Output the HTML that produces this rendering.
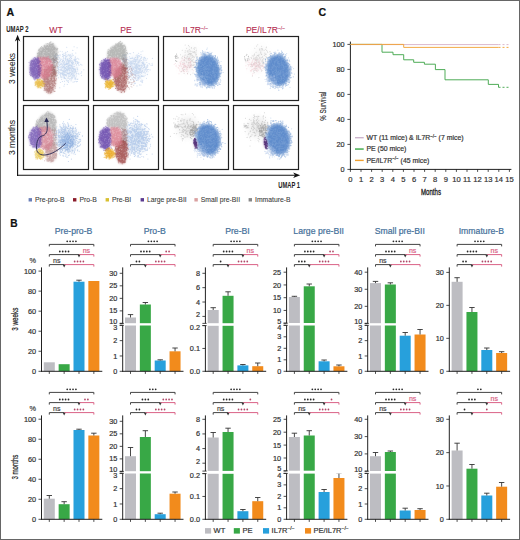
<!DOCTYPE html><html><head><meta charset="utf-8"><style>
html,body{margin:0;padding:0;background:#fff;width:520px;height:540px;overflow:hidden}
svg{display:block}
text{font-family:"Liberation Sans", sans-serif}
</style></head><body>
<svg width="520" height="540" viewBox="0 0 520 540">
<defs>
<filter id="b05" x="-10%" y="-10%" width="120%" height="120%"><feGaussianBlur stdDeviation="0.7"/></filter>
<filter id="b1" x="-50%" y="-50%" width="200%" height="200%"><feGaussianBlur stdDeviation="1.2"/></filter>
<filter id="b2" x="-50%" y="-50%" width="200%" height="200%"><feGaussianBlur stdDeviation="2"/></filter>
<filter id="b3" x="-50%" y="-50%" width="200%" height="200%"><feGaussianBlur stdDeviation="3"/></filter>
</defs>
<rect x="0" y="0" width="520" height="540" fill="#fff"/>

<text x="6.40" y="15.70" font-size="10.6" fill="#111" text-anchor="start" font-weight="bold" stroke="#111" stroke-width="0.2" >A</text>
<text x="10.30" y="227.10" font-size="10.2" fill="#111" text-anchor="start" font-weight="bold" stroke="#111" stroke-width="0.2" >B</text>
<text x="318.60" y="15.90" font-size="10.6" fill="#111" text-anchor="start" font-weight="bold" stroke="#111" stroke-width="0.2" >C</text>
<text x="56.00" y="33.00" font-size="8.6" fill="#b42a4e" text-anchor="middle" font-weight="normal" stroke="#b42a4e" stroke-width="0.08" >WT</text>
<text x="126.00" y="33.00" font-size="8.6" fill="#b42a4e" text-anchor="middle" font-weight="normal" stroke="#b42a4e" stroke-width="0.08" >PE</text>
<text x="195.50" y="33.00" font-size="8.6" fill="#b42a4e" text-anchor="middle" font-weight="normal" stroke="#b42a4e" stroke-width="0.08" >IL7R<tspan font-size="5" dy="-3.2">−/−</tspan></text>
<text x="265.50" y="33.00" font-size="8.6" fill="#b42a4e" text-anchor="middle" font-weight="normal" stroke="#b42a4e" stroke-width="0.08" >PE/IL7R<tspan font-size="5" dy="-3.2">−/−</tspan></text>
<clipPath id="cp00"><rect x="23.5" y="36.5" width="65" height="64"/></clipPath>
<g clip-path="url(#cp00)"><g>
<ellipse cx="68.00" cy="67.50" rx="9.78" ry="12.32" transform="rotate(0 68.00 67.50)" fill="#eef3fa" opacity="0.9" filter="url(#b3)"/>
<path d="M77.1 79.5h0M58.7 67.6h0M57.0 57.2h0M77.4 69.6h0M75.0 79.3h0M72.1 65.0h0M81.6 75.6h0M73.6 75.0h0M77.5 63.5h0M61.2 59.3h0M60.9 77.2h0M60.9 66.9h0M60.2 51.3h0M67.3 73.0h0M69.2 69.2h0M70.4 54.9h0M63.5 57.1h0M55.6 66.3h0M70.7 59.8h0M55.1 62.3h0M74.3 66.5h0M71.1 80.8h0M61.2 64.5h0M63.1 68.1h0M66.2 70.5h0M64.7 64.8h0M68.6 76.1h0M69.8 60.9h0M71.5 62.6h0M69.2 69.1h0M52.5 71.6h0M67.2 73.7h0M71.0 69.7h0M73.4 62.3h0M59.7 72.4h0M76.5 81.8h0M62.6 54.4h0M69.5 73.6h0M73.1 62.9h0M69.9 78.7h0M74.7 69.3h0M70.2 76.1h0M61.6 79.3h0M59.2 69.7h0M72.8 63.5h0M65.8 59.3h0M64.7 74.1h0M69.4 67.7h0M68.4 68.4h0M71.0 67.4h0M56.5 71.3h0M65.7 60.1h0M80.9 73.3h0M75.7 69.6h0M71.9 60.4h0M63.1 63.7h0M65.7 74.9h0M65.4 74.7h0M76.2 74.0h0M71.9 76.8h0M70.0 67.9h0M70.8 61.8h0M65.5 68.2h0M73.1 74.1h0M67.6 59.4h0M69.3 72.3h0M74.0 70.6h0M60.2 60.5h0M75.1 60.7h0M73.0 68.6h0M72.9 50.5h0M71.7 79.2h0M72.7 71.4h0M74.0 68.4h0M65.6 78.6h0M66.7 56.2h0M62.6 67.8h0M69.8 64.5h0M69.9 79.2h0M64.2 78.5h0M67.3 84.5h0M81.9 65.1h0M77.7 62.8h0M60.4 82.5h0M63.2 70.1h0M65.3 75.4h0M67.9 59.0h0M81.6 71.9h0M72.6 70.1h0M60.4 74.1h0M68.4 82.5h0M75.8 53.0h0M67.4 51.6h0M54.2 62.3h0M66.3 64.0h0M66.3 62.0h0M69.9 55.2h0M77.6 61.5h0M75.9 81.2h0M62.8 60.9h0M69.8 70.4h0M58.0 72.2h0M69.7 58.4h0M75.3 60.3h0M68.3 61.3h0M73.8 69.2h0M63.1 75.1h0M70.3 72.2h0M69.6 67.5h0M74.9 78.6h0M68.4 80.9h0M64.9 72.4h0M75.5 71.3h0M75.3 57.7h0M62.9 60.0h0M71.4 74.2h0M65.4 67.5h0M76.4 73.2h0M63.0 62.3h0M68.6 74.0h0M73.6 69.3h0M71.8 71.8h0M60.6 64.1h0M60.0 55.8h0M62.4 81.5h0M60.0 54.8h0M66.0 70.9h0M68.6 68.3h0M64.6 77.5h0M62.8 72.5h0M72.5 64.0h0M74.7 75.1h0M69.7 68.8h0M67.1 67.0h0M72.2 66.2h0M75.7 61.1h0M64.9 55.3h0M78.1 73.2h0M74.1 46.8h0M63.8 55.6h0M73.9 76.9h0M61.2 69.4h0M75.5 70.5h0M69.2 63.0h0M67.3 63.4h0M71.2 56.2h0M68.4 60.2h0M66.9 80.5h0M68.8 63.3h0M68.0 67.5h0M77.4 81.5h0M60.6 75.2h0M64.9 67.6h0M67.4 71.0h0M64.9 64.4h0M60.4 60.3h0M68.1 69.5h0M65.0 63.8h0M62.0 77.0h0M67.1 55.8h0M64.6 84.2h0M69.1 63.0h0M63.2 71.1h0M64.7 66.1h0M66.5 63.9h0M63.0 66.8h0M67.8 73.2h0M73.1 66.7h0M73.9 72.6h0M65.0 75.0h0M62.3 65.2h0M77.7 69.7h0M71.9 74.7h0M69.6 61.3h0M69.1 61.2h0M66.0 64.5h0M72.2 63.7h0M68.3 54.9h0M64.5 81.2h0M64.3 61.5h0M67.3 68.8h0M68.0 63.5h0M62.3 73.9h0M72.1 74.9h0M74.7 59.2h0M66.9 63.8h0M67.8 58.9h0M58.8 62.9h0M69.9 56.1h0M61.8 70.2h0M56.8 61.3h0M71.4 69.3h0M66.3 66.7h0M71.9 56.0h0M65.8 57.9h0M72.8 50.2h0M57.2 67.8h0M74.3 60.2h0M76.3 76.0h0M74.8 59.0h0M65.5 70.8h0M71.5 70.3h0M60.8 59.0h0M64.5 68.8h0M64.3 69.7h0M68.8 66.2h0M75.7 78.9h0M59.5 57.9h0M57.5 75.5h0M59.6 65.6h0M59.9 67.5h0M74.0 76.0h0M61.8 66.9h0M75.3 56.7h0M72.3 77.5h0M77.3 68.3h0M73.8 70.8h0M54.6 71.9h0M71.2 66.9h0M74.4 69.8h0M72.6 67.2h0M58.4 64.7h0M77.8 79.1h0M60.3 73.0h0M69.9 76.3h0M66.0 56.8h0M59.8 64.7h0M66.4 76.0h0M67.9 70.4h0M72.1 61.8h0M69.0 54.9h0M58.3 72.7h0M62.9 71.8h0M66.7 47.2h0M80.8 64.5h0M74.0 71.7h0M70.7 72.7h0M63.7 73.9h0M62.2 67.1h0M78.9 74.1h0M73.9 70.1h0M69.8 79.0h0M58.6 77.8h0M67.6 60.2h0M62.2 61.4h0M73.7 68.8h0M70.9 68.6h0M65.4 68.5h0M71.5 63.0h0M75.5 61.9h0M63.2 74.3h0M76.1 58.8h0M71.9 65.2h0M60.8 73.5h0M67.9 64.8h0M63.5 73.9h0M71.3 73.5h0M61.4 63.3h0M71.5 70.2h0M62.7 56.4h0M72.2 53.9h0M76.5 61.2h0M58.7 71.5h0M71.7 71.7h0M75.6 60.7h0M74.0 59.5h0M80.7 64.2h0M58.7 59.6h0M67.7 66.9h0M63.1 73.8h0M70.7 75.0h0M64.0 86.1h0M65.8 52.4h0M59.8 87.7h0M65.2 58.4h0M57.3 67.3h0M54.8 73.0h0M71.3 66.6h0M74.5 81.7h0M58.1 68.5h0M70.4 72.3h0M75.7 63.5h0M64.4 67.8h0M64.0 76.4h0M72.6 77.9h0M66.5 66.2h0M62.6 72.5h0M74.1 75.5h0M73.9 69.0h0M65.2 70.3h0M59.8 61.6h0M63.7 66.9h0M70.8 65.0h0M78.8 59.1h0M77.2 62.6h0M70.6 57.5h0M61.3 68.7h0M55.2 65.1h0M64.2 71.1h0M63.9 71.2h0M70.1 68.2h0M68.6 65.0h0M68.1 73.8h0M72.2 68.5h0M58.5 70.1h0M65.9 54.3h0M62.8 70.3h0M61.3 77.2h0M66.3 64.2h0M69.6 70.7h0M71.0 67.8h0M63.3 63.6h0M63.6 66.4h0M69.5 65.4h0M63.2 71.1h0M69.4 60.1h0M83.8 69.8h0M75.0 69.0h0M58.8 59.3h0M69.0 76.1h0M75.1 71.6h0M75.8 77.7h0M64.6 71.8h0M64.4 74.9h0M62.9 64.8h0M69.6 65.8h0M66.4 69.8h0M73.1 82.1h0M59.5 61.8h0M77.0 67.7h0M66.3 69.4h0M64.4 77.5h0M63.8 72.0h0M77.0 71.3h0M64.3 65.8h0M58.5 55.6h0M68.0 61.2h0M78.5 63.9h0M65.3 72.0h0M63.4 58.8h0M62.4 70.2h0M69.2 74.1h0M74.5 60.7h0M67.9 60.3h0M78.8 62.4h0M71.5 58.4h0M70.3 65.8h0M72.6 73.5h0M73.2 68.2h0M68.4 69.2h0M61.2 72.8h0M64.1 55.5h0M65.9 68.6h0M61.8 66.8h0M68.1 65.2h0M75.9 72.2h0M66.4 63.4h0M74.0 69.9h0M68.1 78.4h0M66.9 60.0h0M66.9 64.5h0M60.0 74.3h0M66.3 74.9h0M73.1 55.4h0M67.2 73.6h0M73.3 68.8h0M68.1 77.7h0M72.3 68.2h0M70.2 60.7h0M72.2 72.6h0M79.0 65.2h0M70.1 78.6h0M67.3 69.8h0M64.4 64.8h0M64.6 78.5h0M60.7 76.3h0M73.9 73.2h0M62.2 73.6h0M75.3 69.0h0M68.7 73.2h0M75.5 61.4h0M67.5 70.7h0M66.7 80.1h0M63.2 54.7h0M72.0 62.9h0M66.8 72.4h0M62.7 74.0h0M65.6 53.8h0M69.0 62.6h0M59.2 57.8h0M71.8 77.5h0M71.7 77.4h0M68.2 62.1h0M66.7 61.7h0M77.7 58.2h0M68.3 65.7h0M58.7 73.8h0M74.8 77.0h0M75.8 59.4h0M64.0 53.2h0M59.9 62.2h0M62.3 51.7h0M66.6 69.0h0M63.9 75.2h0M63.1 64.3h0M58.3 68.8h0M65.6 56.0h0M73.9 64.3h0M68.3 67.0h0M62.7 73.2h0M62.4 74.8h0M71.4 65.4h0M61.7 73.7h0M70.7 57.2h0M74.4 72.8h0M60.9 70.3h0M61.8 66.7h0M70.1 60.8h0M72.6 61.8h0M72.7 75.9h0M64.8 63.8h0M64.2 62.4h0M71.5 73.8h0M77.1 47.8h0M58.2 63.2h0M76.5 64.9h0M71.7 78.6h0M52.6 64.4h0M65.0 75.1h0M63.5 60.5h0M65.4 64.8h0M58.6 66.6h0M63.9 77.6h0M53.0 67.0h0M65.4 70.9h0M76.2 59.0h0M60.3 69.9h0M58.7 69.3h0M67.4 81.1h0M68.0 69.8h0" stroke="#a0bce4" stroke-opacity="0.5" stroke-width="1.1" stroke-linecap="round" fill="none"/>
<path d="M56.7 61.6h0M54.7 57.7h0M53.4 59.4h0M55.9 58.8h0M56.9 58.0h0M57.1 57.0h0M54.9 61.0h0M56.4 53.7h0M53.8 59.2h0M54.2 55.6h0M54.2 56.2h0M54.8 55.5h0M53.0 60.0h0M55.8 60.7h0M55.3 57.0h0M52.9 60.2h0M52.7 60.2h0M55.1 54.6h0M54.6 56.8h0M56.1 58.3h0M54.6 59.2h0M54.3 56.9h0M55.4 58.9h0M56.2 60.6h0M54.9 62.5h0M54.8 60.6h0M52.7 60.1h0M55.2 61.0h0M55.8 57.8h0M53.2 60.3h0M53.6 61.0h0M56.9 55.8h0M55.3 56.4h0M55.3 54.2h0M57.7 55.3h0M55.0 58.1h0M54.7 59.9h0M56.8 57.6h0M56.8 59.1h0M56.1 56.8h0M54.0 59.6h0M54.1 61.5h0M53.0 59.1h0M53.2 61.1h0M55.3 57.9h0M55.5 56.0h0M55.0 57.0h0M55.2 62.3h0M53.2 60.0h0M55.6 59.2h0" stroke="#8db0dc" stroke-opacity="0.5" stroke-width="1.1" stroke-linecap="round" fill="none"/>
<polygon points="52.2,42.5 57.3,48.5 57.1,60.5 51.5,61.0 43.5,58.5 37.0,58.5 37.3,53.5 39.5,49.0 45.5,45.0" fill="#adadad" opacity="0.61" filter="url(#b1)"/>
<path d="M49.5 54.8h0M52.3 45.0h0M49.6 42.7h0M48.7 49.6h0M49.7 54.5h0M39.3 48.9h0M46.1 55.3h0M43.3 51.2h0M51.8 46.8h0M47.2 52.4h0M52.1 52.5h0M51.6 44.9h0M55.5 53.9h0M53.8 45.0h0M50.5 52.8h0M44.2 45.3h0M46.2 46.7h0M54.9 48.0h0M52.9 53.0h0M39.0 54.1h0M40.8 55.8h0M51.1 50.6h0M55.9 53.7h0M38.0 53.4h0M52.1 46.8h0M50.6 49.7h0M53.2 54.3h0M47.2 53.9h0M44.8 46.2h0M44.9 54.1h0M37.6 57.4h0M53.2 57.1h0M45.9 54.9h0M45.9 47.9h0M54.2 52.9h0M54.3 59.6h0M49.9 48.6h0M52.9 54.4h0M50.2 47.3h0M47.1 52.3h0M49.3 46.5h0M41.2 56.7h0M51.5 51.5h0M41.5 46.6h0M45.6 54.3h0M48.2 56.9h0M49.1 49.3h0M49.5 59.0h0M51.7 59.3h0M49.9 57.7h0M49.6 45.4h0M49.7 57.1h0M56.5 54.1h0M43.6 58.3h0M46.3 49.0h0M54.6 52.1h0M50.1 45.2h0M44.3 49.5h0M47.1 57.0h0M40.2 51.0h0M55.9 48.0h0M50.7 51.5h0M48.3 50.4h0M48.2 54.8h0M49.4 55.3h0M50.0 56.9h0M45.6 51.7h0M39.1 56.0h0M47.8 56.4h0M50.2 56.5h0M41.2 49.0h0M53.2 43.6h0M39.4 55.1h0M40.3 53.4h0M53.6 54.7h0M44.9 45.2h0M53.7 51.9h0M51.6 53.5h0M40.9 48.1h0M54.8 59.6h0M43.4 48.4h0M45.5 51.0h0M39.3 53.1h0M55.8 55.4h0M48.6 54.6h0M49.5 46.6h0M50.8 55.0h0M54.4 60.2h0M45.3 57.5h0M45.8 52.5h0M53.6 46.9h0M37.5 56.1h0M45.5 47.0h0M44.6 53.9h0M47.3 57.3h0M49.2 46.6h0M40.6 47.6h0M54.5 47.6h0M43.3 55.9h0M50.2 53.5h0M40.1 53.8h0M55.9 54.0h0M41.5 52.3h0M38.4 50.5h0M43.6 56.9h0M57.7 48.3h0M49.3 55.5h0M44.9 45.7h0M46.2 58.7h0M46.1 48.1h0M46.6 52.1h0M57.1 55.2h0M45.3 48.8h0M51.2 54.1h0M50.7 46.3h0M41.0 55.6h0M47.3 46.6h0M39.3 51.2h0M55.6 56.3h0M58.1 56.9h0M51.4 59.9h0M45.9 48.5h0M51.2 50.6h0M44.8 53.8h0M52.4 55.3h0M52.1 52.6h0M50.3 44.3h0M55.2 48.7h0M50.1 51.7h0M53.6 46.0h0M51.9 58.7h0M46.5 49.5h0M46.9 46.2h0M53.0 54.5h0M51.0 49.8h0M38.8 52.2h0M54.2 57.2h0M41.5 52.9h0M40.0 51.2h0M42.7 50.1h0M42.2 50.4h0M38.2 55.9h0M52.1 46.9h0M43.8 49.5h0M44.4 51.8h0M42.9 50.1h0M50.7 52.0h0M48.2 53.9h0M43.1 55.5h0M48.6 48.7h0M46.7 46.6h0M37.2 56.7h0M46.8 45.0h0M53.6 46.1h0M53.7 54.5h0M47.3 56.3h0M49.4 45.6h0M52.9 47.7h0M57.3 50.0h0M44.2 46.8h0M52.7 55.0h0M41.9 53.8h0M38.7 49.9h0M54.9 56.0h0M54.7 51.7h0M40.6 57.0h0M50.3 42.4h0M58.0 52.1h0M52.6 46.2h0M46.1 43.7h0M55.6 54.3h0M48.6 49.7h0M52.0 48.7h0M52.3 55.6h0M53.8 58.7h0M54.8 51.9h0M49.1 44.3h0M53.7 55.9h0M45.4 57.4h0M40.0 53.9h0M41.0 56.9h0M53.0 54.4h0M37.4 53.3h0M55.5 58.0h0M52.3 45.0h0M41.5 48.0h0M48.2 49.7h0M55.4 58.3h0M40.1 57.7h0M45.8 59.9h0M50.3 48.8h0M56.6 49.7h0M56.1 59.0h0M55.2 49.0h0M50.7 59.6h0M46.5 52.0h0M44.4 49.7h0M38.0 56.4h0M44.7 49.2h0M47.9 48.2h0M47.6 45.2h0M54.9 49.9h0M46.8 58.3h0M51.8 54.1h0M44.9 47.3h0M47.8 51.1h0M48.8 50.2h0M53.0 55.2h0M46.8 48.6h0M48.5 48.4h0M53.8 49.5h0M50.9 41.8h0M49.8 57.8h0M50.5 50.2h0M45.3 50.7h0M53.7 54.4h0M53.5 57.7h0M49.7 55.6h0M47.1 48.3h0M43.3 48.3h0M41.7 51.5h0M43.2 57.3h0M42.7 52.7h0M46.5 58.5h0M45.7 53.0h0M38.7 49.7h0M48.2 50.9h0M45.1 51.5h0M55.3 55.0h0M49.9 43.4h0M56.6 57.8h0M54.7 52.8h0M46.1 47.3h0M40.5 48.5h0M40.0 56.6h0M51.7 47.3h0M40.3 54.1h0M50.5 46.7h0M42.7 47.7h0M46.9 49.6h0M52.4 44.5h0M43.0 56.3h0M41.5 51.3h0M43.1 49.0h0M56.7 53.0h0M47.6 45.4h0M43.7 50.9h0M40.4 53.0h0M39.5 53.2h0M44.6 49.7h0M49.1 55.4h0M46.3 58.3h0M53.8 59.9h0M56.2 53.2h0M54.0 55.1h0M52.4 54.6h0M53.7 52.1h0M53.6 55.8h0M52.7 49.5h0M54.0 48.1h0M39.4 51.0h0M47.9 55.3h0M48.7 47.3h0M52.8 50.3h0M46.0 53.7h0M42.0 56.3h0M51.6 60.2h0M38.4 53.1h0M45.3 47.2h0M52.6 53.6h0M45.2 56.1h0M48.2 43.8h0M49.5 56.1h0M50.4 58.0h0M57.2 54.9h0M48.7 54.9h0M41.0 57.9h0M42.1 51.3h0M41.2 55.1h0M40.1 54.5h0M49.4 55.3h0M53.9 57.4h0M49.6 51.2h0M54.7 48.8h0M48.2 46.5h0M53.5 50.0h0M44.5 58.2h0M53.7 53.2h0M49.8 50.1h0M56.3 58.0h0M42.8 50.3h0M43.2 53.3h0M52.3 46.9h0M54.1 56.9h0M57.7 54.0h0M52.8 56.0h0M42.7 50.3h0M57.2 48.5h0M39.3 52.5h0M45.7 49.0h0M57.4 49.5h0M41.4 54.0h0M47.0 45.5h0M52.7 45.0h0M51.9 56.9h0M50.6 56.1h0M52.8 50.1h0M45.3 48.1h0M48.6 51.6h0M47.3 49.7h0M39.3 49.7h0M47.6 59.2h0M51.5 48.2h0M53.8 45.1h0M54.0 53.6h0M47.6 59.3h0M54.5 47.1h0M47.2 52.1h0M50.8 48.8h0M47.8 49.1h0M43.4 58.3h0M49.8 55.4h0M37.6 54.0h0M51.9 59.9h0M40.4 51.6h0M56.6 55.1h0M51.2 44.6h0M39.6 54.7h0M46.4 56.3h0M53.0 61.3h0M46.8 53.7h0M53.1 51.7h0M41.0 56.6h0M52.8 51.1h0M44.6 53.3h0M39.8 51.2h0M56.2 51.0h0M51.5 44.4h0M47.4 53.7h0M57.0 54.3h0M49.1 58.8h0M57.2 59.1h0M46.8 54.8h0M53.5 51.6h0M45.8 50.2h0M48.9 59.6h0M48.3 53.2h0M54.1 49.3h0M49.9 58.2h0M56.7 49.2h0M40.4 57.8h0M50.2 57.0h0M49.7 48.6h0M42.7 58.3h0M50.1 61.1h0M56.5 49.4h0M55.1 55.5h0M49.1 53.6h0M53.3 48.8h0M49.6 54.0h0M54.5 51.9h0M50.1 52.3h0M49.1 54.4h0M56.4 57.2h0M48.9 58.9h0M43.0 57.9h0M46.2 57.9h0M48.6 49.2h0M52.6 54.5h0M50.7 46.8h0M40.5 58.8h0M49.2 57.3h0M53.8 57.2h0M52.3 43.8h0M55.8 55.5h0M42.5 51.8h0M39.7 54.9h0M48.4 47.1h0M38.6 56.7h0M53.7 57.3h0M41.4 58.4h0M40.0 49.9h0M51.7 54.2h0M37.7 55.2h0M46.1 57.5h0M41.3 51.7h0M52.8 53.6h0M38.6 54.9h0M42.2 54.5h0M51.4 56.3h0M47.0 46.8h0M44.8 57.0h0M51.8 47.5h0M46.3 54.5h0M52.8 53.2h0M48.0 58.7h0M48.1 54.0h0M53.2 57.9h0M50.0 50.9h0M48.9 51.1h0M51.2 56.8h0M49.8 58.7h0M53.3 43.7h0M47.5 43.5h0M50.5 47.0h0M51.6 59.6h0M44.3 58.4h0M44.0 54.7h0M52.6 50.4h0M51.6 49.6h0M55.0 56.8h0M41.7 52.1h0M49.4 56.0h0M50.0 54.3h0M54.6 52.5h0M49.2 59.4h0M49.4 58.8h0M55.9 57.5h0M42.4 47.9h0M52.0 58.7h0" stroke="#959595" stroke-opacity="0.45" stroke-width="1.1" stroke-linecap="round" fill="none"/>
<polygon points="51.5,58.5 57.1,58.5 56.5,76.5 52.5,76.5" fill="#b0a0a0" opacity="0.50" filter="url(#b1)"/>
<path d="M54.6 69.7h0M55.2 60.7h0M52.2 66.5h0M53.8 67.5h0M52.9 58.7h0M54.1 65.6h0M53.7 67.1h0M54.0 76.4h0M52.9 67.6h0M55.2 67.8h0M54.4 60.2h0M52.2 58.6h0M57.5 66.2h0M53.9 70.0h0M53.8 61.8h0M54.7 60.4h0M54.0 64.4h0M54.8 67.7h0M53.8 63.1h0M54.3 65.8h0M51.4 70.2h0M50.7 62.3h0M56.2 75.9h0M54.6 73.4h0M52.3 64.5h0M55.8 70.6h0M55.8 60.0h0M54.8 70.6h0M54.3 63.0h0M57.1 65.3h0M53.8 69.1h0M54.6 71.6h0M54.9 74.0h0M55.8 66.0h0M56.0 58.8h0M53.4 60.9h0M52.8 68.4h0M55.1 69.7h0M53.6 74.1h0M53.1 68.4h0M53.1 69.5h0M56.2 75.5h0M53.9 73.6h0M53.9 64.9h0M55.5 76.0h0M54.0 72.5h0M56.7 63.4h0M57.8 62.4h0M54.4 66.0h0M53.8 67.6h0M55.2 66.7h0M52.7 69.8h0M55.4 67.1h0M54.2 65.4h0M54.4 70.1h0M54.7 62.5h0M52.5 68.2h0M55.9 71.2h0M57.2 59.0h0M55.3 71.8h0M52.5 70.0h0M54.2 62.6h0M56.2 60.5h0M54.6 73.5h0M53.1 63.8h0M54.3 71.1h0M55.8 72.8h0M55.2 73.7h0M52.1 63.7h0M55.6 72.2h0M53.6 62.4h0M53.8 70.2h0M53.4 58.0h0M53.1 59.9h0M54.4 69.8h0M51.8 59.7h0M53.2 68.3h0M52.8 76.1h0M52.7 62.5h0M53.1 66.3h0M55.9 66.3h0M53.0 71.1h0M54.9 62.2h0M55.0 69.3h0M57.0 61.6h0M53.9 61.2h0M54.7 72.5h0M54.8 74.3h0M52.8 66.4h0M53.5 59.1h0M51.9 75.9h0M57.9 62.1h0M53.0 73.6h0M57.1 62.7h0M51.3 67.4h0M57.3 63.1h0M57.2 70.5h0M54.7 60.3h0M54.4 59.3h0M55.9 66.2h0M54.6 73.9h0M53.8 67.1h0M57.2 62.3h0M54.4 59.1h0M57.0 64.2h0M52.4 69.9h0M52.0 62.4h0M53.7 71.5h0M56.3 65.0h0M55.7 72.6h0" stroke="#857070" stroke-opacity="0.45" stroke-width="1.1" stroke-linecap="round" fill="none"/>
<polygon points="44.5,68.5 52.5,64.5 56.0,72.5 55.5,84.5 53.5,91.5 49.5,94.0 44.5,90.5 42.5,81.5" fill="#b47e7c" opacity="0.58" filter="url(#b1)"/>
<path d="M46.9 81.6h0M54.0 71.0h0M47.0 76.6h0M49.6 67.9h0M53.4 89.9h0M52.4 85.3h0M49.4 87.4h0M54.4 67.1h0M54.4 83.1h0M53.9 69.7h0M53.0 82.0h0M54.7 69.9h0M49.5 67.7h0M47.1 79.7h0M47.9 68.7h0M44.5 76.8h0M46.3 77.8h0M52.0 88.0h0M52.2 80.8h0M49.4 85.6h0M48.5 75.1h0M54.4 73.0h0M55.8 83.2h0M47.8 67.8h0M48.3 92.9h0M44.5 74.0h0M47.4 90.0h0M49.1 89.6h0M45.1 78.3h0M47.6 75.7h0M47.5 78.5h0M51.0 74.1h0M49.8 81.2h0M49.8 66.6h0M50.9 65.3h0M46.1 74.7h0M47.3 77.6h0M51.4 69.2h0M53.6 73.2h0M53.1 87.8h0M49.4 71.4h0M46.6 78.4h0M47.8 77.1h0M48.5 88.2h0M52.7 75.6h0M54.4 72.2h0M48.8 88.0h0M43.4 83.2h0M46.1 70.0h0M55.4 71.7h0M45.6 89.8h0M50.4 87.9h0M47.2 82.1h0M53.2 86.7h0M50.5 86.5h0M51.8 76.7h0M51.5 72.6h0M49.0 76.6h0M47.9 79.6h0M47.4 73.7h0M46.5 72.3h0M47.4 82.4h0M50.0 86.5h0M44.7 85.7h0M52.0 90.6h0M46.7 92.1h0M48.3 90.6h0M46.4 76.5h0M53.8 74.3h0M49.1 91.8h0M50.5 84.2h0M54.5 81.1h0M50.1 66.2h0M56.0 80.7h0M48.8 89.2h0M54.5 82.1h0M50.0 74.8h0M48.3 70.2h0M43.9 83.6h0M47.2 74.3h0M46.1 81.8h0M43.7 81.1h0M47.0 77.8h0M50.9 68.8h0M48.6 83.5h0M52.2 89.0h0M55.0 80.6h0M51.9 87.9h0M50.6 66.1h0M49.0 71.3h0M51.1 72.9h0M51.4 78.1h0M46.6 78.1h0M48.7 88.1h0M52.9 84.8h0M45.1 83.9h0M53.0 69.5h0M45.2 86.6h0M48.1 86.5h0M46.2 85.5h0M56.5 78.9h0M44.1 78.4h0M53.6 67.3h0M49.9 89.9h0M51.9 78.0h0M48.4 72.6h0M48.1 77.6h0M46.3 74.5h0M50.0 83.0h0M51.6 75.3h0M44.7 73.7h0M53.7 74.8h0M52.9 85.2h0M45.7 84.0h0M50.0 71.0h0M44.7 84.6h0M51.7 92.1h0M53.3 77.7h0M50.2 88.9h0M46.5 84.9h0M51.5 79.9h0M48.9 84.2h0M48.3 66.4h0M45.0 81.7h0M54.1 85.3h0M55.4 83.9h0M50.8 69.6h0M47.7 81.3h0M54.1 91.4h0M51.7 83.2h0M52.5 73.3h0M48.4 83.1h0M45.0 82.8h0M49.5 68.0h0M46.7 83.7h0M53.1 72.7h0M54.8 81.0h0M53.8 84.9h0M51.6 65.9h0M46.4 90.1h0M50.2 81.1h0M46.1 82.1h0M55.6 73.9h0M46.6 85.5h0M49.9 91.0h0M44.8 80.5h0M46.6 81.3h0M51.4 92.3h0M49.3 90.5h0M52.2 81.1h0M47.7 78.9h0M52.3 75.5h0M54.6 78.9h0M50.3 66.2h0M48.1 79.0h0M43.5 82.0h0M49.4 88.3h0M54.8 67.2h0M46.1 71.0h0M51.7 78.5h0M51.0 86.9h0M47.0 79.1h0M51.0 91.0h0M45.1 81.5h0M47.2 91.0h0M52.6 75.9h0M42.7 81.9h0M42.9 83.8h0M49.1 71.5h0M55.9 72.9h0M53.5 71.9h0M48.0 81.7h0M51.5 68.0h0M42.8 81.4h0M48.6 79.2h0M42.8 78.2h0M49.2 87.4h0M51.4 75.6h0M46.5 74.2h0M47.1 82.9h0M51.3 82.7h0M49.3 85.1h0M49.1 67.8h0M48.8 82.0h0M47.8 78.3h0M51.5 79.3h0M53.7 65.8h0M46.3 69.3h0M47.9 83.6h0M52.2 89.4h0M52.9 81.1h0M54.2 79.9h0M47.3 90.3h0M46.5 79.1h0M43.8 69.8h0M51.0 76.4h0M54.4 77.1h0M54.3 81.6h0M45.5 84.2h0M43.1 75.1h0M52.0 66.7h0M47.7 89.0h0M52.0 69.2h0M52.8 67.6h0M44.9 85.6h0M47.6 69.6h0M47.8 82.1h0M51.7 83.5h0M55.4 74.4h0M53.4 80.9h0M51.6 76.7h0M50.9 87.6h0M52.1 70.5h0M46.5 70.2h0M53.1 75.7h0M46.2 89.3h0M50.6 92.9h0M44.1 71.2h0M52.6 70.6h0M54.4 73.9h0M44.2 81.5h0M51.5 88.6h0M51.1 79.2h0M46.9 84.5h0M54.7 82.5h0M52.8 75.7h0M45.3 79.7h0M52.6 72.6h0M49.2 72.5h0M45.0 81.1h0M45.3 75.0h0M46.2 74.9h0M53.1 68.9h0M44.2 90.5h0M50.7 80.5h0M55.2 88.1h0M49.8 82.0h0M52.4 65.4h0M48.4 69.6h0M55.3 75.3h0M49.9 69.2h0M46.1 74.0h0M47.6 84.6h0M47.3 87.2h0M45.3 71.5h0M54.9 74.9h0M54.7 85.5h0M48.0 72.3h0M54.5 78.3h0M46.1 76.6h0M50.2 83.0h0M48.8 75.0h0M49.6 75.8h0M44.8 88.0h0M49.9 69.4h0M49.6 69.9h0M51.5 72.8h0M52.1 84.0h0M48.9 80.4h0M47.1 81.2h0M44.6 86.6h0M47.3 86.3h0M50.2 70.7h0M51.5 74.1h0M54.4 70.8h0M55.1 86.5h0M55.6 73.9h0M44.5 89.1h0M47.0 82.1h0M54.4 71.5h0M49.5 71.6h0M49.8 84.2h0M46.0 89.1h0M48.2 76.0h0M49.8 80.8h0M46.4 76.7h0M43.6 76.8h0M52.3 83.3h0M49.4 67.2h0M44.2 81.7h0M44.6 88.6h0M46.5 88.7h0M48.3 68.3h0M45.1 83.9h0M48.9 84.8h0M53.0 74.5h0M50.2 86.4h0M48.3 82.6h0M50.8 92.4h0M56.4 73.0h0M44.3 79.6h0M47.1 80.7h0M50.5 73.8h0M47.9 88.5h0M53.9 70.2h0M51.0 79.9h0M45.6 84.5h0M50.0 89.3h0M47.3 72.9h0M46.3 86.1h0M47.7 90.9h0M44.5 72.1h0M43.6 79.1h0M47.5 77.8h0M50.1 93.0h0M49.1 88.7h0M46.5 70.0h0M48.4 91.1h0M48.1 76.0h0M45.2 78.9h0M50.2 66.4h0M47.2 78.0h0M51.7 78.6h0M47.6 89.6h0M53.8 78.3h0M49.4 85.7h0M52.0 69.7h0M47.2 82.4h0M43.0 76.2h0M47.4 72.6h0M45.7 76.9h0M47.8 74.3h0M44.3 77.9h0M48.2 81.2h0M55.3 80.1h0M50.4 81.0h0M48.2 91.4h0M55.0 91.3h0M52.9 75.5h0M48.1 86.3h0M44.6 69.4h0M53.5 69.3h0M44.4 84.1h0M47.1 75.3h0M47.9 79.5h0M44.9 71.4h0M50.7 66.1h0M50.4 70.8h0M49.4 83.9h0M52.1 66.3h0M49.4 68.3h0M43.5 75.1h0M43.5 75.5h0M54.1 80.8h0M53.2 86.7h0M44.7 83.6h0M46.6 74.3h0M54.2 83.4h0M50.4 78.2h0M51.9 72.3h0M49.2 80.7h0M45.0 84.8h0M54.6 79.7h0M51.2 70.8h0M51.8 64.7h0M52.4 87.9h0M53.3 68.2h0M45.4 77.0h0M48.0 68.7h0M44.6 74.4h0M47.9 74.0h0M48.3 89.0h0M54.8 68.0h0M47.9 82.0h0M46.5 69.2h0M51.1 67.3h0M51.0 74.2h0M51.9 81.4h0M54.3 69.5h0M51.4 78.1h0M46.4 71.8h0M49.9 82.1h0M51.4 70.6h0M54.1 72.7h0M46.1 70.4h0M48.0 82.3h0M53.7 73.0h0M45.6 90.3h0M52.3 87.2h0M48.0 92.8h0" stroke="#9a5555" stroke-opacity="0.50" stroke-width="1.1" stroke-linecap="round" fill="none"/>
<polygon points="38.0,57.5 47.5,57.0 51.5,60.5 52.0,68.5 49.5,77.5 42.5,79.0 38.5,75.5" fill="#d98294" opacity="0.65" filter="url(#b1)"/>
<path d="M48.5 73.5h0M46.0 63.8h0M38.5 65.9h0M39.7 73.2h0M45.2 64.3h0M42.8 58.1h0M46.0 76.2h0M47.4 58.5h0M46.3 63.1h0M39.2 75.2h0M41.5 73.4h0M49.5 59.3h0M49.3 70.8h0M39.7 75.3h0M47.2 78.9h0M50.7 69.8h0M44.6 64.8h0M44.1 57.4h0M39.8 60.5h0M42.6 62.3h0M40.6 58.1h0M46.0 77.7h0M40.0 69.2h0M37.6 67.4h0M50.3 64.9h0M46.1 69.5h0M46.5 60.5h0M46.5 74.4h0M39.0 65.1h0M38.4 74.6h0M42.0 59.0h0M44.9 63.9h0M44.4 75.1h0M48.2 73.7h0M46.0 70.7h0M45.2 69.0h0M46.7 70.2h0M39.2 64.4h0M44.6 60.1h0M43.2 65.6h0M43.9 77.5h0M40.8 60.8h0M48.3 76.1h0M41.4 73.9h0M39.4 61.5h0M48.3 58.1h0M50.8 68.9h0M40.4 62.0h0M44.9 68.8h0M52.3 64.8h0M40.8 68.2h0M42.4 71.7h0M51.2 72.5h0M47.9 61.0h0M46.8 62.8h0M48.3 61.1h0M38.8 70.4h0M43.9 77.2h0M40.6 67.3h0M46.9 57.6h0M46.2 66.3h0M45.6 63.9h0M48.3 65.9h0M45.5 79.1h0M40.9 73.3h0M40.1 59.2h0M43.0 70.1h0M50.5 70.3h0M42.0 66.0h0M46.2 66.3h0M41.7 75.1h0M41.5 59.8h0M45.0 77.4h0M51.5 65.6h0M41.5 72.3h0M43.9 61.9h0M38.8 69.4h0M42.1 68.5h0M40.3 61.0h0M45.3 65.0h0M51.4 68.6h0M47.5 61.2h0M47.2 62.5h0M43.9 65.8h0M49.9 59.8h0M47.4 63.6h0M52.3 65.9h0M39.4 61.6h0M42.9 61.6h0M45.8 67.7h0M41.8 72.3h0M43.9 59.1h0M43.0 62.5h0M50.0 63.2h0M41.6 69.9h0M49.2 59.5h0M40.7 61.4h0M46.4 76.3h0M46.2 69.5h0M41.1 69.8h0M46.5 60.0h0M45.7 59.4h0M47.4 58.5h0M41.6 65.1h0M41.2 63.2h0M41.7 77.6h0M38.7 58.8h0M46.8 58.2h0M38.9 67.1h0M43.5 66.0h0M52.3 64.3h0M45.4 79.0h0M44.7 73.7h0M42.7 61.2h0M45.3 58.6h0M49.0 75.6h0M38.6 74.0h0M44.5 58.2h0M40.2 75.6h0M39.8 68.4h0M43.1 73.3h0M41.2 73.6h0M40.9 64.1h0M44.3 75.8h0M45.3 58.6h0M41.2 71.1h0M46.8 67.0h0M42.3 72.6h0M38.6 72.0h0M47.0 64.4h0M42.7 59.8h0M47.6 62.2h0M49.0 66.7h0M44.7 71.0h0M52.7 64.6h0M39.7 71.6h0M40.2 63.6h0M47.3 58.6h0M40.5 73.7h0M46.4 61.3h0M48.5 74.8h0M46.1 61.2h0M43.2 75.9h0M49.9 60.5h0M48.2 67.9h0M47.5 71.8h0M41.1 61.8h0M41.8 62.1h0M47.3 61.4h0M47.5 58.4h0M41.1 78.0h0M45.7 61.4h0M42.0 69.9h0M50.0 61.0h0M46.0 63.3h0M42.7 76.9h0M50.0 62.0h0M43.6 59.2h0M48.2 75.2h0M41.9 67.8h0M44.5 66.7h0M44.2 77.0h0M41.1 64.7h0M46.3 73.9h0M46.9 66.7h0M46.1 66.8h0M44.5 72.2h0M48.1 66.6h0M40.1 57.3h0M37.9 62.7h0M40.1 76.3h0M47.2 63.6h0M46.2 70.3h0M41.8 70.4h0M47.3 74.7h0M43.6 65.3h0M41.7 72.0h0M48.3 65.9h0M42.6 74.9h0M46.7 57.7h0M39.9 65.1h0M40.8 72.0h0M40.7 62.3h0M47.7 67.5h0M48.8 74.3h0M44.7 72.4h0M43.9 64.5h0M42.3 75.7h0M42.9 74.7h0M50.0 74.5h0M43.8 62.2h0M41.8 66.7h0M41.0 70.5h0M50.7 61.6h0M44.1 67.0h0M48.7 65.0h0M45.8 70.1h0M47.4 63.0h0M45.9 77.5h0M45.9 67.0h0M51.8 69.1h0M45.3 58.2h0M45.6 62.5h0M49.0 61.4h0M45.1 66.7h0M42.9 58.8h0M46.7 63.7h0M44.6 75.8h0M39.5 68.4h0M45.3 77.0h0M43.4 64.9h0M44.4 70.4h0M49.9 74.6h0M52.2 64.7h0M38.4 66.3h0M50.3 68.7h0M51.7 64.7h0M44.5 73.1h0M43.4 62.0h0M44.8 58.0h0M39.8 59.3h0M47.2 60.4h0M42.1 68.5h0M38.8 74.9h0M44.5 66.4h0M50.6 60.1h0M38.3 58.0h0M44.9 74.4h0M50.4 64.9h0M40.3 71.5h0M41.3 74.5h0M49.2 75.6h0M38.5 57.6h0M45.2 71.8h0M48.5 68.8h0M47.2 65.4h0M49.6 60.2h0M46.6 60.5h0M38.3 73.6h0M41.6 62.9h0M51.2 70.4h0M40.3 68.8h0M43.2 73.1h0M42.3 72.1h0M48.7 66.1h0M49.0 67.8h0M39.8 61.8h0M38.2 73.5h0M44.7 69.8h0M40.1 70.2h0M43.4 73.6h0M48.3 72.1h0M45.0 67.1h0M43.2 75.3h0M43.1 74.0h0M49.0 59.0h0M39.9 75.2h0M45.1 69.1h0M48.2 68.7h0M41.8 77.1h0M48.9 73.9h0M48.0 58.4h0M39.4 75.9h0M38.0 60.1h0M38.3 68.7h0M46.0 62.0h0M38.7 72.0h0M49.3 63.9h0M46.1 58.8h0M42.3 74.2h0M45.3 62.0h0M43.3 57.8h0M45.7 59.1h0M50.1 67.4h0M46.2 74.8h0M37.5 62.6h0M49.8 64.3h0M43.2 62.6h0M41.9 73.0h0M48.9 61.1h0M41.9 61.2h0M41.8 72.2h0M47.6 69.9h0M46.5 60.1h0M40.3 75.3h0M40.4 75.9h0M42.5 63.3h0M40.4 63.7h0M41.9 62.3h0M42.9 69.4h0M42.2 66.8h0M47.7 63.0h0M39.5 63.4h0M41.6 67.7h0M42.9 64.9h0M38.5 58.9h0M51.2 72.3h0M44.5 76.5h0M50.5 70.3h0M41.0 69.8h0M45.0 72.6h0M46.7 65.6h0M41.7 74.6h0M46.9 59.2h0M47.0 69.5h0M49.2 59.9h0M42.3 57.7h0M44.6 66.0h0M45.3 75.2h0M45.3 64.5h0M45.1 61.7h0M46.0 72.7h0M38.3 73.1h0M41.1 62.4h0M42.3 59.9h0M50.8 66.8h0M51.4 61.6h0M48.4 56.5h0M49.1 69.1h0M46.9 61.8h0" stroke="#d47488" stroke-opacity="0.54" stroke-width="1.1" stroke-linecap="round" fill="none"/>
<polygon points="38.5,57.5 40.0,62.5 40.5,72.5 39.5,78.5 35.5,79.0 31.0,75.5 29.5,68.5 30.5,61.5 34.0,58.0" fill="#7656b6" opacity="0.65" filter="url(#b1)"/>
<path d="M31.2 61.2h0M36.0 71.5h0M37.6 76.8h0M34.3 61.6h0M33.4 61.4h0M41.7 65.6h0M30.0 72.1h0M39.8 69.5h0M33.0 74.3h0M37.6 73.1h0M37.2 63.0h0M38.5 65.3h0M32.6 65.1h0M38.4 61.6h0M30.8 68.6h0M37.4 70.5h0M37.6 74.5h0M34.4 69.0h0M32.6 60.3h0M37.6 73.4h0M34.7 67.2h0M39.6 65.8h0M30.4 67.9h0M38.5 60.7h0M35.5 75.7h0M38.4 60.4h0M31.4 71.3h0M32.9 64.2h0M37.8 67.1h0M35.4 72.7h0M37.4 73.2h0M38.6 61.2h0M30.0 71.6h0M31.3 70.6h0M39.7 69.0h0M35.4 64.2h0M37.7 73.3h0M30.2 69.3h0M34.4 72.5h0M40.3 61.4h0M36.6 65.8h0M36.9 73.3h0M30.0 69.8h0M30.3 64.5h0M38.1 67.7h0M37.6 76.7h0M32.4 71.7h0M37.6 70.8h0M38.2 66.9h0M35.6 62.7h0M39.1 70.1h0M33.2 70.1h0M37.6 79.0h0M39.0 71.4h0M37.9 69.9h0M34.3 65.1h0M32.2 64.9h0M34.1 67.1h0M32.9 60.7h0M37.8 61.7h0M34.1 67.5h0M32.8 74.3h0M34.6 57.8h0M33.5 69.4h0M33.7 75.2h0M36.8 59.9h0M32.4 74.7h0M35.4 64.2h0M39.7 73.7h0M30.4 67.0h0M36.5 70.6h0M36.7 69.1h0M36.5 59.4h0M37.4 66.2h0M36.5 63.3h0M30.0 67.8h0M33.4 70.4h0M35.1 73.3h0M35.5 62.2h0M34.8 74.9h0M35.7 78.9h0M35.8 61.0h0M31.4 75.3h0M37.0 61.8h0M30.2 68.1h0M35.9 78.4h0M34.6 76.0h0M34.3 65.7h0M32.0 60.6h0M39.1 66.6h0M35.2 73.9h0M32.5 69.2h0M34.1 59.8h0M31.0 71.7h0M34.5 70.1h0M34.8 73.9h0M30.7 63.0h0M35.3 67.9h0M34.3 57.7h0M34.4 70.8h0M36.3 66.3h0M33.5 60.8h0M33.2 64.7h0M35.0 77.3h0M37.6 61.6h0M40.8 68.9h0M33.7 62.3h0M38.6 78.0h0M34.5 60.7h0M37.9 57.9h0M34.4 60.2h0M35.8 78.4h0M36.5 64.7h0M39.5 75.4h0M32.6 60.4h0M35.6 76.1h0M31.0 67.4h0M34.4 60.5h0M38.7 74.7h0M31.4 73.9h0M37.0 72.3h0M38.5 63.6h0M36.3 76.9h0M35.8 58.4h0M39.6 72.6h0M30.9 70.3h0M32.9 68.7h0M39.7 71.5h0M34.8 70.5h0M35.0 78.7h0M31.2 74.0h0M31.6 69.2h0M38.2 77.8h0M30.2 63.2h0M37.4 71.9h0M38.5 71.3h0M40.1 65.3h0M32.1 73.6h0M35.9 74.5h0M30.0 72.9h0M37.6 59.3h0M38.6 67.2h0M39.8 72.1h0M40.3 73.4h0M33.2 76.8h0M36.9 75.8h0M33.1 66.9h0M31.5 60.9h0M35.1 57.9h0M32.9 71.4h0M39.7 61.3h0M36.0 66.7h0M35.3 66.5h0M31.4 64.7h0M35.7 67.9h0M35.3 69.1h0M33.6 73.3h0M32.8 76.4h0M35.1 67.7h0M33.8 78.0h0M34.5 63.2h0M40.4 68.4h0M34.7 63.1h0M32.4 61.3h0M33.3 58.9h0M39.7 61.6h0M35.8 61.7h0M32.4 61.5h0M36.6 68.2h0M35.1 62.8h0M31.6 73.4h0M31.2 74.0h0M34.8 79.9h0M37.5 75.2h0M38.5 74.8h0M31.6 62.8h0M32.5 76.6h0M33.2 63.5h0M38.3 72.8h0M36.5 69.6h0M38.7 75.1h0M31.2 60.2h0M35.6 77.7h0M33.4 70.4h0M38.2 59.8h0M30.6 68.0h0M36.7 78.3h0M35.1 59.7h0M37.5 58.5h0M36.4 59.0h0M31.9 75.2h0M34.4 63.1h0M37.6 65.8h0M33.6 67.9h0M31.8 68.1h0M35.4 72.0h0M30.9 64.1h0M37.3 75.6h0M32.1 70.1h0M34.5 71.3h0M32.5 66.8h0M33.6 70.8h0M39.6 75.5h0M32.3 66.7h0M35.1 66.2h0M31.3 62.6h0M38.9 62.6h0M30.4 65.0h0M39.3 60.8h0M32.8 63.6h0M31.8 71.3h0M33.0 71.8h0M33.9 65.1h0M30.4 70.6h0M31.8 62.9h0M33.0 66.8h0M38.7 65.6h0M34.0 72.1h0M31.7 61.9h0M36.8 77.3h0M38.4 72.4h0M36.7 60.7h0M29.6 72.6h0M32.3 65.3h0M29.9 74.3h0M39.3 74.5h0M37.6 60.3h0M36.4 63.0h0M31.0 62.2h0M34.7 70.8h0M39.5 74.4h0M35.7 70.7h0M34.3 61.5h0M32.1 72.7h0M35.4 59.3h0M37.8 62.8h0M39.4 67.8h0M37.7 58.5h0M38.3 62.8h0M39.7 72.8h0M31.1 74.7h0M34.2 60.1h0M33.2 69.7h0M30.5 64.4h0M36.4 66.1h0M32.5 60.3h0M34.3 74.3h0M35.9 64.4h0M37.8 60.8h0M32.3 76.2h0M39.1 60.5h0M30.9 62.5h0M38.9 69.5h0M32.3 72.2h0M39.5 67.9h0M35.0 72.9h0M38.9 76.8h0M38.0 67.8h0M33.4 73.3h0M33.5 61.1h0M34.9 68.6h0M35.7 63.9h0M31.4 63.3h0M36.4 75.7h0M38.6 74.7h0M31.6 73.0h0M31.2 65.6h0M35.7 65.6h0M34.9 64.7h0M36.5 75.7h0M39.2 67.0h0M30.3 68.6h0M33.9 71.0h0M34.6 61.1h0M34.7 66.8h0M36.6 73.7h0M29.1 62.3h0M36.8 63.9h0M32.3 76.4h0M31.6 62.7h0M39.2 67.7h0M38.2 71.6h0M32.9 64.4h0M32.7 76.0h0M34.6 74.3h0M34.5 67.9h0M31.1 73.0h0M35.3 70.8h0M30.1 65.4h0M39.4 62.4h0M38.6 77.5h0M35.6 58.6h0M30.7 65.7h0M36.4 69.2h0M35.0 78.3h0M34.0 72.2h0M37.0 60.1h0M32.6 69.9h0M36.9 75.3h0M39.3 72.4h0M32.4 70.3h0M36.3 66.6h0M30.5 75.6h0M32.9 69.2h0M34.8 63.1h0M31.5 61.8h0M34.0 60.2h0M38.8 61.8h0M33.6 76.8h0M39.0 60.7h0M37.2 78.2h0M31.2 62.9h0M33.6 62.9h0M40.4 64.2h0M33.1 66.6h0M36.4 73.5h0M33.3 75.9h0M38.6 72.1h0M37.1 77.4h0M36.1 71.5h0M31.3 67.0h0M35.7 74.4h0M41.0 70.5h0M33.9 79.0h0M30.9 69.6h0M38.3 74.2h0M38.1 68.9h0M32.0 68.5h0M34.8 65.8h0M34.2 64.0h0M39.2 70.7h0M31.2 73.0h0M38.1 72.4h0M33.9 77.6h0M31.7 60.2h0M33.3 72.3h0M37.8 63.5h0M36.8 72.5h0M37.1 76.9h0M32.6 69.1h0M32.6 72.0h0M33.2 74.5h0M38.9 58.8h0M32.7 68.1h0M32.0 61.7h0M37.0 59.5h0M30.8 63.0h0M30.6 61.3h0M36.6 76.7h0M31.2 68.0h0M36.0 76.3h0M37.0 75.5h0M33.6 75.0h0M36.4 76.7h0M36.7 77.6h0M37.6 60.5h0M30.8 73.8h0M39.0 74.4h0M33.3 71.5h0M36.3 71.3h0M38.4 71.6h0M32.4 75.9h0M33.8 63.7h0M37.7 65.4h0M34.3 60.0h0M34.6 57.8h0M35.4 63.5h0M34.3 68.9h0M33.7 77.5h0M30.2 71.0h0M38.2 74.9h0M39.6 72.8h0M40.9 67.4h0M36.6 60.2h0M36.8 66.4h0M40.5 71.1h0M31.3 69.4h0M36.0 59.5h0M39.5 76.0h0M34.5 66.1h0" stroke="#5a38a0" stroke-opacity="0.45" stroke-width="1.1" stroke-linecap="round" fill="none"/>
<ellipse cx="39.50" cy="83.50" rx="4.00" ry="3.65" transform="rotate(0 39.50 83.50)" fill="#e8bc48" opacity="0.7" filter="url(#b1)"/>
<path d="M38.2 82.7h0M38.8 86.2h0M43.8 83.9h0M40.7 83.2h0M42.2 83.1h0M39.6 84.1h0M36.9 81.8h0M40.3 85.2h0M37.2 84.4h0M37.9 83.6h0M36.2 82.6h0M38.3 85.7h0M43.0 86.0h0M41.4 80.5h0M43.1 82.8h0M37.8 79.6h0M39.0 83.5h0M39.6 84.7h0M39.6 82.2h0M35.1 83.0h0M36.8 81.4h0M41.3 84.5h0M36.0 83.9h0M38.8 81.3h0M39.0 81.8h0M42.1 86.1h0M40.2 87.6h0M36.9 83.1h0M39.1 80.1h0M36.3 81.7h0M44.8 83.3h0M37.0 83.2h0M43.1 83.2h0M39.8 85.1h0M38.0 79.5h0M40.7 85.5h0M41.0 87.9h0M42.6 82.0h0M41.3 81.8h0M43.2 84.7h0M40.7 87.7h0M40.5 85.5h0M41.4 84.6h0M39.5 83.5h0M39.3 83.3h0M38.0 86.5h0M37.0 81.8h0M41.9 83.1h0M39.6 81.6h0M40.2 79.4h0M41.8 84.2h0M37.0 80.9h0M37.8 85.2h0M42.0 85.4h0M38.8 80.0h0M38.9 87.7h0M39.0 85.4h0M38.0 84.5h0M41.8 85.8h0M42.6 82.2h0M41.2 83.8h0M38.1 79.5h0M39.2 82.7h0M38.9 82.1h0M37.6 80.4h0M38.6 83.5h0M38.3 85.4h0M41.5 81.8h0M37.0 83.3h0M40.3 87.5h0M35.4 84.4h0M36.0 84.3h0M40.9 84.7h0M36.7 81.6h0M41.0 82.9h0M39.0 81.6h0M38.9 82.4h0M43.2 86.5h0M39.0 80.4h0M40.9 81.8h0M37.5 80.8h0M39.4 83.5h0M37.1 79.5h0M39.9 85.4h0M41.4 85.5h0M41.4 84.9h0M43.0 85.1h0M42.0 80.5h0M41.6 81.3h0M37.9 84.1h0M37.4 86.3h0M39.0 84.7h0M40.2 84.9h0M37.3 80.9h0M37.1 86.2h0M44.2 85.6h0M37.7 87.7h0M39.2 79.6h0M38.9 86.7h0M39.9 78.7h0M38.5 87.5h0M36.2 82.8h0M36.0 83.9h0M38.1 86.0h0M40.8 82.1h0M41.9 81.4h0M35.7 81.9h0M42.3 86.4h0M35.2 85.4h0M44.1 83.7h0M37.7 83.0h0M37.8 85.7h0M41.0 82.8h0M38.6 85.0h0M41.3 83.8h0M40.4 79.3h0M42.8 81.4h0M35.9 83.1h0M38.6 81.4h0M40.6 83.0h0M38.5 82.8h0M39.7 85.9h0M38.3 82.5h0M40.5 82.6h0M41.3 84.3h0M35.2 82.1h0M39.2 82.6h0M40.7 84.1h0M37.2 82.4h0M41.8 85.4h0" stroke="#e6b430" stroke-opacity="0.6" stroke-width="1.1" stroke-linecap="round" fill="none"/>
</g></g>
<rect x="23.5" y="36.5" width="65" height="64" fill="none" stroke="#222" stroke-width="1.2"/>
<clipPath id="cp01"><rect x="93.5" y="36.5" width="65" height="64"/></clipPath>
<g clip-path="url(#cp01)"><g>
<ellipse cx="136.50" cy="67.50" rx="9.78" ry="11.47" transform="rotate(0 136.50 67.50)" fill="#eef3fa" opacity="0.9" filter="url(#b3)"/>
<path d="M147.4 58.7h0M135.8 78.2h0M138.0 80.2h0M124.7 80.3h0M133.8 59.7h0M142.4 81.6h0M135.2 57.4h0M129.3 67.0h0M125.6 65.4h0M136.6 66.0h0M134.7 82.7h0M136.8 59.9h0M141.6 71.7h0M140.1 65.6h0M145.2 58.4h0M138.2 62.7h0M135.3 83.4h0M127.1 65.5h0M145.1 64.2h0M133.2 60.7h0M152.3 64.9h0M141.2 72.5h0M140.7 72.4h0M146.1 68.6h0M134.0 64.5h0M137.1 66.2h0M136.5 70.7h0M139.1 62.1h0M135.1 68.5h0M134.0 66.5h0M140.7 81.2h0M140.1 68.2h0M129.8 65.8h0M133.5 76.7h0M141.0 67.1h0M138.3 61.8h0M147.7 65.9h0M136.6 73.8h0M138.0 57.7h0M151.0 65.2h0M137.1 70.3h0M136.4 67.6h0M129.2 61.0h0M141.5 56.7h0M140.3 69.0h0M133.4 69.5h0M138.6 71.9h0M131.8 70.8h0M143.7 72.5h0M139.0 65.6h0M138.9 75.6h0M139.4 66.7h0M136.5 64.1h0M149.0 63.5h0M138.1 73.9h0M137.0 71.4h0M127.8 68.0h0M136.4 80.4h0M135.4 62.3h0M142.6 70.5h0M142.6 76.4h0M152.4 58.4h0M136.8 80.4h0M144.7 57.4h0M136.8 66.7h0M136.9 61.3h0M137.8 66.9h0M130.4 64.7h0M148.7 69.5h0M135.7 70.2h0M135.8 68.2h0M135.5 71.2h0M133.3 67.7h0M141.5 60.5h0M135.6 67.6h0M138.3 65.8h0M137.5 67.7h0M141.0 68.3h0M125.6 71.6h0M130.9 66.9h0M137.4 79.1h0M134.2 73.7h0M142.4 63.3h0M142.7 62.2h0M139.5 72.5h0M142.3 65.9h0M132.2 65.0h0M130.7 64.4h0M140.0 70.1h0M140.6 71.7h0M139.9 70.1h0M132.0 84.3h0M133.3 69.4h0M130.2 69.9h0M138.0 67.4h0M140.2 60.8h0M140.1 69.9h0M132.9 69.4h0M137.3 56.6h0M129.8 53.5h0M139.7 84.9h0M131.4 68.1h0M135.2 74.3h0M126.2 65.6h0M142.3 63.6h0M134.7 74.3h0M142.4 71.7h0M136.0 70.1h0M125.2 72.7h0M143.8 62.1h0M135.2 61.8h0M139.0 69.3h0M147.8 65.0h0M130.7 53.8h0M125.6 63.7h0M131.5 65.8h0M140.1 76.2h0M122.9 55.1h0M138.5 69.1h0M144.1 65.0h0M140.2 70.4h0M129.5 69.3h0M138.2 78.5h0M138.0 55.6h0M139.8 56.5h0M128.2 63.7h0M137.0 85.9h0M137.1 67.0h0M139.8 61.8h0M150.1 69.9h0M147.5 74.6h0M124.7 55.2h0M139.9 60.2h0M134.4 63.9h0M136.3 73.6h0M131.8 69.3h0M136.5 64.8h0M141.9 71.0h0M136.5 76.1h0M127.9 77.0h0M142.7 62.1h0M136.8 72.3h0M127.1 63.0h0M138.9 76.3h0M138.0 75.4h0M140.1 74.7h0M129.6 63.1h0M139.1 65.6h0M143.8 64.8h0M134.3 71.9h0M139.8 65.7h0M129.8 82.4h0M135.1 64.1h0M136.5 69.0h0M137.1 73.4h0M145.1 75.3h0M129.6 77.9h0M135.3 72.9h0M147.4 65.0h0M139.1 66.3h0M131.3 75.3h0M128.3 73.1h0M139.3 60.2h0M138.9 79.1h0M135.8 75.1h0M138.9 72.6h0M144.6 65.7h0M142.7 80.2h0M141.4 73.0h0M141.0 69.7h0M139.3 65.5h0M144.4 64.4h0M152.2 65.4h0M128.4 66.5h0M146.0 60.4h0M139.7 72.8h0M124.7 68.5h0M139.5 69.1h0M139.5 77.1h0M146.4 71.6h0M136.4 72.0h0M138.6 71.6h0M139.4 66.8h0M137.1 64.4h0M140.7 77.9h0M128.5 72.0h0M135.7 72.8h0M139.3 70.3h0M135.5 76.7h0M132.1 71.0h0M137.0 66.0h0M135.6 57.5h0M122.5 75.4h0M146.7 69.9h0M144.4 66.5h0M133.4 52.6h0M140.9 54.6h0M136.5 66.7h0M123.6 65.5h0M136.0 63.7h0M138.1 56.7h0M134.7 59.9h0M137.9 65.0h0M136.8 66.0h0M143.7 67.9h0M131.3 62.4h0M138.0 68.2h0M129.8 83.0h0M143.3 59.3h0M132.3 58.4h0M139.1 78.0h0M130.6 58.4h0M122.4 67.6h0M130.3 63.1h0M134.7 72.2h0M138.9 72.4h0M141.6 73.1h0M145.2 73.3h0M144.6 66.9h0M128.2 77.6h0M129.4 75.2h0M135.3 65.6h0M138.3 73.0h0M132.3 63.6h0M135.0 74.2h0M129.8 77.2h0M138.3 55.6h0M135.6 66.6h0M138.9 72.9h0M144.1 69.7h0M142.3 66.2h0M133.8 80.4h0M141.7 57.4h0M144.5 70.0h0M134.8 63.8h0M130.0 58.8h0M132.4 70.6h0M145.9 59.0h0M125.8 66.8h0M141.9 62.5h0M134.2 83.7h0M139.3 72.8h0M147.6 67.1h0M136.3 64.2h0M145.7 70.0h0M132.7 71.6h0M146.5 66.1h0M144.0 76.5h0M133.7 71.7h0M134.4 61.3h0M140.8 58.2h0M136.9 65.9h0M135.5 59.9h0M139.0 65.6h0M142.6 82.6h0M137.3 77.2h0M139.2 69.1h0M132.3 78.2h0M137.1 69.7h0M137.2 58.5h0M131.4 74.4h0M146.5 67.6h0M152.1 63.2h0M137.1 54.8h0M141.6 81.9h0M145.5 68.1h0M141.1 51.7h0M140.3 69.7h0M147.5 70.0h0M143.4 63.1h0M135.6 61.4h0M126.8 67.6h0M145.0 72.5h0M132.4 68.0h0M134.4 77.7h0M129.7 66.8h0M146.7 67.8h0M129.0 60.3h0M134.1 63.3h0M131.6 63.4h0M130.7 61.1h0M130.1 62.1h0M139.0 62.1h0M138.8 64.0h0M133.5 79.7h0M143.9 65.5h0M131.6 58.5h0M143.4 67.6h0M125.2 72.6h0M130.4 61.8h0M138.1 60.0h0M134.4 77.9h0M130.7 73.3h0M139.3 71.6h0M138.0 78.7h0M138.4 61.8h0M133.6 73.5h0M137.2 59.4h0M143.9 63.9h0M144.7 67.4h0M141.9 65.8h0M145.4 69.6h0M136.0 59.8h0M143.1 63.9h0M137.4 63.0h0M133.9 58.2h0M128.9 73.3h0M129.0 73.3h0M135.6 73.0h0M136.1 59.9h0M147.7 69.5h0M139.0 68.3h0M127.9 67.6h0M135.8 75.1h0M132.4 72.0h0M133.1 62.6h0M135.9 72.1h0M127.5 68.4h0M135.0 67.4h0M147.3 74.4h0M144.5 65.9h0M142.8 51.0h0M139.2 70.0h0M133.1 72.0h0M136.2 55.7h0M129.4 56.8h0M140.2 69.3h0M139.9 70.3h0M125.7 64.9h0M146.2 68.6h0M133.1 63.2h0M140.1 59.3h0M144.2 60.1h0M136.9 64.2h0M148.0 71.7h0M137.4 72.7h0M132.5 71.6h0M141.9 65.2h0M138.6 53.2h0M130.7 66.8h0M141.8 80.1h0M131.0 63.8h0M135.0 71.1h0M132.2 73.4h0M149.7 64.0h0M132.0 77.8h0M127.7 70.1h0M134.4 70.1h0M141.0 85.0h0M147.1 69.9h0M136.1 72.0h0M138.5 77.2h0M138.4 77.8h0M136.8 68.3h0M132.2 57.3h0M130.6 72.5h0M131.4 73.3h0M142.6 68.8h0M140.7 68.3h0M144.9 66.2h0M143.8 60.3h0M143.9 58.7h0M132.9 68.2h0M141.0 58.5h0M128.0 54.0h0M141.6 75.5h0M131.2 64.5h0M129.5 63.7h0M135.5 75.6h0M128.0 59.3h0M126.3 59.4h0M139.4 72.9h0M138.2 69.3h0M132.8 62.2h0M137.2 57.4h0M133.3 61.5h0M128.4 62.6h0M132.1 60.9h0M134.4 67.2h0M128.6 75.3h0M146.5 78.3h0M132.5 66.8h0M141.6 67.3h0M135.4 61.0h0M143.0 75.9h0M135.2 65.6h0M137.9 71.8h0M127.0 57.2h0M142.4 65.8h0M146.8 62.5h0M127.2 69.8h0M144.2 71.5h0M131.0 79.9h0M129.7 76.1h0M133.6 68.4h0M134.7 71.5h0M143.9 57.6h0M131.6 61.7h0M137.9 67.3h0M132.5 68.1h0M135.2 78.9h0M134.8 58.9h0M130.4 66.1h0M139.4 55.7h0M141.4 76.4h0M122.7 69.1h0M137.5 67.3h0M138.3 69.1h0M140.6 81.0h0M136.9 76.0h0M130.9 62.8h0M136.4 65.5h0M128.4 64.6h0M133.9 74.8h0M141.2 65.1h0M139.4 69.9h0M134.8 72.6h0M134.8 74.9h0M136.3 70.8h0M142.1 76.4h0" stroke="#a0bce4" stroke-opacity="0.48" stroke-width="1.1" stroke-linecap="round" fill="none"/>
<path d="M128.7 83.4h0M128.7 72.3h0M127.4 74.3h0M131.9 87.0h0M129.3 88.9h0M128.8 87.5h0M132.4 75.5h0M128.8 77.3h0M132.2 73.9h0M130.8 76.5h0M133.7 85.2h0M125.2 72.9h0M131.2 68.4h0M127.4 71.4h0M131.4 84.2h0M130.4 66.8h0M129.8 68.2h0M128.0 79.5h0M134.6 81.5h0M133.0 79.2h0M132.6 82.8h0M130.7 79.6h0M131.9 70.6h0M130.9 73.7h0M131.1 84.4h0M131.4 72.5h0M127.5 71.8h0M129.3 69.5h0M126.3 73.7h0M128.5 70.3h0M127.7 79.6h0M129.4 77.3h0M132.0 74.7h0M131.0 75.1h0M128.5 77.2h0M133.1 74.4h0M127.9 74.3h0M132.1 70.0h0M135.1 77.7h0M130.9 82.2h0M128.8 82.9h0M129.6 76.2h0M131.4 69.1h0M134.0 80.9h0M128.6 78.8h0M133.5 81.9h0M128.1 72.9h0M133.8 77.3h0M128.5 75.7h0M128.0 87.1h0M128.4 81.8h0M128.9 67.0h0M127.4 79.2h0M131.7 82.8h0M129.5 82.0h0M129.3 82.2h0M130.5 71.4h0M131.0 86.2h0M135.1 75.0h0M126.3 71.2h0" stroke="#9a6060" stroke-opacity="0.35" stroke-width="1.1" stroke-linecap="round" fill="none"/>
<path d="M123.4 61.4h0M124.7 57.7h0M125.4 58.9h0M125.5 58.2h0M123.1 55.6h0M125.9 61.2h0M122.7 55.0h0M125.3 59.5h0M124.5 58.2h0M123.1 55.0h0M124.5 58.5h0M123.4 55.5h0M125.1 58.4h0M122.4 60.8h0M126.1 55.5h0M123.7 60.7h0M123.2 61.0h0M122.9 60.3h0M124.3 59.6h0M123.4 60.2h0M122.2 56.6h0M122.8 58.3h0M125.8 58.0h0M123.0 57.4h0M124.8 57.3h0M124.4 59.9h0M124.3 62.4h0M125.3 61.8h0M122.8 58.3h0M124.9 56.0h0M122.6 58.6h0M123.9 55.0h0M125.8 59.3h0M124.2 60.5h0M125.6 58.0h0M124.9 57.0h0M123.9 61.0h0M125.8 54.6h0M124.7 54.8h0M125.9 57.0h0M123.0 58.9h0M124.0 57.8h0M124.8 58.8h0M124.8 61.0h0M124.4 55.7h0M124.4 54.7h0M126.5 60.9h0M127.2 59.4h0M122.9 57.9h0M122.8 59.4h0" stroke="#8db0dc" stroke-opacity="0.5" stroke-width="1.1" stroke-linecap="round" fill="none"/>
<polygon points="120.5,42.0 125.5,46.5 126.5,52.5 126.0,60.5 119.5,59.5 112.5,58.5 107.0,57.5 107.5,51.5 112.5,46.5" fill="#b2b4b2" opacity="0.61" filter="url(#b1)"/>
<path d="M125.8 56.3h0M114.0 54.1h0M119.3 48.4h0M118.6 42.6h0M110.3 54.5h0M121.8 53.0h0M119.0 43.9h0M124.1 50.8h0M109.0 54.6h0M125.9 52.9h0M115.8 43.8h0M114.3 48.4h0M122.8 58.6h0M121.9 45.9h0M117.3 50.7h0M119.9 46.4h0M112.3 57.0h0M123.3 54.0h0M122.5 54.5h0M118.6 57.2h0M126.2 55.1h0M123.5 47.0h0M112.6 50.4h0M122.4 43.2h0M108.6 51.6h0M118.6 44.3h0M115.0 52.4h0M123.4 53.0h0M123.5 55.1h0M110.6 51.2h0M126.1 56.4h0M120.3 48.4h0M112.5 47.6h0M108.3 51.2h0M126.0 53.8h0M122.9 56.9h0M125.3 51.2h0M111.8 50.6h0M120.6 56.4h0M126.2 50.4h0M107.6 57.3h0M117.5 49.6h0M109.2 54.9h0M110.9 50.1h0M119.1 53.1h0M108.5 55.9h0M116.7 45.0h0M126.0 50.2h0M114.0 54.6h0M111.3 49.3h0M116.9 58.4h0M119.3 51.4h0M119.8 58.9h0M115.0 58.8h0M120.4 45.4h0M118.1 54.6h0M122.0 52.7h0M120.6 53.7h0M126.7 52.6h0M123.0 56.4h0M111.2 51.8h0M121.4 43.3h0M112.2 46.3h0M120.2 44.1h0M124.7 49.6h0M112.2 52.9h0M121.4 56.5h0M121.8 55.7h0M122.6 54.9h0M123.7 57.5h0M111.7 49.0h0M124.8 45.1h0M125.5 47.4h0M108.6 52.8h0M120.3 55.5h0M110.1 54.4h0M117.1 53.1h0M123.2 49.1h0M123.4 57.0h0M120.6 50.3h0M109.8 51.9h0M113.3 54.8h0M121.3 49.2h0M125.2 55.5h0M112.3 56.6h0M121.9 53.4h0M123.1 51.4h0M107.9 53.3h0M124.3 56.6h0M123.5 52.0h0M115.2 49.6h0M116.6 52.1h0M119.0 55.7h0M121.3 44.7h0M112.7 51.6h0M125.1 49.6h0M121.7 48.5h0M117.8 54.3h0M116.3 56.1h0M122.2 47.6h0M113.0 49.5h0M108.4 51.7h0M114.3 59.2h0M119.2 57.2h0M119.9 55.1h0M124.1 55.1h0M116.9 52.6h0M119.1 43.7h0M124.1 55.4h0M120.4 45.1h0M113.3 55.8h0M110.3 52.2h0M107.9 56.1h0M117.2 46.2h0M124.6 49.9h0M124.4 55.5h0M120.9 52.6h0M113.5 50.5h0M119.8 47.7h0M117.9 57.4h0M121.1 50.8h0M119.5 56.4h0M118.5 54.3h0M116.4 54.7h0M120.3 46.4h0M122.0 56.4h0M118.9 43.8h0M115.3 48.5h0M120.7 48.8h0M109.8 50.3h0M119.3 58.3h0M110.9 53.3h0M115.9 45.5h0M123.6 50.8h0M125.4 57.1h0M121.9 49.7h0M122.8 50.8h0M116.5 53.6h0M116.7 56.3h0M122.6 52.5h0M120.5 53.8h0M116.7 50.1h0M115.3 48.5h0M114.2 52.6h0M121.6 44.0h0M110.3 53.3h0M111.3 48.9h0M108.3 57.6h0M123.8 52.0h0M126.5 52.6h0M118.4 44.9h0M112.2 52.8h0M111.5 57.0h0M115.9 49.9h0M114.2 47.4h0M123.4 51.4h0M113.3 48.0h0M110.6 48.5h0M112.1 54.7h0M116.2 48.8h0M121.0 45.8h0M115.4 59.0h0M108.7 54.9h0M123.0 56.4h0M124.0 57.4h0M118.6 50.3h0M119.7 42.6h0M124.0 51.9h0M113.0 49.3h0M112.8 54.1h0M112.3 54.5h0M108.7 55.8h0M117.9 52.3h0M121.0 54.9h0M121.9 52.4h0M123.9 52.8h0M124.7 52.1h0M114.1 51.1h0M112.9 57.3h0M115.0 45.5h0M116.2 55.4h0M122.0 59.6h0M120.5 54.0h0M113.5 54.3h0M118.8 51.5h0M118.8 46.8h0M127.3 52.7h0M118.5 48.9h0M120.4 49.0h0M118.2 56.9h0M111.9 54.8h0M120.6 41.4h0M121.4 46.8h0M116.6 51.7h0M112.1 51.7h0M112.8 55.4h0M122.5 50.4h0M114.8 48.3h0M127.5 53.4h0M107.9 50.0h0M116.1 56.5h0M121.1 52.6h0M117.4 53.4h0M118.6 46.7h0M119.5 55.1h0M113.9 57.4h0M112.9 56.6h0M123.4 57.8h0M124.0 57.6h0M114.8 46.4h0M112.9 54.8h0M122.4 53.0h0M121.8 52.4h0M120.8 54.5h0M109.1 54.8h0M118.1 47.2h0M124.8 46.1h0M124.0 54.4h0M107.7 52.1h0M116.8 44.2h0M122.6 48.1h0M114.9 49.2h0M119.8 41.8h0M121.1 52.2h0M122.7 54.0h0M115.5 47.8h0M118.3 48.8h0M124.2 51.8h0M120.0 50.5h0M116.1 47.4h0M111.8 50.8h0M120.4 49.6h0M120.4 51.5h0M123.7 49.7h0M113.6 50.1h0M117.1 53.8h0M117.0 50.7h0M120.6 44.4h0M124.8 49.3h0M108.3 53.0h0M118.3 43.9h0M123.1 48.9h0M118.2 58.7h0M118.6 45.5h0M107.5 53.5h0M111.3 55.8h0M114.9 54.6h0M118.1 50.7h0M116.9 50.1h0M115.9 54.3h0M112.7 55.7h0M124.5 48.9h0M115.8 59.4h0M114.0 51.5h0M122.1 59.2h0M123.5 53.0h0M122.9 45.8h0M111.2 48.6h0M120.6 58.6h0M107.1 57.4h0M117.3 43.6h0M110.9 55.3h0M110.6 50.6h0M119.5 45.9h0M118.5 53.3h0M118.5 57.1h0M116.1 48.9h0M118.8 50.1h0M113.0 53.1h0M116.3 44.5h0M117.1 45.8h0M126.2 57.2h0M118.4 49.0h0M120.5 51.9h0M109.8 50.5h0M116.3 51.3h0M120.3 50.2h0M123.6 54.0h0M114.2 52.8h0M123.9 58.2h0M122.3 57.2h0M120.7 45.1h0M117.8 54.5h0M122.1 51.3h0M119.6 49.0h0M121.5 56.9h0M110.5 52.3h0M120.1 44.0h0M108.8 49.2h0M123.8 52.2h0M121.9 50.0h0M122.2 45.9h0M124.0 58.6h0M125.6 48.6h0M110.0 58.5h0M111.3 52.7h0M114.6 58.5h0M119.8 48.8h0M116.5 55.2h0M119.6 51.6h0M125.5 46.9h0M114.0 52.3h0M123.8 45.4h0M122.6 56.7h0M122.9 45.5h0M121.1 45.5h0M115.8 51.0h0M108.6 57.3h0M111.0 52.8h0M117.7 44.3h0M122.4 47.4h0M111.1 55.4h0M120.6 48.1h0M108.9 53.8h0M115.0 53.3h0M116.7 58.4h0M118.6 46.3h0M123.1 50.1h0M115.1 47.8h0M124.8 53.0h0M117.4 46.8h0M117.2 49.9h0M117.3 51.3h0M114.5 53.5h0M115.4 51.8h0M120.3 49.1h0M112.9 49.5h0M109.8 55.6h0M114.4 56.1h0M108.9 57.3h0M119.3 51.1h0M116.9 54.1h0M110.0 54.4h0M116.0 57.5h0M118.3 54.7h0M115.8 46.3h0M113.9 46.1h0M122.2 42.9h0M120.0 53.4h0M122.9 54.3h0M121.9 57.7h0M117.0 58.1h0M115.5 44.2h0M125.9 54.7h0M120.6 52.0h0M114.9 47.0h0M115.1 55.3h0M120.3 46.7h0M121.8 46.5h0M110.0 52.2h0M112.5 54.1h0M117.6 53.0h0M112.7 53.0h0M124.2 49.5h0M118.0 52.1h0M110.6 57.5h0M115.4 47.9h0M116.8 49.8h0M121.8 46.0h0M116.0 49.6h0M119.5 53.3h0M113.1 53.2h0M114.5 51.4h0M122.0 52.1h0M110.3 55.5h0M116.7 58.4h0M120.0 59.5h0M118.2 45.8h0M125.4 48.5h0M110.1 54.6h0M118.9 55.6h0M117.0 48.0h0M122.3 55.8h0M120.0 48.0h0M121.4 46.9h0M117.8 58.4h0M114.7 55.5h0M120.9 53.4h0M124.8 46.5h0M125.4 54.7h0M120.8 55.6h0M126.3 54.4h0M116.7 51.7h0M118.4 43.7h0M124.8 54.3h0M111.7 50.2h0M120.2 43.4h0M110.9 50.9h0M114.3 49.0h0M117.6 45.0h0M120.4 48.9h0M119.3 54.1h0M121.1 47.4h0M118.6 50.0h0M123.2 52.8h0M113.3 52.4h0M111.1 50.7h0M114.4 56.6h0M119.6 58.0h0M119.6 54.0h0M115.1 50.4h0M118.4 45.9h0M112.4 49.3h0M122.9 46.4h0M114.2 52.3h0M116.9 56.1h0M115.5 46.3h0M123.6 59.4h0M111.0 47.4h0M121.6 57.9h0M113.4 47.5h0M123.1 59.0h0M114.6 51.7h0M119.1 56.9h0M125.9 52.8h0M122.6 53.6h0M122.7 55.8h0M116.1 50.3h0M112.0 56.3h0M123.2 61.3h0" stroke="#999b99" stroke-opacity="0.45" stroke-width="1.1" stroke-linecap="round" fill="none"/>
<polygon points="122.5,58.5 126.5,58.5 127.0,70.5 123.5,70.5" fill="#b0a0a0" opacity="0.50" filter="url(#b1)"/>
<path d="M125.1 65.4h0M123.3 58.3h0M124.6 66.9h0M121.9 63.4h0M125.9 64.5h0M124.6 60.5h0M124.4 68.3h0M126.5 60.6h0M124.2 58.7h0M125.1 67.3h0M125.0 67.3h0M127.1 62.4h0M125.7 59.7h0M122.9 64.9h0M126.5 60.1h0M125.9 62.8h0M123.3 69.1h0M127.1 67.9h0M124.0 61.1h0M123.3 64.3h0M125.3 67.0h0M124.4 63.0h0M126.1 58.5h0M126.9 66.1h0M123.0 67.8h0M125.9 67.4h0M124.5 63.6h0M124.7 61.8h0M126.6 59.4h0M124.9 70.4h0M125.3 59.8h0M126.3 66.7h0M122.8 59.5h0M124.0 62.2h0M125.1 64.9h0M125.3 60.5h0M125.5 67.0h0M124.7 62.4h0M124.8 64.5h0M121.7 58.7h0M125.5 62.6h0M125.3 69.3h0M123.0 63.4h0M122.2 62.9h0M124.6 61.6h0M124.9 64.1h0M125.6 60.7h0M124.9 62.4h0M124.5 61.1h0M124.1 68.1h0M125.0 69.6h0M124.9 61.5h0M124.7 65.0h0M123.7 64.4h0M124.8 69.3h0M123.2 66.2h0M125.9 68.4h0M122.9 66.1h0M123.2 59.6h0M124.5 69.3h0M126.3 65.4h0M126.0 63.5h0M123.1 68.1h0M122.9 64.8h0M124.9 59.8h0M122.5 62.7h0M125.3 60.4h0M126.1 61.3h0M125.5 68.7h0M125.2 65.4h0M123.4 61.0h0M124.2 67.8h0M124.6 69.7h0M126.9 62.0h0M125.1 64.2h0M127.4 63.8h0M124.9 60.8h0M125.9 62.5h0M125.7 69.6h0M127.0 64.9h0M125.1 60.5h0M123.1 60.8h0M124.5 63.1h0M124.8 60.8h0M122.9 64.4h0M126.2 63.8h0M123.3 59.7h0M125.7 62.3h0M124.0 62.4h0M124.7 70.6h0" stroke="#857070" stroke-opacity="0.45" stroke-width="1.1" stroke-linecap="round" fill="none"/>
<polygon points="115.5,69.5 122.5,63.5 126.5,68.5 127.0,81.5 125.5,90.5 121.5,92.5 116.5,88.5 113.5,80.5" fill="#aa6260" opacity="0.61" filter="url(#b1)"/>
<path d="M116.7 81.8h0M124.7 75.0h0M115.7 75.9h0M118.2 85.1h0M124.9 85.0h0M126.8 77.5h0M122.1 87.9h0M119.5 78.6h0M116.9 73.4h0M120.0 76.9h0M121.1 85.0h0M116.5 83.6h0M114.5 74.9h0M126.8 69.1h0M117.4 79.7h0M125.2 82.0h0M123.5 78.6h0M119.0 77.8h0M123.0 66.9h0M120.9 82.2h0M115.2 77.5h0M124.5 79.3h0M121.2 73.0h0M125.6 70.3h0M124.1 78.0h0M117.3 81.3h0M116.9 71.1h0M122.5 67.5h0M115.8 84.8h0M122.9 90.6h0M121.8 70.0h0M120.5 68.2h0M121.3 92.4h0M119.9 81.7h0M123.2 65.4h0M119.7 73.0h0M115.8 79.8h0M117.1 77.3h0M117.8 78.8h0M124.7 70.1h0M127.5 72.1h0M119.6 82.1h0M122.9 67.2h0M119.9 81.5h0M123.8 68.4h0M116.1 86.5h0M117.0 71.0h0M117.8 83.0h0M126.6 68.4h0M118.2 85.8h0M124.3 67.5h0M118.5 85.6h0M116.4 81.6h0M123.4 77.8h0M123.8 80.1h0M120.3 76.0h0M119.7 80.7h0M120.5 78.0h0M122.8 73.2h0M116.6 70.8h0M123.6 66.8h0M115.5 73.9h0M119.6 85.3h0M126.2 86.3h0M125.6 79.5h0M123.1 87.3h0M122.6 81.8h0M123.1 72.3h0M121.4 72.9h0M117.1 89.7h0M115.3 78.8h0M118.1 79.0h0M125.8 84.1h0M114.2 82.5h0M115.3 79.4h0M127.4 68.1h0M121.9 84.2h0M122.0 70.1h0M119.7 81.9h0M117.3 75.1h0M123.1 75.8h0M116.5 72.6h0M123.6 67.2h0M123.2 81.6h0M121.0 64.2h0M121.6 73.3h0M122.2 82.9h0M123.4 69.4h0M124.3 76.7h0M119.0 88.6h0M119.6 69.2h0M117.0 72.5h0M117.8 80.0h0M126.2 72.5h0M116.9 74.2h0M117.0 77.2h0M121.7 68.5h0M127.5 85.8h0M124.5 89.1h0M121.5 64.5h0M124.5 80.2h0M127.4 76.3h0M115.7 70.8h0M119.8 89.2h0M125.6 86.2h0M118.5 71.2h0M123.6 80.1h0M117.9 81.4h0M116.4 82.8h0M127.3 78.8h0M118.2 89.1h0M118.3 83.6h0M118.1 90.3h0M123.7 78.0h0M121.3 75.6h0M121.0 89.4h0M125.4 68.4h0M125.5 67.9h0M122.0 71.2h0M119.1 67.9h0M120.4 74.8h0M124.3 82.3h0M120.8 65.0h0M117.7 80.7h0M125.2 86.0h0M121.8 86.0h0M118.3 82.7h0M121.8 71.0h0M115.1 83.7h0M119.2 68.1h0M118.6 83.8h0M124.7 82.0h0M123.6 81.8h0M121.8 71.2h0M122.0 80.5h0M118.4 77.3h0M127.2 85.5h0M125.4 82.1h0M118.4 87.0h0M122.8 78.4h0M115.9 73.1h0M118.5 80.7h0M120.7 68.8h0M118.9 76.6h0M117.5 76.5h0M120.7 79.6h0M117.0 77.3h0M115.5 88.4h0M124.6 91.4h0M125.2 71.4h0M116.9 84.4h0M118.7 85.4h0M121.6 74.8h0M114.9 81.5h0M123.4 86.2h0M124.4 84.7h0M122.5 75.9h0M119.5 82.5h0M116.6 75.0h0M116.4 86.4h0M119.5 72.5h0M119.0 75.0h0M116.5 71.1h0M116.6 80.9h0M122.8 77.8h0M116.3 77.3h0M117.2 90.2h0M125.4 88.4h0M123.9 74.0h0M123.8 85.9h0M116.8 85.0h0M121.5 83.9h0M119.1 80.3h0M123.9 79.7h0M122.3 83.3h0M120.9 85.3h0M118.3 89.1h0M124.4 71.2h0M122.1 86.1h0M117.4 79.2h0M120.0 70.3h0M118.6 79.8h0M117.7 78.3h0M126.5 83.7h0M117.3 79.5h0M124.0 84.1h0M123.8 89.9h0M119.9 66.4h0M124.4 85.8h0M120.3 74.6h0M120.3 75.5h0M118.9 82.0h0M121.5 69.0h0M126.5 82.6h0M122.1 79.6h0M118.7 70.5h0M120.0 78.1h0M120.7 76.0h0M118.4 87.0h0M123.4 78.3h0M119.8 78.9h0M118.1 69.6h0M121.2 70.2h0M115.3 77.5h0M122.7 69.4h0M116.9 76.5h0M118.3 72.9h0M121.1 65.7h0M118.5 83.2h0M121.8 87.0h0M121.5 68.0h0M114.7 78.4h0M124.2 84.3h0M125.7 80.8h0M115.6 84.1h0M125.5 69.0h0M126.1 87.5h0M123.3 73.5h0M118.9 89.4h0M123.2 65.4h0M125.2 71.2h0M121.8 74.4h0M124.4 68.5h0M123.8 85.4h0M125.6 76.7h0M126.9 75.0h0M121.4 80.8h0M113.6 79.6h0M116.1 81.5h0M117.0 70.7h0M124.8 89.2h0M119.1 71.2h0M117.0 81.0h0M124.8 76.5h0M122.8 66.8h0M117.1 85.8h0M118.3 81.2h0M125.3 86.2h0M116.7 88.0h0M126.8 81.1h0M126.2 76.1h0M115.3 77.2h0M122.1 68.2h0M122.1 67.0h0M121.2 82.3h0M122.9 89.6h0M122.6 81.8h0M121.7 73.0h0M121.4 89.2h0M121.2 74.8h0M118.7 72.2h0M119.1 85.4h0M124.5 73.5h0M124.5 71.7h0M121.3 89.5h0M122.9 73.1h0M120.9 82.6h0M127.4 72.2h0M118.3 82.5h0M116.7 72.7h0M126.2 72.1h0M120.4 73.6h0M125.9 79.0h0M118.1 83.0h0M121.2 73.2h0M117.0 76.3h0M119.3 75.5h0M123.0 78.1h0M126.9 85.3h0M120.6 86.9h0M123.0 81.1h0M122.2 85.0h0M123.9 90.2h0M119.1 89.3h0M122.4 72.3h0M121.8 86.2h0M117.9 85.6h0M118.6 73.1h0M117.7 80.5h0M121.5 85.8h0M119.8 81.3h0M122.1 87.3h0M117.0 87.5h0M119.1 68.7h0M121.6 73.0h0M118.1 84.0h0M124.4 73.2h0M124.9 75.5h0M118.0 80.9h0M119.4 82.1h0M120.6 88.6h0M118.5 90.0h0M118.4 83.6h0M115.5 82.8h0M124.7 76.3h0M122.9 71.0h0M123.0 86.9h0M117.4 88.6h0M124.6 85.3h0M116.9 74.2h0M126.9 76.7h0M116.5 83.4h0M117.1 72.1h0M124.4 79.4h0M120.8 78.3h0M125.4 83.2h0M118.5 70.8h0M122.6 75.8h0M119.8 74.9h0M115.1 78.6h0M114.5 81.2h0M124.4 77.2h0M126.1 68.7h0M126.4 77.7h0M124.7 77.3h0M123.4 89.3h0M118.8 86.5h0M123.0 87.2h0M119.1 78.7h0M125.8 73.0h0M116.6 83.7h0M117.0 79.9h0M119.0 78.1h0M115.1 78.5h0M123.9 70.8h0M117.2 82.1h0M119.0 78.7h0M116.1 85.5h0M119.0 70.7h0M124.8 75.2h0M114.7 76.7h0M124.3 78.6h0M124.5 80.6h0M116.5 76.4h0M124.8 73.8h0M118.8 75.7h0M120.8 73.5h0M117.2 75.3h0M119.2 87.0h0M121.7 85.2h0M125.0 77.6h0M123.4 67.2h0M118.5 74.2h0M125.9 80.9h0M122.9 71.1h0M117.4 78.5h0M115.2 80.4h0M121.4 76.5h0M124.1 77.6h0M119.7 68.8h0M115.7 81.4h0M115.4 78.8h0M122.4 85.9h0M125.4 73.1h0M120.7 78.1h0M119.0 68.2h0M117.7 84.8h0M116.0 79.3h0M115.6 78.6h0M120.1 84.3h0M115.7 85.2h0M120.4 73.6h0M126.6 78.5h0M127.3 85.6h0M121.5 66.8h0M124.4 74.9h0M117.4 84.5h0M124.2 65.6h0M120.9 81.7h0M125.2 85.9h0M115.8 72.8h0M123.5 83.0h0M118.5 71.9h0M121.5 80.8h0M127.3 86.5h0M115.2 83.5h0M123.8 86.7h0M118.7 71.8h0M124.1 74.6h0M123.9 85.4h0M117.9 78.0h0M118.3 78.4h0M123.8 70.5h0M112.8 83.1h0M124.2 76.5h0M125.8 72.5h0M124.7 82.2h0M115.4 77.2h0M120.1 72.0h0M123.1 64.9h0M125.8 80.7h0M126.1 72.7h0M125.9 68.6h0M119.5 82.6h0M124.4 92.1h0M119.6 81.5h0M117.6 78.8h0M118.4 84.9h0M114.8 77.6h0M127.2 76.6h0" stroke="#9a4646" stroke-opacity="0.54" stroke-width="1.1" stroke-linecap="round" fill="none"/>
<polygon points="108.5,58.5 118.5,58.0 121.5,63.5 121.0,74.5 114.5,77.5 109.0,74.5" fill="#d98294" opacity="0.65" filter="url(#b1)"/>
<path d="M114.0 77.9h0M117.1 73.8h0M117.4 67.3h0M115.8 65.5h0M112.4 65.3h0M109.6 73.1h0M111.2 69.2h0M112.5 73.3h0M113.8 71.3h0M119.8 70.2h0M113.3 72.8h0M110.1 66.4h0M112.1 64.9h0M112.6 66.8h0M115.4 58.7h0M111.7 70.2h0M110.0 66.6h0M113.2 62.7h0M116.4 73.7h0M113.7 58.7h0M118.2 72.5h0M113.5 66.0h0M119.9 71.6h0M115.3 76.0h0M114.2 77.4h0M117.4 70.4h0M119.1 73.4h0M120.0 72.1h0M115.2 74.8h0M113.6 60.8h0M109.7 72.7h0M112.9 63.4h0M112.5 62.8h0M115.3 61.9h0M120.9 63.7h0M109.9 71.1h0M111.3 66.7h0M114.4 63.0h0M111.5 62.1h0M119.5 61.2h0M117.7 61.3h0M108.0 73.2h0M115.1 61.9h0M115.5 64.3h0M110.2 71.0h0M113.0 62.8h0M113.5 74.2h0M112.7 66.9h0M115.1 69.4h0M117.4 65.7h0M119.0 62.1h0M118.0 69.1h0M117.1 62.0h0M112.9 74.5h0M109.8 67.2h0M113.4 69.7h0M117.4 62.8h0M114.5 65.7h0M116.9 69.9h0M112.8 69.6h0M120.4 61.7h0M118.9 68.7h0M113.8 69.6h0M111.2 65.6h0M115.5 68.9h0M117.8 76.3h0M115.1 71.2h0M113.6 70.2h0M113.9 75.9h0M115.1 60.8h0M112.9 72.7h0M115.9 74.0h0M117.3 73.2h0M113.8 68.5h0M120.9 62.9h0M111.1 70.0h0M110.5 60.1h0M119.0 66.9h0M110.9 72.4h0M121.3 66.1h0M116.2 62.8h0M109.5 65.5h0M111.9 62.1h0M112.9 64.5h0M116.2 73.2h0M120.4 64.2h0M111.6 67.4h0M108.8 63.3h0M115.6 68.9h0M111.4 66.9h0M111.9 68.5h0M119.7 71.1h0M113.0 59.3h0M119.7 64.0h0M114.5 76.5h0M115.9 60.0h0M114.1 62.5h0M113.8 73.6h0M112.9 67.5h0M112.8 67.6h0M119.7 69.7h0M118.8 74.6h0M111.5 73.3h0M114.8 64.1h0M111.1 60.5h0M116.4 64.4h0M110.9 72.3h0M116.6 60.4h0M121.1 68.7h0M120.5 72.1h0M112.3 65.5h0M120.1 63.7h0M119.9 67.6h0M112.9 72.7h0M119.2 63.7h0M114.5 62.6h0M121.1 66.0h0M113.1 70.8h0M112.7 71.1h0M110.3 62.5h0M109.1 71.6h0M108.1 62.0h0M112.9 74.7h0M113.7 75.9h0M116.2 74.2h0M109.6 71.6h0M113.7 69.8h0M108.7 66.2h0M110.0 66.3h0M121.7 62.9h0M112.3 68.5h0M114.9 59.8h0M113.1 58.8h0M120.8 66.2h0M118.7 60.5h0M111.1 66.9h0M112.2 59.2h0M108.6 63.0h0M117.7 74.8h0M116.4 68.5h0M115.1 67.6h0M114.8 65.7h0M114.2 60.6h0M115.9 68.6h0M118.6 75.1h0M109.5 63.0h0M119.7 71.4h0M117.0 66.9h0M110.5 68.6h0M115.5 63.6h0M119.9 64.3h0M118.6 61.0h0M109.8 69.9h0M120.7 65.7h0M111.6 71.5h0M111.4 62.3h0M120.8 63.3h0M117.4 68.6h0M118.6 63.2h0M119.0 60.0h0M110.1 68.1h0M110.7 65.4h0M115.7 60.1h0M115.3 75.5h0M115.9 68.4h0M115.4 73.7h0M111.2 75.6h0M112.7 62.6h0M111.3 68.3h0M119.6 64.0h0M115.4 73.9h0M113.8 65.8h0M112.3 69.9h0M115.3 65.6h0M109.2 63.5h0M116.2 69.6h0M119.9 67.7h0M120.5 68.6h0M110.0 66.7h0M114.4 69.8h0M110.2 70.3h0M111.9 66.9h0M111.5 72.4h0M113.5 75.5h0M113.4 60.1h0M114.6 75.9h0M116.2 71.4h0M109.0 74.9h0M114.9 70.7h0M112.1 73.8h0M115.7 65.4h0M116.9 75.9h0M117.1 64.7h0M118.0 71.5h0M118.1 61.2h0M113.9 74.5h0M117.6 71.7h0M116.5 63.2h0M113.3 64.3h0M117.0 74.9h0M109.1 71.9h0M118.8 74.4h0M109.2 59.3h0M116.5 67.6h0M119.1 64.2h0M110.2 75.4h0M116.8 70.3h0M107.6 67.3h0M118.2 70.7h0M110.6 75.1h0M114.5 58.0h0M114.1 71.6h0M121.5 72.9h0M114.2 61.9h0M110.7 62.1h0M115.4 70.8h0M116.2 66.4h0M114.4 69.1h0M110.9 58.4h0M115.7 68.7h0M115.2 64.2h0M110.1 67.7h0M117.0 77.1h0M115.3 71.9h0M111.0 75.7h0M116.0 69.9h0M110.1 72.8h0M112.3 70.0h0M110.1 71.2h0M111.8 60.7h0M116.5 70.5h0M110.0 59.5h0M119.3 62.9h0M109.6 60.5h0M110.7 69.3h0M114.0 72.5h0M116.5 65.8h0M109.9 61.1h0M119.3 73.8h0M112.5 67.9h0M120.4 72.2h0M115.1 65.0h0M107.7 58.3h0M116.5 60.5h0M114.9 74.4h0M116.4 76.9h0M116.4 74.6h0M115.1 71.5h0M110.4 60.2h0M114.2 68.6h0M118.2 73.7h0M119.1 64.3h0M118.9 69.7h0M114.9 60.3h0M112.2 63.5h0M112.6 73.0h0M120.7 74.2h0M113.0 60.9h0M114.7 74.6h0M113.9 65.6h0M118.1 68.6h0M112.7 67.5h0M111.4 72.4h0M115.0 76.8h0M120.2 61.3h0M115.1 60.7h0M115.2 76.7h0M114.5 71.9h0M110.9 65.6h0M119.0 67.3h0M117.6 69.4h0M116.0 62.6h0M120.2 60.5h0M118.8 61.8h0M114.6 67.9h0M116.8 58.2h0M116.0 61.3h0M112.9 61.2h0M112.7 69.2h0M116.3 60.8h0M115.9 62.7h0M115.3 76.2h0M114.6 62.1h0M118.3 59.8h0M114.6 73.5h0M111.7 72.8h0M118.3 75.0h0M117.6 65.7h0M120.1 71.9h0M109.4 63.7h0M110.7 61.7h0M108.7 60.2h0M110.2 62.1h0M116.4 76.6h0M110.5 74.1h0M114.5 63.3h0M113.6 61.2h0M112.1 70.8h0M111.8 69.7h0M112.7 58.0h0" stroke="#d47488" stroke-opacity="0.54" stroke-width="1.1" stroke-linecap="round" fill="none"/>
<polygon points="109.5,59.0 110.5,64.5 110.7,74.5 109.5,79.5 105.5,80.0 101.0,76.5 99.7,69.5 101.0,62.5 104.5,59.0" fill="#6a48ae" opacity="0.66" filter="url(#b1)"/>
<path d="M105.7 65.1h0M105.2 73.5h0M106.6 68.3h0M102.6 73.4h0M105.2 71.4h0M106.9 69.9h0M100.1 63.7h0M102.8 72.5h0M106.2 63.0h0M107.8 75.9h0M103.1 78.0h0M102.9 63.0h0M103.1 73.0h0M108.6 62.7h0M102.5 65.4h0M105.7 63.4h0M103.1 66.2h0M108.3 66.5h0M102.9 67.5h0M109.9 69.5h0M101.9 76.8h0M104.3 67.2h0M106.2 72.6h0M106.5 78.0h0M107.1 63.7h0M104.5 67.2h0M108.0 67.8h0M102.6 68.4h0M103.1 66.3h0M103.5 63.9h0M102.4 63.2h0M108.6 62.1h0M102.2 65.8h0M108.9 65.0h0M105.3 79.0h0M107.1 64.2h0M101.8 69.7h0M105.0 73.3h0M105.6 68.4h0M102.1 71.6h0M100.7 73.6h0M107.7 73.5h0M109.9 64.2h0M104.3 69.5h0M104.1 72.4h0M107.8 71.7h0M103.5 71.7h0M108.6 66.3h0M105.8 78.1h0M106.7 65.6h0M99.4 64.2h0M110.5 65.3h0M107.9 62.9h0M104.3 65.0h0M101.9 69.9h0M107.0 60.4h0M103.5 64.0h0M110.0 71.7h0M102.5 73.3h0M104.7 77.2h0M109.9 65.9h0M105.7 71.1h0M102.4 69.6h0M105.3 66.6h0M108.1 65.3h0M103.5 74.7h0M110.9 73.1h0M108.1 60.0h0M107.8 79.1h0M102.5 63.9h0M108.8 68.2h0M102.8 71.2h0M105.3 72.3h0M104.2 64.5h0M109.3 62.3h0M105.5 70.5h0M104.9 73.1h0M105.8 77.4h0M101.7 77.6h0M105.4 70.0h0M109.1 64.8h0M103.8 68.9h0M101.8 70.3h0M107.7 59.8h0M107.8 70.4h0M110.8 72.4h0M106.4 66.9h0M101.4 68.2h0M102.6 67.0h0M99.3 69.6h0M107.0 69.1h0M106.7 75.4h0M106.7 71.5h0M106.4 62.0h0M106.5 62.0h0M105.0 66.9h0M110.0 75.2h0M101.0 63.8h0M107.2 70.5h0M102.0 68.0h0M100.4 69.7h0M105.5 61.7h0M102.7 72.5h0M107.0 79.4h0M110.0 66.7h0M109.4 65.3h0M109.2 62.4h0M104.6 78.8h0M105.7 71.8h0M102.5 73.3h0M106.6 79.8h0M107.1 76.2h0M102.7 69.8h0M109.2 63.0h0M109.3 76.5h0M109.3 71.3h0M104.7 71.9h0M100.6 67.8h0M103.8 65.6h0M106.3 66.1h0M101.9 73.0h0M109.3 63.1h0M102.2 71.3h0M108.5 78.5h0M105.1 60.2h0M109.2 74.2h0M107.1 78.8h0M102.7 77.0h0M107.0 74.6h0M107.6 80.0h0M104.6 65.4h0M101.6 63.7h0M103.8 64.8h0M104.6 62.8h0M103.6 64.4h0M107.1 70.9h0M100.8 75.0h0M107.2 73.8h0M104.0 60.0h0M101.8 60.6h0M102.1 78.3h0M106.6 72.9h0M105.3 59.7h0M105.8 63.0h0M109.6 73.0h0M104.4 60.6h0M107.9 70.6h0M108.5 75.7h0M104.2 79.0h0M104.8 65.0h0M107.5 76.6h0M109.7 62.7h0M105.0 63.4h0M101.8 71.9h0M108.3 60.1h0M105.9 69.9h0M106.6 74.6h0M103.2 62.3h0M107.8 68.0h0M102.1 76.7h0M110.1 77.2h0M110.2 66.1h0M105.3 73.2h0M105.0 63.7h0M105.5 68.8h0M108.4 76.7h0M104.6 78.9h0M105.6 74.5h0M108.2 74.7h0M100.1 67.6h0M100.0 65.7h0M105.0 64.2h0M103.8 59.5h0M107.8 62.4h0M106.4 77.5h0M108.3 75.6h0M109.4 72.4h0M104.2 64.8h0M104.3 76.3h0M103.6 68.9h0M105.4 75.1h0M107.0 76.1h0M102.8 68.0h0M101.4 68.6h0M105.8 64.7h0M104.7 72.3h0M110.5 64.1h0M104.8 74.1h0M105.4 66.7h0M107.1 60.3h0M104.4 60.9h0M100.5 71.6h0M108.6 65.6h0M104.4 67.2h0M101.7 66.7h0M109.5 74.5h0M102.9 76.3h0M107.6 63.4h0M103.1 77.4h0M110.8 65.6h0M106.3 76.3h0M100.7 72.4h0M103.0 67.3h0M100.7 74.9h0M108.6 69.4h0M102.8 69.5h0M109.6 71.9h0M105.1 60.7h0M106.1 63.7h0M108.5 66.2h0M103.5 73.1h0M107.9 73.6h0M107.6 64.6h0M105.2 68.1h0M104.5 59.9h0M110.3 67.9h0M104.6 69.2h0M107.1 77.6h0M105.8 63.8h0M107.7 64.4h0M101.7 68.3h0M107.1 68.2h0M109.3 66.8h0M109.6 63.6h0M107.3 69.0h0M105.7 67.2h0M107.0 74.2h0M100.9 71.0h0M107.2 66.7h0M108.1 68.8h0M104.2 79.3h0M105.3 71.8h0M109.4 64.5h0M102.7 64.1h0M107.4 60.6h0M104.0 65.7h0M106.1 64.2h0M105.0 76.2h0M100.6 75.4h0M102.6 67.3h0M102.3 65.1h0M106.5 64.0h0M107.7 78.6h0M109.0 67.2h0M105.7 75.6h0M101.8 66.0h0M105.3 70.1h0M108.8 76.5h0M108.1 66.4h0M103.7 67.0h0M104.9 67.6h0M106.9 76.8h0M110.0 73.0h0M110.1 74.8h0M102.2 70.0h0M109.4 60.0h0M105.6 60.9h0M101.2 64.9h0M101.2 65.6h0M107.6 79.2h0M104.2 62.2h0M101.1 73.4h0M103.0 69.4h0M107.3 75.6h0M105.0 63.8h0M109.6 75.6h0M108.2 72.1h0M107.8 71.0h0M108.5 78.2h0M106.3 65.9h0M108.8 60.3h0M105.2 74.2h0M110.3 66.7h0M108.8 64.8h0M109.2 74.9h0M101.6 66.9h0M105.9 70.4h0M103.7 75.1h0M108.5 69.9h0M106.6 72.9h0M105.0 75.5h0M101.6 72.0h0M102.1 73.7h0M107.5 79.1h0M102.7 74.1h0M102.3 70.7h0M107.7 67.7h0M108.9 68.2h0M108.3 71.8h0M108.5 74.8h0M101.8 71.6h0M105.6 81.2h0M102.3 66.0h0M106.6 78.0h0M105.2 70.3h0M102.6 67.4h0M103.4 73.4h0M103.6 62.8h0M104.9 60.8h0M100.3 67.9h0M105.7 63.9h0M110.6 70.4h0M102.6 74.9h0M106.9 69.7h0M104.1 66.1h0M106.1 75.1h0M106.3 60.5h0M100.2 73.1h0M107.8 71.4h0M101.6 62.8h0M101.6 73.9h0M101.0 62.0h0M102.8 73.9h0M110.0 65.0h0M109.5 71.5h0M109.3 74.2h0M109.1 76.9h0M108.7 80.2h0M105.4 78.7h0M104.8 63.3h0M105.3 66.1h0M108.3 73.8h0M101.1 71.5h0M108.5 68.3h0M105.6 58.6h0M104.3 71.0h0M110.3 70.8h0M102.8 63.5h0M105.4 75.7h0M103.5 73.4h0M106.4 60.9h0M105.7 78.9h0M109.0 75.6h0M105.5 70.1h0M106.0 64.6h0M106.1 68.2h0M102.8 70.9h0M107.5 62.9h0M102.3 70.7h0M108.7 68.3h0M109.8 80.3h0M108.7 73.6h0M104.7 68.9h0M105.5 61.8h0M103.5 62.4h0M109.4 67.1h0M100.6 70.3h0M106.0 74.1h0M108.2 63.9h0M102.2 64.5h0M104.0 78.7h0M104.1 65.3h0M108.5 69.3h0M103.2 69.8h0M106.1 75.7h0M105.9 68.0h0M109.0 67.7h0M104.8 67.5h0M106.4 61.9h0M105.1 77.4h0M104.9 64.0h0M105.5 79.6h0M101.4 63.4h0M109.7 66.2h0M110.6 70.8h0M107.6 60.4h0M106.5 75.9h0M101.4 76.5h0M107.9 60.1h0M108.2 76.4h0M109.0 76.7h0M100.4 68.8h0M101.8 73.6h0M105.7 71.7h0M106.8 68.5h0M100.6 67.3h0M103.9 67.7h0M107.7 73.7h0M101.5 71.2h0M108.5 64.3h0M105.2 69.3h0M101.0 69.0h0M110.4 70.5h0M102.7 75.6h0M105.8 69.9h0M107.9 67.0h0M108.5 78.3h0M102.4 70.3h0M109.4 75.4h0M108.7 72.1h0M104.4 75.6h0M107.0 79.0h0M106.8 73.2h0M99.8 64.8h0M104.3 70.1h0M104.8 76.7h0M105.5 63.0h0M104.4 67.5h0M106.7 68.5h0M110.5 70.8h0" stroke="#5430a0" stroke-opacity="0.50" stroke-width="1.1" stroke-linecap="round" fill="none"/>
<ellipse cx="109.50" cy="84.00" rx="3.91" ry="3.65" transform="rotate(0 109.50 84.00)" fill="#ecb630" opacity="0.72" filter="url(#b1)"/>
<path d="M108.7 83.5h0M106.0 85.5h0M112.8 82.6h0M108.9 89.4h0M112.1 86.5h0M109.4 82.7h0M110.2 81.1h0M107.4 80.7h0M107.0 82.2h0M112.8 86.4h0M110.0 87.4h0M111.6 85.0h0M109.7 82.9h0M111.0 82.3h0M110.6 86.3h0M111.4 81.4h0M109.7 82.4h0M113.1 84.2h0M112.1 86.2h0M111.8 84.4h0M108.1 86.7h0M112.7 82.4h0M109.1 83.5h0M112.9 83.8h0M111.8 86.9h0M114.8 84.7h0M109.4 85.7h0M105.2 87.2h0M107.8 81.2h0M107.6 82.1h0M106.1 82.1h0M112.2 79.5h0M112.8 81.8h0M109.2 82.0h0M108.1 81.9h0M110.5 85.8h0M110.6 85.6h0M110.6 84.2h0M107.6 83.8h0M111.2 81.4h0M106.0 79.1h0M108.2 84.4h0M107.5 82.6h0M108.1 83.6h0M107.5 86.7h0M108.9 84.8h0M110.8 86.5h0M111.6 82.2h0M109.0 87.6h0M114.3 84.7h0M105.6 84.4h0M110.0 82.5h0M110.2 80.4h0M107.9 86.0h0M110.4 83.3h0M111.5 81.6h0M111.8 83.0h0M111.7 86.5h0M110.8 81.4h0M106.3 84.6h0M106.5 84.0h0M113.1 82.2h0M106.2 83.2h0M110.6 85.1h0M105.7 81.5h0M111.3 84.6h0M110.8 84.0h0M109.2 82.5h0M109.7 84.6h0M111.9 82.7h0M104.9 83.5h0M106.4 86.6h0M111.7 82.3h0M114.4 84.7h0M110.3 86.5h0M113.7 86.0h0M111.0 82.3h0M109.4 87.3h0M110.8 87.5h0M111.6 80.5h0M105.7 87.9h0M105.5 86.1h0M111.8 84.8h0M111.7 81.6h0M112.3 83.3h0M109.0 86.5h0M109.3 82.3h0M106.4 85.1h0M108.4 87.7h0M108.8 84.3h0M114.0 83.2h0M106.4 85.0h0M107.0 85.8h0M110.1 82.4h0M107.6 85.5h0M115.1 84.7h0M109.5 83.3h0M108.1 83.8h0M107.6 86.9h0M108.7 83.5h0M110.9 86.4h0M111.3 85.6h0M108.0 84.4h0M106.1 82.9h0M110.5 84.0h0M110.4 87.5h0M110.3 86.5h0M110.2 84.1h0M106.3 80.8h0M110.2 82.4h0M111.6 86.4h0M110.2 80.0h0M107.8 85.8h0M110.0 84.7h0M106.5 82.3h0M113.5 82.4h0M105.9 82.4h0M107.5 82.6h0M111.0 83.4h0M109.5 88.2h0M106.4 81.6h0M110.3 85.1h0M112.8 84.9h0M107.2 86.6h0M106.8 82.4h0M110.7 86.1h0M110.1 84.0h0M110.6 83.1h0M110.5 88.4h0M107.4 87.4h0" stroke="#e8ac18" stroke-opacity="0.65" stroke-width="1.1" stroke-linecap="round" fill="none"/>
</g></g>
<rect x="93.5" y="36.5" width="65" height="64" fill="none" stroke="#222" stroke-width="1.2"/>
<clipPath id="cp02"><rect x="163.5" y="36.5" width="65" height="64"/></clipPath>
<g clip-path="url(#cp02)"><g>
<ellipse cx="189.50" cy="58.50" rx="6.80" ry="11.90" transform="rotate(15 189.50 58.50)" fill="#ececec" opacity="0.5" filter="url(#b3)"/>
<path d="M190.2 62.3h0M186.3 61.3h0M188.8 60.5h0M187.2 51.1h0M187.5 67.2h0M187.3 67.8h0M183.2 69.9h0M196.8 59.1h0M188.0 52.1h0M185.9 69.8h0M196.5 54.6h0M196.0 48.0h0M184.9 60.7h0M193.2 64.7h0M191.1 64.0h0M188.5 63.7h0M188.8 62.6h0M192.0 51.5h0M191.3 53.6h0M183.6 71.1h0M187.9 58.2h0M181.9 57.9h0M184.2 56.0h0M188.9 54.6h0M185.3 50.7h0M190.1 66.9h0M190.0 50.8h0M199.6 58.4h0M184.5 57.5h0M191.4 48.3h0M190.4 53.4h0M191.2 58.2h0M192.7 60.7h0M196.9 56.7h0M190.2 51.5h0M196.0 51.0h0M192.0 59.9h0M190.3 54.8h0M186.5 58.7h0M193.9 62.0h0M194.0 48.4h0M192.6 55.2h0M189.2 67.5h0M195.7 62.0h0M192.2 69.2h0M187.9 56.9h0M196.0 52.9h0M185.6 58.3h0M193.2 56.4h0M184.5 69.4h0M184.3 59.1h0M192.6 65.4h0M183.9 62.2h0M190.4 59.3h0M190.3 59.6h0M184.4 67.1h0M196.4 50.0h0M192.4 61.1h0M188.9 59.1h0M189.5 53.4h0M185.3 66.6h0M190.2 62.8h0M188.7 58.7h0M195.5 54.7h0M184.1 73.5h0M192.6 57.2h0M193.8 52.2h0M181.5 71.6h0M189.3 46.7h0M191.7 55.7h0M184.0 69.2h0M193.0 52.5h0M183.7 66.1h0M188.6 62.7h0M193.4 59.2h0M194.5 51.5h0M189.3 49.5h0M194.9 47.5h0M191.4 60.5h0M182.3 50.2h0M194.2 64.8h0M195.0 52.9h0M194.4 49.2h0M187.5 67.0h0M190.9 53.5h0M194.8 62.2h0M186.7 62.4h0M187.8 65.0h0M194.1 57.6h0M183.7 67.5h0M189.6 66.2h0M193.6 65.4h0M185.2 45.0h0M187.2 56.1h0M189.0 53.9h0M194.3 64.8h0M188.5 45.5h0M190.1 56.1h0M182.1 68.7h0M193.0 73.1h0M191.6 60.6h0M180.5 54.7h0M191.7 61.1h0M194.2 52.2h0M190.9 64.3h0M197.2 56.5h0M193.4 62.6h0M175.6 60.5h0M184.1 60.5h0M201.1 54.5h0M182.5 56.2h0M193.8 51.9h0M186.2 57.8h0M190.6 74.6h0M185.3 55.0h0M185.1 52.2h0M191.0 54.4h0M189.6 60.5h0M188.6 62.4h0M195.1 67.5h0M190.6 65.6h0M188.8 65.7h0M193.8 64.9h0M188.7 59.8h0M184.6 63.8h0M191.4 47.6h0M188.1 50.7h0M188.2 54.4h0M190.6 54.1h0M189.6 57.9h0M194.3 57.1h0M184.6 65.0h0M182.5 62.8h0M196.0 56.0h0M191.3 65.6h0M189.1 54.2h0M192.3 57.2h0M187.5 73.6h0M188.0 71.7h0M186.6 48.3h0" stroke="#9a9a9a" stroke-opacity="0.35" stroke-width="1.1" stroke-linecap="round" fill="none"/>
<ellipse cx="185.50" cy="65.50" rx="6.80" ry="5.95" transform="rotate(0 185.50 65.50)" fill="#fae8ec" opacity="0.45" filter="url(#b3)"/>
<path d="M180.9 65.1h0M185.4 66.9h0M176.1 66.6h0M190.7 65.2h0M189.7 64.1h0M186.7 66.8h0M188.5 66.0h0M189.7 67.6h0M189.3 67.7h0M184.5 65.5h0M180.4 63.4h0M183.8 60.2h0M185.3 65.2h0M182.5 64.4h0M183.5 64.5h0M187.2 67.6h0M178.2 67.5h0M190.7 61.3h0M180.8 63.8h0M181.3 66.6h0M184.6 57.3h0M186.5 71.5h0M183.9 67.3h0M182.5 69.0h0M179.0 73.7h0M180.5 64.8h0M184.1 63.4h0M179.0 65.2h0M183.8 70.2h0M190.8 61.9h0M189.9 65.8h0M191.0 66.1h0M180.3 71.6h0M175.4 63.5h0M184.4 59.9h0M190.1 65.8h0M184.5 71.6h0M184.1 66.1h0M182.8 64.2h0M189.1 62.6h0M179.6 66.1h0M190.6 66.1h0M191.9 67.0h0M182.5 68.4h0M180.0 62.3h0M183.0 68.1h0M186.9 69.3h0M193.5 67.2h0M189.9 58.5h0M181.1 61.6h0M178.8 68.2h0M194.8 62.5h0M186.3 68.1h0M190.1 61.5h0M179.7 70.0h0M176.1 65.2h0M183.0 70.6h0M187.0 69.2h0M182.0 60.2h0M187.5 73.8h0M188.5 58.9h0M187.6 60.0h0M182.0 71.0h0M186.8 66.6h0M191.3 64.6h0M182.5 58.8h0M193.3 70.8h0M185.7 65.7h0M174.2 64.2h0M184.1 65.5h0M188.2 65.1h0M183.3 63.7h0M187.2 69.9h0M189.0 58.9h0M190.3 67.2h0M183.9 60.1h0M184.1 63.4h0M184.1 71.8h0M190.3 63.1h0M186.2 66.5h0" stroke="#e08898" stroke-opacity="0.25" stroke-width="1.1" stroke-linecap="round" fill="none"/>
<path d="M176.7 61.4h0M177.9 58.1h0M175.2 56.4h0M177.1 56.1h0M178.0 57.5h0M176.6 54.1h0M175.7 57.3h0M176.4 56.4h0M176.3 58.2h0M175.7 60.8h0M175.4 58.1h0M175.8 55.6h0" stroke="#707070" stroke-opacity="0.45" stroke-width="1.1" stroke-linecap="round" fill="none"/>
<ellipse cx="208.30" cy="70.30" rx="11.22" ry="15.30" transform="rotate(-10 208.30 70.30)" fill="#6792cf" opacity="1.0" filter="url(#b1)"/>
<path d="M213.0 70.2h0M207.7 82.7h0M209.9 71.9h0M212.4 66.5h0M197.7 79.6h0M202.5 81.2h0M220.3 82.0h0M201.4 78.7h0M209.8 61.1h0M212.5 62.1h0M207.6 81.9h0M199.6 66.5h0M208.3 75.8h0M202.3 70.4h0M211.7 64.3h0M198.7 67.0h0M210.1 83.6h0M204.6 61.2h0M207.5 70.7h0M205.2 55.4h0M205.2 55.4h0M204.2 54.1h0M206.9 76.5h0M216.4 81.5h0M209.9 87.7h0M204.4 84.9h0M208.2 86.9h0M212.9 84.7h0M211.7 59.7h0M207.2 64.4h0M213.9 67.3h0M196.7 62.7h0M199.7 65.3h0M214.6 68.0h0M207.2 81.9h0M218.0 68.3h0M197.8 75.2h0M207.9 82.4h0M203.8 82.8h0M198.7 60.8h0M205.5 61.6h0M203.5 61.4h0M216.5 74.3h0M200.9 65.2h0M211.6 60.7h0M212.6 64.1h0M204.7 60.6h0M206.4 78.6h0M199.4 70.6h0M218.2 74.1h0M214.6 64.1h0M198.7 71.2h0M204.8 78.6h0M214.6 67.3h0M211.5 81.1h0M215.1 68.7h0M200.0 76.7h0M201.0 71.8h0M211.2 70.1h0M203.1 60.2h0M214.9 60.9h0M204.6 56.7h0M206.2 57.4h0M212.6 61.9h0M207.9 78.7h0M210.6 76.9h0M214.1 83.7h0M206.4 87.5h0M205.0 69.2h0M218.1 75.9h0M206.5 78.8h0M213.6 79.0h0M211.3 55.7h0M200.0 63.5h0M213.2 81.9h0M208.5 78.2h0M212.5 78.0h0M196.0 60.6h0M202.4 78.7h0M207.6 75.7h0M212.0 75.0h0M216.2 80.0h0M207.1 63.6h0M216.3 60.5h0M217.5 63.4h0M204.7 67.2h0M210.1 54.0h0M199.4 74.9h0M211.2 54.2h0M201.1 80.1h0M201.7 61.8h0M207.0 52.3h0M216.4 73.1h0M208.8 65.0h0M208.9 65.7h0M210.1 68.0h0M209.1 77.6h0M202.3 52.9h0M198.9 66.5h0M201.9 75.1h0M208.1 69.8h0M207.4 69.7h0M204.9 53.3h0M213.1 69.2h0M208.7 83.6h0M214.2 81.6h0M216.1 83.9h0M218.4 60.6h0M197.2 72.5h0M197.3 71.9h0M202.6 72.3h0M213.7 64.9h0M200.7 83.0h0M210.4 81.4h0M205.2 57.9h0M213.8 64.1h0M204.7 54.3h0M211.5 78.1h0M214.4 57.3h0M206.9 63.1h0M197.8 77.5h0M210.6 58.1h0M217.7 60.0h0M213.4 76.1h0M203.2 62.8h0M216.2 84.4h0M216.3 67.5h0M202.0 62.0h0M211.5 71.8h0M205.3 73.9h0M217.3 61.3h0M204.9 84.6h0M216.3 66.4h0M201.8 71.2h0M211.1 76.9h0M201.9 61.7h0M217.6 73.2h0M207.1 64.4h0M209.3 55.8h0M212.4 57.2h0M210.0 54.3h0M207.2 83.5h0M213.7 75.4h0M199.7 76.0h0M203.7 77.8h0M205.5 73.8h0M215.5 56.5h0M220.5 73.8h0M214.5 64.1h0M217.1 71.5h0M207.8 80.2h0M199.5 82.4h0M216.4 66.3h0M203.8 66.5h0M206.1 70.7h0M207.8 71.2h0M212.9 62.7h0M205.6 60.6h0M211.2 58.4h0M203.8 54.5h0M202.9 74.7h0M205.3 77.3h0M207.2 64.4h0M221.9 70.1h0M198.6 60.7h0M202.6 54.9h0M214.4 79.5h0M199.1 73.6h0M205.8 78.8h0M209.7 85.7h0M205.0 84.6h0M201.8 84.8h0M210.2 71.0h0M206.0 80.8h0M196.5 68.7h0M199.0 66.9h0M202.2 83.2h0M207.6 84.4h0M213.2 74.6h0M206.9 61.8h0M208.0 82.1h0M200.5 84.4h0M208.7 71.5h0M208.0 85.0h0M214.8 67.8h0M203.6 59.3h0M204.1 66.3h0M215.2 58.8h0M209.8 70.3h0M202.6 83.1h0M213.0 85.9h0M204.1 64.8h0M213.0 85.1h0M210.2 74.2h0M208.5 74.7h0M211.3 69.2h0M205.2 64.7h0M214.6 77.7h0M221.6 72.8h0M202.5 65.1h0M209.4 55.6h0M216.0 73.1h0M216.5 66.4h0M215.4 81.9h0M211.5 83.7h0M202.3 84.8h0M205.1 83.5h0M206.4 65.4h0M206.3 62.7h0M217.4 78.7h0M199.1 68.4h0M204.1 63.5h0M212.5 64.9h0M211.8 79.6h0M197.2 57.9h0M220.9 67.1h0M205.1 77.3h0M209.8 62.8h0M213.7 78.7h0M212.7 64.7h0M217.5 57.1h0M207.9 86.6h0M212.7 64.4h0M210.3 68.4h0M208.6 56.2h0M210.2 64.6h0M205.8 81.4h0M200.1 67.6h0M206.7 63.9h0M210.1 79.8h0M202.5 82.3h0M201.3 78.7h0M210.3 80.1h0M202.3 71.1h0M209.7 58.8h0M204.1 74.4h0M212.4 79.0h0M220.8 68.4h0M211.2 64.5h0M206.9 81.6h0M203.1 67.8h0M203.7 61.8h0M213.2 85.7h0M214.8 69.6h0M209.7 64.9h0M215.4 64.5h0M209.3 70.2h0M209.9 77.8h0M201.5 68.2h0M208.6 59.6h0M207.2 87.2h0M205.8 71.4h0M211.8 65.2h0M212.5 66.7h0M196.9 67.3h0M217.1 67.3h0M201.0 67.1h0M198.2 79.3h0M207.0 56.3h0M208.6 78.5h0M202.2 75.9h0M219.7 75.1h0M201.5 77.0h0M206.7 75.7h0M200.6 70.5h0M211.4 78.2h0M202.6 76.2h0M206.9 59.5h0M204.8 83.9h0M198.1 68.6h0M194.4 67.4h0M202.2 75.3h0M218.5 67.4h0M208.5 61.1h0M210.6 70.5h0M208.5 71.7h0M216.7 65.3h0M203.2 53.8h0M200.5 64.9h0M201.2 56.2h0M204.5 65.6h0M217.1 67.5h0M204.8 58.1h0M210.4 85.5h0M210.0 55.4h0M212.8 58.6h0M215.7 59.4h0M209.9 82.5h0M199.8 60.0h0M209.9 77.6h0M203.3 66.2h0M212.2 70.7h0M208.0 52.4h0M202.4 66.9h0M201.7 80.7h0M205.3 82.3h0M205.3 54.8h0M205.0 58.6h0M214.2 66.2h0M206.0 54.0h0M214.4 73.3h0M200.1 67.6h0M209.3 65.3h0M201.0 60.5h0M219.1 84.2h0M216.6 76.8h0M204.5 71.5h0M210.2 68.4h0M216.4 82.7h0M210.2 80.7h0M195.7 74.5h0M195.3 67.5h0M219.0 83.1h0M201.6 73.5h0M207.6 79.3h0M213.8 84.0h0M205.1 52.2h0M221.2 65.9h0M215.2 57.3h0M200.0 74.7h0M211.4 73.3h0M197.9 76.1h0M202.4 70.5h0M215.3 73.0h0M212.0 69.6h0M208.9 77.7h0M196.2 67.7h0M215.7 61.9h0M202.8 79.1h0M215.5 77.6h0M207.2 60.9h0M215.2 71.6h0M197.9 63.4h0M197.3 79.7h0M218.4 65.5h0M214.7 61.3h0M210.3 83.5h0M211.5 84.4h0M218.8 73.4h0M206.0 71.1h0M215.5 84.0h0M211.5 61.8h0M200.5 83.3h0M199.8 71.3h0M207.1 74.1h0M198.2 76.9h0M211.0 72.0h0M206.4 74.2h0M217.4 81.4h0M199.1 68.6h0M215.8 66.2h0M210.7 80.9h0M212.0 61.9h0M221.6 70.8h0M203.0 79.6h0M209.4 54.3h0M205.8 77.3h0M206.4 70.5h0M220.0 73.9h0M209.5 87.0h0M200.4 60.6h0M210.8 65.1h0M200.3 69.4h0M211.6 82.4h0M214.4 80.0h0M204.2 60.5h0M215.1 81.2h0M216.7 77.5h0M196.3 75.9h0M217.2 58.2h0M204.0 59.3h0M198.7 65.9h0M199.5 68.2h0M217.0 77.6h0M210.8 74.3h0M202.8 56.3h0M213.6 80.9h0M198.2 74.7h0M209.3 65.3h0M204.3 62.0h0M212.6 69.2h0M215.8 84.2h0M199.4 64.1h0M201.7 76.0h0M198.2 72.5h0M211.3 53.4h0M207.4 61.4h0M197.8 67.2h0M206.3 72.7h0M199.4 66.5h0M212.8 63.2h0M204.8 61.5h0M208.0 80.8h0M199.2 69.9h0M211.1 61.9h0M201.2 70.0h0M196.4 63.6h0M211.6 85.2h0M211.6 68.6h0M209.5 78.4h0M203.3 57.6h0M209.4 77.3h0M203.7 53.4h0M212.2 70.8h0M204.5 74.8h0M217.9 62.4h0M204.2 75.6h0M202.8 83.3h0M204.1 74.4h0M212.4 69.3h0M221.4 67.8h0M219.7 73.3h0M207.3 80.8h0M212.3 58.2h0M215.5 55.7h0M212.6 87.9h0M205.4 81.7h0M220.5 65.6h0M208.5 70.5h0M198.2 68.2h0M210.6 61.8h0M212.0 83.7h0M213.1 61.8h0M194.7 74.2h0M220.1 76.4h0M198.5 62.3h0M218.9 70.5h0M203.8 66.5h0M211.8 57.3h0M210.8 74.5h0M209.5 53.8h0M207.7 67.2h0M212.9 85.1h0M216.6 83.1h0M212.9 74.5h0M195.9 76.6h0M219.7 74.3h0M200.0 65.1h0M216.5 81.5h0M201.1 60.7h0M220.7 73.8h0M209.0 73.3h0M214.6 58.2h0M212.4 73.4h0M202.5 50.9h0M204.0 73.0h0M205.3 83.9h0M201.5 81.0h0M202.4 71.2h0M217.7 85.3h0M208.3 62.4h0M203.7 61.0h0M197.8 59.6h0M202.6 69.9h0M215.3 67.5h0M211.6 67.7h0M203.8 64.5h0M210.9 83.0h0M216.8 70.0h0M209.1 79.1h0M216.7 71.3h0M198.4 67.5h0M214.1 62.4h0M212.9 61.0h0M215.0 86.2h0M210.3 61.2h0M208.1 82.4h0M207.6 64.4h0M213.4 63.1h0M200.9 83.1h0M217.1 83.7h0M196.6 64.8h0M216.3 59.1h0M218.0 77.3h0M205.0 83.4h0M204.7 82.2h0M196.4 71.3h0M206.2 72.6h0M217.1 60.2h0M198.2 60.3h0M215.7 64.0h0M218.9 68.6h0M215.6 59.2h0M199.6 60.5h0M200.6 71.4h0M210.5 53.5h0M202.3 84.6h0M201.3 60.6h0M200.4 70.2h0M209.2 85.5h0M214.3 87.9h0M197.9 77.1h0M206.9 57.5h0M199.4 76.6h0M208.8 58.5h0M195.6 66.3h0M213.7 78.5h0M205.8 75.8h0M209.0 70.0h0M200.9 74.4h0M202.2 82.1h0M214.1 71.0h0M219.2 75.8h0M204.3 78.7h0M213.8 78.4h0M205.0 58.8h0M196.2 75.2h0M208.0 84.4h0M217.6 80.1h0M209.0 78.6h0M209.8 77.9h0M208.9 81.2h0M204.5 74.9h0M217.6 77.6h0M200.3 79.8h0M218.3 79.6h0M221.2 69.8h0M218.1 67.9h0M204.2 66.9h0M206.8 83.0h0M215.5 71.7h0M196.7 70.9h0M202.8 74.8h0M198.8 72.5h0M210.0 55.0h0M210.7 71.3h0M218.3 72.1h0M196.7 57.8h0M201.0 64.8h0M202.5 79.7h0M209.9 55.8h0M200.6 57.9h0M220.5 74.0h0M202.6 53.0h0M206.3 60.1h0M195.8 62.2h0M214.5 58.5h0M217.3 72.3h0M208.6 79.3h0M211.8 70.8h0M203.8 59.6h0M212.0 70.6h0M214.1 74.6h0M217.5 70.2h0M212.5 61.3h0M206.7 82.7h0M211.5 65.1h0M205.1 62.2h0M218.2 69.9h0M211.6 62.1h0M198.2 73.9h0M215.0 55.5h0M196.5 71.2h0M202.1 74.0h0M205.7 82.0h0M219.4 74.9h0M196.5 60.3h0M204.5 81.4h0M203.8 82.2h0M209.6 75.1h0M197.3 68.2h0M218.6 71.7h0M215.6 82.8h0M200.6 71.6h0M212.4 78.1h0M196.5 70.2h0M213.2 56.3h0M205.4 62.8h0M209.0 78.6h0M208.9 55.3h0M204.5 78.7h0M210.4 70.3h0M219.7 69.4h0M197.2 70.4h0M208.4 78.0h0M196.8 69.5h0M204.2 71.3h0M198.3 68.5h0M199.6 76.3h0M202.3 67.7h0M214.5 85.7h0M216.3 64.1h0M211.3 62.3h0M216.1 74.1h0M199.2 75.1h0M217.1 74.3h0M208.6 87.2h0M199.5 57.8h0M221.1 67.3h0M197.1 67.4h0M201.0 59.5h0M217.3 71.6h0M199.5 65.5h0M211.2 80.0h0M203.4 82.9h0M205.3 66.2h0M213.5 76.4h0M198.9 62.2h0M213.9 69.9h0M215.2 78.4h0M211.6 59.7h0M207.6 74.1h0M202.0 67.6h0M203.4 58.8h0M210.6 55.5h0M211.3 59.2h0M216.5 77.1h0M217.2 78.2h0M207.0 76.3h0M198.1 75.7h0M212.4 84.9h0M207.7 56.5h0M200.8 69.4h0M215.0 74.1h0M200.9 64.5h0M213.1 62.6h0M216.1 78.4h0M220.8 73.1h0M216.3 77.3h0M207.2 70.5h0M200.9 69.6h0M206.8 64.9h0M212.2 63.3h0M198.4 63.0h0M210.6 75.6h0M195.3 74.8h0M207.0 75.6h0M201.4 74.1h0M220.7 69.8h0M203.9 83.6h0M215.6 58.7h0M198.7 63.8h0M218.2 60.3h0M200.2 82.4h0M218.0 62.5h0M213.4 75.8h0M200.8 77.7h0M205.3 60.4h0M211.1 86.2h0M220.1 84.5h0M207.8 76.0h0M201.6 57.5h0M211.2 83.9h0M203.6 84.3h0M214.0 79.8h0M218.4 68.7h0M213.8 85.4h0M209.8 71.6h0M197.0 74.2h0M206.5 64.0h0M209.0 81.9h0M200.6 63.3h0M197.9 68.0h0M210.0 80.8h0M214.1 70.0h0M210.1 67.7h0M210.4 83.2h0M217.1 75.0h0M207.7 69.3h0M213.8 65.2h0M202.0 62.5h0M209.7 57.1h0M200.6 66.1h0M216.4 59.7h0M206.7 62.3h0M209.2 54.1h0M210.2 72.1h0M205.2 86.1h0M206.3 56.3h0M199.5 59.8h0M212.6 84.0h0M196.4 65.1h0M201.0 59.6h0M202.6 66.7h0M201.1 68.1h0M218.7 67.9h0M198.2 68.3h0M210.6 61.9h0M216.9 68.5h0M209.7 70.2h0M205.8 64.1h0M198.5 70.8h0M198.4 73.9h0M203.8 57.7h0M210.8 77.8h0M205.3 81.5h0M204.0 55.6h0M212.4 56.9h0M202.9 57.6h0M207.1 80.4h0M210.6 64.3h0M213.0 58.1h0M202.8 70.3h0M208.9 83.0h0M218.5 77.6h0M217.6 62.1h0M196.4 64.8h0M212.9 66.5h0M202.0 75.6h0M215.9 68.4h0" stroke="#5484c8" stroke-opacity="0.45" stroke-width="1.2" stroke-linecap="round" fill="none"/>
<path d="M211.7 63.5h0M207.4 74.7h0M210.9 80.6h0M197.8 80.3h0M205.2 66.7h0M205.9 73.9h0M196.8 70.1h0M210.5 80.7h0M211.2 85.2h0M199.5 66.7h0M206.7 88.6h0M205.2 68.0h0M213.3 60.6h0M209.3 69.1h0M213.3 67.9h0M211.4 78.6h0M201.4 66.5h0M202.4 75.7h0M215.8 65.1h0M202.6 64.4h0M203.1 58.7h0M211.0 77.7h0M203.6 57.8h0M215.0 59.4h0M204.2 80.4h0M208.4 53.6h0M214.6 77.6h0M198.0 69.7h0M204.3 71.4h0M204.7 54.6h0M200.2 71.2h0M212.2 56.6h0M207.7 71.4h0M208.4 77.0h0M216.1 66.5h0M214.0 75.2h0M205.3 75.7h0M205.6 72.6h0M217.8 74.0h0M209.4 78.0h0M213.3 55.8h0M198.9 74.6h0M203.3 67.5h0M213.3 70.1h0M200.8 76.0h0M218.0 85.0h0M203.0 60.4h0M199.5 61.5h0M208.2 73.5h0M195.5 69.2h0M203.2 65.4h0M213.0 85.5h0M220.8 80.7h0M213.7 69.2h0M209.4 61.0h0M206.8 69.3h0M211.6 59.2h0M204.7 80.8h0M213.9 72.8h0M212.0 71.1h0M200.0 58.4h0M213.8 84.7h0M218.0 59.1h0M199.8 74.7h0M205.2 74.8h0M216.5 59.8h0M213.9 63.3h0M215.2 65.8h0M205.2 78.1h0M203.4 78.3h0M210.4 84.8h0M211.6 64.2h0M209.1 62.6h0M216.4 60.8h0M215.7 82.3h0M215.3 64.7h0M219.0 61.7h0M200.7 52.7h0M204.9 62.7h0M200.7 70.6h0M219.2 77.7h0M216.7 68.8h0M194.9 66.8h0M218.1 79.0h0M205.2 61.4h0M200.0 68.1h0M223.2 72.5h0M211.5 75.6h0M207.7 68.6h0M206.6 73.8h0M196.2 71.4h0M207.0 81.8h0M211.6 63.2h0M205.9 71.3h0M208.2 72.4h0M203.0 52.1h0M207.2 56.7h0M203.4 60.2h0M212.0 52.3h0M204.5 64.0h0M214.9 68.4h0M218.0 66.0h0M216.8 80.7h0M201.1 66.4h0M211.9 57.8h0M204.6 66.7h0M203.9 76.2h0M201.3 53.9h0M203.8 69.4h0M203.5 58.0h0M209.5 77.3h0M215.6 78.1h0M213.7 82.7h0M204.7 62.6h0M211.2 87.7h0M214.0 72.3h0M207.5 65.3h0M204.6 76.2h0M201.6 66.1h0M200.7 74.4h0M206.5 65.8h0M221.1 61.5h0M199.8 73.2h0M216.9 63.8h0M213.7 66.0h0M218.3 70.9h0M214.2 83.3h0M210.6 74.4h0M206.3 60.7h0M216.4 63.2h0M201.8 78.5h0M203.7 51.8h0M208.9 53.4h0M203.7 65.1h0M215.2 80.8h0M218.0 73.7h0M203.0 76.9h0M202.8 57.3h0M210.1 65.4h0M209.3 64.7h0M212.5 55.9h0M209.2 65.5h0M200.8 61.8h0M204.6 77.3h0M202.7 74.2h0M210.5 56.7h0M218.4 77.0h0M204.4 85.9h0M208.2 77.1h0M215.2 68.8h0M200.2 66.4h0M207.3 48.0h0M208.8 56.8h0M218.0 82.5h0M201.9 70.4h0M217.1 66.1h0M210.8 62.2h0M204.9 69.2h0M203.7 78.1h0M201.4 76.2h0M214.9 67.5h0M219.6 62.9h0M206.8 69.6h0M206.9 88.5h0M203.3 57.2h0M207.5 79.4h0M214.0 75.8h0M208.4 69.8h0M206.7 76.2h0M199.0 65.6h0M208.9 86.1h0M205.8 71.8h0M199.6 64.9h0M206.2 76.6h0M209.1 58.1h0M200.2 67.8h0M217.6 80.6h0M212.3 60.9h0M205.4 68.9h0M216.4 72.8h0M208.1 56.0h0M216.6 81.2h0M213.6 72.8h0M210.3 83.7h0M211.5 78.9h0M199.8 75.9h0M202.0 56.5h0M208.0 53.0h0M209.9 52.0h0M205.3 78.8h0M202.1 62.5h0M199.3 67.0h0M197.6 75.2h0M198.3 71.2h0M199.2 79.9h0M220.4 79.6h0M208.5 53.2h0M212.6 73.6h0M206.1 69.2h0M212.8 80.2h0M199.7 84.4h0M214.8 76.1h0M212.6 55.7h0M201.9 68.7h0M213.8 71.5h0M220.1 67.8h0M214.8 76.1h0M217.7 66.6h0M208.1 54.8h0M214.3 81.8h0M219.2 77.5h0M198.1 71.9h0M205.7 79.6h0M199.4 58.2h0M199.2 59.1h0M200.1 71.9h0M212.2 71.2h0M217.7 72.2h0M206.8 49.3h0M201.8 72.5h0M200.1 68.9h0M210.3 72.0h0M201.5 75.4h0M210.2 72.3h0M212.6 71.7h0M215.6 74.6h0M215.0 76.6h0M204.4 71.1h0M213.7 81.1h0M197.0 68.0h0M197.9 78.2h0M211.0 63.8h0M214.8 76.0h0M197.5 77.9h0M208.0 79.1h0M200.6 59.7h0M213.8 70.9h0M214.4 73.9h0M206.7 81.4h0M208.5 55.7h0M200.7 63.4h0M215.8 71.9h0M201.5 76.9h0M199.6 75.2h0M205.8 63.9h0M198.9 69.0h0M207.4 76.7h0M205.3 76.2h0M203.1 75.8h0M204.2 67.2h0" stroke="#8aaedc" stroke-opacity="0.4" stroke-width="1.2" stroke-linecap="round" fill="none"/>
<path d="M199.3 80.7h0M196.5 85.0h0M201.1 80.1h0M205.7 83.8h0M199.6 83.5h0M198.6 80.0h0M195.7 84.4h0M199.7 82.9h0M197.3 76.6h0M204.1 81.2h0M204.4 82.7h0M203.3 85.5h0M196.7 86.1h0M195.3 83.8h0M201.0 76.4h0M202.1 82.5h0M202.8 85.3h0M205.2 79.5h0M199.3 83.5h0M202.9 76.6h0M202.1 75.5h0M205.2 79.8h0M199.2 82.9h0M194.6 80.7h0M203.3 82.5h0M202.4 81.4h0M206.9 82.9h0M196.5 76.9h0M201.5 81.8h0M200.2 86.0h0M199.8 84.7h0M201.0 80.4h0M203.3 85.0h0M202.3 80.4h0M196.2 80.7h0M203.0 82.4h0M199.2 77.7h0M204.5 82.5h0M202.4 86.5h0M203.1 84.1h0M203.1 80.7h0M198.6 77.0h0M206.3 81.2h0M205.4 81.7h0M202.4 77.8h0M205.6 80.0h0M207.7 83.8h0M200.7 86.9h0M205.4 84.6h0M199.5 78.5h0M201.5 86.9h0M200.5 82.7h0M194.8 85.0h0M206.9 77.0h0M196.7 79.1h0M201.8 79.2h0M200.0 84.5h0M204.1 81.9h0M200.5 85.3h0M201.1 76.7h0M204.5 78.2h0M205.4 84.7h0M200.2 76.6h0M200.4 85.1h0M204.7 85.5h0M204.8 84.5h0M206.6 80.0h0M202.1 76.7h0M200.9 76.2h0M197.5 81.3h0M204.4 85.0h0M198.0 84.3h0M202.3 81.2h0M203.8 83.9h0M196.6 78.0h0M197.1 83.7h0M200.7 81.2h0M205.3 84.4h0M200.8 87.0h0M197.9 80.6h0M202.5 72.9h0M197.7 78.0h0M195.3 84.9h0M202.8 84.9h0M199.5 85.1h0M197.7 85.9h0M197.6 85.7h0M202.1 75.7h0M200.2 85.8h0M201.2 81.6h0M197.9 83.5h0M203.1 82.0h0M199.2 80.7h0M198.0 78.9h0M194.6 80.3h0M203.5 82.5h0M199.7 83.7h0M200.7 81.8h0M204.9 82.8h0M202.2 83.9h0M203.5 84.6h0M202.9 80.9h0M202.5 87.6h0M201.2 77.8h0M202.5 81.8h0M203.1 81.9h0M196.4 79.8h0M202.6 82.7h0M196.9 85.1h0M198.5 79.2h0" stroke="#a8c0e6" stroke-opacity="0.5" stroke-width="1.1" stroke-linecap="round" fill="none"/>
</g></g>
<rect x="163.5" y="36.5" width="65" height="64" fill="none" stroke="#222" stroke-width="1.2"/>
<clipPath id="cp03"><rect x="233.5" y="36.5" width="65" height="64"/></clipPath>
<g clip-path="url(#cp03)"><g>
<ellipse cx="259.50" cy="58.50" rx="6.80" ry="11.90" transform="rotate(15 259.50 58.50)" fill="#ececec" opacity="0.5" filter="url(#b3)"/>
<path d="M262.7 63.6h0M256.3 59.0h0M253.3 56.7h0M266.7 50.4h0M252.3 55.7h0M255.1 60.0h0M254.9 68.3h0M255.9 70.0h0M256.1 68.4h0M256.1 52.3h0M266.2 47.7h0M254.3 72.6h0M255.0 57.9h0M261.2 48.9h0M252.2 64.8h0M260.1 67.8h0M257.2 59.1h0M267.4 51.7h0M257.5 59.1h0M256.6 59.1h0M262.0 70.6h0M249.7 59.6h0M254.0 55.1h0M258.3 65.5h0M252.5 66.4h0M260.7 52.6h0M265.5 49.3h0M256.6 65.4h0M257.4 55.6h0M263.0 62.9h0M264.0 67.7h0M259.6 63.4h0M257.8 62.1h0M262.5 59.9h0M267.8 52.2h0M251.1 57.4h0M257.1 59.6h0M254.1 55.5h0M253.7 58.4h0M256.6 66.8h0M254.8 48.2h0M261.5 71.1h0M259.8 57.4h0M262.9 60.7h0M260.1 67.2h0M257.8 65.0h0M260.9 65.1h0M251.6 58.5h0M252.4 76.0h0M248.0 64.3h0M256.4 56.8h0M262.0 50.1h0M258.7 66.6h0M269.9 51.5h0M253.4 63.6h0M262.2 65.9h0M262.4 61.9h0M260.6 59.8h0M263.4 62.0h0M254.5 54.1h0M264.1 50.3h0M259.9 50.2h0M258.7 66.2h0M261.6 61.0h0M259.7 49.0h0M264.9 53.0h0M261.7 57.8h0M250.6 64.3h0M259.6 49.7h0M256.4 46.1h0M261.4 54.4h0M270.0 57.0h0M254.0 64.2h0M266.1 54.1h0M256.1 60.2h0M259.1 54.8h0M258.2 59.1h0M260.2 65.3h0M256.1 68.0h0M263.2 59.0h0M260.1 67.9h0M258.4 55.3h0M262.1 62.0h0M257.0 57.6h0M264.0 63.1h0M256.7 61.4h0M253.7 71.8h0M265.0 54.1h0M261.0 53.5h0M267.3 59.8h0M259.9 58.4h0M255.8 62.5h0M262.3 57.2h0M261.6 46.3h0M269.4 56.3h0M256.4 59.2h0M253.4 70.7h0M258.8 65.7h0M256.6 71.0h0M267.4 63.7h0M270.1 51.9h0M264.3 55.5h0M256.0 66.5h0M254.9 62.9h0M257.8 62.2h0M255.7 59.0h0M255.8 57.7h0M266.5 57.6h0M256.9 68.5h0M261.9 48.5h0M262.6 49.6h0M257.3 55.5h0M258.6 62.2h0M266.6 63.7h0M263.6 63.6h0M254.1 64.9h0M253.6 59.1h0M259.3 61.3h0M266.0 56.6h0M258.2 70.3h0M261.7 54.5h0M251.6 64.4h0M257.8 60.5h0M258.9 77.6h0M254.7 59.0h0M260.8 51.9h0M265.5 59.9h0M250.7 66.5h0M254.5 70.2h0M269.8 54.3h0M262.0 65.9h0M263.8 58.7h0M259.2 64.6h0M256.4 63.1h0M266.4 47.1h0M262.2 48.6h0M262.5 56.8h0M258.5 56.0h0M257.7 44.8h0M265.8 54.6h0" stroke="#9a9a9a" stroke-opacity="0.35" stroke-width="1.1" stroke-linecap="round" fill="none"/>
<ellipse cx="255.50" cy="65.50" rx="6.80" ry="5.95" transform="rotate(0 255.50 65.50)" fill="#fae8ec" opacity="0.45" filter="url(#b3)"/>
<path d="M257.8 66.6h0M252.5 75.1h0M259.6 62.6h0M257.4 71.1h0M250.9 70.5h0M256.2 62.6h0M261.2 66.1h0M255.9 63.8h0M255.9 64.0h0M262.7 66.2h0M254.8 61.9h0M252.3 61.8h0M252.5 60.1h0M266.1 66.4h0M259.7 66.3h0M255.1 66.9h0M256.4 63.7h0M251.7 70.0h0M259.1 67.3h0M249.9 64.0h0M250.7 70.5h0M257.8 69.2h0M260.3 63.3h0M251.3 63.2h0M249.0 60.2h0M263.9 67.1h0M246.7 68.7h0M247.8 61.6h0M263.1 68.3h0M252.0 65.9h0M256.8 63.7h0M259.5 64.6h0M258.5 61.9h0M254.4 63.3h0M257.8 65.8h0M252.0 62.4h0M254.8 64.1h0M257.7 64.7h0M253.0 65.4h0M263.1 64.8h0M255.1 65.4h0M253.9 64.1h0M253.9 63.7h0M260.9 66.2h0M253.0 73.5h0M249.0 62.4h0M255.9 64.0h0M246.0 62.8h0M261.5 69.7h0M254.7 63.2h0M262.2 65.7h0M255.4 59.9h0M251.0 71.4h0M252.3 69.4h0M263.5 66.3h0M255.6 70.0h0M251.3 65.6h0M255.8 66.3h0M256.3 70.1h0M249.1 64.6h0M253.4 68.9h0M260.2 68.0h0M253.2 64.4h0M254.6 68.7h0M258.8 64.1h0M251.6 66.8h0M251.4 64.2h0M255.2 67.9h0M248.5 65.7h0M255.1 69.8h0M256.3 66.4h0M259.3 67.2h0M256.2 60.4h0M251.2 70.4h0M245.9 65.8h0M259.2 60.1h0M258.2 65.7h0M255.2 65.1h0M260.3 68.9h0M258.0 67.7h0" stroke="#e08898" stroke-opacity="0.25" stroke-width="1.1" stroke-linecap="round" fill="none"/>
<path d="M247.9 59.8h0M244.6 56.5h0M246.9 54.3h0M247.3 58.7h0M248.8 58.1h0M245.1 59.2h0M247.6 60.5h0M244.7 58.0h0M245.3 59.9h0M245.9 60.9h0M246.3 55.3h0M248.4 56.4h0" stroke="#707070" stroke-opacity="0.45" stroke-width="1.1" stroke-linecap="round" fill="none"/>
<ellipse cx="278.30" cy="70.30" rx="11.22" ry="15.30" transform="rotate(-10 278.30 70.30)" fill="#6792cf" opacity="1.0" filter="url(#b1)"/>
<path d="M267.4 69.7h0M269.2 76.4h0M282.6 67.5h0M271.1 64.2h0M270.7 56.7h0M280.5 79.8h0M276.4 64.3h0M278.3 75.7h0M280.7 58.0h0M276.5 61.5h0M267.3 58.2h0M274.1 79.3h0M278.2 73.3h0M269.6 81.1h0M268.0 71.7h0M288.2 84.6h0M270.0 66.0h0M279.5 70.5h0M279.5 69.5h0M281.5 79.7h0M272.5 63.6h0M275.5 65.2h0M280.3 77.5h0M285.1 70.0h0M274.7 64.0h0M278.0 79.9h0M287.3 60.4h0M287.1 60.0h0M280.8 68.4h0M271.6 62.8h0M284.0 73.9h0M269.5 63.5h0M272.0 56.8h0M265.7 67.0h0M273.4 79.4h0M277.7 59.4h0M266.5 70.0h0M267.2 72.4h0M280.7 53.7h0M290.5 75.2h0M271.2 68.5h0M269.1 61.4h0M269.3 65.8h0M284.8 70.2h0M267.4 73.1h0M269.9 66.6h0M274.0 83.7h0M274.2 61.4h0M280.7 61.8h0M282.7 81.4h0M278.1 67.8h0M275.6 80.4h0M285.3 69.8h0M280.7 65.3h0M273.4 68.3h0M288.8 76.5h0M282.7 77.6h0M279.5 66.6h0M274.7 58.7h0M283.8 70.9h0M291.8 73.2h0M274.4 72.2h0M273.7 80.5h0M272.4 78.7h0M268.8 64.1h0M280.6 79.3h0M288.4 79.5h0M289.4 64.3h0M279.7 81.1h0M277.5 79.1h0M266.4 64.9h0M269.8 74.3h0M277.0 63.2h0M269.7 64.8h0M283.7 82.5h0M279.9 58.2h0M277.0 73.2h0M291.5 72.8h0M270.8 57.8h0M271.2 53.4h0M273.9 63.0h0M273.7 66.6h0M269.5 68.7h0M269.2 70.4h0M277.2 85.4h0M284.1 64.9h0M281.6 51.1h0M267.9 64.2h0M285.8 76.5h0M268.5 68.7h0M281.6 84.7h0M280.6 55.5h0M282.3 66.8h0M269.0 67.4h0M278.1 81.9h0M284.5 58.0h0M279.0 80.3h0M274.0 67.1h0M281.2 58.9h0M273.3 72.8h0M273.4 74.6h0M283.9 66.3h0M269.7 81.5h0M270.1 75.0h0M271.9 70.9h0M268.2 59.5h0M269.1 81.1h0M277.0 78.4h0M282.8 75.4h0M276.4 62.5h0M271.3 59.6h0M284.6 68.0h0M273.0 72.6h0M286.2 78.5h0M283.7 66.9h0M269.6 80.4h0M275.8 63.2h0M279.6 78.7h0M273.6 57.6h0M279.0 70.8h0M287.3 66.7h0M270.8 73.2h0M285.9 64.1h0M272.7 62.4h0M277.9 56.2h0M268.3 58.8h0M269.7 78.2h0M289.3 74.6h0M271.0 56.2h0M288.1 80.0h0M281.9 66.5h0M285.9 65.3h0M277.1 81.6h0M280.6 80.5h0M277.2 68.3h0M281.5 71.6h0M280.3 66.3h0M271.6 58.7h0M286.9 76.6h0M286.5 71.5h0M282.6 61.2h0M281.5 55.2h0M279.8 59.7h0M277.1 60.1h0M277.0 60.0h0M284.9 65.9h0M283.4 77.0h0M277.8 72.8h0M273.5 63.2h0M275.6 74.5h0M280.1 64.9h0M284.7 56.5h0M275.7 82.2h0M279.3 82.1h0M281.1 87.5h0M287.5 67.5h0M277.9 63.7h0M282.3 65.4h0M289.6 72.0h0M269.3 80.6h0M277.5 67.6h0M269.6 57.3h0M281.0 63.2h0M285.8 79.8h0M286.7 63.9h0M271.7 70.4h0M288.5 75.8h0M289.6 72.0h0M289.5 74.7h0M278.0 67.3h0M280.2 82.0h0M277.3 85.0h0M271.7 66.8h0M278.5 70.6h0M291.3 68.8h0M270.6 71.5h0M281.2 55.6h0M277.7 77.9h0M286.1 80.5h0M280.9 74.8h0M274.6 75.0h0M279.5 57.0h0M284.6 81.3h0M269.7 60.8h0M273.1 66.5h0M276.9 76.7h0M281.4 66.4h0M280.1 83.9h0M279.3 64.8h0M272.9 74.5h0M277.3 59.0h0M282.4 56.9h0M286.7 71.5h0M280.2 83.5h0M273.1 55.7h0M279.7 70.5h0M278.3 82.7h0M269.8 58.9h0M266.9 75.4h0M282.9 61.3h0M272.7 78.1h0M286.0 79.3h0M267.9 61.7h0M285.8 60.3h0M272.3 73.8h0M272.2 74.4h0M271.1 79.3h0M290.0 81.0h0M274.1 64.2h0M277.4 55.5h0M279.0 70.3h0M289.8 71.8h0M289.5 69.0h0M277.8 84.9h0M273.8 57.8h0M281.6 64.6h0M278.8 63.9h0M270.7 74.5h0M290.0 77.9h0M289.3 69.8h0M285.2 68.5h0M274.6 54.0h0M284.8 72.2h0M284.4 71.6h0M279.3 78.1h0M286.2 83.4h0M274.5 72.7h0M272.4 65.0h0M282.9 76.7h0M275.2 60.3h0M289.8 77.1h0M272.3 74.7h0M288.9 70.6h0M283.6 84.4h0M276.9 65.0h0M281.7 62.2h0M275.6 84.4h0M268.4 72.0h0M277.6 68.9h0M276.0 66.7h0M272.6 61.1h0M272.0 57.4h0M269.6 59.8h0M281.3 53.6h0M279.2 77.5h0M276.9 69.0h0M279.9 85.7h0M269.3 79.5h0M274.1 52.4h0M277.3 57.9h0M275.8 60.3h0M285.3 56.5h0M272.1 61.9h0M287.2 76.9h0M279.0 85.3h0M271.0 68.5h0M280.3 72.6h0M267.9 61.3h0M283.5 54.5h0M280.6 69.4h0M283.2 85.5h0M279.9 54.6h0M273.1 60.8h0M282.9 61.1h0M271.2 79.7h0M271.9 66.2h0M282.8 82.3h0M285.0 83.3h0M272.0 79.6h0M265.5 70.5h0M265.5 59.7h0M279.4 76.3h0M275.6 75.6h0M277.0 80.0h0M278.5 78.1h0M285.1 67.6h0M276.7 74.2h0M272.6 78.7h0M268.5 69.1h0M276.5 68.7h0M267.8 57.9h0M275.1 73.9h0M270.8 67.5h0M290.4 68.0h0M269.7 70.1h0M271.4 65.0h0M274.9 59.5h0M282.5 54.4h0M290.2 69.4h0M272.0 78.6h0M278.1 68.4h0M277.1 58.8h0M283.3 66.0h0M265.2 68.9h0M283.9 66.0h0M270.7 83.5h0M274.7 58.2h0M280.3 56.7h0M270.6 70.9h0M277.3 74.5h0M271.4 68.5h0M277.9 58.1h0M286.0 83.7h0M271.7 64.5h0M268.6 65.9h0M283.5 58.9h0M282.9 86.0h0M273.4 59.4h0M268.2 74.5h0M270.9 53.6h0M275.7 70.4h0M269.0 76.2h0M277.8 66.3h0M278.9 53.9h0M284.7 80.2h0M266.1 68.4h0M276.0 65.3h0M274.0 71.0h0M268.6 57.4h0M290.8 70.7h0M283.9 64.0h0M287.9 74.7h0M285.7 57.9h0M268.1 66.1h0M281.6 54.7h0M276.0 68.1h0M272.1 82.6h0M286.4 81.1h0M280.5 82.0h0M278.0 63.0h0M282.7 55.4h0M275.6 70.5h0M277.3 80.2h0M284.5 62.7h0M274.2 60.7h0M279.4 58.9h0M269.3 77.8h0M269.4 73.9h0M287.1 62.6h0M272.5 74.2h0M283.3 69.6h0M266.1 64.6h0M274.6 53.6h0M277.4 70.7h0M275.4 88.0h0M289.4 82.2h0M280.2 80.7h0M283.9 79.9h0M267.9 62.9h0M270.5 55.6h0M270.3 71.0h0M276.4 87.2h0M278.3 63.0h0M284.0 57.2h0M285.7 85.2h0M287.1 79.3h0M272.6 74.5h0M272.0 63.6h0M278.9 78.4h0M285.6 72.2h0M279.2 85.4h0M286.7 80.9h0M276.4 85.0h0M265.7 67.0h0M287.9 81.8h0M284.4 82.7h0M272.9 55.6h0M279.9 65.0h0M271.8 81.0h0M284.5 56.6h0M279.4 65.0h0M276.9 65.0h0M282.5 54.6h0M288.8 76.5h0M286.3 76.0h0M268.5 70.9h0M271.7 73.4h0M280.4 54.7h0M270.0 73.3h0M268.9 66.7h0M275.9 57.6h0M285.9 68.7h0M271.0 55.4h0M291.2 69.6h0M289.8 72.3h0M281.5 58.8h0M276.9 61.8h0M282.5 87.0h0M268.1 61.8h0M275.8 78.0h0M288.0 64.0h0M272.4 56.3h0M281.2 66.3h0M280.2 57.9h0M283.2 61.5h0M281.3 64.4h0M270.7 67.9h0M273.9 78.6h0M279.7 62.0h0M279.9 63.9h0M288.9 79.9h0M270.5 63.0h0M269.2 65.2h0M269.8 73.4h0M269.8 65.3h0M273.8 58.8h0M280.2 59.7h0M271.9 64.2h0M276.5 63.4h0M273.0 58.9h0M267.6 65.4h0M264.8 67.1h0M278.3 60.6h0M288.2 66.3h0M284.6 81.2h0M280.9 67.0h0M275.7 71.3h0M278.8 53.2h0M285.3 78.3h0M283.1 70.2h0M288.5 79.4h0M282.1 56.3h0M281.9 62.4h0M276.5 74.8h0M267.9 66.2h0M286.5 76.7h0M277.3 57.0h0M289.7 74.5h0M289.2 60.2h0M280.3 60.0h0M265.8 61.6h0M281.6 66.0h0M276.4 83.4h0M290.6 66.4h0M273.9 64.5h0M289.1 73.1h0M266.0 72.2h0M285.3 54.9h0M266.0 76.1h0M289.7 75.6h0M275.7 86.7h0M282.9 68.6h0M278.5 84.7h0M274.9 54.8h0M280.7 75.3h0M270.8 67.1h0M272.7 59.7h0M270.9 61.5h0M272.1 79.1h0M278.9 81.8h0M275.0 83.6h0M284.5 82.6h0M276.0 59.8h0M274.3 74.2h0M270.4 56.5h0M277.7 85.5h0M266.3 75.2h0M280.8 56.1h0M271.1 67.6h0M270.4 73.9h0M267.9 70.7h0M281.5 66.9h0M279.8 57.9h0M282.3 52.3h0M276.9 55.1h0M267.2 73.5h0M273.8 80.6h0M266.4 66.8h0M274.8 62.2h0M280.1 72.2h0M280.1 75.3h0M283.1 80.9h0M284.5 71.0h0M281.1 81.9h0M277.6 66.7h0M286.3 81.4h0M274.7 68.8h0M280.2 61.5h0M278.8 54.9h0M266.3 65.8h0M276.4 73.2h0M265.3 64.0h0M268.3 78.9h0M267.4 70.2h0M274.9 74.7h0M274.0 67.0h0M275.1 53.4h0M277.6 87.0h0M283.5 66.2h0M283.4 54.1h0M286.3 79.8h0M280.9 53.6h0M281.7 56.6h0M288.1 75.5h0M273.6 66.7h0M272.8 79.7h0M285.6 79.8h0M286.5 63.6h0M273.5 70.7h0M273.0 71.1h0M289.4 73.6h0M274.9 56.2h0M285.4 77.5h0M271.4 65.3h0M279.6 62.7h0M281.1 82.0h0M278.0 88.0h0M271.3 80.7h0M279.5 54.2h0M286.9 85.3h0M281.0 63.0h0M277.9 85.2h0M288.1 66.8h0M283.2 83.2h0M282.6 88.7h0M279.8 56.3h0M291.2 77.6h0M289.8 64.9h0M268.2 72.1h0M274.7 77.6h0M279.5 71.2h0M275.2 65.6h0M280.0 82.2h0M279.2 69.5h0M273.6 83.5h0M291.0 77.6h0M282.2 61.3h0M273.1 55.2h0M282.0 73.8h0M279.9 65.4h0M282.9 56.8h0M290.4 67.1h0M284.9 77.6h0M273.5 86.9h0M281.5 64.7h0M273.5 66.1h0M280.0 60.3h0M279.1 69.1h0M288.0 63.5h0M284.9 61.7h0M283.8 82.2h0M270.4 61.4h0M280.3 71.5h0M280.2 67.9h0M284.8 80.8h0M279.0 55.0h0M279.3 68.3h0M276.9 75.3h0M269.8 76.4h0M284.8 71.6h0M268.9 60.6h0M267.7 77.2h0M276.0 75.7h0M270.6 60.3h0M271.2 60.2h0M274.8 66.4h0M274.0 62.5h0M288.5 63.5h0M269.0 61.7h0M275.0 74.7h0M273.9 57.5h0M278.7 83.8h0M290.1 68.8h0M271.5 62.4h0M277.5 83.3h0M273.3 75.2h0M290.0 67.2h0M266.2 69.3h0M273.6 57.8h0M271.3 68.8h0M283.0 86.0h0M278.8 90.2h0M289.3 82.7h0M268.3 80.7h0M282.0 82.3h0M278.8 66.3h0M281.1 75.9h0M282.3 58.6h0M285.9 60.6h0M284.1 57.1h0M283.1 79.7h0M270.5 70.5h0M274.9 66.2h0M279.3 58.1h0M283.5 60.7h0M278.9 64.0h0M284.9 77.1h0M275.2 64.2h0M290.1 73.6h0M269.5 64.9h0M282.9 66.5h0M282.1 53.0h0M271.3 78.6h0M280.2 85.5h0M288.4 82.1h0M282.3 68.0h0M282.5 64.3h0M276.1 74.4h0M282.1 57.5h0M270.0 77.0h0M273.2 75.8h0M279.0 63.9h0M280.0 58.4h0M274.6 80.8h0M279.3 61.8h0M275.2 75.6h0M284.3 69.7h0M283.7 53.9h0M278.2 63.0h0M272.9 72.7h0M283.0 81.0h0M281.8 82.6h0M279.2 59.1h0M287.2 59.5h0M279.2 87.2h0M272.4 70.3h0M279.0 60.9h0M286.9 65.4h0M277.9 54.7h0M288.1 75.0h0M270.2 79.0h0M281.5 74.9h0M279.4 52.9h0M278.8 55.8h0M283.9 67.4h0M284.4 59.7h0M271.4 72.0h0M289.1 70.0h0M275.8 84.7h0M285.0 67.1h0M271.6 71.7h0M284.4 57.7h0M274.1 56.8h0M268.4 67.6h0M273.3 71.1h0M291.8 67.2h0M281.7 63.3h0M276.8 72.4h0M271.7 66.9h0M280.7 64.6h0M283.3 64.9h0M278.1 73.4h0M282.4 78.9h0M277.7 76.3h0M275.0 58.6h0M277.6 76.9h0M278.0 77.4h0M282.5 83.1h0M270.6 58.5h0M274.3 72.7h0M293.3 76.8h0M271.9 59.5h0M278.6 66.6h0M282.9 64.8h0M273.3 87.2h0M268.4 69.8h0M281.5 54.6h0M272.0 56.7h0M282.1 68.8h0M283.8 65.5h0M268.6 77.6h0M275.0 54.8h0M276.6 80.0h0M285.0 80.7h0M288.3 65.5h0M282.1 67.7h0M286.2 75.1h0M276.2 83.2h0M273.3 66.4h0M271.2 71.2h0M265.8 65.6h0M287.5 60.6h0M276.0 53.1h0M265.4 67.4h0M276.8 73.8h0M273.1 58.1h0M275.9 79.3h0M277.9 64.5h0M270.2 83.3h0M273.0 64.7h0M274.9 74.3h0M281.4 81.2h0M284.6 64.6h0M286.0 55.0h0M278.0 67.8h0M289.3 79.8h0M274.0 72.2h0M287.7 78.0h0M287.7 70.1h0M287.1 75.7h0M268.2 77.1h0M283.0 83.1h0M273.9 82.3h0M267.9 62.3h0M266.2 72.9h0M280.7 79.5h0M282.0 83.0h0M272.6 69.6h0M287.2 66.9h0M285.7 60.8h0" stroke="#5484c8" stroke-opacity="0.45" stroke-width="1.2" stroke-linecap="round" fill="none"/>
<path d="M286.7 74.6h0M272.2 68.0h0M273.0 76.9h0M278.5 63.4h0M288.4 57.9h0M288.7 75.8h0M281.7 79.5h0M278.5 73.1h0M275.2 60.8h0M283.1 68.0h0M288.2 72.8h0M283.6 65.0h0M274.6 76.6h0M278.7 71.6h0M283.3 84.0h0M278.9 67.7h0M279.8 86.0h0M281.4 63.8h0M287.8 79.7h0M267.7 61.1h0M267.3 67.8h0M276.1 83.4h0M274.3 88.3h0M279.3 58.3h0M268.1 77.5h0M283.9 73.8h0M269.2 81.6h0M276.6 73.4h0M279.6 72.9h0M276.4 67.2h0M283.2 71.8h0M287.6 69.0h0M281.5 76.9h0M269.7 67.3h0M273.4 82.2h0M281.2 67.0h0M274.6 61.5h0M281.4 79.1h0M283.7 69.6h0M271.6 60.0h0M278.9 64.1h0M276.5 70.6h0M275.7 80.4h0M266.5 75.2h0M276.6 76.2h0M283.3 75.8h0M285.7 82.8h0M272.1 66.5h0M270.7 76.2h0M282.9 59.3h0M264.4 67.1h0M286.3 71.0h0M286.7 53.5h0M277.5 58.7h0M273.9 57.4h0M277.5 73.0h0M273.1 59.3h0M277.1 60.9h0M272.2 71.4h0M285.3 66.2h0M266.5 75.1h0M268.2 80.9h0M268.8 59.4h0M279.6 63.7h0M283.5 66.5h0M287.0 79.1h0M267.3 65.2h0M270.7 75.1h0M274.5 65.1h0M276.5 70.9h0M285.5 86.5h0M269.7 67.0h0M274.5 63.0h0M277.7 84.4h0M273.7 71.3h0M277.9 81.1h0M294.4 74.1h0M277.3 75.8h0M275.9 72.3h0M271.7 61.9h0M266.2 66.6h0M280.3 80.0h0M280.1 82.5h0M271.3 56.6h0M278.2 77.6h0M281.5 62.1h0M268.7 74.0h0M271.7 70.0h0M276.8 74.8h0M275.2 83.2h0M273.9 75.2h0M277.2 79.4h0M273.8 65.7h0M280.8 71.4h0M277.4 79.1h0M279.5 57.4h0M290.2 72.6h0M272.5 83.6h0M285.9 77.9h0M280.5 72.2h0M290.0 87.3h0M285.4 61.2h0M283.8 75.4h0M281.2 56.3h0M284.9 59.7h0M273.3 71.8h0M282.2 85.0h0M275.1 70.4h0M286.2 63.4h0M282.4 64.7h0M290.2 71.8h0M285.3 84.2h0M279.8 65.1h0M269.8 63.8h0M281.5 65.0h0M268.0 70.5h0M276.3 75.4h0M270.0 76.4h0M277.2 74.8h0M265.3 58.7h0M271.8 75.1h0M280.6 73.2h0M275.4 52.0h0M283.8 74.3h0M274.2 65.1h0M279.3 55.0h0M273.2 65.0h0M281.6 62.3h0M272.0 80.1h0M276.4 71.3h0M285.3 66.8h0M280.6 71.9h0M270.3 85.0h0M277.5 58.9h0M277.5 63.1h0M277.8 62.4h0M279.7 73.9h0M284.6 67.0h0M293.6 68.6h0M283.6 83.3h0M267.8 67.8h0M270.8 55.9h0M277.5 66.5h0M280.0 70.1h0M280.4 76.0h0M289.2 72.2h0M286.0 81.1h0M284.6 76.7h0M286.9 66.3h0M276.2 68.6h0M281.9 52.6h0M282.8 83.5h0M277.0 54.6h0M283.6 87.9h0M275.4 66.4h0M263.5 62.6h0M283.5 80.7h0M285.8 82.5h0M281.1 55.6h0M273.0 73.4h0M271.7 78.0h0M268.1 61.0h0M267.1 76.4h0M283.3 67.0h0M274.7 80.4h0M284.8 79.6h0M273.8 80.0h0M278.8 57.4h0M281.8 81.9h0M272.5 72.7h0M274.9 75.2h0M273.3 83.7h0M280.1 84.9h0M283.7 78.2h0M276.6 77.5h0M276.0 72.2h0M274.8 62.5h0M281.2 59.0h0M269.5 68.9h0M283.0 75.2h0M282.7 57.1h0M272.2 55.0h0M280.9 80.6h0M276.8 74.2h0M278.0 63.7h0M283.4 65.7h0M277.7 72.2h0M284.8 60.4h0M288.8 74.2h0M283.7 67.7h0M274.8 77.9h0M273.6 75.1h0M282.0 78.4h0M288.3 70.5h0M274.4 56.3h0M286.7 84.9h0M272.5 64.2h0M268.2 60.3h0M278.5 56.9h0M276.3 71.5h0M280.2 74.6h0M287.1 63.4h0M275.9 74.5h0M270.4 80.6h0M278.8 81.3h0M273.6 77.7h0M273.2 67.8h0M276.3 80.2h0M276.1 59.9h0M272.9 56.3h0M271.4 74.6h0M273.7 66.5h0M274.9 82.3h0M271.2 69.1h0M277.3 77.7h0M276.1 69.5h0M284.9 63.9h0M268.1 71.4h0M272.0 67.4h0M275.0 72.9h0M269.5 72.1h0M272.5 86.8h0M285.1 56.6h0M283.0 69.6h0M276.0 81.9h0M270.9 77.4h0M278.0 73.1h0M278.7 61.3h0M284.0 57.5h0M289.7 61.4h0M284.8 68.7h0M274.5 79.4h0M285.9 73.2h0M277.9 50.2h0M286.2 72.9h0M282.8 65.5h0M278.1 74.7h0M278.7 74.7h0M277.8 73.3h0M281.4 78.3h0M280.0 65.5h0M279.2 78.4h0M278.8 70.8h0M286.5 72.7h0M275.0 66.6h0M287.5 73.7h0M274.0 54.4h0M279.1 66.5h0M289.0 74.6h0M270.1 81.3h0" stroke="#8aaedc" stroke-opacity="0.4" stroke-width="1.2" stroke-linecap="round" fill="none"/>
<path d="M267.8 82.5h0M271.1 77.6h0M270.1 77.4h0M274.3 84.6h0M274.4 84.2h0M274.0 81.3h0M273.7 76.2h0M267.8 81.2h0M274.3 86.4h0M272.7 83.7h0M274.1 81.9h0M267.5 83.4h0M267.1 77.7h0M274.5 79.7h0M276.1 78.9h0M271.4 84.0h0M274.0 84.3h0M276.2 80.9h0M273.3 76.2h0M270.5 88.0h0M271.5 86.4h0M272.6 81.5h0M274.7 76.6h0M274.8 78.9h0M268.9 82.3h0M271.8 86.1h0M270.4 76.1h0M276.5 82.9h0M273.0 82.7h0M274.8 83.1h0M270.2 88.4h0M274.5 81.5h0M273.3 84.8h0M272.9 78.6h0M271.9 83.3h0M266.6 79.7h0M274.7 78.5h0M274.0 84.5h0M268.9 78.6h0M268.3 81.5h0M271.3 79.0h0M273.2 78.3h0M273.5 82.5h0M270.1 85.0h0M272.1 77.3h0M271.8 77.8h0M270.6 83.8h0M273.6 84.1h0M268.9 83.9h0M274.8 83.1h0M269.6 83.7h0M275.9 85.1h0M267.7 84.7h0M272.3 81.2h0M273.2 85.4h0M274.6 81.8h0M271.4 84.5h0M273.9 80.0h0M269.4 84.4h0M272.6 77.2h0M272.4 79.3h0M274.9 81.5h0M272.7 86.2h0M266.7 78.6h0M271.3 77.1h0M276.6 81.1h0M268.3 83.9h0M272.1 85.6h0M271.1 77.3h0M274.2 79.6h0M273.9 76.4h0M270.2 80.9h0M274.2 75.4h0M276.5 81.6h0M267.5 81.5h0M275.1 79.1h0M271.6 84.3h0M270.8 86.5h0M268.9 82.2h0M267.8 80.2h0M271.7 84.0h0M268.5 79.6h0M270.3 85.2h0M273.3 85.5h0M265.0 79.5h0M267.7 80.2h0M277.1 84.1h0M275.2 82.8h0M275.6 81.6h0M266.2 79.3h0M274.5 76.5h0M275.0 81.8h0M275.1 79.8h0M268.5 83.2h0M268.5 84.5h0M270.6 86.6h0M273.7 82.4h0M274.4 78.2h0M272.8 87.5h0M271.4 76.2h0M270.6 84.7h0M267.6 78.7h0M273.3 79.6h0M271.8 83.0h0M267.1 80.8h0M268.6 76.6h0M267.3 84.3h0M273.7 83.5h0M266.0 81.4h0M267.1 79.6h0" stroke="#a8c0e6" stroke-opacity="0.5" stroke-width="1.1" stroke-linecap="round" fill="none"/>
</g></g>
<rect x="233.5" y="36.5" width="65" height="64" fill="none" stroke="#222" stroke-width="1.2"/>
<clipPath id="cp10"><rect x="23.5" y="105.5" width="65" height="64"/></clipPath>
<g clip-path="url(#cp10)"><g>
<ellipse cx="67.00" cy="139.50" rx="9.78" ry="12.32" transform="rotate(0 67.00 139.50)" fill="#d8e4f4" opacity="0.9" filter="url(#b3)"/>
<path d="M63.4 124.9h0M64.9 140.3h0M73.7 144.7h0M67.1 133.1h0M78.1 146.5h0M67.0 133.6h0M77.7 149.9h0M72.1 140.1h0M62.4 149.3h0M75.6 127.9h0M80.1 132.2h0M74.3 144.6h0M68.3 126.1h0M56.5 127.9h0M60.6 144.0h0M60.1 144.1h0M58.1 135.2h0M67.5 142.4h0M78.5 132.3h0M72.4 129.6h0M69.5 151.7h0M74.8 143.0h0M66.2 142.1h0M68.0 145.1h0M67.3 144.4h0M61.7 127.7h0M75.8 145.1h0M59.9 132.1h0M73.9 153.7h0M66.0 147.6h0M61.5 130.1h0M66.7 144.4h0M68.2 149.2h0M65.2 151.2h0M65.9 147.0h0M71.4 143.1h0M61.9 143.6h0M70.9 140.4h0M72.8 138.3h0M64.7 136.8h0M69.8 148.1h0M65.5 148.0h0M72.7 140.2h0M64.4 148.1h0M72.1 138.1h0M68.6 139.3h0M72.4 130.9h0M67.5 139.4h0M63.3 152.8h0M79.2 134.4h0M59.7 136.1h0M64.6 126.8h0M62.7 149.3h0M69.2 129.1h0M62.2 133.6h0M60.9 149.0h0M68.1 145.6h0M63.6 129.2h0M62.5 150.3h0M65.0 133.3h0M73.0 143.8h0M55.2 137.6h0M72.9 135.0h0M60.1 151.8h0M60.9 148.3h0M73.1 140.3h0M66.0 154.9h0M70.5 142.3h0M65.6 135.5h0M61.0 134.6h0M72.1 151.0h0M68.4 148.0h0M66.2 139.2h0M70.5 127.7h0M72.4 140.9h0M62.8 136.6h0M67.0 133.3h0M67.7 139.2h0M80.5 144.2h0M67.1 141.8h0M75.3 137.1h0M73.3 133.2h0M71.8 141.2h0M63.1 144.8h0M65.1 136.2h0M76.7 147.5h0M59.3 146.5h0M69.8 134.9h0M68.9 140.4h0M65.9 140.1h0M70.9 139.3h0M67.5 136.7h0M71.4 159.1h0M73.6 128.1h0M73.2 146.2h0M71.4 136.8h0M63.7 147.7h0M69.7 132.5h0M64.2 134.7h0M67.7 122.8h0M62.6 128.9h0M56.8 130.4h0M65.1 133.5h0M77.6 150.8h0M62.5 148.6h0M67.6 132.6h0M64.8 145.0h0M79.1 139.4h0M75.5 135.6h0M61.3 127.4h0M62.5 150.8h0M63.5 121.8h0M67.3 145.8h0M62.4 135.6h0M70.8 144.6h0M76.1 129.6h0M72.6 136.9h0M65.0 143.8h0M61.1 151.8h0M65.6 142.6h0M69.6 149.1h0M73.4 139.5h0M74.3 151.6h0M69.2 137.5h0M59.3 139.9h0M71.6 142.8h0M63.7 143.0h0M60.2 142.1h0M68.2 128.2h0M75.5 138.4h0M78.1 136.7h0M80.7 140.0h0M65.9 145.9h0M70.9 137.5h0M73.1 131.6h0M65.4 149.8h0M65.2 125.1h0M70.0 139.7h0M67.6 137.2h0M65.1 141.7h0M62.9 138.8h0M72.3 142.8h0M68.7 149.2h0M69.6 133.3h0M61.9 128.8h0M73.7 131.0h0M61.7 127.8h0M62.6 137.8h0M63.5 143.0h0M64.3 123.7h0M60.6 142.9h0M61.8 137.4h0M61.3 145.4h0M67.9 151.5h0M69.6 136.8h0M72.2 139.8h0M65.6 134.0h0M65.3 139.6h0M70.8 140.8h0M66.2 145.6h0M76.4 134.9h0M61.5 132.2h0M58.9 142.5h0M62.3 132.1h0M59.1 132.4h0M59.0 148.7h0M71.1 144.8h0M65.2 133.6h0M69.1 133.0h0M75.9 130.8h0M70.9 142.7h0M64.6 144.5h0M56.0 137.4h0M60.3 152.6h0M74.1 150.0h0M66.9 149.9h0M79.6 134.2h0M68.1 135.3h0M74.2 140.1h0M63.0 148.6h0M56.3 137.9h0M58.2 139.8h0M60.7 142.8h0M79.2 151.2h0M67.6 128.4h0M68.4 140.0h0M69.6 145.5h0M67.1 149.0h0M61.2 139.3h0M68.8 132.8h0M59.1 130.1h0M71.4 134.0h0M77.7 133.7h0M60.6 139.7h0M66.7 157.1h0M62.8 137.4h0M64.9 132.0h0M65.2 133.1h0M64.2 141.0h0M67.0 146.8h0M73.2 143.5h0M68.7 142.0h0M73.1 141.5h0M67.2 136.9h0M71.2 139.6h0M64.0 131.1h0M59.8 141.5h0M73.1 134.8h0M73.1 142.9h0M59.1 140.7h0M54.5 133.2h0M61.3 134.8h0M69.7 149.1h0M67.4 147.0h0M63.1 130.0h0M65.7 149.7h0M56.6 142.7h0M58.5 133.8h0M66.0 137.9h0M72.2 142.2h0M73.0 126.8h0M65.9 136.6h0M63.8 139.7h0M71.5 136.2h0M75.3 128.4h0M61.1 151.4h0M74.8 137.3h0M55.3 137.6h0M70.6 143.5h0M55.6 134.8h0M73.7 146.5h0M71.2 150.0h0M76.5 138.4h0M61.9 141.1h0M79.4 142.1h0M59.3 144.9h0M69.6 140.2h0M72.5 150.3h0M59.7 137.1h0M63.1 131.8h0M72.5 135.9h0M62.5 132.3h0M70.1 131.3h0M67.3 135.4h0M63.4 144.7h0M53.5 135.8h0M73.9 131.0h0M63.7 145.7h0M72.6 128.3h0M69.3 138.0h0M65.7 149.0h0M66.0 127.0h0M70.6 143.3h0M56.4 132.4h0M74.7 135.9h0M68.8 141.0h0M62.9 141.9h0M69.0 142.8h0M56.7 135.3h0M72.9 127.9h0M72.1 145.9h0M67.3 142.8h0M65.9 139.5h0M72.6 147.8h0M71.5 145.1h0M65.8 150.4h0M75.0 143.4h0M71.4 139.6h0M80.3 141.4h0M75.4 138.5h0M63.4 137.5h0M60.6 142.0h0M63.5 132.1h0M59.7 135.5h0M68.7 131.3h0M68.5 155.5h0M68.8 151.2h0M82.4 136.3h0M73.4 138.9h0M61.0 152.3h0M72.4 151.1h0M75.1 133.2h0M69.9 134.7h0M63.5 136.7h0M55.4 135.8h0M59.4 153.8h0M61.7 148.0h0M70.7 143.7h0M64.9 141.7h0M60.3 126.9h0M61.8 132.8h0M72.6 131.0h0M74.4 152.4h0M64.2 137.4h0M59.5 137.2h0M70.1 143.6h0M70.7 139.2h0M68.8 140.8h0M58.7 141.0h0M64.7 128.8h0M72.8 145.7h0M71.0 145.6h0M60.3 132.9h0M64.1 139.7h0M72.7 137.2h0M73.7 135.4h0M61.5 147.0h0M65.5 134.3h0M63.7 139.4h0M58.8 137.2h0M76.3 133.2h0M75.5 142.2h0M58.9 129.2h0M67.5 145.2h0M66.9 146.9h0M70.1 135.3h0M71.8 145.9h0M64.8 129.0h0M58.3 130.9h0M56.0 142.9h0M74.9 139.4h0M62.7 128.7h0M59.0 141.5h0M60.8 139.6h0M55.8 147.9h0M65.1 127.7h0M76.4 131.1h0M57.2 143.7h0M70.4 127.2h0M71.3 143.8h0M62.8 141.1h0M70.3 132.6h0M68.0 144.5h0M74.9 141.0h0M66.7 132.8h0M64.5 138.8h0M74.1 136.4h0M67.9 133.8h0M58.8 142.1h0M71.8 139.5h0M73.2 136.1h0M68.4 135.7h0M61.6 139.5h0M54.2 135.5h0M65.4 128.9h0M60.3 149.3h0M65.2 144.8h0M68.4 142.8h0M65.4 135.6h0M60.3 155.1h0M60.6 134.0h0M60.7 129.1h0M65.6 141.9h0M68.1 142.1h0M59.1 131.2h0M60.1 126.2h0M70.9 130.8h0M59.5 149.9h0M64.4 129.4h0M60.4 142.0h0M69.4 137.7h0M63.6 127.0h0M78.6 142.9h0M64.6 145.7h0M72.7 143.3h0M74.0 139.9h0M67.6 147.8h0M75.9 142.2h0M67.9 134.6h0M73.1 138.3h0M61.8 152.2h0M63.1 127.5h0M70.6 136.9h0M68.2 151.0h0M75.7 136.9h0M61.2 139.9h0M70.1 134.0h0M67.5 140.0h0M57.5 145.0h0M75.2 149.9h0M61.4 130.2h0M71.9 135.1h0M72.4 145.4h0M68.1 123.7h0M68.8 141.8h0M62.4 137.6h0M68.8 143.3h0M62.9 129.8h0M79.4 139.7h0M63.3 126.0h0M69.1 143.6h0M70.4 132.8h0M78.0 133.5h0M64.3 132.9h0M70.6 151.2h0M68.7 137.3h0M59.1 138.0h0M71.4 144.7h0M58.8 129.5h0M69.6 133.8h0M62.1 148.3h0M66.9 131.8h0M77.9 135.6h0M66.7 135.4h0M65.7 140.6h0M58.1 149.8h0M72.2 146.3h0M65.8 126.6h0M68.8 125.7h0M66.6 127.2h0M72.5 150.1h0M69.2 136.2h0M62.3 137.8h0M58.6 145.7h0M65.6 129.9h0M63.1 140.3h0M63.7 134.2h0M63.0 155.4h0M59.9 142.8h0M69.1 130.7h0M66.0 128.7h0M63.3 156.1h0M69.3 119.4h0M75.5 135.2h0M75.3 133.2h0M61.1 136.7h0M73.2 128.8h0M65.2 132.0h0M59.9 144.8h0M79.1 146.0h0M70.8 141.6h0M61.5 152.4h0M67.4 132.9h0M75.1 131.1h0M76.8 136.9h0M58.5 136.4h0M61.2 144.5h0M77.4 146.6h0M55.3 129.0h0M72.7 132.1h0M69.4 155.0h0M69.6 138.8h0M66.6 138.9h0M73.7 142.5h0M58.5 135.2h0M68.0 152.5h0M68.1 146.1h0M64.4 140.7h0M72.0 130.4h0M58.7 142.2h0M61.3 132.0h0M68.5 145.8h0M60.1 145.9h0M69.5 150.0h0M67.3 149.9h0M58.5 142.4h0M71.2 125.5h0M61.7 149.4h0M62.6 148.6h0M69.5 138.8h0M62.8 123.4h0M75.0 148.4h0M56.3 134.6h0M60.6 141.4h0M59.3 137.4h0M72.1 132.0h0M73.7 138.1h0M65.2 143.3h0M69.1 141.6h0M73.0 139.7h0M68.4 161.5h0M65.8 130.8h0M73.5 143.2h0M68.3 124.8h0M69.3 146.0h0M60.9 143.4h0M59.8 124.8h0M70.4 132.8h0M61.1 139.3h0M59.0 146.6h0M56.3 147.3h0M70.6 147.1h0M58.2 132.3h0M65.6 147.2h0M62.6 132.0h0M76.6 140.3h0M61.4 138.4h0M68.4 130.6h0M75.0 144.8h0M65.9 127.2h0M74.0 141.8h0M68.0 134.0h0M72.6 136.0h0M55.2 149.7h0M72.4 128.6h0M56.5 131.4h0M77.6 145.5h0M68.7 131.0h0M61.6 137.5h0M69.8 129.0h0M65.6 148.3h0M58.8 135.5h0M70.4 139.1h0M64.4 130.3h0M72.2 144.3h0M59.7 141.0h0M74.9 137.0h0M67.8 157.1h0M69.9 146.2h0M80.3 139.4h0M70.4 127.5h0M72.8 144.5h0M68.6 149.6h0M77.1 134.2h0M65.8 136.7h0M63.9 134.0h0M75.6 135.9h0M72.5 141.0h0M75.5 137.6h0M68.7 133.1h0M62.3 142.7h0M72.9 150.2h0M70.2 140.4h0M70.5 145.0h0M56.7 137.9h0M65.3 125.0h0M71.9 128.2h0M77.8 143.6h0M73.9 140.5h0M82.4 135.8h0M71.8 144.9h0M77.7 136.8h0M69.9 135.6h0M61.3 149.3h0M69.4 147.4h0M60.7 149.7h0M65.2 149.8h0M62.4 144.1h0M64.6 131.2h0M70.7 144.5h0M54.8 132.3h0M61.3 129.0h0M62.5 139.6h0M60.5 150.2h0M68.5 152.7h0M61.6 148.2h0M70.2 146.4h0M72.4 141.8h0M64.3 144.5h0M77.4 136.4h0M75.3 154.2h0M67.4 147.4h0M70.8 128.4h0M61.7 130.5h0M72.5 136.9h0M67.1 133.6h0M63.6 152.9h0M61.1 135.6h0M65.6 130.7h0M65.3 128.6h0M65.3 156.2h0M62.6 133.5h0M68.2 140.9h0M69.0 141.0h0M73.5 137.0h0M72.7 141.1h0M69.4 143.3h0M69.5 137.4h0M59.2 144.1h0M77.3 138.5h0M71.9 152.9h0M62.4 139.1h0M64.8 153.4h0M75.5 141.0h0M65.5 149.5h0M61.3 147.2h0M65.0 151.4h0M61.1 136.8h0M68.6 126.4h0M79.0 141.7h0M65.8 130.3h0M79.9 145.5h0M60.7 143.8h0M67.5 144.8h0M62.5 144.2h0M72.1 146.9h0M73.3 145.2h0M64.7 148.4h0M75.0 132.4h0M66.9 133.7h0M62.1 131.1h0M66.0 143.9h0M67.5 128.1h0M61.5 144.2h0M73.2 133.5h0M78.0 135.7h0M70.0 142.1h0M77.8 141.8h0M67.6 150.8h0M70.2 139.9h0M67.5 150.4h0M74.0 142.3h0M67.5 135.4h0M66.4 134.7h0M62.6 135.8h0M63.3 145.8h0M75.9 124.5h0M68.5 138.3h0M68.4 143.4h0M63.6 142.1h0M70.8 134.8h0M63.3 138.8h0M69.1 150.7h0M72.8 132.5h0M65.9 150.2h0M61.5 143.7h0M63.2 139.9h0M60.2 131.1h0M75.9 144.4h0M63.2 131.8h0" stroke="#84a8dc" stroke-opacity="0.5" stroke-width="1.1" stroke-linecap="round" fill="none"/>
<path d="M65.6 144.4h0M63.4 140.3h0M71.1 146.4h0M65.9 144.7h0M68.5 135.4h0M64.9 134.7h0M65.8 138.6h0M67.6 139.9h0M66.6 138.6h0M70.5 141.5h0M70.1 146.4h0M63.1 139.5h0M72.4 143.6h0M63.0 141.5h0M67.4 136.6h0M69.9 143.5h0M68.1 137.1h0M64.4 137.5h0M68.9 135.9h0M66.1 145.5h0M66.2 145.5h0M62.2 141.2h0M71.0 140.0h0M67.9 141.0h0M65.1 147.2h0M62.5 141.7h0M69.3 138.7h0M67.4 138.7h0M70.7 144.9h0M64.3 145.2h0M72.3 142.9h0M70.2 146.8h0M72.3 136.8h0M70.4 141.5h0M66.1 137.2h0M62.9 143.7h0M69.0 142.4h0M64.7 141.8h0M67.2 134.2h0M69.2 146.3h0M63.7 147.4h0M66.0 146.7h0M64.6 145.7h0M68.1 136.0h0M67.9 145.3h0M63.9 142.0h0M63.9 143.5h0M65.2 143.6h0M67.6 143.2h0M71.0 144.8h0M66.4 142.9h0M63.0 141.4h0M63.1 143.9h0M69.4 136.3h0M61.7 142.3h0M68.0 142.0h0M69.7 136.8h0M71.6 138.5h0M67.9 143.4h0M73.7 139.5h0M65.2 141.3h0M70.9 139.8h0M67.9 142.0h0M68.3 135.5h0M65.6 140.7h0M69.9 140.5h0M68.3 148.6h0M63.9 136.5h0M64.9 141.7h0M69.6 143.4h0M63.9 147.8h0M64.1 136.4h0M70.6 148.0h0M65.6 145.2h0M73.0 141.9h0M61.9 136.8h0M69.4 137.6h0M66.3 134.8h0M67.1 142.9h0M67.4 145.2h0M67.3 141.9h0M69.2 142.8h0M68.2 142.6h0M65.7 137.3h0M65.2 142.2h0M66.3 137.7h0M67.5 140.2h0M66.0 145.4h0M63.9 147.8h0M70.6 143.4h0M71.1 139.8h0M61.2 140.5h0M69.9 147.2h0M64.3 141.9h0M66.9 147.9h0M66.8 140.8h0M63.7 140.0h0M67.2 144.8h0M61.6 142.4h0M66.8 145.2h0M66.1 140.2h0M64.8 139.2h0M62.8 144.4h0M62.0 145.4h0M65.1 145.6h0M65.4 136.0h0M66.9 144.4h0M65.0 143.6h0M64.8 140.4h0M64.6 140.8h0M70.4 147.4h0M68.5 141.9h0M66.4 139.3h0M71.6 136.7h0M67.9 136.9h0M64.7 138.0h0M69.1 135.9h0M67.5 145.6h0M63.3 142.1h0M71.2 142.9h0M70.9 145.6h0M63.5 140.0h0M63.0 140.1h0M65.3 141.5h0M70.6 139.2h0M63.8 148.5h0M67.3 148.0h0M64.1 147.5h0M65.5 143.0h0M61.7 142.0h0M63.1 139.5h0M71.5 136.5h0M60.6 137.0h0M72.1 142.5h0M60.7 142.4h0M66.0 147.4h0M68.4 134.6h0M66.6 139.3h0M69.3 144.1h0M70.9 140.2h0M69.8 137.7h0M60.4 140.5h0M62.8 143.9h0M64.4 147.4h0M64.5 136.5h0M69.9 137.3h0M72.0 145.4h0M65.9 136.1h0M66.8 140.4h0M72.5 142.8h0M67.1 138.6h0M66.2 140.5h0M72.3 143.2h0M67.6 149.3h0M66.4 142.1h0M68.0 137.7h0M68.1 138.7h0M63.5 140.8h0M65.5 141.2h0M63.8 144.9h0M62.7 144.4h0M72.0 141.8h0M68.8 139.6h0M66.7 142.8h0M65.0 142.3h0M72.4 142.6h0M65.8 146.7h0M68.0 138.8h0M62.0 139.7h0M67.6 145.9h0M68.4 138.2h0M67.6 133.6h0M67.6 137.1h0M66.8 144.6h0M70.4 140.0h0M66.3 138.6h0M66.5 137.0h0M62.4 140.0h0M66.6 149.4h0M64.6 139.9h0M65.8 144.3h0M58.8 144.3h0M67.8 144.7h0M64.8 143.0h0M66.3 141.3h0M73.4 143.6h0M66.0 142.6h0M62.3 140.6h0M70.3 140.4h0M67.2 147.1h0M72.5 144.4h0M65.4 142.4h0M66.0 141.7h0M70.7 135.2h0M72.0 139.1h0M67.1 145.3h0M64.2 148.1h0M63.8 135.0h0M71.1 141.2h0M72.2 141.1h0" stroke="#6f9ad6" stroke-opacity="0.45" stroke-width="1.1" stroke-linecap="round" fill="none"/>
<polygon points="49.5,111.5 54.5,115.5 56.0,121.5 55.5,131.5 47.5,130.5 39.5,129.5 35.5,127.5 36.5,121.5 41.5,115.5" fill="#b6b6b6" opacity="0.61" filter="url(#b1)"/>
<path d="M53.3 120.0h0M53.7 127.4h0M39.5 125.5h0M50.9 131.7h0M38.1 123.6h0M39.7 129.1h0M39.9 126.6h0M46.5 123.5h0M46.3 118.1h0M49.7 126.7h0M44.0 119.4h0M44.5 115.4h0M44.9 119.5h0M44.9 117.5h0M51.5 121.7h0M53.9 127.8h0M42.9 118.4h0M51.3 123.6h0M54.7 127.3h0M46.8 121.8h0M40.8 118.4h0M52.9 116.1h0M44.7 123.3h0M42.1 121.2h0M51.6 117.3h0M37.1 122.3h0M36.7 121.7h0M43.0 118.8h0M52.8 123.1h0M39.6 124.2h0M50.5 127.9h0M52.4 117.5h0M47.5 121.2h0M49.2 117.8h0M48.4 113.7h0M46.5 113.6h0M47.6 129.6h0M42.9 120.3h0M36.7 121.0h0M40.3 123.8h0M41.1 119.7h0M49.8 125.9h0M48.5 125.0h0M54.0 116.1h0M44.2 121.3h0M44.1 125.4h0M51.7 129.5h0M40.3 128.3h0M36.5 126.0h0M47.3 118.5h0M55.6 119.7h0M46.9 114.9h0M51.5 120.6h0M42.7 118.8h0M37.4 125.8h0M40.8 117.8h0M41.8 118.2h0M43.8 126.6h0M54.6 122.7h0M40.5 124.9h0M38.2 125.7h0M46.4 128.8h0M48.9 120.9h0M48.1 113.6h0M48.5 120.4h0M51.1 121.9h0M52.0 129.2h0M39.7 127.2h0M55.5 126.9h0M51.0 122.7h0M48.2 127.8h0M38.1 125.1h0M55.1 117.0h0M40.0 122.1h0M46.9 122.7h0M49.0 129.0h0M51.9 117.3h0M42.6 120.5h0M47.6 127.3h0M54.0 126.8h0M44.5 119.5h0M48.1 129.9h0M38.4 124.8h0M39.7 119.3h0M42.9 129.8h0M45.8 119.9h0M50.2 130.2h0M45.7 126.9h0M50.9 114.5h0M40.9 120.4h0M46.9 121.3h0M49.8 125.7h0M50.3 119.8h0M38.8 127.5h0M49.4 121.1h0M48.3 125.7h0M54.5 128.0h0M40.5 125.1h0M52.1 131.1h0M52.2 128.5h0M51.8 119.1h0M50.7 129.0h0M50.7 121.4h0M48.3 118.6h0M38.1 123.4h0M47.7 120.0h0M49.3 127.1h0M47.5 119.7h0M46.7 124.4h0M48.1 121.2h0M52.7 124.9h0M48.0 129.1h0M43.5 120.5h0M54.1 123.8h0M55.3 121.1h0M48.6 127.8h0M49.7 124.8h0M40.5 120.9h0M51.2 121.0h0M52.8 114.0h0M55.1 129.2h0M51.0 123.3h0M49.6 124.0h0M46.2 116.8h0M54.5 117.4h0M38.0 127.0h0M41.3 127.1h0M44.7 115.0h0M52.3 128.9h0M39.8 122.1h0M48.4 115.8h0M53.9 124.5h0M50.3 116.4h0M49.7 113.7h0M43.0 127.2h0M48.3 112.1h0M42.0 124.2h0M54.5 127.7h0M55.6 129.2h0M38.6 123.5h0M45.7 127.8h0M43.7 126.7h0M36.1 126.7h0M42.9 122.1h0M36.6 124.2h0M50.0 127.1h0M49.2 114.3h0M37.6 125.2h0M45.8 114.4h0M54.5 122.4h0M42.1 119.0h0M48.5 127.4h0M48.1 120.3h0M47.3 122.7h0M51.2 119.4h0M46.6 125.4h0M52.0 114.2h0M45.2 120.9h0M55.3 128.3h0M42.1 126.4h0M42.6 127.7h0M53.7 120.7h0M47.7 125.3h0M51.2 119.8h0M48.1 114.9h0M41.8 116.6h0M42.7 128.4h0M40.4 119.9h0M48.2 118.2h0M54.6 131.5h0M37.9 129.0h0M46.4 126.6h0M45.5 118.4h0M42.4 115.7h0M48.9 124.7h0M42.7 124.3h0M45.4 116.0h0M47.9 113.4h0M48.9 119.2h0M45.1 122.3h0M49.3 124.1h0M42.7 117.5h0M47.4 126.9h0M52.5 121.8h0M50.6 115.1h0M50.6 119.4h0M43.7 116.3h0M52.8 125.5h0M46.5 126.7h0M55.1 125.3h0M40.0 122.7h0M49.0 113.3h0M48.2 130.9h0M50.2 128.1h0M47.4 117.1h0M39.3 121.8h0M39.4 119.4h0M46.8 115.1h0M47.1 127.6h0M54.4 125.4h0M55.5 121.1h0M50.8 118.4h0M56.3 122.7h0M35.9 128.6h0M46.1 118.5h0M52.3 130.9h0M36.3 124.6h0M45.9 118.3h0M52.9 115.3h0M38.6 124.8h0M52.9 126.4h0M48.4 128.8h0M45.4 115.2h0M50.6 114.7h0M45.9 113.4h0M41.6 123.8h0M50.0 130.2h0M46.4 115.1h0M51.4 116.0h0M50.4 121.0h0M36.4 126.5h0M44.9 122.2h0M55.3 124.1h0M51.3 116.9h0M53.7 115.2h0M51.1 119.1h0M56.4 121.7h0M38.0 122.4h0M45.6 120.7h0M54.5 116.6h0M53.0 131.1h0M48.6 115.7h0M36.5 123.8h0M43.9 126.5h0M37.8 129.2h0M45.7 115.9h0M45.7 119.0h0M48.4 116.9h0M48.0 131.6h0M55.4 128.9h0M55.4 128.4h0M42.0 127.2h0M50.5 123.0h0M55.0 129.5h0M44.4 121.1h0M46.7 119.6h0M50.8 114.7h0M50.6 118.4h0M44.4 118.7h0M45.1 120.2h0M50.7 121.7h0M50.1 123.0h0M54.3 115.8h0M47.0 126.4h0M42.4 127.0h0M36.6 120.8h0M38.7 127.0h0M54.6 127.2h0M36.2 124.4h0M44.6 130.7h0M40.3 121.1h0M46.9 124.8h0M44.6 126.5h0M38.1 121.9h0M52.1 119.5h0M44.2 127.5h0M52.8 123.0h0M46.2 113.2h0M44.9 117.8h0M46.1 126.4h0M37.0 127.0h0M50.8 119.0h0M37.5 124.4h0M51.5 120.5h0M56.0 122.0h0M37.5 119.8h0M52.3 127.2h0M47.9 122.9h0M50.6 114.2h0M47.4 123.5h0M49.7 127.9h0M39.5 126.4h0M52.4 114.9h0M53.7 117.2h0M39.4 125.3h0M52.7 126.0h0M46.7 125.0h0M55.2 125.3h0M43.4 123.1h0M52.8 130.5h0M42.3 125.4h0M50.3 113.7h0M53.3 119.3h0M50.1 114.3h0M42.7 127.8h0M40.9 126.1h0M52.3 129.8h0M56.1 120.2h0M48.8 124.9h0M40.7 117.3h0M53.4 124.5h0M49.5 118.5h0M48.2 115.6h0M53.8 121.0h0M49.0 122.0h0M54.8 129.7h0M51.1 116.7h0M35.7 124.0h0M47.3 118.7h0M51.0 125.2h0M49.8 126.6h0M47.7 111.3h0M52.0 122.5h0M39.2 124.8h0M52.8 128.1h0M53.7 118.0h0M48.0 129.2h0M54.5 130.6h0M50.7 127.8h0M55.3 131.3h0M41.8 119.4h0M35.9 125.6h0M45.5 118.0h0M41.9 116.8h0M48.0 126.9h0M52.8 128.9h0M47.7 115.0h0M49.9 120.7h0M40.9 124.3h0M44.9 114.8h0M45.1 118.4h0M48.7 129.4h0M39.5 126.2h0M49.1 118.9h0M45.9 119.6h0M50.5 128.4h0M54.8 120.0h0M36.5 124.6h0M41.6 121.5h0M41.7 117.7h0M52.5 125.9h0M42.7 123.3h0M50.6 118.8h0M55.2 124.1h0M45.8 119.2h0M52.8 127.8h0M46.7 122.2h0M46.7 112.2h0M43.7 121.4h0M44.6 127.1h0M45.0 121.0h0M56.8 126.2h0M48.0 115.8h0M42.2 123.6h0M55.6 122.0h0M36.5 122.0h0M40.4 121.5h0M45.9 120.4h0M40.9 119.2h0M45.7 114.8h0M42.0 129.9h0M54.7 116.2h0M49.1 127.6h0M37.8 128.3h0M54.4 128.3h0M36.3 129.5h0M39.2 120.1h0M53.5 119.3h0M52.0 126.8h0M47.5 130.4h0M38.2 125.9h0M47.0 127.8h0M44.9 128.6h0M47.0 131.3h0M53.7 120.5h0M51.2 120.2h0M42.2 119.6h0M55.6 122.7h0M53.6 125.6h0M52.3 123.5h0M42.8 117.8h0M51.2 116.8h0M53.7 125.0h0M44.6 122.3h0M44.3 123.8h0M51.5 115.0h0M40.1 120.0h0M44.3 123.3h0M52.0 121.7h0M53.5 120.1h0M52.7 116.3h0M52.2 126.7h0M44.3 121.7h0M39.6 121.2h0M54.7 119.6h0M53.9 115.9h0M46.0 128.0h0M51.7 129.9h0M42.9 122.2h0M41.8 118.4h0M49.1 115.5h0M49.7 123.8h0M35.5 126.6h0M51.4 117.4h0M53.7 122.8h0M46.5 124.6h0M38.9 120.3h0M41.9 120.0h0M46.4 124.9h0M52.0 119.6h0M52.5 130.4h0M43.9 116.1h0M38.3 126.7h0M44.3 120.7h0M50.7 116.1h0M45.5 118.8h0M47.7 125.5h0M41.3 125.2h0M48.2 124.3h0M48.5 113.5h0" stroke="#9c9c9c" stroke-opacity="0.45" stroke-width="1.1" stroke-linecap="round" fill="none"/>
<polygon points="44.5,145.5 52.5,141.5 57.0,147.5 56.5,157.5 52.5,162.5 46.5,160.5" fill="#c8a0a0" opacity="0.50" filter="url(#b1)"/>
<path d="M47.8 160.9h0M53.5 152.7h0M50.4 157.0h0M47.4 149.1h0M49.0 149.9h0M51.2 143.2h0M53.1 146.1h0M52.7 150.4h0M49.3 146.7h0M55.1 157.4h0M50.0 151.6h0M47.6 150.3h0M53.9 156.8h0M49.3 145.4h0M50.9 148.1h0M47.5 150.1h0M49.6 144.1h0M46.2 149.2h0M47.3 152.6h0M49.2 160.7h0M52.5 152.6h0M53.0 157.7h0M51.3 160.6h0M48.6 153.7h0M50.9 148.6h0M44.8 148.3h0M52.3 151.0h0M49.2 158.4h0M50.1 151.7h0M46.6 151.6h0M46.3 149.8h0M52.8 155.2h0M56.0 156.3h0M46.2 145.7h0M51.7 152.8h0M50.5 153.7h0M52.6 143.9h0M45.8 146.5h0M55.7 153.5h0M53.8 144.2h0M47.1 156.8h0M48.9 147.7h0M51.9 144.6h0M51.5 161.1h0M57.2 151.5h0M48.8 159.6h0M51.2 153.3h0M50.6 153.1h0M46.8 151.0h0M54.9 154.9h0M52.9 145.1h0M48.8 154.1h0M55.8 154.4h0M47.7 152.7h0M52.6 161.0h0M49.2 145.4h0M54.8 150.7h0M51.8 142.9h0M48.3 153.8h0M52.2 154.8h0M48.4 152.8h0M51.0 149.9h0M54.5 144.9h0M53.7 157.1h0M46.0 155.9h0M52.3 146.2h0M55.1 155.2h0M50.8 158.3h0M46.5 154.5h0M53.8 146.6h0M50.0 158.7h0M49.2 151.7h0M53.0 158.1h0M49.0 149.1h0M50.1 148.0h0M50.3 153.7h0M54.9 153.7h0M50.8 157.0h0M47.4 150.4h0M49.3 143.5h0M47.7 158.8h0M53.6 147.7h0M51.0 148.0h0M47.5 151.2h0M48.5 151.4h0M51.4 147.6h0M47.6 156.8h0M47.7 155.0h0M55.2 146.0h0M45.8 155.9h0M49.2 158.4h0M56.5 155.3h0M51.1 161.3h0M47.1 161.1h0M52.0 148.5h0M52.3 158.1h0M48.0 149.6h0M51.4 149.0h0M49.7 152.6h0M50.5 145.5h0M52.5 144.8h0M53.5 154.0h0M56.5 153.3h0M54.4 153.2h0M54.7 150.2h0M54.8 149.9h0M49.0 153.8h0M56.5 150.2h0M55.3 146.6h0M54.0 147.6h0M48.6 147.7h0M54.8 157.8h0M52.4 160.2h0M53.6 147.5h0M55.5 155.6h0M53.8 154.6h0M54.9 155.6h0M54.5 145.2h0M53.7 154.9h0M53.4 146.3h0M49.2 153.8h0M49.3 147.8h0M46.9 152.4h0M57.4 151.1h0M49.3 144.7h0M48.6 158.5h0M45.5 145.9h0M50.8 145.0h0M54.4 142.4h0M46.5 152.7h0M52.1 148.5h0M51.6 157.8h0M54.2 150.1h0M50.1 148.6h0M48.4 160.6h0M47.5 159.2h0M54.5 156.2h0M51.7 159.7h0M54.9 148.5h0M52.0 145.7h0M51.7 147.3h0M47.8 155.5h0M53.1 161.3h0M52.7 145.8h0M50.0 150.5h0M50.2 156.2h0M56.0 145.1h0M52.6 144.9h0M54.5 144.2h0M47.6 156.3h0M46.9 146.8h0M50.3 151.9h0M53.5 155.0h0M50.4 153.4h0M50.0 160.4h0M47.6 150.2h0M47.2 147.6h0M56.2 147.5h0M46.0 151.5h0M55.3 155.5h0M50.2 152.2h0M51.9 160.2h0M55.8 157.9h0M48.4 148.1h0M52.3 143.2h0M47.1 159.6h0M51.9 147.3h0M47.1 155.9h0M54.4 146.7h0M53.2 157.8h0M52.8 153.8h0M47.3 156.8h0M56.6 156.1h0M51.3 148.1h0M50.9 159.6h0M52.7 159.0h0M45.7 147.3h0M54.8 147.3h0M52.8 158.8h0M55.2 147.2h0M52.5 144.0h0M52.2 150.9h0M48.6 158.7h0M55.0 150.8h0M55.0 148.2h0M49.0 151.5h0M49.3 160.5h0M50.0 157.8h0M44.3 153.6h0M53.6 159.1h0M51.2 150.6h0M47.4 145.1h0M46.9 147.2h0M52.6 145.4h0M53.0 151.5h0M55.4 147.5h0M47.1 145.8h0M56.7 154.2h0M56.5 149.4h0M53.9 157.7h0M51.1 152.1h0M53.7 160.5h0M53.3 151.2h0M55.0 158.2h0M44.6 148.1h0M45.8 151.2h0M52.3 145.4h0M47.9 154.2h0M48.2 156.3h0M51.5 141.8h0M45.5 149.3h0M50.3 150.8h0M46.1 147.8h0M55.9 149.5h0M45.3 152.9h0M47.1 151.0h0M49.3 151.7h0M53.8 149.0h0M51.6 160.9h0M49.7 157.2h0M50.4 143.3h0M52.1 161.4h0M50.6 156.4h0M52.7 147.9h0M53.1 155.7h0M48.4 161.3h0M50.0 155.5h0M48.4 153.2h0M53.0 151.6h0M47.5 148.9h0M57.0 147.3h0M49.6 151.6h0M46.3 149.3h0M53.7 145.1h0M56.3 157.7h0M52.1 141.0h0M52.1 161.4h0M55.9 149.7h0M45.9 152.0h0M45.8 147.7h0M51.0 152.4h0M50.5 154.6h0M51.2 159.0h0M48.3 144.9h0M57.0 149.4h0M46.1 159.0h0M56.0 149.1h0M48.2 145.9h0M49.5 156.9h0M47.3 153.8h0M48.4 146.9h0M50.3 143.2h0M48.7 143.7h0M50.3 151.4h0M52.3 156.5h0M53.9 143.9h0M46.7 151.0h0M55.7 155.1h0M49.4 147.1h0M50.7 150.0h0M53.8 146.3h0M46.3 155.5h0M51.2 146.3h0M48.6 147.2h0M49.3 157.8h0M49.7 160.7h0M53.7 145.3h0M47.3 153.8h0M54.3 144.9h0M51.1 144.8h0M47.6 148.1h0M56.3 153.9h0M56.4 149.3h0M51.8 146.7h0M51.0 162.0h0M48.7 149.0h0M49.4 151.6h0M49.1 144.9h0M55.6 150.3h0M53.3 153.9h0M51.3 160.2h0M47.0 160.3h0M53.6 148.5h0M54.6 151.9h0M45.5 148.1h0M54.8 155.0h0M47.2 144.5h0M52.1 152.2h0M54.6 148.6h0M46.9 148.9h0M54.6 157.8h0M48.9 150.6h0M56.3 156.1h0M49.1 158.8h0M51.4 151.6h0M52.2 158.1h0M50.9 160.9h0M47.1 151.9h0M49.7 159.8h0M44.6 160.7h0" stroke="#a87878" stroke-opacity="0.45" stroke-width="1.1" stroke-linecap="round" fill="none"/>
<polygon points="51.5,129.5 56.0,129.5 56.5,145.5 52.5,145.5" fill="#c0aaaa" opacity="0.43" filter="url(#b1)"/>
<path d="M57.1 142.8h0M53.0 134.5h0M55.4 143.7h0M51.6 136.5h0M53.4 129.6h0M53.4 141.7h0M51.6 138.2h0M54.5 135.5h0M54.7 128.9h0M55.7 130.4h0M55.7 139.9h0M53.5 145.1h0M54.9 143.7h0M53.5 141.9h0M53.2 140.2h0M53.3 142.7h0M53.2 141.4h0M56.8 133.9h0M55.3 135.9h0M54.6 144.0h0M52.7 143.4h0M55.9 137.4h0M53.5 142.1h0M55.0 138.6h0M54.4 133.0h0M53.6 144.7h0M52.4 140.7h0M56.1 135.9h0M53.1 133.1h0M54.2 134.5h0M55.2 139.9h0M55.2 139.9h0M53.7 130.3h0M51.0 138.7h0M55.7 137.2h0M53.6 130.4h0M52.0 136.9h0M54.4 131.5h0M54.1 143.0h0M53.5 137.3h0M53.0 139.7h0M55.2 140.9h0M54.9 144.8h0M52.2 132.9h0M53.6 136.0h0M53.6 134.0h0M54.3 138.8h0M54.4 143.6h0M52.3 129.5h0M53.3 144.6h0M54.2 130.5h0M54.7 135.4h0M53.1 141.6h0M53.9 137.9h0M56.7 144.4h0M54.4 131.9h0M55.7 140.1h0M53.0 138.4h0M53.8 130.4h0M56.2 139.5h0M53.1 141.4h0M53.9 143.4h0M55.6 133.4h0M55.0 140.6h0M52.7 132.8h0M52.5 130.6h0M52.8 132.6h0M53.8 139.9h0M52.7 141.0h0M53.1 141.4h0M54.0 135.4h0M54.1 131.3h0M54.0 133.2h0M54.7 133.9h0M52.2 129.8h0M54.6 130.2h0M57.1 143.0h0M54.9 135.0h0M55.8 133.6h0M53.5 134.6h0M54.8 133.6h0M56.4 133.3h0M57.1 145.1h0M52.5 143.3h0M53.7 142.5h0M54.8 144.9h0M55.7 144.0h0M54.9 129.8h0M55.0 142.5h0M54.1 139.9h0" stroke="#9a8080" stroke-opacity="0.41" stroke-width="1.1" stroke-linecap="round" fill="none"/>
<polygon points="38.5,127.5 49.5,127.0 53.0,133.5 52.5,145.5 48.5,150.5 41.5,148.5 38.5,141.5" fill="#d88f9c" opacity="0.65" filter="url(#b1)"/>
<path d="M44.1 129.2h0M50.5 140.7h0M45.8 140.5h0M43.7 137.4h0M44.8 146.0h0M44.9 141.0h0M45.1 141.4h0M44.3 129.4h0M42.6 148.7h0M38.0 138.0h0M42.0 131.8h0M49.1 131.8h0M48.6 146.2h0M38.9 133.9h0M38.8 131.0h0M44.6 133.2h0M45.7 127.2h0M44.1 141.2h0M44.6 146.2h0M45.3 128.9h0M49.1 144.4h0M48.1 149.7h0M43.2 135.5h0M48.1 133.2h0M40.9 131.1h0M45.6 127.4h0M48.7 127.0h0M40.5 134.8h0M46.8 131.5h0M47.7 145.4h0M42.8 139.6h0M49.3 128.2h0M51.0 145.1h0M38.8 128.9h0M41.9 142.5h0M49.5 143.4h0M46.5 142.2h0M44.8 141.9h0M44.2 133.7h0M41.2 130.1h0M49.2 128.0h0M50.2 131.4h0M48.0 133.2h0M43.3 135.2h0M41.1 146.0h0M46.5 127.9h0M49.1 149.3h0M41.3 143.2h0M49.2 146.7h0M48.1 147.6h0M52.0 140.4h0M50.8 142.9h0M42.4 137.8h0M49.9 137.8h0M39.8 139.7h0M46.1 129.2h0M41.9 137.5h0M49.3 129.6h0M51.7 134.9h0M50.8 141.7h0M47.0 146.4h0M45.0 141.9h0M41.5 130.0h0M46.4 146.2h0M45.1 131.6h0M41.0 133.5h0M41.4 139.9h0M50.1 137.9h0M51.0 142.7h0M39.7 128.1h0M47.6 134.4h0M53.8 134.5h0M49.6 144.8h0M50.4 132.9h0M49.1 136.2h0M38.6 142.8h0M46.0 142.6h0M50.3 135.9h0M47.8 138.9h0M41.3 135.6h0M42.9 140.6h0M49.3 130.8h0M40.8 143.8h0M46.3 128.5h0M51.4 140.1h0M45.1 147.9h0M52.3 141.7h0M41.9 133.8h0M42.8 127.7h0M41.6 128.0h0M40.2 131.9h0M50.7 140.9h0M44.1 140.2h0M41.8 147.1h0M46.6 128.5h0M41.8 127.9h0M50.9 140.6h0M44.3 133.7h0M51.2 144.3h0M44.9 139.0h0M48.6 148.4h0M52.0 137.4h0M45.3 127.0h0M45.0 136.3h0M45.6 131.8h0M46.2 132.6h0M44.9 139.7h0M45.4 130.1h0M43.3 148.6h0M49.2 148.2h0M47.3 138.7h0M40.9 132.4h0M47.5 141.4h0M49.9 128.6h0M49.7 139.6h0M46.1 150.0h0M44.7 135.5h0M42.8 131.0h0M48.1 143.5h0M43.1 128.1h0M46.5 140.3h0M43.8 130.4h0M42.0 131.0h0M50.8 145.5h0M39.8 143.4h0M40.1 128.8h0M43.3 145.7h0M42.4 129.5h0M38.8 140.1h0M40.4 128.5h0M43.0 145.6h0M43.9 134.4h0M40.3 141.8h0M48.4 145.7h0M45.4 143.7h0M46.8 138.0h0M40.6 136.5h0M46.4 145.6h0M41.6 146.1h0M46.8 140.9h0M41.4 147.1h0M42.3 132.0h0M40.0 146.7h0M47.2 148.0h0M40.2 139.0h0M40.6 139.1h0M41.3 128.3h0M40.8 142.0h0M41.2 129.3h0M43.5 149.2h0M45.3 135.6h0M42.6 144.5h0M39.7 142.9h0M48.1 132.3h0M49.8 138.6h0M43.0 134.0h0M46.2 144.2h0M43.2 146.8h0M41.5 139.1h0M46.0 147.4h0M44.6 134.1h0M47.4 147.6h0M50.3 144.9h0M52.3 135.3h0M47.6 128.6h0M43.2 134.8h0M49.2 134.7h0M49.2 146.6h0M39.0 136.1h0M48.8 135.6h0M51.9 130.5h0M48.5 137.5h0M46.9 147.1h0M44.1 131.5h0M41.0 130.1h0M43.4 149.5h0M51.3 136.1h0M46.3 147.0h0M52.1 138.3h0M38.9 129.2h0M40.9 131.1h0M47.7 145.3h0M40.3 147.3h0M52.3 140.3h0M52.1 142.2h0M39.9 137.5h0M47.4 134.1h0M46.5 140.5h0M45.1 137.9h0M46.2 137.0h0M43.2 146.7h0M44.3 134.1h0M39.2 134.5h0M45.9 132.2h0M41.5 139.8h0M48.7 141.3h0M39.9 141.4h0M41.1 135.0h0M42.1 128.9h0M37.7 133.4h0M39.4 131.7h0M41.6 131.5h0M43.1 131.5h0M42.6 146.4h0M49.1 135.8h0M49.2 145.5h0M41.6 143.8h0M40.4 127.6h0M46.2 133.3h0M40.3 135.0h0M43.4 127.5h0M52.2 141.7h0M48.3 138.3h0M40.1 143.7h0M47.4 144.2h0M48.2 134.3h0M53.2 140.9h0M42.1 143.6h0M49.0 134.0h0M47.4 135.4h0M42.2 138.6h0M45.4 141.3h0M44.9 139.3h0M43.3 142.0h0M49.9 131.6h0M46.7 134.8h0M41.3 127.4h0M46.0 127.8h0M50.4 145.4h0M47.0 138.3h0M52.0 143.8h0M46.7 141.6h0M44.1 147.8h0M41.4 145.0h0M43.3 136.6h0M44.4 137.6h0M46.8 142.4h0M48.6 135.7h0M42.9 130.3h0M44.8 142.1h0M48.1 149.6h0M49.3 138.7h0M41.3 130.7h0M43.2 135.9h0M50.8 142.1h0M48.0 138.2h0M46.8 142.5h0M41.9 142.8h0M38.6 143.5h0M44.6 142.1h0M46.3 143.1h0M49.8 139.3h0M47.1 142.4h0M46.9 139.4h0M47.4 134.9h0M40.4 129.3h0M49.4 142.6h0M40.1 141.5h0M48.5 144.3h0M41.7 128.0h0M45.0 145.9h0M43.1 129.7h0M38.1 136.8h0M41.0 134.1h0M46.4 129.2h0M51.4 142.6h0M45.3 145.7h0M41.7 135.0h0M47.3 130.0h0M52.5 137.3h0M42.8 130.3h0M50.9 147.1h0M47.8 130.0h0M46.3 140.6h0M49.9 150.5h0M42.9 141.9h0M42.9 134.4h0M49.9 129.8h0M50.9 137.5h0M48.2 130.2h0M51.1 146.1h0M41.2 131.3h0M40.2 140.2h0M40.2 138.3h0M46.0 133.2h0M50.1 144.6h0M45.6 139.8h0M48.4 134.6h0M51.3 139.3h0M44.0 126.4h0M37.9 129.9h0M40.0 137.0h0M47.6 133.3h0M40.3 134.8h0M48.0 132.6h0M44.0 136.3h0M46.5 147.6h0M49.1 136.6h0M39.7 131.3h0M50.6 142.8h0M41.0 135.9h0M44.2 147.4h0M40.0 140.6h0M41.1 147.3h0M45.8 132.1h0M45.8 138.8h0M44.5 131.3h0M44.2 129.1h0M41.4 138.8h0M44.1 142.3h0M45.5 129.3h0M41.4 145.2h0M44.8 146.0h0M46.0 128.5h0M45.5 136.3h0M41.6 145.2h0M49.1 139.5h0M40.1 134.2h0M49.5 130.3h0M46.2 145.1h0" stroke="#d07c8c" stroke-opacity="0.54" stroke-width="1.1" stroke-linecap="round" fill="none"/>
<polygon points="38.5,127.5 41.0,132.5 41.5,141.5 40.0,147.5 35.5,148.0 30.5,145.0 29.0,137.5 30.5,130.5 34.5,127.5" fill="#7e60ba" opacity="0.65" filter="url(#b1)"/>
<path d="M38.8 144.0h0M33.0 130.7h0M37.6 142.5h0M28.7 136.2h0M36.3 144.0h0M40.7 136.6h0M39.3 146.9h0M31.1 137.1h0M34.8 138.0h0M37.1 135.4h0M37.0 148.1h0M31.5 144.3h0M35.1 136.1h0M38.7 144.3h0M40.1 140.4h0M38.9 133.5h0M35.9 134.9h0M31.0 140.4h0M30.0 145.2h0M32.9 138.8h0M35.9 142.5h0M36.1 144.3h0M40.5 140.0h0M39.8 139.5h0M37.3 127.5h0M35.9 137.1h0M34.9 129.6h0M37.5 136.4h0M31.4 136.2h0M33.4 128.6h0M34.5 134.3h0M40.0 140.8h0M32.4 136.7h0M31.2 136.6h0M41.7 135.2h0M31.9 143.4h0M39.9 135.4h0M37.2 136.1h0M34.8 139.0h0M38.7 144.3h0M34.9 132.6h0M36.3 138.4h0M36.7 145.5h0M37.6 132.1h0M37.4 140.8h0M32.1 140.0h0M32.7 139.4h0M39.3 134.3h0M30.6 139.8h0M29.5 134.5h0M36.9 148.2h0M31.6 140.7h0M32.4 133.4h0M37.4 136.0h0M34.8 145.2h0M40.0 141.1h0M36.0 145.2h0M40.1 141.8h0M28.5 137.3h0M31.5 134.5h0M39.8 136.8h0M32.7 139.4h0M36.3 146.3h0M33.6 146.6h0M38.0 132.2h0M33.9 129.9h0M32.1 142.7h0M37.8 147.0h0M32.9 144.2h0M35.2 139.4h0M31.7 132.8h0M34.9 145.0h0M32.1 144.5h0M32.8 129.1h0M31.8 139.8h0M40.2 132.9h0M35.1 131.1h0M36.2 140.1h0M37.9 134.9h0M34.7 131.5h0M33.2 144.9h0M35.1 127.9h0M37.5 144.3h0M36.4 126.4h0M30.9 132.5h0M34.9 131.1h0M35.1 140.2h0M36.5 145.9h0M38.2 134.4h0M32.8 146.2h0M37.1 129.0h0M29.7 134.9h0M30.0 134.4h0M39.6 145.4h0M36.8 132.3h0M40.5 138.8h0M34.1 130.8h0M36.5 132.5h0M33.2 141.3h0M41.1 130.8h0M36.1 145.8h0M33.2 135.0h0M36.4 138.9h0M30.7 141.9h0M35.9 147.0h0M29.9 132.9h0M39.1 145.3h0M32.8 130.1h0M34.2 140.0h0M40.6 140.0h0M38.4 132.1h0M32.6 139.4h0M33.2 146.7h0M30.5 140.3h0M36.1 135.9h0M38.5 147.5h0M37.5 133.1h0M33.5 137.5h0M41.5 135.0h0M39.5 141.7h0M39.1 128.5h0M35.9 138.3h0M31.3 136.2h0M39.8 146.4h0M34.5 142.4h0M37.3 134.2h0M34.5 131.6h0M36.8 145.2h0M35.6 132.3h0M39.0 130.3h0M38.8 130.3h0M34.6 129.2h0M35.1 128.0h0M37.2 138.0h0M31.4 132.5h0M39.1 131.0h0M35.3 138.3h0M35.0 133.8h0M35.7 139.4h0M34.7 131.8h0M40.3 144.0h0M40.8 137.9h0M34.5 142.3h0M36.6 141.0h0M34.5 139.6h0M37.5 135.4h0M33.5 144.2h0M33.3 145.1h0M35.8 138.9h0M33.7 130.6h0M39.3 133.1h0M35.5 142.9h0M36.1 133.2h0M30.1 140.9h0M35.4 130.5h0M29.3 137.8h0M33.3 128.4h0M34.9 141.6h0M39.3 137.9h0M37.7 146.9h0M39.7 141.2h0M36.8 140.0h0M31.2 138.0h0M37.0 140.0h0M34.0 139.3h0M32.1 133.6h0M33.0 146.8h0M38.3 145.8h0M34.6 133.8h0M40.5 136.5h0M40.1 129.3h0M40.5 132.1h0M40.1 133.3h0M33.1 136.7h0M33.1 133.7h0M39.7 143.9h0M37.7 145.1h0M38.0 135.0h0M37.6 136.8h0M36.6 140.6h0M31.4 135.2h0M40.9 144.4h0M38.4 146.1h0M36.1 147.9h0M34.3 135.6h0M35.8 137.8h0M38.0 145.9h0M37.6 144.2h0M40.5 141.9h0M40.0 142.2h0M37.2 145.3h0M32.3 129.8h0M39.0 147.1h0M36.2 135.5h0M37.1 145.5h0M37.4 148.4h0M36.4 145.2h0M35.3 135.0h0M35.0 139.1h0M39.8 135.1h0M41.7 142.8h0M31.7 133.6h0M30.9 141.3h0M36.5 136.4h0M40.2 144.7h0M33.3 138.9h0M28.8 137.9h0M35.1 128.3h0M36.0 127.4h0M36.3 146.9h0M36.5 145.5h0M33.3 142.2h0M37.3 129.5h0M34.3 132.2h0M38.2 144.8h0M32.3 130.5h0M39.0 130.7h0M40.3 133.0h0M38.6 145.7h0M33.9 140.8h0M33.9 131.2h0M34.4 140.9h0M40.8 129.4h0M31.7 135.0h0M34.4 129.9h0M36.5 146.0h0M40.6 131.3h0M38.1 146.3h0M33.0 140.7h0M36.8 132.0h0M35.2 140.8h0M34.7 133.8h0M38.4 134.5h0M35.4 133.4h0M39.1 128.0h0M39.1 131.6h0M32.8 144.2h0M38.5 146.8h0M39.1 132.6h0M41.3 143.0h0M35.0 141.4h0M37.9 130.0h0M35.5 136.8h0M32.3 138.1h0M36.5 142.0h0M38.9 135.0h0M37.5 133.0h0M30.8 139.7h0M36.0 146.2h0M39.3 134.2h0M36.9 147.0h0M37.7 128.9h0M32.8 142.0h0M36.7 136.4h0M29.9 135.1h0M32.7 136.3h0M32.2 138.4h0M31.2 135.4h0M31.2 135.5h0M36.3 128.0h0M39.1 140.2h0M32.5 138.9h0M39.4 145.1h0M36.6 146.8h0M32.0 139.1h0M38.0 138.5h0M30.4 134.6h0M38.4 138.0h0M30.0 139.7h0M37.7 140.4h0M34.2 130.5h0M33.7 136.7h0M35.1 136.3h0M34.6 146.1h0M35.9 142.3h0M34.5 130.8h0M38.8 137.5h0M36.8 134.8h0M36.6 136.6h0M39.7 143.3h0M29.9 137.3h0M37.4 146.8h0M34.7 134.0h0M37.4 143.8h0M37.2 132.3h0M33.0 147.6h0M31.2 136.6h0M35.2 135.9h0M38.4 137.8h0M40.1 138.0h0M30.1 139.1h0M30.1 134.9h0M37.2 135.4h0M33.6 137.1h0M36.9 129.2h0M34.6 146.9h0M33.1 142.0h0M36.5 131.6h0M35.6 135.6h0M34.0 127.4h0M38.7 137.8h0M30.3 134.2h0M36.0 136.5h0M35.8 138.7h0M37.8 131.4h0M32.8 138.7h0M39.4 130.9h0M34.8 145.1h0M35.8 138.2h0M35.0 147.0h0M32.9 128.2h0M36.1 140.4h0M31.3 138.4h0M35.8 142.4h0M41.6 137.4h0M34.1 132.1h0M31.1 138.1h0M30.9 135.8h0M30.6 143.5h0M33.6 131.7h0M34.8 133.8h0M38.5 128.9h0M33.9 129.8h0M29.8 139.2h0M31.1 143.6h0M35.4 141.3h0M36.5 144.2h0M37.4 144.3h0M39.2 141.1h0M29.8 137.2h0M33.3 142.3h0M34.3 141.3h0M34.3 146.9h0M40.7 139.6h0M34.6 144.5h0M35.8 142.5h0M41.1 144.5h0M31.8 137.3h0M38.3 129.3h0M39.4 140.9h0M38.0 137.8h0M31.0 134.1h0M38.9 144.7h0M35.8 144.5h0M35.5 138.4h0M31.6 130.0h0M34.1 143.3h0M37.0 128.9h0M33.9 138.5h0M30.4 134.0h0M37.4 132.9h0M32.1 137.7h0M30.0 133.3h0M36.5 142.6h0M31.8 141.8h0M39.4 146.3h0M35.9 145.7h0M40.8 132.2h0M33.0 134.6h0M35.8 137.9h0M30.6 141.3h0M30.9 142.9h0M37.1 133.0h0M36.0 146.6h0M38.7 134.5h0M40.0 140.8h0M39.5 143.9h0M28.9 135.6h0M35.4 143.8h0M30.8 138.1h0M36.6 143.6h0M30.1 134.4h0M33.2 135.8h0M34.2 143.9h0M38.9 133.4h0M37.2 130.1h0M37.4 135.4h0M39.8 136.2h0M39.8 145.3h0M39.3 142.8h0M31.6 130.6h0M33.9 134.7h0M38.1 137.5h0M40.5 132.3h0M37.9 135.0h0M39.8 137.9h0M34.6 133.7h0M32.9 130.9h0M35.0 129.5h0M37.3 141.6h0M31.6 132.7h0M36.2 144.5h0M40.9 133.3h0M38.3 137.3h0M40.6 136.6h0M37.2 125.9h0M32.0 130.6h0M33.2 127.0h0M31.1 140.7h0M32.0 142.6h0" stroke="#6040a8" stroke-opacity="0.45" stroke-width="1.1" stroke-linecap="round" fill="none"/>
<ellipse cx="39.50" cy="154.00" rx="4.25" ry="4.08" transform="rotate(0 39.50 154.00)" fill="#ead060" opacity="0.68" filter="url(#b1)"/>
<path d="M40.6 153.8h0M40.4 159.5h0M39.4 158.4h0M39.0 150.8h0M37.5 157.9h0M39.2 153.6h0M38.7 149.9h0M42.5 155.2h0M45.0 155.3h0M37.0 152.7h0M41.8 150.4h0M40.5 150.7h0M37.6 158.3h0M38.1 156.5h0M37.0 149.9h0M36.2 151.5h0M42.7 150.7h0M41.8 150.2h0M39.5 148.9h0M38.8 149.4h0M39.4 153.6h0M40.7 151.4h0M35.2 154.8h0M39.0 150.1h0M42.1 153.3h0M38.2 152.9h0M41.3 158.0h0M41.9 154.6h0M39.5 153.2h0M37.6 158.9h0M38.7 155.5h0M38.5 153.9h0M38.6 149.2h0M43.9 156.7h0M39.8 156.1h0M38.2 149.8h0M38.2 155.6h0M38.7 156.0h0M42.9 155.1h0M35.9 156.0h0M42.7 154.7h0M43.8 156.0h0M43.0 152.5h0M42.8 151.7h0M41.3 150.1h0M43.3 152.2h0M35.6 153.2h0M40.0 153.1h0M43.1 153.0h0M42.2 155.2h0M41.2 152.0h0M42.5 154.7h0M40.2 151.4h0M38.6 155.5h0M36.2 157.8h0M39.8 156.9h0M39.6 149.7h0M38.3 151.9h0M40.1 154.8h0M36.9 151.6h0M42.1 158.9h0M40.4 150.5h0M36.5 156.7h0M38.9 154.3h0M39.0 153.3h0M41.1 154.5h0M43.0 154.1h0M41.6 157.9h0M38.8 156.6h0M37.9 157.7h0M42.2 155.2h0M40.0 157.5h0M40.2 149.0h0M37.0 154.0h0M40.9 155.3h0M40.6 156.3h0M35.6 157.3h0M40.2 158.6h0M42.9 155.6h0M37.0 153.1h0M37.4 155.2h0M40.6 149.7h0M41.7 155.6h0M36.0 150.5h0M38.6 153.4h0M36.0 156.6h0M42.9 152.5h0M43.1 151.6h0M41.5 153.6h0M38.5 154.2h0M38.2 153.0h0M39.1 151.8h0M40.2 150.2h0M42.5 154.6h0M43.0 155.8h0M34.7 152.0h0M36.6 152.6h0M38.9 151.5h0M38.5 154.6h0M42.5 151.0h0M39.1 152.4h0M43.8 157.3h0M37.2 149.8h0M39.7 155.7h0M40.9 152.6h0M35.8 155.1h0M41.0 152.3h0M39.6 152.0h0M36.1 158.9h0M41.3 157.6h0M39.2 156.2h0M42.2 152.8h0M34.7 151.8h0M36.2 156.8h0M39.4 151.0h0M39.0 151.8h0M38.6 153.6h0M38.4 156.1h0M40.1 155.5h0M36.1 154.8h0M41.0 153.4h0M41.2 153.1h0M37.1 157.3h0M40.8 158.4h0M38.3 156.8h0M42.6 157.2h0M42.0 154.8h0M40.1 154.0h0M43.8 155.2h0M42.5 154.0h0" stroke="#e6c040" stroke-opacity="0.6" stroke-width="1.1" stroke-linecap="round" fill="none"/>
</g></g>
<rect x="23.5" y="105.5" width="65" height="64" fill="none" stroke="#222" stroke-width="1.2"/>
<clipPath id="cp11"><rect x="93.5" y="105.5" width="65" height="64"/></clipPath>
<g clip-path="url(#cp11)"><g>
<ellipse cx="136.50" cy="138.50" rx="10.62" ry="13.60" transform="rotate(0 136.50 138.50)" fill="#dce7f5" opacity="0.9" filter="url(#b3)"/>
<path d="M150.6 146.1h0M139.5 150.2h0M137.7 153.2h0M134.5 129.6h0M140.7 134.5h0M140.5 136.2h0M130.6 133.5h0M135.5 135.3h0M137.7 133.1h0M139.2 148.8h0M135.4 142.1h0M135.6 143.6h0M136.4 131.4h0M139.7 132.0h0M135.4 131.9h0M134.3 125.1h0M141.7 145.7h0M137.5 132.5h0M140.8 150.2h0M139.9 124.8h0M136.8 141.2h0M145.4 128.8h0M139.6 141.8h0M130.9 144.0h0M130.9 149.0h0M123.3 140.5h0M152.2 136.7h0M137.9 125.0h0M129.8 128.4h0M146.2 133.8h0M143.8 142.6h0M129.8 131.9h0M140.4 141.5h0M128.6 137.0h0M136.7 140.3h0M138.0 121.1h0M134.7 146.8h0M134.9 136.3h0M136.1 138.0h0M136.9 139.2h0M134.9 153.6h0M132.6 128.7h0M139.2 143.5h0M142.1 130.2h0M134.2 143.5h0M134.2 154.4h0M134.7 143.9h0M130.0 139.9h0M143.0 146.7h0M129.4 128.6h0M137.8 126.8h0M139.8 141.9h0M131.2 145.7h0M138.6 145.5h0M124.6 133.8h0M135.9 131.6h0M144.0 142.8h0M150.5 138.5h0M141.6 149.0h0M144.5 133.5h0M140.2 141.8h0M130.0 138.0h0M139.7 140.6h0M145.3 144.5h0M145.2 148.6h0M128.7 145.2h0M126.5 144.9h0M125.1 136.9h0M135.9 137.1h0M131.0 131.9h0M147.4 149.5h0M133.8 130.8h0M138.0 155.4h0M145.6 144.7h0M126.9 147.2h0M135.4 155.5h0M130.5 155.0h0M133.8 123.1h0M145.3 131.3h0M138.5 155.2h0M131.3 125.6h0M139.6 139.9h0M137.6 116.4h0M139.3 150.7h0M134.1 141.5h0M145.8 131.3h0M131.5 135.4h0M134.9 154.6h0M132.1 128.0h0M144.4 129.0h0M148.1 138.4h0M139.0 143.8h0M143.1 131.5h0M127.3 144.2h0M138.0 129.6h0M136.2 130.0h0M135.3 142.6h0M134.7 156.5h0M129.9 128.2h0M144.2 143.2h0M128.8 141.4h0M147.3 136.5h0M149.3 139.2h0M132.9 125.9h0M143.7 129.2h0M137.7 152.9h0M134.6 126.6h0M131.6 141.9h0M138.5 145.6h0M137.5 128.7h0M143.5 139.6h0M123.8 141.3h0M138.9 136.3h0M137.7 145.8h0M143.2 146.3h0M136.3 124.4h0M137.3 120.3h0M120.6 139.9h0M129.6 151.9h0M137.3 143.8h0M142.4 148.9h0M144.6 139.9h0M147.1 134.4h0M146.2 144.7h0M134.2 130.4h0M126.0 139.7h0M130.4 137.4h0M137.2 141.8h0M135.2 121.4h0M150.0 138.7h0M136.4 126.1h0M129.6 128.0h0M131.3 151.2h0M130.4 139.7h0M126.0 139.3h0M128.1 140.5h0M141.2 137.7h0M130.1 124.7h0M142.7 151.7h0M139.3 138.3h0M133.5 120.9h0M134.3 152.3h0M132.6 147.2h0M138.2 149.1h0M128.1 130.4h0M140.7 131.9h0M143.3 131.5h0M125.3 142.7h0M142.6 148.7h0M132.6 129.6h0M129.3 141.8h0M123.9 131.7h0M141.2 124.1h0M136.8 129.6h0M147.4 139.7h0M142.2 149.2h0M132.0 149.7h0M138.8 141.4h0M124.3 139.8h0M138.5 141.8h0M122.8 145.7h0M137.8 133.5h0M140.5 129.3h0M141.3 125.8h0M129.3 151.9h0M136.3 130.4h0M143.6 142.9h0M139.9 126.8h0M147.3 134.0h0M143.2 137.9h0M147.3 150.4h0M142.6 138.5h0M136.3 129.5h0M146.6 134.8h0M123.7 132.2h0M139.0 124.3h0M121.9 130.8h0M132.4 137.3h0M133.3 123.0h0M143.0 146.3h0M128.5 143.3h0M127.7 136.6h0M137.8 134.1h0M134.7 130.2h0M147.3 142.9h0M145.7 144.1h0M138.9 153.3h0M132.7 128.0h0M141.0 153.9h0M138.3 141.4h0M134.4 148.1h0M129.1 138.2h0M133.9 149.8h0M138.6 146.3h0M125.6 131.4h0M131.4 132.6h0M130.4 131.7h0M135.6 151.3h0M138.7 127.3h0M131.6 139.7h0M135.1 119.7h0M131.6 135.1h0M144.6 143.2h0M130.2 132.8h0M135.4 124.6h0M148.5 141.1h0M143.5 143.4h0M142.0 133.3h0M131.8 144.1h0M144.5 132.8h0M125.9 135.8h0M130.7 137.2h0M133.9 140.3h0M127.8 141.0h0M129.5 128.2h0M140.9 135.3h0M143.5 140.1h0M127.4 131.4h0M132.9 144.8h0M126.9 130.5h0M138.1 134.6h0M143.8 148.2h0M130.9 150.2h0M135.5 135.1h0M134.7 140.2h0M137.8 142.5h0M127.1 144.3h0M139.7 136.3h0M138.7 121.9h0M145.8 139.3h0M144.5 125.4h0M145.4 140.8h0M146.3 142.7h0M128.9 147.5h0M144.0 135.2h0M140.8 132.3h0M138.2 141.1h0M149.0 139.9h0M138.4 140.3h0M148.6 128.5h0M129.4 128.4h0M138.2 124.8h0M132.8 141.7h0M145.5 143.4h0M150.4 144.2h0M131.5 135.4h0M144.5 137.3h0M140.2 148.5h0M141.8 129.8h0M131.4 140.1h0M132.5 136.7h0M137.3 133.8h0M146.6 150.0h0M147.9 159.0h0M141.8 133.5h0M127.7 141.1h0M146.6 146.4h0M140.5 135.4h0M128.6 131.8h0M132.8 134.6h0M131.8 132.0h0M141.7 124.8h0M132.9 147.2h0M144.3 129.8h0M141.2 142.7h0M149.2 129.2h0M145.5 138.2h0M146.2 146.1h0M152.9 137.0h0M145.1 134.2h0M140.7 127.9h0M135.2 140.0h0M135.0 149.1h0M138.9 141.0h0M138.8 133.9h0M137.6 147.7h0M137.3 156.7h0M138.4 135.7h0M143.0 131.7h0M137.5 141.8h0M136.0 135.1h0M142.0 138.3h0M149.3 136.3h0M136.6 133.4h0M139.4 154.0h0M136.2 145.9h0M140.3 151.4h0M137.3 129.4h0M139.9 123.9h0M149.2 141.4h0M130.9 138.9h0M144.7 146.5h0M145.0 137.5h0M137.6 135.3h0M133.3 129.2h0M133.0 142.1h0M125.2 153.8h0M132.3 143.9h0M134.6 131.9h0M129.1 141.8h0M140.2 133.2h0M134.3 140.1h0M133.7 136.7h0M123.3 143.9h0M143.6 156.9h0M139.9 154.2h0M142.2 139.6h0M133.4 152.6h0M130.5 144.9h0M133.2 128.6h0M139.8 124.6h0M138.0 150.5h0M144.3 143.4h0M123.4 135.6h0M137.9 129.0h0M126.0 139.9h0M126.5 140.4h0M127.0 148.4h0M134.2 150.3h0M141.7 142.8h0M135.7 130.0h0M147.3 142.6h0M132.3 140.1h0M134.4 149.6h0M135.2 152.9h0M138.6 133.7h0M136.8 138.8h0M139.5 151.9h0M132.7 134.0h0M148.1 131.9h0M138.8 132.6h0M147.2 124.0h0M142.6 129.6h0M144.8 142.9h0M143.1 138.7h0M146.6 140.3h0M149.7 148.1h0M143.9 151.5h0M148.9 134.0h0M142.4 137.5h0M127.9 129.4h0M129.4 131.0h0M143.6 132.8h0M143.7 145.7h0M133.4 148.9h0M127.2 130.9h0M131.8 153.5h0M141.2 148.4h0M140.0 148.6h0M127.7 126.7h0M134.9 130.0h0M128.2 124.9h0M145.4 146.7h0M137.9 147.4h0M134.8 129.2h0M139.1 128.6h0M136.7 128.8h0M141.1 138.9h0M143.6 131.8h0M142.2 128.9h0M124.3 152.2h0M137.8 150.4h0M129.6 145.1h0M128.0 150.2h0M130.9 153.0h0M127.3 137.9h0M130.0 127.7h0M135.2 143.2h0M137.1 144.8h0M132.3 149.3h0M136.6 144.6h0M139.1 146.6h0M127.4 130.9h0M140.6 125.7h0M142.7 136.6h0M128.4 146.1h0M132.4 129.1h0M136.7 134.9h0M132.2 146.2h0M130.7 142.5h0M127.8 145.7h0M133.6 153.2h0M135.6 132.2h0M131.0 127.3h0M140.9 131.3h0M145.1 134.5h0M145.0 124.9h0M140.0 141.7h0M145.7 146.3h0M145.0 134.6h0M143.8 137.4h0M146.6 141.7h0M138.8 133.5h0M146.3 136.7h0M125.7 148.9h0M141.8 136.2h0M145.8 135.4h0M135.3 133.8h0M129.4 136.4h0M133.1 128.2h0M137.9 137.3h0M137.9 137.4h0M137.8 122.1h0M138.9 152.9h0M137.0 136.5h0M133.7 118.0h0M125.7 137.4h0M145.8 150.6h0M135.2 151.7h0M132.5 150.7h0M149.7 135.5h0M129.8 141.9h0M128.2 144.5h0M139.8 129.6h0M132.5 147.5h0M143.6 134.6h0M131.9 146.9h0M136.6 135.2h0M127.8 144.2h0M137.4 123.5h0M133.4 141.4h0M144.2 132.7h0M134.0 135.4h0M146.3 137.7h0M140.7 131.6h0M134.2 131.4h0M142.4 142.0h0M136.9 120.4h0M138.2 137.3h0M139.8 135.8h0M126.7 133.7h0M129.7 151.0h0M132.7 130.4h0M141.4 134.6h0M138.0 147.3h0M135.4 143.2h0M123.1 145.4h0M145.0 146.2h0M131.7 135.5h0M130.0 159.1h0M142.9 136.4h0M138.8 138.3h0M144.6 128.6h0M142.6 148.5h0M138.9 143.0h0M131.1 147.7h0M137.8 133.1h0M135.9 119.4h0M145.6 149.7h0M139.5 135.1h0M135.2 136.4h0M148.5 131.6h0M132.4 148.1h0M133.7 153.3h0M147.3 133.3h0M125.0 134.2h0M144.8 145.0h0M138.3 132.7h0M127.9 135.5h0M135.0 147.3h0M130.0 131.9h0M131.7 152.5h0M129.6 125.4h0M125.3 130.3h0M129.8 130.8h0M137.7 129.3h0M128.7 154.9h0M137.9 137.3h0M142.8 145.2h0M141.6 142.4h0M127.0 148.0h0M133.7 147.3h0M146.9 140.6h0M138.2 138.6h0M139.4 146.1h0M136.5 135.1h0M134.5 148.9h0M123.0 146.0h0M146.6 123.8h0M142.3 135.5h0M131.9 135.1h0M138.3 156.5h0M145.6 137.6h0M131.2 140.4h0M135.5 134.4h0M136.9 149.8h0M139.5 121.9h0M128.8 132.5h0M127.0 144.7h0M132.7 151.1h0M137.4 147.2h0M127.2 140.6h0M128.7 122.7h0M146.2 138.7h0M122.2 129.2h0M124.5 134.9h0M121.9 134.9h0M128.1 146.6h0M140.9 140.0h0M129.7 149.1h0M131.8 141.1h0M135.2 122.9h0M141.8 137.0h0M134.6 144.7h0M137.5 132.2h0M132.6 135.9h0M138.6 137.4h0M136.6 151.6h0M147.1 127.4h0M139.0 134.5h0M146.8 144.9h0M146.8 154.5h0M132.2 123.6h0M148.3 131.4h0M136.3 148.7h0M131.7 142.8h0M147.0 132.4h0M138.8 131.2h0M145.2 126.4h0M141.5 131.9h0M133.0 142.2h0M139.7 137.1h0M127.1 144.6h0M151.4 134.3h0M142.3 147.5h0M144.5 131.2h0M147.7 148.1h0M128.6 139.7h0M134.7 154.3h0M140.0 157.4h0M138.1 136.5h0M134.4 138.2h0M137.5 136.4h0M132.5 138.5h0M134.8 131.7h0M141.4 136.5h0M131.1 137.5h0M133.2 144.1h0M142.3 145.9h0M133.0 137.1h0M143.5 135.4h0M136.6 130.1h0M126.7 131.6h0M125.2 134.7h0M142.3 135.4h0M131.6 138.0h0M140.8 154.6h0M131.1 142.3h0M131.4 137.3h0M136.8 140.1h0M134.6 130.2h0M130.1 149.5h0M131.0 130.7h0M132.3 138.2h0M134.5 125.2h0M131.5 146.0h0M134.7 129.6h0M124.9 148.1h0M128.7 153.6h0M132.2 151.6h0M130.6 123.4h0M136.8 128.7h0M134.4 156.5h0M146.6 131.6h0M146.2 134.8h0M137.1 149.8h0M147.5 139.5h0M142.1 147.4h0M141.1 145.4h0M130.7 149.1h0M134.3 140.4h0M135.6 143.5h0M135.3 141.2h0M142.9 130.1h0M136.5 147.9h0M130.6 131.3h0M131.3 129.2h0M131.3 131.3h0M127.4 136.1h0M140.5 135.5h0M133.4 144.0h0M142.3 143.4h0M129.0 124.9h0M140.1 132.9h0M141.9 156.5h0M128.5 136.8h0M124.0 141.1h0M132.1 136.9h0M130.3 136.8h0M126.7 149.4h0M134.7 144.5h0M127.5 131.9h0M126.2 145.1h0M135.3 144.6h0M146.5 137.3h0M143.3 134.3h0M141.9 149.4h0M141.7 123.9h0M132.2 145.7h0M147.3 131.3h0M140.6 151.5h0M145.8 145.2h0M127.4 138.4h0M136.2 140.3h0M133.9 144.0h0M139.1 126.0h0M144.4 149.7h0M130.7 127.7h0M126.7 128.5h0M134.0 154.4h0M131.3 123.0h0M128.1 135.7h0M133.1 142.9h0M138.3 157.0h0M144.6 132.4h0M139.3 144.0h0M130.0 128.3h0M141.4 133.3h0M134.5 138.9h0M134.3 126.1h0M138.5 142.2h0M144.2 149.4h0M137.4 142.0h0M146.0 126.3h0M138.3 129.1h0M132.7 134.1h0M124.3 130.7h0M130.8 142.3h0M142.3 143.0h0M141.9 142.4h0M125.2 144.6h0M139.6 134.2h0M133.2 130.2h0M136.0 127.5h0M139.8 124.7h0M140.4 134.1h0M152.2 154.1h0M142.0 141.7h0M137.1 121.6h0M131.7 148.2h0M129.2 138.2h0M137.7 128.2h0M136.7 125.6h0M144.4 134.8h0M140.5 149.2h0M130.3 144.4h0M125.6 127.0h0M134.9 127.8h0M140.0 140.1h0M137.5 139.1h0M131.7 137.9h0M135.2 139.7h0M126.4 135.9h0M127.0 132.6h0M143.6 138.6h0M143.9 146.6h0M132.2 150.6h0M141.7 133.2h0M134.7 150.0h0M126.9 126.9h0M144.8 148.4h0M136.9 127.1h0M147.6 140.4h0M134.8 150.7h0M134.4 148.9h0M142.0 149.0h0M133.0 149.1h0M139.3 150.2h0M143.0 146.2h0M127.5 132.7h0M128.4 149.8h0M136.0 133.9h0M143.0 140.6h0M124.0 149.6h0M124.7 138.9h0M128.8 137.2h0M138.7 143.5h0M136.1 138.0h0M143.6 140.1h0M127.1 126.9h0M129.9 124.3h0M141.4 146.8h0M136.0 139.8h0M140.7 141.5h0M144.1 141.1h0M140.6 132.1h0M141.6 143.4h0M134.8 132.3h0M130.3 127.5h0M140.3 132.7h0M143.2 133.7h0M142.7 124.5h0M148.9 138.4h0M135.7 124.1h0M128.4 133.2h0M141.8 147.2h0M128.3 143.9h0M146.8 142.2h0M132.2 128.3h0M137.7 132.0h0" stroke="#90b0e0" stroke-opacity="0.5" stroke-width="1.1" stroke-linecap="round" fill="none"/>
<polygon points="119.4,111.5 124.5,114.5 127.0,120.5 126.5,129.5 119.5,128.5 111.5,128.0 106.5,125.5 107.5,119.5 112.5,114.5" fill="#bebebe" opacity="0.61" filter="url(#b1)"/>
<path d="M121.7 114.1h0M115.8 114.0h0M122.8 116.7h0M117.6 118.8h0M116.6 116.2h0M112.7 127.1h0M114.0 123.7h0M119.1 128.1h0M122.3 123.0h0M116.8 119.2h0M120.7 125.8h0M119.5 113.7h0M124.8 129.2h0M109.2 121.1h0M113.9 117.9h0M120.9 124.7h0M114.9 123.0h0M125.8 116.5h0M122.0 127.7h0M109.4 121.9h0M124.5 127.7h0M122.1 113.5h0M119.6 117.4h0M125.1 126.9h0M112.7 124.8h0M121.8 117.9h0M121.2 123.1h0M112.7 123.1h0M116.5 125.2h0M120.5 129.2h0M111.6 120.8h0M123.9 117.6h0M119.3 121.7h0M118.3 112.6h0M119.9 121.5h0M124.1 126.3h0M114.8 118.7h0M110.9 117.1h0M124.7 125.7h0M110.1 122.0h0M116.6 119.5h0M116.6 120.4h0M124.7 122.9h0M126.3 125.2h0M114.0 125.0h0M117.9 120.4h0M119.9 125.8h0M113.4 119.2h0M116.3 116.3h0M125.9 119.9h0M122.1 121.3h0M123.8 114.0h0M119.7 125.1h0M123.4 123.4h0M125.8 120.4h0M124.6 125.1h0M109.4 124.1h0M117.9 123.0h0M113.3 115.2h0M114.7 122.3h0M120.2 112.1h0M124.8 124.6h0M121.1 127.6h0M122.3 121.7h0M125.4 118.2h0M114.3 120.4h0M118.6 119.5h0M121.4 128.2h0M115.2 126.9h0M118.4 124.1h0M126.7 124.9h0M113.6 120.8h0M113.9 115.9h0M107.0 122.9h0M125.4 127.7h0M111.2 115.6h0M114.2 119.1h0M107.1 122.8h0M115.4 119.6h0M109.2 121.4h0M114.6 126.1h0M125.4 124.7h0M119.6 124.2h0M122.1 122.7h0M120.9 114.6h0M125.5 127.6h0M121.7 114.7h0M125.0 126.3h0M117.6 116.7h0M126.3 118.2h0M122.9 117.5h0M122.0 114.4h0M108.4 120.1h0M109.8 125.4h0M123.7 117.6h0M109.8 118.6h0M125.2 123.8h0M121.6 119.4h0M122.9 128.2h0M115.5 121.5h0M122.2 115.2h0M127.5 118.7h0M112.1 124.1h0M123.0 120.4h0M123.3 123.5h0M107.0 120.5h0M125.0 127.7h0M123.8 125.1h0M114.3 128.2h0M121.1 116.4h0M120.2 114.1h0M123.8 127.0h0M118.9 116.3h0M121.5 118.8h0M119.7 113.7h0M107.7 120.8h0M126.2 119.5h0M125.4 125.0h0M124.5 127.2h0M119.2 117.8h0M119.1 126.7h0M125.4 124.9h0M117.2 113.3h0M126.5 123.2h0M109.4 126.2h0M107.9 123.1h0M116.3 113.0h0M107.7 120.6h0M113.8 126.0h0M109.5 125.2h0M115.7 124.3h0M123.6 120.7h0M111.1 126.5h0M117.0 127.4h0M113.4 116.4h0M107.8 125.1h0M116.1 117.9h0M119.6 123.5h0M109.9 123.8h0M110.8 122.2h0M125.5 122.4h0M109.5 122.5h0M118.4 116.5h0M116.3 116.4h0M124.4 125.2h0M119.0 114.5h0M114.6 121.1h0M109.3 121.2h0M118.9 118.1h0M111.9 125.4h0M123.4 117.0h0M124.2 124.7h0M119.0 117.2h0M115.2 116.9h0M125.7 118.0h0M117.0 124.4h0M108.2 124.2h0M114.8 118.3h0M122.0 123.2h0M118.4 125.8h0M120.1 121.4h0M109.7 119.3h0M121.8 119.7h0M124.1 120.2h0M111.2 121.2h0M117.0 118.2h0M125.0 128.2h0M119.2 113.2h0M122.2 114.5h0M112.2 125.0h0M117.9 119.9h0M108.9 121.9h0M109.3 119.2h0M116.5 123.9h0M109.1 119.3h0M123.4 118.2h0M107.7 123.7h0M118.5 125.5h0M120.0 117.2h0M107.9 123.9h0M114.6 125.4h0M112.9 122.1h0M119.5 127.1h0M117.3 116.0h0M123.6 124.5h0M108.4 124.3h0M113.2 123.0h0M114.8 113.6h0M125.5 116.0h0M110.2 120.3h0M120.7 114.0h0M110.8 115.6h0M114.3 118.2h0M122.4 120.0h0M118.3 120.6h0M114.7 124.1h0M121.9 118.2h0M110.6 124.1h0M126.5 130.2h0M116.9 121.7h0M110.2 120.2h0M112.7 121.4h0M111.7 118.9h0M112.0 123.4h0M120.6 119.9h0M126.9 117.3h0M120.6 119.0h0M113.6 119.4h0M124.4 118.5h0M118.0 122.0h0M125.6 121.0h0M118.9 113.2h0M107.7 125.6h0M120.8 116.9h0M123.5 126.7h0M115.8 120.5h0M117.2 117.1h0M119.5 113.8h0M115.1 118.8h0M121.6 116.4h0M116.8 123.3h0M112.6 125.9h0M110.5 117.8h0M122.7 122.9h0M108.9 126.9h0M117.6 118.8h0M122.2 117.1h0M108.5 126.6h0M114.2 126.9h0M125.6 120.6h0M120.3 125.9h0M124.1 124.3h0M110.3 125.0h0M117.6 113.1h0M117.1 118.6h0M117.5 117.6h0M121.7 114.2h0M117.9 119.3h0M115.8 121.0h0M122.6 128.7h0M126.2 125.4h0M114.3 126.6h0M117.9 117.1h0M120.5 113.5h0M116.0 116.5h0M122.9 125.8h0M115.4 125.2h0M119.7 113.6h0M119.5 116.1h0M117.6 113.3h0M114.9 115.8h0M123.1 113.9h0M116.8 112.1h0M117.7 112.0h0M118.7 127.3h0M123.5 116.7h0M124.7 125.2h0M115.9 116.9h0M110.6 117.9h0M112.2 121.9h0M118.7 122.7h0M112.2 118.5h0M114.5 126.4h0M115.3 120.8h0M116.3 123.3h0M113.2 123.6h0M118.5 124.7h0M117.6 122.2h0M124.6 121.5h0M109.4 123.1h0M110.0 120.5h0M116.1 119.3h0M121.2 118.4h0M107.7 118.7h0M121.1 115.7h0M114.0 118.5h0M111.3 119.9h0M112.1 119.4h0M118.1 125.4h0M120.1 122.7h0M116.0 126.7h0M124.0 128.4h0M124.1 115.2h0M112.4 123.8h0M119.7 126.1h0M125.3 126.3h0M117.7 114.1h0M120.7 120.8h0M123.8 115.2h0M109.3 117.2h0M111.8 115.6h0M121.8 119.9h0M120.3 122.1h0M112.2 127.2h0M114.1 128.3h0M114.6 123.0h0M123.4 117.5h0M122.9 120.6h0M118.4 125.5h0M124.1 121.1h0M117.4 116.1h0M121.2 124.0h0M119.4 116.8h0M125.9 119.5h0M114.1 113.7h0M107.4 125.3h0M107.0 119.5h0M117.4 124.3h0M126.0 124.3h0M124.1 115.7h0M117.1 113.5h0M119.1 127.4h0M111.2 120.1h0M127.1 122.6h0M120.7 127.1h0M118.4 121.5h0M121.6 122.9h0M115.0 126.0h0M118.0 124.6h0M126.6 123.6h0M109.4 126.0h0M118.4 117.0h0M117.2 114.6h0M107.7 121.6h0M108.6 125.2h0M111.6 116.4h0M122.9 115.9h0M108.3 118.1h0M110.1 118.0h0M115.3 119.6h0M125.0 118.7h0M122.3 115.5h0M118.0 127.5h0M117.0 125.4h0M124.5 115.6h0M109.4 120.1h0M121.4 124.3h0M116.0 120.9h0M113.0 123.6h0M114.5 117.4h0M123.2 124.9h0M118.6 115.0h0M124.0 113.2h0M116.5 125.0h0M119.7 116.8h0M124.9 120.1h0M126.5 119.4h0M111.3 124.9h0M120.4 115.3h0M124.0 126.5h0M123.9 125.6h0M120.4 114.0h0M107.1 123.9h0M124.6 126.1h0M125.3 124.4h0M119.0 119.6h0M118.5 116.9h0M107.8 124.2h0M125.0 125.6h0M122.8 116.1h0M123.8 123.7h0M107.4 119.8h0M119.4 125.9h0M116.7 128.0h0M113.9 118.0h0M127.1 121.5h0M111.3 115.7h0M125.4 123.6h0M118.7 124.1h0M116.8 116.5h0M119.4 121.0h0M123.5 117.5h0M122.9 114.5h0M120.2 112.7h0M114.6 121.4h0M126.9 125.4h0M122.3 127.6h0M125.0 122.4h0M124.6 123.1h0M122.6 117.0h0M112.6 120.2h0M109.8 122.0h0M108.4 125.8h0M118.9 126.5h0M116.5 118.2h0M125.1 124.2h0M119.6 124.4h0M111.8 128.0h0M122.3 114.4h0M117.4 121.4h0M114.0 126.4h0M111.4 123.9h0M117.0 122.7h0M123.2 126.3h0M125.2 122.2h0M119.0 124.4h0M116.6 123.4h0M123.2 126.6h0M126.7 118.6h0M111.2 126.3h0M122.4 125.2h0M120.0 123.4h0M112.5 123.7h0M106.5 122.9h0M121.1 127.0h0M107.6 122.0h0M115.1 113.0h0M121.5 125.0h0M110.7 124.0h0M120.6 114.9h0M118.9 114.0h0M123.0 121.4h0M114.2 124.7h0M107.2 125.7h0M120.7 113.5h0M122.8 125.0h0M111.9 122.7h0M117.5 127.1h0M126.7 123.5h0M116.5 120.3h0" stroke="#a8a8a8" stroke-opacity="0.45" stroke-width="1.1" stroke-linecap="round" fill="none"/>
<polygon points="121.5,129.5 127.0,129.5 127.0,143.5 121.5,143.5" fill="#b08888" opacity="0.50" filter="url(#b1)"/>
<path d="M124.0 131.3h0M122.7 131.1h0M122.2 140.5h0M126.0 138.1h0M123.8 140.9h0M125.4 134.4h0M125.8 139.2h0M124.7 130.6h0M123.2 140.2h0M122.9 130.9h0M126.6 140.3h0M125.0 142.9h0M125.4 135.6h0M122.7 129.4h0M124.4 138.5h0M123.8 141.3h0M124.1 135.7h0M127.3 133.6h0M126.4 135.0h0M124.6 141.2h0M123.2 135.2h0M126.3 132.2h0M123.3 137.7h0M122.6 133.8h0M124.3 130.9h0M123.7 130.5h0M122.0 131.6h0M126.2 131.3h0M124.8 136.3h0M125.2 129.6h0M122.8 136.8h0M123.4 140.8h0M125.9 137.5h0M122.0 133.5h0M121.8 140.9h0M123.3 129.4h0M124.3 129.7h0M121.1 138.4h0M125.0 136.8h0M123.7 139.5h0M121.4 135.0h0M123.5 135.1h0M124.1 139.3h0M123.7 131.7h0M124.6 143.7h0M121.4 132.4h0M126.5 139.0h0M124.2 132.6h0M126.1 134.5h0M121.6 132.5h0M122.8 135.9h0M122.7 140.2h0M122.5 134.3h0M123.0 136.5h0M126.9 137.3h0M122.4 140.5h0M125.3 134.0h0M126.8 142.4h0M124.1 141.6h0M124.4 134.4h0M126.2 140.7h0M124.7 142.9h0M125.5 141.6h0M123.7 131.2h0M124.6 135.0h0M121.8 128.5h0M121.0 142.8h0M123.7 140.8h0M126.1 141.3h0M122.3 140.2h0M122.6 132.1h0M123.8 131.3h0M123.3 140.1h0M121.0 143.1h0M125.2 141.0h0M127.2 137.5h0M121.5 141.4h0M124.6 142.2h0M123.2 142.5h0M122.7 138.0h0M124.1 133.6h0M127.0 140.1h0M125.9 139.2h0M126.6 140.9h0M124.9 136.1h0M124.5 129.7h0M123.5 140.7h0M127.1 134.5h0M125.9 141.3h0M123.4 138.1h0M120.9 142.8h0M123.5 139.1h0M124.9 138.6h0M125.8 138.0h0M124.1 137.9h0M123.0 132.8h0M121.2 134.4h0M121.1 141.5h0M122.3 138.9h0M125.8 129.2h0M123.6 135.9h0M121.3 133.9h0M125.2 130.5h0M125.7 140.5h0M126.1 137.7h0M122.0 137.9h0M123.0 136.3h0M121.4 137.3h0M124.3 135.0h0M121.4 138.2h0" stroke="#8a5a5a" stroke-opacity="0.45" stroke-width="1.1" stroke-linecap="round" fill="none"/>
<polygon points="115.5,143.5 121.5,139.5 127.0,143.5 127.5,155.5 124.5,163.5 119.5,163.5 115.5,155.5" fill="#a85452" opacity="0.61" filter="url(#b1)"/>
<path d="M117.0 149.8h0M115.8 151.9h0M115.7 154.4h0M128.0 157.0h0M121.3 161.8h0M119.5 143.7h0M116.6 146.3h0M122.3 156.5h0M122.7 153.9h0M123.5 147.3h0M126.1 143.2h0M125.2 160.1h0M120.3 162.1h0M122.6 145.6h0M122.2 143.0h0M122.6 156.6h0M124.4 145.3h0M116.7 146.5h0M119.5 155.8h0M126.2 155.9h0M115.9 156.1h0M117.2 143.7h0M118.2 160.3h0M121.2 161.2h0M115.0 153.8h0M123.1 155.2h0M125.5 159.4h0M123.0 155.9h0M124.0 142.1h0M126.9 145.3h0M118.9 147.0h0M115.4 149.3h0M122.6 157.2h0M125.4 159.9h0M120.3 142.0h0M123.9 143.4h0M125.1 141.6h0M125.7 154.0h0M126.5 156.8h0M118.1 158.6h0M124.4 146.7h0M121.4 154.8h0M124.3 157.5h0M122.5 147.3h0M122.6 148.8h0M121.6 141.6h0M122.8 149.1h0M124.7 157.5h0M125.4 144.0h0M121.2 145.7h0M124.1 145.9h0M116.8 156.7h0M123.9 162.0h0M125.5 161.9h0M126.0 143.3h0M123.1 153.7h0M120.9 139.6h0M116.9 151.7h0M116.5 146.5h0M125.9 147.8h0M120.3 152.1h0M125.8 156.4h0M125.0 147.3h0M122.1 143.2h0M122.0 160.0h0M120.0 149.8h0M116.9 155.3h0M118.1 148.5h0M119.8 143.4h0M120.5 158.3h0M117.0 152.1h0M121.7 141.8h0M120.8 160.9h0M118.4 147.8h0M121.3 153.6h0M122.1 154.6h0M124.1 143.5h0M120.8 154.8h0M124.4 147.0h0M120.7 156.4h0M119.9 150.1h0M122.5 157.8h0M119.0 142.8h0M124.1 156.0h0M120.5 145.2h0M119.5 160.6h0M121.1 140.2h0M118.9 143.3h0M122.2 152.4h0M123.3 146.1h0M124.2 155.0h0M122.4 160.9h0M124.3 146.1h0M118.5 158.1h0M118.4 145.0h0M115.6 148.3h0M117.1 145.8h0M122.1 143.1h0M123.3 142.1h0M118.1 156.5h0M118.2 159.4h0M124.4 144.5h0M120.5 149.5h0M117.0 143.5h0M123.0 161.2h0M124.7 150.9h0M120.2 150.5h0M124.3 148.6h0M121.5 153.6h0M116.0 142.7h0M118.7 150.4h0M121.5 151.4h0M126.4 144.5h0M122.6 141.3h0M123.4 144.5h0M124.4 145.2h0M120.7 153.1h0M122.0 156.6h0M124.8 162.4h0M122.3 159.8h0M115.7 147.5h0M116.9 146.4h0M120.5 151.9h0M116.6 157.7h0M119.8 157.5h0M126.9 154.9h0M125.1 158.5h0M120.1 153.2h0M123.9 152.1h0M119.9 155.2h0M124.5 161.3h0M125.9 147.4h0M121.8 145.9h0M127.1 152.8h0M126.2 153.4h0M119.0 146.3h0M119.5 144.5h0M116.9 153.2h0M115.8 153.3h0M118.7 148.5h0M118.7 153.3h0M118.0 158.9h0M119.2 150.5h0M119.0 141.9h0M121.3 154.2h0M121.4 160.2h0M118.8 158.7h0M121.7 158.4h0M124.4 156.5h0M120.1 143.5h0M125.4 156.9h0M124.9 144.6h0M128.4 149.0h0M120.3 142.2h0M124.2 145.2h0M122.5 155.6h0M118.3 159.9h0M126.4 150.8h0M116.9 146.1h0M124.5 159.0h0M124.7 146.8h0M118.9 154.2h0M116.4 149.7h0M123.9 143.8h0M116.9 149.7h0M122.5 153.2h0M117.2 150.7h0M116.5 154.0h0M121.5 155.6h0M123.6 154.0h0M120.5 142.8h0M124.7 158.7h0M119.3 153.5h0M118.2 146.7h0M125.9 156.2h0M125.0 151.7h0M123.9 141.2h0M120.1 155.0h0M122.3 144.5h0M120.6 151.1h0M124.6 158.3h0M122.3 144.7h0M119.4 146.8h0M121.7 144.3h0M126.0 152.8h0M118.9 143.3h0M127.1 150.0h0M119.7 146.7h0M124.7 150.2h0M124.1 155.4h0M120.2 147.7h0M120.8 161.8h0M120.1 153.6h0M125.5 142.5h0M122.8 160.7h0M118.8 146.1h0M127.7 148.5h0M121.0 147.2h0M126.8 155.2h0M118.4 162.8h0M122.4 162.5h0M120.0 160.3h0M121.0 161.7h0M119.0 147.8h0M115.9 146.3h0M126.3 145.4h0M124.0 145.9h0M118.8 151.3h0M125.1 153.9h0M121.3 153.5h0M120.6 145.7h0M121.7 141.4h0M120.3 141.2h0M122.3 163.7h0M115.4 144.7h0M125.1 143.6h0M118.2 149.8h0M124.1 153.5h0M122.5 153.6h0M122.5 155.1h0M124.8 160.4h0M121.5 145.1h0M123.4 148.1h0M124.7 151.2h0M126.0 143.2h0M119.0 156.5h0M124.0 144.6h0M118.9 156.5h0M122.0 147.8h0M122.5 147.3h0M119.9 155.3h0M117.1 151.2h0M118.2 155.0h0M116.7 151.6h0M127.2 147.1h0M125.0 146.1h0M122.1 147.4h0M121.6 155.3h0M120.1 159.7h0M123.3 146.9h0M125.2 143.5h0M123.1 156.4h0M117.9 156.7h0M118.3 158.3h0M124.6 161.6h0M118.4 141.9h0M124.6 161.1h0M126.9 146.7h0M121.4 138.9h0M128.2 154.1h0M123.7 158.6h0M124.7 160.0h0M124.9 142.0h0M126.0 145.6h0M124.5 155.3h0M125.1 148.3h0M122.7 150.2h0M118.9 153.3h0M123.7 158.5h0M118.3 161.1h0M123.1 152.2h0M122.5 160.2h0M123.2 157.5h0M125.3 158.9h0M118.7 148.3h0M127.8 155.7h0M125.8 146.5h0M126.2 147.7h0M119.1 161.3h0M119.1 145.2h0M119.1 153.0h0M120.8 142.2h0M116.9 150.8h0M126.1 143.9h0M121.4 154.1h0M126.1 152.3h0M119.6 152.6h0M120.7 147.3h0M126.3 143.5h0M127.0 143.7h0M123.5 162.4h0M119.7 145.2h0M124.0 162.8h0M119.3 158.6h0M120.2 143.4h0M117.8 149.3h0M124.2 149.2h0M122.4 155.5h0M115.5 144.5h0M123.1 142.6h0M123.8 154.9h0M120.1 161.8h0M117.5 153.6h0M124.1 148.5h0M121.6 153.2h0M122.0 162.0h0M117.4 156.4h0M125.8 143.5h0M122.0 141.8h0M118.6 149.6h0M119.1 152.6h0M119.4 147.1h0M125.4 158.2h0M123.5 154.0h0M121.5 145.9h0M126.8 148.2h0M120.3 154.1h0M124.6 154.1h0M121.4 150.9h0M126.6 156.2h0M119.5 147.7h0M119.4 159.9h0M123.2 150.2h0M118.1 148.9h0M122.8 155.1h0M124.4 154.4h0M125.8 149.6h0M122.0 159.1h0M117.0 144.5h0M121.2 142.0h0M125.4 158.3h0M123.5 149.9h0M119.8 153.6h0M117.0 156.8h0M125.7 151.7h0M127.4 144.3h0M121.4 157.0h0M121.8 162.8h0M123.4 140.9h0M126.6 154.9h0M120.4 141.2h0M123.4 160.7h0M120.4 142.8h0M122.8 151.8h0M116.1 148.8h0M119.6 156.0h0M124.5 148.1h0M118.4 154.2h0M121.2 148.4h0M124.8 156.5h0M116.4 154.5h0M122.1 156.7h0M124.5 144.6h0M124.3 150.0h0M123.3 155.8h0M123.1 141.5h0M126.5 153.4h0M126.1 147.3h0M117.4 154.2h0M118.2 148.4h0M127.5 148.1h0M118.2 154.8h0M117.9 159.5h0M124.6 144.5h0M119.2 159.0h0M124.1 142.2h0M121.2 157.9h0M123.3 161.5h0M123.7 162.3h0M117.2 148.2h0M121.9 141.2h0M122.9 162.3h0M126.7 153.5h0M118.6 160.4h0M122.1 160.1h0M122.4 146.0h0M120.4 150.4h0M116.8 156.3h0M117.3 156.8h0M123.1 152.2h0M118.1 146.4h0M121.7 143.1h0M115.5 148.8h0M118.7 159.8h0M114.7 150.1h0M119.6 147.9h0M119.5 155.9h0M125.7 158.3h0M120.8 154.8h0M121.8 156.2h0M123.9 146.5h0M126.0 145.2h0M126.8 149.3h0M126.0 149.9h0M118.0 152.2h0M118.0 152.8h0M121.4 151.8h0M123.6 151.3h0M125.9 150.8h0M114.8 153.8h0M121.4 145.7h0M123.6 155.5h0M120.9 150.4h0M123.0 162.5h0M122.4 150.9h0M115.9 150.3h0M126.2 150.5h0M125.8 159.0h0M125.6 147.0h0M123.0 154.1h0" stroke="#983c3c" stroke-opacity="0.59" stroke-width="1.1" stroke-linecap="round" fill="none"/>
<polygon points="110.0,127.5 119.5,127.5 122.0,133.5 121.5,143.5 117.5,146.5 111.5,145.5 110.0,139.5" fill="#dc8896" opacity="0.65" filter="url(#b1)"/>
<path d="M115.7 138.6h0M118.2 134.0h0M113.8 141.0h0M113.2 134.1h0M115.1 129.1h0M116.3 130.5h0M116.3 139.1h0M114.3 138.5h0M110.7 133.5h0M115.7 139.8h0M114.9 139.4h0M111.3 135.0h0M118.2 142.3h0M112.0 129.3h0M121.2 138.7h0M114.1 145.8h0M116.4 138.1h0M115.0 128.9h0M116.0 143.3h0M121.0 134.8h0M113.3 128.0h0M114.1 138.2h0M114.4 142.3h0M116.8 129.4h0M115.6 142.2h0M120.3 134.3h0M113.9 128.8h0M118.6 144.0h0M117.4 137.9h0M117.5 130.1h0M116.7 129.5h0M118.2 138.5h0M113.2 129.6h0M115.5 131.1h0M114.4 136.3h0M117.3 144.4h0M110.3 130.5h0M116.0 128.6h0M120.3 131.7h0M116.5 142.3h0M118.8 133.8h0M120.9 140.5h0M118.8 130.3h0M116.0 135.6h0M117.2 138.6h0M119.5 142.4h0M115.9 143.2h0M113.3 145.6h0M112.3 134.0h0M113.8 130.9h0M113.5 143.2h0M120.3 143.7h0M114.6 141.0h0M118.1 138.7h0M114.4 139.9h0M115.4 129.8h0M119.5 137.6h0M111.6 141.0h0M118.4 133.7h0M117.6 132.7h0M112.1 128.2h0M110.7 139.3h0M119.6 129.1h0M117.4 140.9h0M116.8 129.9h0M121.2 138.5h0M114.0 132.0h0M113.2 141.3h0M115.0 133.3h0M120.7 130.1h0M120.4 139.0h0M120.9 132.1h0M119.8 138.0h0M114.5 141.6h0M114.5 140.9h0M116.7 136.7h0M110.6 136.5h0M115.8 138.0h0M120.5 142.9h0M117.4 128.4h0M113.8 144.3h0M111.3 135.5h0M116.4 139.8h0M117.5 141.3h0M114.9 137.6h0M120.3 138.0h0M116.3 141.4h0M118.6 129.4h0M117.4 133.4h0M118.1 130.1h0M117.7 136.3h0M112.0 145.0h0M120.7 140.5h0M121.3 141.7h0M114.5 131.3h0M116.3 142.3h0M113.1 138.5h0M111.8 142.4h0M121.4 143.6h0M113.3 136.5h0M112.6 136.5h0M112.6 137.2h0M116.8 143.0h0M117.7 140.2h0M113.5 137.8h0M117.3 141.7h0M116.1 134.2h0M118.9 138.9h0M113.5 145.4h0M117.7 133.5h0M112.9 139.9h0M111.8 130.7h0M118.6 142.7h0M114.8 128.1h0M120.4 137.9h0M115.4 143.5h0M110.8 128.1h0M119.6 132.1h0M110.8 138.5h0M111.1 133.5h0M111.1 142.6h0M120.2 131.5h0M114.0 129.5h0M114.8 138.0h0M115.4 132.6h0M120.8 132.0h0M112.8 142.0h0M120.4 136.7h0M121.7 136.0h0M111.4 139.5h0M114.0 141.4h0M113.1 127.3h0M111.6 140.0h0M118.9 141.3h0M118.7 133.7h0M112.8 138.1h0M112.7 138.5h0M119.2 139.4h0M118.3 143.7h0M118.7 139.5h0M112.0 132.6h0M114.6 133.5h0M118.1 142.3h0M117.1 136.8h0M113.9 135.2h0M117.1 135.4h0M119.2 144.2h0M113.0 138.5h0M114.9 143.8h0M118.9 133.2h0M120.3 137.2h0M117.6 133.4h0M112.0 133.5h0M114.2 144.9h0M109.9 130.3h0M113.6 137.3h0M111.5 130.1h0M118.4 132.2h0M117.1 140.1h0M119.2 133.9h0M113.4 142.9h0M118.1 136.8h0M113.0 144.2h0M117.2 133.9h0M114.7 127.4h0M117.1 131.4h0M118.4 145.2h0M115.5 141.9h0M119.9 142.6h0M118.1 138.7h0M118.3 144.5h0M117.0 137.3h0M114.3 129.8h0M110.2 129.6h0M110.1 130.4h0M112.4 133.7h0M118.6 136.4h0M111.5 139.6h0M116.4 142.6h0M112.9 144.4h0M113.7 142.5h0M113.3 141.6h0M113.0 142.9h0M112.9 137.2h0M113.5 128.0h0M113.5 128.4h0M120.0 142.2h0M120.4 138.9h0M117.1 139.1h0M115.2 132.1h0M117.9 146.7h0M115.4 146.6h0M119.9 142.8h0M118.9 131.9h0M114.8 131.1h0M114.8 131.0h0M113.6 142.7h0M109.8 130.1h0M111.8 131.3h0M115.0 141.8h0M112.9 144.2h0M114.1 135.7h0M112.7 135.5h0M120.9 136.1h0M118.8 135.1h0M115.7 132.5h0M114.6 134.0h0M112.9 136.8h0M114.9 135.4h0M111.3 143.4h0M111.4 145.1h0M114.6 142.0h0M119.7 138.5h0M118.0 132.2h0M117.5 141.2h0M115.1 132.0h0M110.6 136.5h0M116.6 128.3h0M116.7 133.0h0M119.9 135.7h0M120.1 131.8h0M117.0 134.1h0M114.6 142.9h0M113.2 144.7h0M120.8 137.0h0M119.2 134.3h0M120.8 140.5h0M109.9 144.2h0M116.9 146.1h0M110.8 135.6h0M111.8 130.9h0M112.9 138.5h0M119.1 133.3h0M113.9 134.9h0M111.2 132.2h0M120.4 138.6h0M110.7 134.7h0M117.8 143.8h0M118.0 146.2h0M112.4 141.6h0M113.5 134.6h0M116.5 135.6h0M116.9 130.3h0M115.5 140.2h0M112.4 136.5h0M116.5 135.1h0M115.4 130.1h0M119.3 131.9h0M109.4 137.6h0M116.3 137.4h0M117.2 132.4h0M111.3 127.5h0M111.8 143.1h0M111.9 140.2h0M111.3 133.1h0M116.3 139.3h0M113.8 141.5h0M112.2 136.8h0M119.1 141.7h0M121.4 142.8h0M117.4 136.7h0M119.3 136.5h0M120.7 140.9h0M120.3 137.7h0M113.6 137.5h0M118.9 132.8h0M114.5 142.5h0M119.3 144.4h0M121.0 134.6h0M120.0 133.1h0M117.6 130.2h0M114.6 134.6h0M117.1 129.6h0M112.6 142.8h0M111.1 130.6h0M116.5 143.5h0M118.7 132.9h0M119.1 140.2h0M111.9 141.3h0M112.7 141.2h0M113.2 143.3h0M113.4 144.7h0M119.4 142.2h0M117.5 139.2h0M117.5 139.7h0M112.8 129.5h0M117.5 136.2h0M113.2 138.3h0M115.9 133.2h0M116.7 127.6h0M116.8 141.4h0M121.5 143.0h0M117.3 146.6h0M113.4 145.2h0M116.9 136.1h0M115.7 144.5h0M118.0 127.0h0M115.8 141.9h0M112.5 142.0h0M115.5 137.9h0" stroke="#d67888" stroke-opacity="0.54" stroke-width="1.1" stroke-linecap="round" fill="none"/>
<polygon points="109.0,127.5 110.5,133.5 110.7,143.5 109.5,149.5 105.0,150.0 100.0,146.0 99.0,138.5 100.5,131.0 104.5,127.5" fill="#6a48ae" opacity="0.66" filter="url(#b1)"/>
<path d="M105.0 143.6h0M101.6 140.2h0M105.0 134.5h0M105.1 142.2h0M101.0 146.3h0M106.2 136.8h0M102.0 146.1h0M101.7 137.9h0M105.0 150.2h0M102.0 139.2h0M110.6 134.4h0M102.8 129.7h0M101.8 142.0h0M105.2 130.9h0M105.2 131.5h0M109.0 134.2h0M105.8 139.5h0M110.1 144.6h0M101.1 140.5h0M103.1 140.4h0M109.3 145.6h0M101.8 136.3h0M100.6 133.4h0M102.6 134.6h0M106.9 140.8h0M108.5 129.6h0M106.2 137.3h0M100.2 135.5h0M105.4 134.2h0M106.0 135.3h0M108.0 144.2h0M103.2 130.9h0M107.5 128.7h0M105.7 132.4h0M104.0 127.5h0M103.9 137.9h0M105.5 137.5h0M101.2 145.9h0M108.6 143.4h0M100.2 134.1h0M100.6 140.0h0M105.1 141.3h0M102.6 145.8h0M104.9 138.9h0M106.6 148.8h0M109.2 135.3h0M107.8 140.4h0M100.3 146.2h0M99.8 136.5h0M105.6 150.6h0M107.3 135.5h0M104.1 147.5h0M99.7 132.0h0M109.8 135.6h0M107.0 130.9h0M101.3 146.7h0M103.7 141.2h0M106.7 145.8h0M107.5 133.0h0M104.9 143.8h0M105.3 128.7h0M103.5 146.5h0M107.0 142.6h0M110.6 138.2h0M106.8 140.4h0M104.0 136.8h0M107.0 147.3h0M110.6 134.4h0M109.7 143.1h0M102.6 131.7h0M106.1 134.0h0M108.7 130.6h0M109.6 132.1h0M107.5 127.5h0M106.6 144.8h0M105.0 144.4h0M107.1 129.7h0M104.0 148.4h0M100.8 135.2h0M108.9 130.1h0M107.5 144.0h0M107.9 139.1h0M103.3 138.3h0M105.1 146.4h0M105.6 146.7h0M107.3 146.0h0M107.5 131.1h0M108.2 132.9h0M101.6 137.6h0M102.9 143.9h0M100.1 143.3h0M109.8 134.4h0M100.7 134.8h0M108.4 138.5h0M100.7 140.3h0M105.3 130.6h0M105.9 140.5h0M108.2 133.8h0M107.2 150.2h0M106.7 132.5h0M108.7 128.8h0M100.4 137.9h0M109.2 134.3h0M107.6 134.9h0M109.2 134.9h0M109.0 130.1h0M108.3 143.1h0M102.6 138.7h0M109.7 133.4h0M109.4 134.2h0M100.4 146.5h0M106.0 146.2h0M110.5 134.0h0M104.0 140.0h0M106.6 142.3h0M110.5 134.6h0M110.6 134.9h0M105.8 126.4h0M105.6 145.4h0M110.1 142.0h0M99.9 136.5h0M103.2 143.9h0M100.9 133.4h0M103.9 130.0h0M108.0 146.8h0M108.4 134.8h0M108.5 137.6h0M104.6 145.2h0M108.1 146.4h0M99.5 135.9h0M102.5 140.7h0M108.5 133.4h0M99.7 139.9h0M106.4 138.6h0M107.3 147.9h0M99.6 141.1h0M108.8 131.0h0M105.2 140.7h0M108.7 148.8h0M103.7 147.2h0M110.1 142.2h0M104.5 136.9h0M103.8 144.8h0M106.7 144.9h0M102.5 132.4h0M101.2 146.7h0M104.4 132.5h0M101.8 145.9h0M104.0 141.5h0M102.5 132.7h0M103.6 134.1h0M105.9 147.3h0M102.1 139.1h0M101.6 133.8h0M101.1 133.3h0M107.8 132.5h0M101.6 135.3h0M105.4 147.6h0M102.6 135.5h0M100.2 147.6h0M99.9 138.1h0M106.3 129.2h0M103.8 147.1h0M107.4 141.2h0M101.6 144.2h0M100.3 142.1h0M99.0 136.5h0M105.5 133.7h0M108.8 137.0h0M107.6 131.3h0M106.0 130.9h0M99.6 137.9h0M103.4 133.1h0M109.5 129.1h0M100.5 137.3h0M108.9 135.9h0M98.6 142.8h0M101.7 138.8h0M108.0 138.4h0M106.5 149.1h0M103.4 139.3h0M106.8 140.4h0M104.6 135.2h0M105.9 143.8h0M100.2 132.0h0M105.6 148.9h0M103.6 136.9h0M101.7 131.1h0M107.6 129.8h0M108.6 146.1h0M99.6 142.3h0M98.6 139.6h0M99.3 141.9h0M107.6 130.7h0M100.0 141.8h0M102.5 134.7h0M110.3 138.8h0M109.1 129.7h0M107.0 137.0h0M106.1 146.3h0M103.8 145.2h0M108.8 142.6h0M109.6 135.5h0M107.5 146.7h0M109.2 136.5h0M101.4 135.6h0M108.8 148.9h0M99.1 138.3h0M106.7 130.7h0M101.3 135.0h0M105.8 142.4h0M102.0 138.9h0M102.0 142.2h0M106.7 149.8h0M106.3 140.1h0M108.3 149.3h0M106.4 137.5h0M104.5 147.8h0M104.9 128.7h0M107.7 144.3h0M107.5 140.7h0M109.1 140.3h0M104.1 145.8h0M108.2 138.1h0M102.6 140.8h0M103.1 141.9h0M101.3 140.4h0M103.9 132.0h0M100.6 132.0h0M105.7 130.0h0M107.2 139.2h0M107.9 144.9h0M101.9 130.2h0M104.3 143.1h0M102.8 141.3h0M108.2 138.6h0M105.4 150.5h0M108.5 138.4h0M102.8 130.4h0M105.1 129.3h0M106.2 130.2h0M109.3 141.4h0M106.3 134.6h0M107.7 138.6h0M108.6 138.0h0M107.4 144.6h0M107.2 127.7h0M108.5 146.8h0M100.9 132.1h0M105.6 134.1h0M101.1 135.3h0M107.6 128.5h0M103.3 128.2h0M104.9 130.8h0M107.8 137.2h0M101.4 137.2h0M106.5 144.1h0M111.0 141.7h0M110.9 135.9h0M107.8 129.2h0M111.0 140.8h0M108.2 148.5h0M103.9 132.9h0M107.6 136.3h0M104.2 136.8h0M105.0 135.8h0M102.5 140.2h0M100.5 143.4h0M106.4 127.6h0M100.9 138.9h0M108.7 143.3h0M104.6 137.1h0M105.0 141.3h0M108.5 138.5h0M103.6 142.2h0M105.1 141.7h0M110.8 135.7h0M104.4 142.0h0M107.1 132.5h0M104.6 129.2h0M108.1 146.1h0M108.8 128.7h0M102.8 146.9h0M106.3 131.5h0M104.8 142.1h0M101.9 133.1h0M109.7 142.3h0M107.5 146.4h0M101.9 147.6h0M98.9 140.1h0M103.0 131.8h0M103.0 140.4h0M107.2 141.6h0M106.1 134.5h0M104.8 142.0h0M101.1 140.5h0M106.4 149.7h0M101.7 147.1h0M103.1 145.3h0M106.9 149.5h0M107.0 145.4h0M102.8 130.5h0M107.8 141.5h0M109.1 135.5h0M108.5 137.0h0M110.2 134.2h0M99.4 134.2h0M105.3 131.8h0M105.0 134.2h0M103.5 146.0h0M109.7 140.6h0M106.5 131.6h0M99.6 137.4h0M100.5 131.1h0M107.6 146.6h0M108.5 131.1h0M100.1 136.3h0M106.9 130.6h0M104.6 147.4h0M105.6 148.5h0M104.5 146.8h0M109.7 137.7h0M102.4 137.7h0M105.8 143.8h0M100.4 138.6h0M105.8 141.6h0M103.7 150.3h0M104.5 137.6h0M108.6 128.1h0M103.9 129.7h0M109.8 139.9h0M104.7 143.5h0M105.6 136.5h0M101.4 137.7h0M105.0 145.3h0M104.8 144.9h0M107.6 129.8h0M101.5 138.0h0M103.2 139.8h0M102.5 145.9h0M106.7 145.9h0M105.5 128.9h0M101.3 140.8h0M107.8 141.9h0M102.7 131.6h0M108.5 149.1h0M107.2 141.1h0M102.7 131.4h0M102.1 130.1h0M106.7 145.0h0M102.2 137.4h0M107.5 140.4h0M100.8 139.5h0M103.6 141.3h0M106.9 135.9h0M102.9 133.2h0M107.7 136.5h0M105.9 128.7h0M100.2 138.8h0M101.3 144.0h0M106.3 140.2h0M108.8 146.0h0M103.0 136.4h0M106.5 136.8h0M104.0 134.8h0M111.5 148.1h0M104.7 134.3h0M107.9 148.7h0M105.1 132.2h0M108.1 138.7h0M106.7 131.3h0M109.6 143.3h0M109.5 145.4h0M108.7 144.0h0M100.4 135.1h0M99.2 138.4h0M104.0 133.9h0M105.0 142.7h0M109.4 145.7h0M105.4 140.6h0M109.5 134.0h0M106.5 144.4h0M100.9 133.5h0M106.3 135.2h0M108.2 137.9h0M102.8 132.2h0M100.4 132.6h0M109.5 130.1h0M106.7 140.3h0M109.8 129.4h0M100.4 136.3h0M104.0 131.6h0M107.4 134.7h0M107.4 138.5h0M104.9 148.3h0M104.3 135.3h0M103.2 147.5h0M101.1 135.1h0M106.2 137.6h0M109.3 136.1h0" stroke="#5430a0" stroke-opacity="0.50" stroke-width="1.1" stroke-linecap="round" fill="none"/>
<ellipse cx="109.50" cy="153.80" rx="4.42" ry="4.42" transform="rotate(0 109.50 153.80)" fill="#eeb030" opacity="0.72" filter="url(#b1)"/>
<path d="M111.8 153.8h0M114.4 156.1h0M106.8 153.2h0M106.6 152.6h0M113.7 153.6h0M109.3 154.5h0M109.6 156.0h0M113.1 153.8h0M107.8 150.2h0M112.5 151.5h0M112.8 153.9h0M109.2 148.4h0M110.9 151.5h0M112.2 156.0h0M108.8 154.3h0M109.1 157.6h0M110.4 156.7h0M105.4 153.4h0M109.9 153.9h0M108.6 155.8h0M112.9 152.4h0M109.6 153.5h0M109.6 155.9h0M108.9 151.2h0M109.9 150.3h0M112.0 149.4h0M109.3 156.4h0M106.2 156.9h0M112.9 152.7h0M109.8 157.6h0M113.2 150.9h0M112.2 156.1h0M106.5 155.6h0M108.0 150.9h0M111.3 153.0h0M111.3 152.9h0M110.7 158.3h0M113.5 152.0h0M110.2 150.8h0M109.2 158.9h0M112.7 154.2h0M114.2 156.9h0M112.3 157.7h0M105.8 151.0h0M109.0 153.5h0M109.9 155.6h0M109.2 157.3h0M113.6 157.2h0M111.4 151.8h0M108.1 151.5h0M107.9 153.1h0M114.4 154.2h0M110.1 152.3h0M111.3 152.9h0M104.7 153.2h0M109.6 156.2h0M107.0 150.0h0M106.9 156.2h0M107.3 154.7h0M109.4 153.6h0M109.8 155.7h0M109.1 154.8h0M112.4 152.1h0M107.3 148.6h0M112.3 149.1h0M109.6 148.9h0M106.3 150.3h0M110.4 149.5h0M111.2 155.4h0M111.2 154.9h0M107.3 152.9h0M108.4 147.9h0M107.9 156.0h0M106.4 152.9h0M107.9 149.8h0M113.2 153.6h0M112.1 150.7h0M111.5 155.9h0M111.5 151.9h0M108.1 150.6h0M106.4 158.2h0M111.0 151.1h0M110.1 152.3h0M110.1 151.8h0M112.7 153.6h0M108.1 151.1h0M113.5 152.6h0M110.4 157.6h0M114.9 153.1h0M107.6 153.4h0M110.9 150.3h0M110.8 153.9h0M109.4 156.0h0M104.2 157.4h0M109.5 151.1h0M110.6 150.7h0M108.0 156.0h0M112.8 156.0h0M109.6 156.0h0M104.7 152.7h0M106.9 157.6h0M108.5 150.0h0M106.4 149.3h0M115.3 155.1h0M105.6 153.6h0M105.7 155.8h0M114.3 152.8h0M105.1 150.2h0M106.9 151.2h0M109.0 153.7h0M106.2 151.3h0M104.8 154.2h0M108.0 156.3h0M110.8 151.0h0M109.0 150.1h0M105.7 157.6h0M112.1 151.2h0M114.0 152.7h0M110.6 154.3h0M108.2 151.9h0M109.1 155.1h0M111.3 151.1h0M111.0 155.3h0M111.3 157.0h0M111.5 155.6h0M109.7 152.9h0M113.2 150.8h0M112.4 155.8h0M111.6 155.4h0M108.4 153.1h0M112.9 154.2h0M108.1 156.0h0M108.4 150.4h0M109.9 147.9h0M112.5 155.1h0M113.4 155.1h0M106.3 153.3h0M108.1 153.0h0M115.3 153.5h0M113.7 153.9h0" stroke="#e8a010" stroke-opacity="0.65" stroke-width="1.1" stroke-linecap="round" fill="none"/>
</g></g>
<rect x="93.5" y="105.5" width="65" height="64" fill="none" stroke="#222" stroke-width="1.2"/>
<clipPath id="cp12"><rect x="163.5" y="105.5" width="65" height="64"/></clipPath>
<g clip-path="url(#cp12)"><g>
<ellipse cx="187.50" cy="127.50" rx="9.35" ry="10.20" transform="rotate(20 187.50 127.50)" fill="#e2e2e2" opacity="0.6" filter="url(#b3)"/>
<path d="M190.3 129.6h0M200.6 136.3h0M191.3 138.8h0M183.2 129.7h0M193.0 132.7h0M181.8 134.5h0M189.2 128.3h0M174.2 133.5h0M183.7 131.5h0M187.9 126.6h0M185.9 133.1h0M182.9 138.6h0M182.2 138.9h0M183.9 122.8h0M191.5 130.5h0M192.3 113.5h0M194.0 135.6h0M193.8 123.9h0M185.4 114.1h0M187.2 122.5h0M187.0 133.0h0M182.4 140.7h0M184.6 130.3h0M190.1 131.8h0M187.1 123.7h0M188.7 130.8h0M188.9 124.7h0M186.9 134.7h0M186.0 133.2h0M184.4 126.2h0M193.9 140.1h0M186.6 122.0h0M191.3 136.3h0M179.0 117.7h0M175.4 124.0h0M183.9 121.1h0M191.0 131.4h0M185.5 126.1h0M179.7 124.6h0M190.5 135.0h0M187.4 126.9h0M188.4 125.4h0M181.2 132.3h0M187.1 120.3h0M181.1 126.2h0M195.6 127.8h0M185.7 132.0h0M173.8 118.8h0M187.9 124.7h0M184.7 130.6h0M198.0 129.1h0M184.0 129.9h0M173.9 122.9h0M183.8 119.7h0M189.0 128.5h0M183.7 123.2h0M182.9 114.8h0M184.9 124.0h0M189.9 131.3h0M191.0 133.0h0M187.2 128.1h0M193.6 129.8h0M185.6 130.2h0M189.6 132.6h0M196.5 127.1h0M186.3 131.0h0M189.8 120.6h0M194.1 126.4h0M175.5 119.0h0M181.0 121.4h0M179.8 126.0h0M182.3 130.5h0M187.6 134.4h0M183.6 132.0h0M178.6 124.1h0M194.6 126.6h0M176.7 133.6h0M192.7 131.0h0M190.9 123.7h0M187.3 130.9h0M193.4 114.7h0M187.2 120.8h0M182.7 131.5h0M178.8 127.0h0M199.7 127.9h0M190.3 118.9h0M178.0 121.6h0M182.0 118.9h0M183.7 123.8h0M184.1 126.8h0M190.4 125.7h0M187.5 123.0h0M193.2 121.7h0M195.0 133.8h0M200.2 122.8h0M189.7 133.2h0M182.2 134.9h0M193.5 130.0h0M179.8 132.6h0M183.5 129.6h0M195.0 117.0h0M190.0 126.2h0M189.7 119.3h0M183.6 135.3h0M186.7 131.7h0M184.7 119.7h0M187.7 136.8h0M185.4 133.6h0M185.4 125.5h0M181.9 120.5h0M195.1 125.1h0M186.1 136.7h0M197.3 124.7h0M188.2 127.6h0M182.9 128.7h0M181.2 114.6h0M176.9 116.3h0M182.7 132.5h0M180.1 124.4h0M198.3 121.9h0M193.1 135.5h0M191.9 125.2h0M194.1 124.0h0M182.8 127.4h0M185.4 133.2h0M170.4 136.4h0M188.8 126.1h0M177.9 126.4h0M190.0 120.8h0M182.8 123.9h0M181.2 136.6h0M180.2 126.0h0M184.6 126.9h0M183.9 136.1h0M181.7 124.0h0M178.1 119.1h0M190.6 126.3h0M185.6 126.4h0M179.5 129.6h0M184.9 137.3h0M190.4 134.9h0M188.0 135.0h0M192.8 130.9h0M179.7 130.0h0M186.7 128.2h0M186.1 129.3h0M185.4 127.2h0M183.4 138.8h0M192.1 121.4h0M200.0 126.4h0M187.2 120.9h0M192.7 132.7h0M187.2 122.6h0M192.0 125.9h0M190.7 132.5h0M180.6 120.4h0M191.6 138.5h0M181.7 127.3h0M198.2 124.2h0M200.1 128.1h0" stroke="#8a8a8a" stroke-opacity="0.35" stroke-width="1.1" stroke-linecap="round" fill="none"/>
<ellipse cx="193.50" cy="130.50" rx="3.40" ry="5.95" transform="rotate(10 193.50 130.50)" fill="#b8b8b8" opacity="0.5" filter="url(#b2)"/>
<path d="M190.4 130.6h0M190.6 134.0h0M190.8 130.0h0M193.3 130.4h0M193.3 127.6h0M194.4 131.1h0M196.5 129.4h0M197.3 129.5h0M196.4 130.9h0M197.7 130.0h0M192.7 131.5h0M193.6 122.7h0M196.6 128.0h0M195.6 127.9h0M195.4 128.7h0M192.4 129.4h0M194.5 129.8h0M193.8 133.2h0M194.5 132.8h0M191.7 135.1h0M190.8 131.0h0M194.4 128.6h0M191.7 126.0h0M195.7 129.9h0M193.5 128.5h0M192.7 133.9h0M192.5 130.5h0M190.4 135.0h0M193.2 124.6h0M195.3 131.5h0M193.5 136.1h0M194.5 127.6h0M194.6 130.1h0M193.5 125.1h0M196.0 132.2h0M196.9 131.0h0M189.9 134.0h0M192.7 134.4h0M190.5 134.2h0M193.2 133.7h0M196.5 125.1h0M192.2 127.4h0M191.9 132.5h0M190.3 126.9h0M192.2 134.6h0M190.1 132.6h0M192.7 129.0h0M194.2 132.2h0M191.6 134.7h0M194.2 127.2h0M193.9 133.6h0M194.3 133.8h0M196.5 124.4h0M190.3 130.3h0M195.8 132.2h0M197.0 130.1h0M193.1 132.0h0M190.4 137.6h0M195.8 126.5h0M193.9 132.6h0M191.7 132.3h0M196.6 128.2h0M190.9 134.6h0M193.0 127.3h0M196.3 129.1h0M195.1 126.0h0M194.6 131.7h0M194.4 130.5h0M195.4 127.3h0M192.2 128.8h0M193.5 126.3h0M195.1 125.2h0M192.9 132.0h0M191.5 129.5h0M192.3 136.3h0M195.0 127.1h0M192.2 129.9h0M191.4 130.5h0M195.6 133.5h0M195.9 130.4h0" stroke="#707070" stroke-opacity="0.45" stroke-width="1.1" stroke-linecap="round" fill="none"/>
<path d="M175.7 125.6h0M174.6 126.4h0M177.3 127.0h0M178.2 127.8h0M176.2 126.1h0M176.1 127.8h0M178.5 126.3h0M177.0 126.2h0M177.3 127.0h0M175.3 127.7h0M175.3 124.8h0M177.7 126.2h0M176.8 125.3h0M177.5 126.1h0M177.2 126.2h0M178.9 126.3h0M177.1 126.8h0M176.8 127.3h0M177.8 126.7h0M175.3 126.1h0M176.9 127.0h0M178.0 126.4h0M175.0 127.4h0M177.9 125.1h0M174.6 125.0h0" stroke="#909090" stroke-opacity="0.4" stroke-width="1.1" stroke-linecap="round" fill="none"/>
<ellipse cx="208.30" cy="139.30" rx="11.22" ry="15.30" transform="rotate(-10 208.30 139.30)" fill="#6792cf" opacity="1.0" filter="url(#b1)"/>
<path d="M216.8 149.7h0M212.5 141.8h0M199.4 144.8h0M199.8 129.1h0M196.9 137.6h0M214.3 144.4h0M219.0 136.3h0M220.1 137.4h0M200.1 126.2h0M200.8 146.2h0M200.2 148.2h0M201.2 151.5h0M201.5 133.3h0M200.3 135.7h0M218.7 140.3h0M209.4 154.2h0M213.1 147.9h0M214.8 144.6h0M213.7 128.3h0M203.1 139.8h0M208.5 142.9h0M207.3 134.2h0M213.6 146.6h0M214.9 145.4h0M208.8 130.0h0M198.9 133.1h0M213.9 154.0h0M206.8 145.8h0M197.3 133.7h0M199.7 151.3h0M215.8 124.3h0M210.8 146.9h0M215.7 146.2h0M214.8 130.9h0M208.9 137.9h0M208.1 147.4h0M218.5 133.6h0M219.5 144.1h0M211.6 129.1h0M201.7 135.0h0M210.6 153.4h0M201.5 124.3h0M215.6 134.8h0M204.7 146.5h0M213.4 131.4h0M207.4 136.3h0M212.1 140.8h0M200.1 124.2h0M203.7 126.4h0M214.4 135.4h0M206.5 129.2h0M209.8 142.9h0M213.8 141.3h0M198.1 132.4h0M211.8 135.9h0M200.2 141.6h0M206.1 139.5h0M220.3 135.2h0M202.5 127.9h0M208.3 127.3h0M198.9 134.3h0M215.0 124.4h0M207.2 146.0h0M211.2 148.9h0M218.8 139.7h0M200.3 145.2h0M214.2 145.8h0M205.2 139.8h0M206.5 140.2h0M204.6 131.2h0M205.9 148.0h0M207.9 127.8h0M198.8 145.6h0M197.9 147.1h0M198.0 134.6h0M218.5 132.6h0M218.3 145.8h0M212.4 142.0h0M209.1 132.7h0M219.1 133.5h0M214.4 135.6h0M220.2 139.0h0M213.7 126.3h0M212.3 149.4h0M205.0 140.3h0M207.6 119.5h0M213.0 130.7h0M202.8 126.2h0M199.3 141.8h0M199.9 129.0h0M212.4 155.1h0M214.6 146.3h0M210.4 151.2h0M207.7 135.9h0M212.9 139.3h0M206.6 154.0h0M218.6 133.2h0M207.9 132.8h0M196.3 133.8h0M205.9 131.9h0M217.1 146.9h0M209.5 126.8h0M214.0 130.0h0M197.5 137.0h0M219.7 141.6h0M215.9 129.0h0M206.4 152.4h0M212.0 140.2h0M206.9 135.8h0M220.0 148.8h0M204.8 147.3h0M212.2 132.5h0M207.1 144.9h0M209.4 153.6h0M200.0 150.4h0M201.3 131.3h0M214.3 133.4h0M219.1 134.0h0M215.0 153.1h0M194.2 131.7h0M213.9 144.3h0M213.2 138.7h0M200.5 129.2h0M218.0 146.2h0M203.7 140.4h0M203.2 129.8h0M209.3 150.6h0M198.6 127.1h0M198.7 132.1h0M198.9 132.2h0M199.5 139.2h0M213.0 145.8h0M218.6 141.2h0M210.1 142.9h0M215.0 135.8h0M203.8 128.2h0M203.3 154.3h0M201.6 125.9h0M205.0 127.9h0M203.4 152.5h0M199.3 149.7h0M216.5 143.6h0M215.0 144.5h0M215.1 133.0h0M212.0 131.5h0M214.1 134.8h0M212.8 134.4h0M202.9 154.3h0M211.2 140.2h0M200.8 127.6h0M212.3 154.5h0M209.5 137.5h0M212.5 145.2h0M211.3 125.7h0M207.6 126.0h0M215.9 153.8h0M217.4 131.2h0M212.8 141.4h0M207.4 121.5h0M213.2 135.2h0M199.2 142.7h0M208.2 146.3h0M203.8 122.9h0M213.2 144.3h0M203.6 137.5h0M209.6 136.6h0M203.0 155.2h0M202.6 127.4h0M211.8 147.7h0M196.0 142.6h0M212.4 134.8h0M198.8 144.4h0M208.4 139.5h0M202.1 143.1h0M209.0 152.2h0M198.9 128.6h0M214.0 130.1h0M219.4 136.5h0M212.8 148.1h0M194.0 140.4h0M215.3 148.4h0M205.8 141.4h0M217.1 145.8h0M212.9 141.2h0M211.8 129.9h0M210.6 142.9h0M203.1 150.4h0M218.5 144.1h0M199.7 137.0h0M212.2 146.1h0M202.9 130.1h0M198.4 145.1h0M210.8 147.6h0M197.5 129.3h0M206.0 151.3h0M210.9 136.2h0M212.5 138.3h0M214.8 148.4h0M201.3 125.1h0M198.2 132.2h0M197.2 140.1h0M214.9 154.4h0M210.6 136.0h0M205.3 135.9h0M199.4 149.1h0M202.8 141.6h0M213.5 129.4h0M213.2 139.3h0M202.1 138.1h0M208.3 151.7h0M200.7 139.4h0M217.4 142.5h0M203.2 150.7h0M205.5 149.2h0M212.4 129.8h0M209.7 146.2h0M202.6 144.6h0M213.2 126.7h0M215.0 152.4h0M215.7 144.8h0M214.1 157.0h0M205.2 139.6h0M209.3 124.8h0M208.4 146.9h0M202.1 131.3h0M206.3 137.3h0M203.7 155.4h0M217.6 129.7h0M217.6 127.3h0M204.6 153.3h0M200.1 128.2h0M205.5 136.3h0M195.4 135.6h0M213.7 149.3h0M200.2 136.7h0M220.9 136.0h0M204.2 143.8h0M195.4 140.3h0M213.7 150.7h0M196.0 142.9h0M203.0 143.2h0M204.3 130.2h0M204.2 142.1h0M194.9 134.6h0M206.0 152.5h0M219.3 147.9h0M212.3 147.8h0M208.4 153.0h0M210.9 128.9h0M213.8 143.3h0M201.7 144.7h0M208.1 129.7h0M210.4 127.9h0M196.7 147.9h0M217.8 146.7h0M211.9 155.2h0M217.3 132.9h0M208.7 144.8h0M205.4 150.4h0M201.7 153.7h0M220.9 145.1h0M213.4 151.8h0M199.7 141.1h0M211.9 127.3h0M211.4 131.6h0M213.8 132.6h0M201.3 128.5h0M218.2 134.2h0M201.9 140.5h0M214.6 139.5h0M194.8 142.6h0M212.2 149.6h0M200.2 147.3h0M202.1 146.6h0M206.2 145.4h0M203.0 130.6h0M200.8 150.9h0M219.5 148.3h0M217.2 152.1h0M207.7 154.2h0M211.3 138.5h0M209.9 144.5h0M214.5 138.3h0M215.4 132.3h0M197.5 146.4h0M207.1 136.5h0M210.8 153.2h0M203.1 132.4h0M215.8 153.9h0M217.6 132.1h0M206.5 155.8h0M207.8 156.0h0M204.2 138.8h0M195.7 136.4h0M219.8 134.0h0M201.5 134.8h0M215.1 135.4h0M199.9 124.8h0M211.9 124.6h0M218.6 141.5h0M196.0 139.9h0M219.1 142.4h0M214.9 142.2h0M211.7 129.2h0M195.9 141.3h0M202.3 127.5h0M208.0 129.0h0M220.4 139.8h0M216.6 144.4h0M204.1 141.5h0M212.6 134.2h0M210.8 151.5h0M216.1 134.0h0M199.5 150.3h0M217.0 150.3h0M202.4 140.9h0M197.4 149.1h0M203.8 134.0h0M201.6 130.2h0M217.7 136.6h0M222.8 142.7h0M197.1 138.0h0M204.5 155.6h0M198.2 148.7h0M219.1 142.2h0M204.2 123.6h0M200.1 127.2h0M208.7 140.9h0M201.6 141.8h0M212.5 151.1h0M199.4 142.5h0M203.1 142.9h0M197.1 137.6h0M207.7 139.9h0M218.2 149.6h0M217.5 134.0h0M200.0 147.3h0M204.1 152.2h0M210.4 154.8h0M214.8 148.7h0M202.8 145.6h0M210.6 136.4h0M208.2 146.9h0M201.5 151.2h0M214.5 154.1h0M212.7 143.9h0M198.8 144.3h0M201.9 124.9h0M198.6 135.6h0M210.4 121.5h0M219.8 133.6h0M210.8 155.6h0M211.1 140.9h0M199.7 132.9h0M213.6 153.0h0M205.4 136.4h0M218.1 147.3h0M212.5 129.7h0M201.9 126.6h0M197.2 128.9h0M206.2 150.3h0M207.5 150.7h0M199.9 131.8h0M211.9 158.0h0M195.6 132.7h0M213.7 127.1h0M218.6 137.3h0M220.5 143.9h0M220.3 133.4h0M211.1 150.5h0M203.8 125.0h0M216.4 139.1h0M213.8 129.2h0M205.8 134.9h0M211.6 125.8h0M207.5 131.6h0M203.7 138.0h0M215.9 145.0h0M211.5 122.3h0M215.2 150.0h0M208.6 123.8h0M208.1 121.3h0M210.2 127.7h0M212.3 152.9h0M213.3 139.2h0M211.6 148.7h0M209.0 126.8h0M206.7 132.9h0M213.4 155.9h0M212.7 139.9h0M216.5 137.9h0M200.1 138.3h0M202.0 136.1h0M210.7 149.5h0M211.9 148.6h0M202.8 127.7h0M208.9 141.4h0M198.6 135.6h0M213.0 145.3h0M202.4 136.7h0M220.0 131.2h0M211.0 148.9h0M206.9 134.0h0M207.2 127.2h0M207.8 120.0h0M207.6 126.0h0M207.0 148.8h0M214.3 152.9h0M218.3 141.0h0M203.3 127.9h0M217.5 151.5h0M205.9 150.4h0M213.9 153.5h0M199.0 146.1h0M202.5 144.0h0M211.0 142.6h0M195.0 134.1h0M218.9 145.6h0M204.3 145.2h0M196.9 136.1h0M203.8 146.1h0M207.6 152.2h0M198.1 149.9h0M201.3 146.2h0M217.5 147.1h0M214.1 144.0h0M208.3 155.0h0M199.4 130.9h0M218.4 142.1h0M209.3 141.4h0M207.3 143.7h0M216.5 146.4h0M198.1 134.6h0M221.4 144.6h0M204.4 131.4h0M203.5 128.1h0M207.2 137.5h0M209.5 121.0h0M205.1 128.2h0M203.1 148.9h0M216.9 138.1h0M214.0 154.3h0M220.0 143.9h0M207.6 126.1h0M210.8 129.6h0M202.5 124.3h0M202.9 152.2h0M196.6 135.2h0M201.1 130.4h0M206.5 134.7h0M209.9 156.9h0M202.5 129.1h0M204.2 153.6h0M199.9 149.5h0M212.7 153.2h0M205.4 144.6h0M206.8 143.2h0M211.5 125.6h0M209.2 142.7h0M200.7 138.9h0M194.2 135.9h0M203.6 124.8h0M200.7 144.5h0M214.3 149.5h0M201.1 131.2h0M210.0 146.0h0M215.1 138.2h0M199.3 139.3h0M211.9 152.4h0M204.0 141.4h0M204.3 128.9h0M198.2 145.8h0M200.8 128.8h0M202.1 125.1h0M212.6 157.2h0M219.8 138.5h0M206.3 122.7h0M208.9 140.4h0M214.9 138.4h0M217.5 150.3h0M208.8 136.0h0M203.1 138.0h0M210.2 146.5h0M216.6 127.8h0M211.2 140.8h0M213.3 147.4h0M217.2 151.3h0M219.1 151.4h0M213.9 138.1h0M204.0 156.4h0M195.7 138.0h0M201.7 151.0h0M202.8 147.1h0M204.7 141.0h0M213.3 146.0h0M219.3 137.7h0M201.6 148.3h0M200.4 146.6h0M197.6 131.3h0M196.1 133.8h0M210.3 154.1h0M218.2 136.2h0M196.9 132.5h0M197.3 145.9h0M218.7 135.7h0M209.3 138.4h0M213.6 125.6h0M218.2 147.5h0M209.9 157.6h0M220.9 142.3h0M218.3 131.0h0M215.8 152.7h0M203.6 128.1h0M201.5 141.7h0M216.6 127.7h0M201.9 130.3h0M217.7 127.5h0M206.9 125.3h0M209.7 148.9h0M205.2 154.6h0M197.0 132.7h0M207.8 154.7h0M214.9 152.8h0M204.4 150.3h0M215.1 130.5h0M206.2 128.2h0M218.2 144.7h0M202.0 146.0h0M208.4 146.4h0M209.6 131.6h0M195.6 130.9h0M203.8 155.2h0M217.6 129.8h0M215.0 142.5h0M215.6 136.8h0M209.9 154.3h0M212.8 144.2h0M200.7 138.0h0M220.8 149.0h0M211.2 137.6h0M206.7 150.6h0M219.4 138.9h0M200.3 127.1h0M215.5 146.7h0M203.8 123.5h0M208.6 132.0h0M213.0 151.5h0M216.2 131.6h0M209.1 123.1h0M216.9 152.6h0M216.2 135.8h0M207.2 156.9h0M205.5 144.8h0M217.6 136.8h0M212.9 151.9h0M204.4 134.8h0M214.5 135.1h0M205.2 137.9h0M211.2 150.6h0M203.1 128.8h0M211.7 124.1h0M220.3 140.9h0M216.8 145.8h0M206.1 155.9h0M208.5 122.9h0M212.0 150.5h0M211.4 152.3h0M205.9 146.8h0M207.7 157.2h0M205.3 129.4h0M201.6 153.1h0M198.4 139.6h0M206.5 141.8h0M206.2 144.1h0M205.6 126.6h0M201.1 140.0h0M221.6 134.0h0M217.1 133.1h0M217.8 144.0h0M207.8 149.7h0M209.7 145.6h0M204.4 132.9h0M214.0 127.8h0M202.1 150.8h0M219.5 145.8h0M211.0 152.5h0M211.8 148.0h0M206.5 147.9h0M221.8 146.8h0M195.1 138.6h0M220.4 138.5h0M198.3 128.3h0M204.0 151.1h0M217.6 145.0h0M218.7 145.5h0M204.7 136.0h0M215.2 155.4h0M203.5 125.2h0M208.6 132.1h0M204.5 130.9h0M206.3 126.9h0M200.2 124.4h0M212.0 151.9h0M200.7 145.7h0M216.0 130.1h0M204.9 142.1h0M217.3 147.9h0M213.4 127.0h0M217.3 145.5h0M220.2 148.7h0M202.4 123.1h0M206.3 152.7h0M201.5 148.1h0M209.0 133.6h0M212.2 148.8h0M221.4 143.9h0M213.4 132.4h0M219.6 141.4h0M204.4 131.2h0M219.9 142.3h0M201.6 143.9h0M212.6 155.8h0M214.8 126.6h0M204.3 141.9h0M200.9 142.8h0M204.9 147.2h0M210.7 147.2h0M207.3 140.2h0M208.7 152.3h0M198.9 140.3h0M217.9 153.3h0M207.1 122.4h0M199.8 140.9h0M216.3 139.8h0M213.2 146.9h0M209.8 148.8h0M203.7 140.9h0M202.5 143.4h0M197.0 139.8h0M225.1 143.5h0M211.8 146.9h0M215.8 140.4h0M219.8 145.4h0M211.4 143.3h0M218.6 142.6h0M200.1 142.4h0M198.2 149.7h0M216.2 144.8h0M199.7 147.8h0M210.3 132.0h0M211.3 147.1h0M204.1 149.4h0M198.9 131.7h0M217.0 145.7h0M198.2 133.8h0M199.2 127.9h0M207.0 126.8h0M207.8 155.8h0M203.9 131.9h0M201.2 142.0h0M196.3 136.2h0M201.9 144.3h0M207.6 151.3h0M211.8 145.3h0M200.4 142.0h0M220.4 133.2h0M214.2 125.3h0M198.0 138.6h0M213.2 138.3h0M212.3 153.9h0M202.4 144.2h0M199.9 124.2h0M202.7 151.4h0M205.0 127.7h0M198.1 146.4h0M204.1 121.4h0M214.1 132.9h0M198.6 149.7h0M221.7 137.7h0M205.5 143.3h0M203.4 150.8h0M214.7 147.0h0M203.3 146.6h0M195.8 135.2h0M200.6 146.9h0M203.7 145.9h0M201.2 151.2h0M214.9 150.7h0M221.8 146.5h0M203.4 129.3h0M201.7 132.0h0M219.4 138.0h0M211.7 128.1h0M220.4 149.5h0M197.7 128.5h0M198.6 132.9h0M209.2 137.9h0M203.0 142.1h0M198.9 137.0h0M197.6 146.3h0" stroke="#5484c8" stroke-opacity="0.45" stroke-width="1.2" stroke-linecap="round" fill="none"/>
<path d="M202.6 137.3h0M210.5 133.6h0M213.5 130.6h0M196.6 140.2h0M205.9 128.9h0M204.3 141.2h0M221.0 143.8h0M212.8 131.4h0M217.9 151.6h0M205.6 128.9h0M205.1 145.4h0M210.9 144.0h0M215.0 131.1h0M206.9 152.0h0M207.2 138.2h0M216.3 137.2h0M212.7 130.7h0M198.1 133.2h0M201.4 136.2h0M214.9 144.6h0M218.0 144.3h0M211.5 155.9h0M211.3 133.3h0M201.6 136.5h0M203.3 129.5h0M210.0 131.4h0M211.4 131.3h0M203.8 151.1h0M209.5 138.3h0M213.3 145.3h0M203.9 144.1h0M214.9 138.8h0M200.5 133.0h0M204.3 139.6h0M205.3 147.9h0M209.7 143.0h0M220.2 138.8h0M201.6 142.7h0M210.7 136.0h0M213.1 150.0h0M205.5 125.5h0M211.3 141.0h0M213.8 141.0h0M200.8 141.1h0M201.2 132.7h0M222.2 129.4h0M218.2 143.6h0M203.6 148.2h0M210.1 127.5h0M203.0 126.2h0M213.5 140.5h0M195.5 137.3h0M214.5 148.3h0M205.9 152.9h0M218.8 135.3h0M207.1 127.9h0M211.4 127.5h0M203.1 149.2h0M201.0 150.2h0M207.8 134.6h0M213.7 127.6h0M211.2 127.9h0M200.5 136.9h0M204.5 146.1h0M214.1 142.9h0M210.4 137.6h0M210.5 148.3h0M214.1 130.5h0M219.7 143.9h0M218.1 143.0h0M210.2 137.3h0M203.4 133.8h0M205.4 148.1h0M213.2 148.1h0M203.0 149.8h0M208.8 150.4h0M209.6 140.7h0M220.1 149.3h0M210.2 134.3h0M210.6 152.9h0M203.2 132.8h0M213.3 137.0h0M205.1 140.7h0M208.4 138.7h0M217.6 141.8h0M212.3 150.4h0M206.3 150.0h0M217.5 151.2h0M202.6 124.4h0M213.9 132.3h0M207.3 136.6h0M203.6 159.2h0M202.8 130.5h0M206.0 146.3h0M207.3 144.6h0M201.9 134.0h0M202.5 153.7h0M203.4 133.5h0M206.5 149.2h0M207.9 140.9h0M217.8 139.0h0M215.6 127.9h0M219.0 146.5h0M213.2 146.8h0M197.5 147.9h0M213.0 132.8h0M212.2 147.2h0M203.7 132.8h0M218.8 145.0h0M211.4 136.3h0M209.9 152.1h0M212.6 146.7h0M202.4 138.6h0M220.3 141.5h0M202.5 147.2h0M195.7 137.8h0M216.4 147.5h0M218.4 141.3h0M206.7 139.3h0M206.9 125.6h0M206.0 153.0h0M209.0 143.4h0M212.4 135.7h0M213.9 133.0h0M208.6 135.2h0M218.5 140.6h0M219.8 143.1h0M214.3 137.1h0M204.2 123.6h0M216.0 139.1h0M204.9 154.5h0M219.0 149.1h0M206.7 128.7h0M206.6 126.1h0M203.1 143.1h0M218.4 134.4h0M205.0 124.7h0M208.0 147.0h0M200.9 129.6h0M208.3 138.0h0M210.0 151.1h0M209.5 148.3h0M198.7 151.3h0M205.9 135.6h0M212.8 143.7h0M210.8 138.2h0M205.2 143.5h0M204.2 130.0h0M201.9 143.0h0M211.8 147.9h0M211.6 147.8h0M197.1 133.9h0M219.8 144.2h0M210.2 153.2h0M204.5 144.3h0M204.5 142.2h0M219.3 131.5h0M212.6 132.0h0M200.6 145.4h0M213.7 135.2h0M208.0 129.6h0M197.8 131.3h0M213.1 130.3h0M214.8 135.4h0M207.4 150.0h0M210.8 140.7h0M217.0 147.5h0M195.6 128.9h0M209.2 127.2h0M203.0 143.2h0M207.6 154.3h0M205.4 149.8h0M195.9 133.2h0M205.3 129.4h0M212.4 153.1h0M209.1 132.9h0M221.2 146.2h0M210.8 139.9h0M211.0 151.8h0M211.0 133.9h0M205.5 131.5h0M202.8 137.5h0M202.0 140.3h0M201.0 130.6h0M210.8 128.1h0M216.9 137.6h0M213.2 136.7h0M213.7 154.2h0M210.5 157.9h0M204.9 137.9h0M208.4 147.2h0M211.1 154.0h0M214.4 152.3h0M208.9 122.0h0M209.9 144.5h0M211.3 156.7h0M201.8 125.1h0M198.5 149.6h0M206.1 148.6h0M207.9 141.2h0M209.5 144.1h0M220.0 137.0h0M199.1 135.4h0M206.9 138.9h0M208.2 148.1h0M198.2 142.1h0M210.1 134.7h0M207.5 156.6h0M215.0 152.0h0M200.8 134.5h0M209.9 129.9h0M199.7 139.7h0M211.7 134.2h0M215.8 130.8h0M205.9 144.7h0M201.2 125.8h0M211.7 138.3h0M202.0 142.1h0M212.0 141.5h0M204.7 138.6h0M210.6 131.1h0M214.4 132.8h0M206.5 133.3h0M208.1 140.9h0M210.5 125.2h0M217.2 130.1h0M198.6 142.5h0M212.9 146.8h0M212.2 138.0h0M211.3 143.7h0M211.3 121.5h0M212.5 133.5h0M221.3 145.0h0M212.7 132.4h0M218.0 146.1h0M203.4 140.4h0M208.5 156.2h0M207.0 128.0h0M206.3 134.1h0M199.1 140.7h0M205.5 125.1h0M209.2 138.7h0M202.6 145.5h0M204.4 123.3h0M218.8 128.9h0M204.9 131.3h0M213.9 149.9h0M202.2 131.7h0M199.8 140.0h0M218.4 151.9h0" stroke="#8aaedc" stroke-opacity="0.4" stroke-width="1.2" stroke-linecap="round" fill="none"/>
<path d="M204.5 149.2h0M200.3 152.7h0M201.6 147.0h0M204.3 152.4h0M201.7 152.4h0M202.6 154.1h0M203.4 153.4h0M199.9 153.8h0M200.0 145.4h0M198.1 148.6h0M202.6 144.7h0M205.1 151.4h0M201.1 149.0h0M201.2 148.6h0M204.8 150.8h0M202.1 147.4h0M199.6 153.1h0M198.5 153.8h0M196.7 147.8h0M203.3 153.0h0M197.2 151.5h0M204.1 155.9h0M203.7 145.7h0M200.7 154.2h0M207.6 148.4h0M202.6 153.2h0M202.5 155.0h0M199.7 146.9h0M202.5 143.9h0M201.3 145.3h0M202.3 152.4h0M201.1 149.2h0M197.4 150.3h0M203.3 144.8h0M199.1 153.2h0M198.9 155.1h0M197.8 146.3h0M201.0 150.6h0M195.9 150.8h0M200.8 147.1h0M197.4 153.0h0M199.1 144.0h0M201.3 147.5h0M200.8 145.9h0M198.0 147.7h0M203.3 149.5h0M198.9 147.3h0M198.5 151.3h0M201.3 146.0h0M197.3 146.5h0M202.0 154.2h0M203.1 154.6h0M198.7 149.3h0M204.5 149.9h0M202.1 147.1h0M204.7 150.5h0M197.2 154.7h0M207.0 151.3h0M197.6 153.2h0M200.0 146.4h0M194.7 151.7h0M203.4 151.8h0M203.0 146.7h0M199.8 150.7h0M201.9 148.0h0M206.0 150.9h0M201.9 147.4h0M195.2 150.0h0M198.7 146.5h0M196.3 151.6h0M205.2 155.4h0M202.1 155.8h0M199.3 145.6h0M205.8 153.4h0M204.0 149.3h0M197.5 148.3h0M194.1 150.2h0M195.9 148.7h0M199.6 149.5h0M195.2 149.8h0M205.8 150.9h0M203.2 145.8h0M200.7 143.1h0M197.2 149.0h0M201.8 149.2h0M205.9 146.8h0M197.2 157.1h0M204.1 147.5h0M200.0 153.0h0M198.8 153.5h0M202.0 152.3h0M205.3 152.5h0M197.5 155.7h0M200.0 145.6h0M200.5 155.2h0M204.0 150.2h0M205.7 148.1h0M205.2 148.2h0M205.6 148.1h0M199.3 147.5h0M199.8 155.5h0M204.9 153.0h0M199.8 154.1h0M194.6 148.9h0M198.3 147.3h0M204.0 150.0h0M201.2 152.3h0M200.9 157.3h0M198.7 147.4h0M204.5 154.0h0" stroke="#a8c0e6" stroke-opacity="0.5" stroke-width="1.1" stroke-linecap="round" fill="none"/>
<ellipse cx="195.50" cy="143.50" rx="1.36" ry="4.42" transform="rotate(-10 195.50 143.50)" fill="#5a2a80" opacity="0.7" filter="url(#b1)"/>
<path d="M195.6 144.0h0M194.7 142.0h0M196.4 142.8h0M196.4 142.6h0M195.9 145.8h0M193.9 143.6h0M195.8 139.6h0M196.6 145.4h0M194.4 139.8h0M195.5 140.1h0M196.6 143.9h0M194.4 144.6h0M195.8 141.7h0M194.2 140.2h0M196.2 144.4h0M194.5 142.8h0M194.9 146.2h0M194.7 144.0h0M195.2 143.8h0M194.0 141.2h0M196.4 144.6h0M194.3 142.0h0M195.8 141.9h0M196.0 146.0h0M194.6 141.7h0M194.5 138.4h0M195.0 142.2h0M195.2 141.0h0M195.0 139.8h0M195.7 147.3h0M194.3 141.2h0M195.6 144.7h0M194.7 145.5h0M196.5 143.8h0M195.5 139.4h0M194.4 143.4h0M196.6 142.4h0M196.5 147.1h0M195.5 143.9h0M195.0 141.4h0M195.8 146.6h0M196.9 144.7h0M194.9 144.1h0M195.7 147.1h0M195.1 139.5h0M193.7 142.4h0M194.3 140.9h0M194.0 143.7h0M196.4 143.4h0M193.8 143.4h0M195.4 145.0h0M197.3 147.9h0M195.8 143.1h0M194.4 139.0h0M196.2 143.0h0M193.7 140.0h0M196.3 143.4h0M194.9 143.3h0M195.1 138.6h0M196.2 142.2h0M194.4 142.4h0M194.8 142.9h0M194.5 143.7h0M195.8 145.1h0M196.0 148.2h0M195.0 148.0h0M195.1 141.2h0M195.7 145.2h0M196.3 146.6h0M196.3 144.2h0" stroke="#3a1060" stroke-opacity="0.7" stroke-width="1.1" stroke-linecap="round" fill="none"/>
</g></g>
<rect x="163.5" y="105.5" width="65" height="64" fill="none" stroke="#222" stroke-width="1.2"/>
<clipPath id="cp13"><rect x="233.5" y="105.5" width="65" height="64"/></clipPath>
<g clip-path="url(#cp13)"><g>
<ellipse cx="257.50" cy="127.50" rx="9.35" ry="10.20" transform="rotate(20 257.50 127.50)" fill="#e2e2e2" opacity="0.6" filter="url(#b3)"/>
<path d="M248.7 123.8h0M245.5 118.2h0M256.8 125.2h0M256.6 130.2h0M252.6 126.0h0M268.6 127.9h0M257.2 116.2h0M261.2 129.5h0M264.8 135.5h0M258.4 136.5h0M264.7 135.6h0M258.8 141.7h0M261.2 130.2h0M253.0 123.2h0M262.5 127.0h0M253.5 120.1h0M263.6 137.6h0M265.2 132.2h0M249.8 137.8h0M271.0 131.1h0M253.1 129.6h0M257.2 121.7h0M256.0 129.8h0M252.0 134.7h0M256.1 116.6h0M250.3 136.4h0M255.9 135.1h0M255.4 124.2h0M264.5 112.7h0M265.9 130.5h0M259.9 135.1h0M258.9 128.3h0M252.2 126.6h0M261.2 126.6h0M255.1 123.7h0M264.0 129.2h0M265.1 132.6h0M258.1 126.9h0M258.1 140.2h0M260.5 130.6h0M254.3 123.1h0M267.7 123.7h0M256.5 120.5h0M265.5 117.3h0M265.5 120.4h0M247.1 137.4h0M269.6 126.4h0M254.1 114.9h0M255.0 123.5h0M250.0 146.0h0M253.9 115.2h0M257.8 117.9h0M255.1 133.2h0M258.8 120.7h0M244.1 123.9h0M257.2 130.7h0M260.3 125.6h0M261.2 124.8h0M263.3 118.7h0M254.6 116.4h0M253.0 130.3h0M265.8 128.8h0M247.1 128.1h0M253.2 129.5h0M271.5 126.3h0M263.3 128.5h0M262.3 134.0h0M258.2 138.4h0M259.6 130.3h0M253.4 117.6h0M257.2 126.3h0M261.8 130.6h0M262.1 133.6h0M253.2 132.4h0M251.1 136.1h0M252.9 124.5h0M262.1 124.5h0M256.7 131.7h0M254.5 118.0h0M253.1 122.4h0M254.5 132.4h0M254.7 132.4h0M262.9 134.9h0M262.0 135.9h0M254.2 122.4h0M258.6 127.2h0M268.1 126.4h0M257.4 122.1h0M261.3 135.7h0M257.0 127.9h0M263.0 126.3h0M268.0 124.8h0M257.1 119.4h0M250.1 131.7h0M264.1 122.1h0M260.3 126.3h0M259.5 131.1h0M258.9 116.5h0M260.1 132.3h0M258.2 129.0h0M254.8 128.0h0M259.6 139.2h0M257.2 127.4h0M253.8 121.4h0M258.3 125.6h0M264.9 122.2h0M267.5 122.2h0M267.8 122.8h0M256.0 124.3h0M246.1 125.4h0M262.4 121.5h0M254.7 120.7h0M251.8 123.0h0M261.5 131.2h0M261.8 132.2h0M267.1 126.0h0M251.4 128.1h0M265.6 125.3h0M258.6 123.5h0M258.6 116.4h0M250.5 131.1h0M254.4 128.5h0M259.1 124.3h0M245.2 126.3h0M248.8 133.2h0M267.0 128.1h0M253.7 126.7h0M249.4 119.4h0M259.4 125.0h0M255.0 135.5h0M269.5 128.3h0M266.0 132.5h0M263.1 117.0h0M262.8 133.7h0M248.3 134.8h0M264.7 128.3h0M257.0 122.6h0M262.4 121.3h0M253.5 119.9h0M247.7 123.4h0M257.4 124.9h0M250.7 140.3h0M251.6 128.6h0M263.2 116.5h0M263.4 115.8h0M263.8 125.3h0M257.9 123.1h0M254.8 135.9h0M256.5 123.3h0M262.0 136.6h0M245.1 131.6h0M253.8 125.1h0M261.6 125.8h0M262.8 130.6h0M251.0 120.2h0M253.6 127.8h0M262.0 122.9h0M251.7 124.5h0M259.5 134.5h0M258.9 126.1h0" stroke="#8a8a8a" stroke-opacity="0.35" stroke-width="1.1" stroke-linecap="round" fill="none"/>
<ellipse cx="263.50" cy="130.50" rx="3.40" ry="5.95" transform="rotate(10 263.50 130.50)" fill="#b8b8b8" opacity="0.5" filter="url(#b2)"/>
<path d="M263.1 128.6h0M260.4 128.1h0M264.9 126.9h0M259.7 130.8h0M263.3 127.0h0M266.2 133.6h0M264.1 127.9h0M259.4 131.7h0M267.0 127.7h0M265.9 130.5h0M263.1 132.9h0M259.7 129.8h0M261.8 132.0h0M266.1 132.3h0M264.8 130.0h0M259.0 128.7h0M261.8 134.3h0M265.2 124.9h0M264.7 125.0h0M265.7 124.7h0M262.9 126.8h0M265.5 129.1h0M263.6 129.1h0M262.5 131.7h0M263.3 136.4h0M264.5 124.2h0M265.5 126.6h0M264.0 127.6h0M262.9 125.8h0M265.8 128.5h0M259.8 133.2h0M261.9 131.2h0M261.4 128.6h0M261.9 130.5h0M259.8 128.0h0M265.7 129.4h0M259.7 131.7h0M266.2 126.2h0M264.0 127.5h0M262.0 128.7h0M263.5 130.1h0M261.7 123.7h0M261.0 127.2h0M265.8 127.5h0M263.6 130.0h0M263.7 133.7h0M267.9 127.1h0M260.2 128.2h0M265.4 137.6h0M264.7 132.7h0M260.8 135.4h0M266.7 130.4h0M263.8 130.3h0M264.3 136.6h0M259.8 135.3h0M262.6 134.9h0M264.2 125.0h0M260.5 125.8h0M264.2 135.5h0M261.0 130.0h0M264.7 137.0h0M262.2 127.5h0M262.9 127.3h0M260.7 131.7h0M263.0 125.9h0M262.6 136.3h0M262.7 136.6h0M261.0 131.5h0M261.1 132.1h0M260.7 130.9h0M263.4 134.6h0M260.9 132.7h0M263.5 134.6h0M259.5 130.3h0M259.1 131.5h0M261.7 135.1h0M265.5 132.1h0M265.8 132.9h0M264.0 134.1h0M261.7 127.7h0" stroke="#707070" stroke-opacity="0.45" stroke-width="1.1" stroke-linecap="round" fill="none"/>
<path d="M246.7 125.8h0M245.7 125.3h0M244.7 126.6h0M245.6 126.0h0M244.1 127.0h0M246.8 125.8h0M248.7 127.7h0M247.7 127.4h0M246.9 127.5h0M246.0 127.9h0M244.3 126.9h0M246.6 125.6h0M246.7 125.9h0M245.2 125.2h0M246.1 125.7h0M244.0 125.6h0M245.9 126.2h0M245.3 126.6h0M248.2 125.7h0M246.6 126.0h0M247.2 126.2h0M246.2 126.3h0M245.5 126.3h0M244.6 126.0h0M244.7 126.4h0" stroke="#909090" stroke-opacity="0.4" stroke-width="1.1" stroke-linecap="round" fill="none"/>
<ellipse cx="278.30" cy="139.30" rx="11.22" ry="15.30" transform="rotate(-10 278.30 139.30)" fill="#6792cf" opacity="1.0" filter="url(#b1)"/>
<path d="M276.7 141.1h0M285.3 134.7h0M290.3 140.3h0M279.9 144.0h0M270.9 122.4h0M269.2 139.3h0M280.7 121.4h0M290.2 139.3h0M287.9 132.2h0M283.5 150.2h0M272.6 139.5h0M271.5 132.6h0M270.5 141.3h0M276.2 145.3h0M275.4 141.0h0M291.9 137.1h0M282.6 152.0h0M281.1 145.6h0M284.9 149.1h0M268.4 137.5h0M282.2 145.3h0M282.2 127.9h0M271.3 124.8h0M280.7 149.1h0M285.2 147.7h0M283.9 147.2h0M269.1 136.3h0M281.4 147.9h0M286.1 125.1h0M281.1 149.9h0M289.4 131.9h0M290.5 143.2h0M274.2 134.1h0M274.3 124.9h0M286.7 132.7h0M285.7 129.4h0M266.8 134.6h0M280.6 157.9h0M281.0 150.5h0M275.8 142.6h0M271.8 152.7h0M277.0 154.9h0M269.1 129.4h0M269.3 147.9h0M270.8 130.3h0M283.9 141.6h0M271.5 130.7h0M283.0 154.8h0M272.6 132.6h0M273.0 124.1h0M273.6 132.1h0M271.5 125.3h0M283.6 145.0h0M271.0 141.2h0M271.0 152.5h0M287.9 131.8h0M289.9 134.8h0M276.9 154.0h0M287.6 133.4h0M285.8 145.7h0M289.9 135.0h0M285.4 150.8h0M291.2 143.2h0M276.2 145.4h0M281.2 123.0h0M290.0 136.4h0M289.0 149.0h0M280.6 131.8h0M287.5 140.9h0M273.3 131.9h0M277.0 154.8h0M273.6 139.4h0M281.5 153.0h0M273.9 121.1h0M276.5 130.1h0M268.8 145.2h0M284.9 147.4h0M271.3 152.0h0M290.7 133.7h0M267.2 134.9h0M275.5 139.9h0M274.3 137.8h0M283.6 133.6h0M268.3 126.5h0M280.9 124.4h0M277.4 155.2h0M283.6 132.9h0M272.3 128.6h0M274.5 125.1h0M277.0 140.6h0M271.5 146.5h0M278.9 151.0h0M283.3 154.0h0M272.2 147.7h0M273.2 152.0h0M288.6 134.1h0M275.0 136.6h0M273.5 134.0h0M281.0 135.7h0M286.9 155.0h0M290.7 133.1h0M282.4 146.1h0M288.4 142.8h0M282.2 143.6h0M275.6 150.4h0M287.4 150.2h0M276.6 150.5h0M288.8 134.5h0M277.4 141.0h0M268.0 128.9h0M282.1 130.4h0M284.3 152.0h0M287.6 140.2h0M266.5 136.3h0M280.4 131.3h0M274.5 141.1h0M282.6 155.4h0M277.7 155.4h0M291.1 142.1h0M276.0 142.4h0M281.9 128.0h0M279.3 125.4h0M283.5 146.2h0M268.7 147.8h0M279.2 134.8h0M289.3 137.2h0M279.2 139.4h0M278.8 156.1h0M284.4 129.2h0M272.1 135.9h0M269.9 142.0h0M286.3 133.1h0M284.3 146.8h0M265.7 137.3h0M276.7 152.4h0M281.0 136.0h0M268.6 128.1h0M273.8 145.2h0M278.6 130.8h0M271.0 135.8h0M289.0 142.0h0M279.7 149.5h0M287.0 137.7h0M265.8 132.0h0M280.2 137.4h0M281.5 135.7h0M282.8 145.6h0M274.4 143.6h0M288.9 130.9h0M276.4 144.2h0M285.5 150.1h0M271.8 130.3h0M281.9 136.6h0M284.8 142.3h0M284.9 154.3h0M274.4 126.9h0M272.6 133.4h0M275.4 151.8h0M288.1 148.6h0M275.4 124.2h0M271.6 140.5h0M281.8 138.3h0M267.7 130.1h0M283.5 133.6h0M276.3 141.6h0M282.2 133.7h0M285.0 139.2h0M292.2 136.2h0M266.3 133.4h0M274.7 129.7h0M275.0 127.4h0M285.6 151.2h0M280.3 124.1h0M278.7 149.0h0M276.6 124.1h0M291.5 140.3h0M279.4 135.9h0M287.3 141.0h0M278.5 139.1h0M270.8 145.5h0M277.0 152.5h0M279.0 153.9h0M277.1 125.7h0M270.4 129.4h0M280.7 133.5h0M285.4 128.7h0M281.5 138.9h0M285.5 129.5h0M272.9 154.1h0M292.2 136.4h0M282.9 123.1h0M284.6 128.3h0M271.2 123.7h0M287.6 150.6h0M277.8 141.1h0M284.7 127.4h0M284.0 140.9h0M281.1 143.1h0M269.7 127.8h0M265.7 138.6h0M272.5 136.4h0M275.8 132.5h0M276.0 134.6h0M288.1 143.4h0M288.1 147.1h0M290.0 137.1h0M279.0 146.6h0M273.9 134.4h0M278.1 123.6h0M289.0 143.7h0M280.6 144.0h0M282.8 125.9h0M282.2 124.1h0M289.5 142.9h0M284.9 156.3h0M267.9 139.5h0M273.4 148.7h0M270.7 132.6h0M288.6 145.9h0M267.9 146.0h0M274.5 130.1h0M272.3 153.4h0M280.7 145.5h0M273.4 146.1h0M283.3 155.0h0M285.2 133.6h0M276.5 150.5h0M280.6 129.5h0M287.2 141.6h0M286.0 139.9h0M278.1 152.9h0M284.4 134.4h0M277.5 148.6h0M279.1 150.6h0M273.2 146.5h0M265.7 139.1h0M283.1 134.8h0M271.9 126.2h0M281.9 122.5h0M279.4 126.4h0M274.5 124.9h0M274.7 135.0h0M287.7 131.6h0M269.0 133.5h0M282.5 133.2h0M283.4 134.0h0M278.3 133.1h0M281.9 137.2h0M273.9 146.5h0M278.4 140.2h0M274.0 124.1h0M287.4 138.5h0M285.6 140.6h0M272.9 143.7h0M269.4 142.6h0M270.2 133.7h0M270.2 136.8h0M278.0 153.0h0M270.8 136.9h0M275.5 128.5h0M281.5 142.8h0M273.8 136.0h0M289.8 143.2h0M279.8 123.9h0M280.2 154.1h0M280.7 149.1h0M274.8 140.7h0M288.4 138.4h0M273.6 137.1h0M269.3 142.4h0M284.9 127.3h0M282.2 147.4h0M286.6 126.2h0M282.4 130.0h0M287.5 135.8h0M275.0 144.4h0M273.7 128.1h0M270.0 142.5h0M271.3 128.1h0M268.0 136.4h0M281.9 144.6h0M286.8 147.8h0M292.1 142.2h0M280.0 135.2h0M276.8 126.2h0M284.3 146.6h0M284.7 146.1h0M283.8 131.0h0M286.9 154.5h0M286.2 129.2h0M282.9 150.1h0M286.6 140.5h0M267.8 144.9h0M272.7 133.2h0M280.7 148.6h0M289.6 141.5h0M281.0 152.1h0M285.7 134.8h0M271.9 149.2h0M271.1 138.3h0M271.0 127.5h0M265.7 136.1h0M271.1 130.3h0M271.6 152.3h0M274.1 144.6h0M273.6 151.2h0M282.4 143.6h0M279.5 154.7h0M278.2 140.8h0M282.5 140.3h0M269.0 125.7h0M266.1 135.0h0M280.1 138.8h0M272.0 126.7h0M271.9 140.4h0M267.3 143.8h0M283.6 130.3h0M276.8 141.5h0M270.8 149.7h0M283.4 136.3h0M277.1 128.7h0M285.1 126.5h0M281.2 145.0h0M285.0 146.0h0M288.5 127.4h0M273.8 140.2h0M282.0 144.5h0M283.0 135.2h0M282.0 140.1h0M275.1 140.7h0M282.9 143.7h0M282.1 149.0h0M280.2 136.3h0M278.6 132.2h0M270.6 128.1h0M280.2 144.7h0M276.2 130.2h0M267.4 134.5h0M271.6 149.7h0M285.6 151.4h0M269.5 142.0h0M274.1 134.8h0M275.2 132.1h0M289.8 140.3h0M266.6 144.4h0M284.5 133.6h0M283.8 129.8h0M281.0 132.5h0M273.1 134.6h0M288.3 145.2h0M280.7 131.4h0M285.6 133.1h0M285.1 135.0h0M272.6 140.8h0M277.4 144.1h0M286.5 148.9h0M286.6 139.8h0M280.6 125.6h0M275.1 140.7h0M286.7 138.1h0M272.3 138.1h0M286.5 136.2h0M289.8 136.0h0M267.0 138.7h0M271.7 132.6h0M266.1 137.1h0M275.9 138.3h0M267.2 144.4h0M279.5 154.8h0M279.9 134.8h0M277.7 143.9h0M276.8 154.9h0M289.4 136.8h0M272.2 128.0h0M278.7 139.6h0M267.4 128.8h0M271.9 128.7h0M271.3 141.5h0M275.9 151.1h0M266.9 137.7h0M286.0 148.9h0M271.9 129.2h0M273.0 129.6h0M270.9 138.0h0M279.1 155.5h0M284.7 137.2h0M285.1 140.5h0M270.8 123.4h0M272.0 130.9h0M284.2 135.9h0M286.1 153.0h0M273.9 145.0h0M273.0 141.3h0M272.9 154.7h0M281.6 156.1h0M280.1 140.0h0M279.0 131.8h0M287.0 137.0h0M274.6 123.5h0M283.2 141.8h0M280.2 150.8h0M272.3 124.8h0M286.6 131.2h0M275.2 127.7h0M282.3 156.0h0M267.7 139.2h0M287.3 135.3h0M273.2 138.0h0M286.3 152.3h0M288.2 136.1h0M268.6 134.0h0M278.0 128.3h0M278.9 146.6h0M276.8 143.4h0M272.0 120.7h0M282.9 150.8h0M278.2 145.7h0M275.0 140.8h0M273.7 138.7h0M269.7 127.8h0M283.5 154.2h0M285.4 145.7h0M281.3 146.0h0M283.7 145.3h0M282.8 133.7h0M290.8 136.6h0M284.0 155.1h0M267.8 125.3h0M277.5 135.9h0M287.4 136.8h0M278.8 121.4h0M289.0 147.4h0M283.3 152.9h0M273.5 138.8h0M279.4 136.1h0M291.0 138.7h0M280.0 141.3h0M281.7 136.6h0M281.4 147.9h0M272.4 140.1h0M274.1 140.3h0M280.9 124.1h0M279.4 144.2h0M287.1 141.1h0M291.6 141.6h0M281.1 134.5h0M275.8 149.8h0M286.5 147.9h0M268.4 132.9h0M278.2 133.6h0M269.8 129.7h0M270.4 146.3h0M289.6 139.1h0M272.8 151.1h0M269.2 144.4h0M282.1 127.1h0M277.2 124.9h0M280.8 127.8h0M273.3 143.1h0M281.3 156.9h0M273.5 125.4h0M283.5 149.6h0M282.4 138.2h0M277.3 153.7h0M269.9 126.7h0M289.0 143.2h0M287.6 137.4h0M273.1 148.6h0M276.8 125.7h0M284.1 149.5h0M289.2 138.0h0M288.7 136.2h0M267.6 137.0h0M273.9 153.9h0M277.7 154.1h0M283.7 127.3h0M275.1 142.4h0M281.3 137.0h0M273.5 123.6h0M279.3 156.6h0M275.4 143.3h0M277.3 149.8h0M285.1 129.8h0M275.6 132.1h0M272.0 151.6h0M286.0 146.1h0M273.1 140.8h0M288.5 140.9h0M281.9 149.9h0M288.0 142.3h0M276.0 149.3h0M272.0 142.5h0M273.1 128.7h0M275.4 140.5h0M280.4 153.6h0M289.1 140.4h0M280.7 130.1h0M270.0 141.7h0M287.9 153.0h0M272.6 153.9h0M276.7 140.9h0M275.4 132.8h0M289.9 145.6h0M275.1 148.2h0M287.0 142.7h0M284.8 152.3h0M287.6 152.7h0M280.3 138.3h0M278.5 127.3h0M275.7 153.4h0M275.6 136.6h0M276.3 143.3h0M277.0 144.7h0M290.0 138.9h0M285.0 148.9h0M287.2 136.9h0M267.3 148.9h0M280.8 142.0h0M286.0 142.9h0M280.2 140.3h0M273.4 154.0h0M279.6 141.0h0M270.7 142.4h0M275.4 126.4h0M276.5 136.7h0M278.4 155.5h0M275.0 144.9h0M283.3 153.9h0M284.3 143.2h0M276.2 155.5h0M287.8 135.6h0M282.6 147.7h0M278.4 152.4h0M285.3 137.4h0M275.6 147.0h0M281.3 126.7h0M274.5 153.6h0M277.9 137.5h0M274.2 150.2h0M269.6 143.1h0M272.5 138.7h0M272.9 141.6h0M287.4 151.9h0M272.6 139.2h0M287.6 150.6h0M280.2 123.5h0M276.8 141.2h0M274.4 147.1h0M287.1 138.1h0M281.7 146.3h0M276.6 145.0h0M274.6 140.3h0M273.5 120.7h0M267.8 143.8h0M277.5 142.4h0M267.5 128.4h0M290.0 133.8h0M269.8 134.4h0M269.4 145.5h0M288.5 138.4h0M285.5 141.4h0M273.0 125.3h0M289.3 132.7h0M283.0 127.4h0M279.2 141.4h0M281.3 157.6h0M282.6 154.0h0M273.9 139.3h0M285.7 126.7h0M274.3 125.1h0M281.7 134.5h0M267.0 140.5h0M275.5 130.6h0M268.4 133.0h0M277.1 155.5h0M279.4 141.1h0M273.3 136.6h0M275.9 131.0h0M279.1 136.9h0M282.8 121.2h0M274.7 144.7h0M287.3 143.2h0M274.1 137.2h0M273.2 141.5h0M276.5 127.2h0M269.9 134.2h0M273.6 140.7h0M270.0 127.1h0M272.8 149.9h0M279.7 136.7h0M271.1 145.8h0M272.9 121.5h0M281.9 125.9h0M282.9 128.5h0M277.8 142.5h0M281.2 132.3h0M271.0 125.4h0M265.3 134.1h0M278.4 140.4h0M267.0 134.0h0M279.7 131.4h0M275.8 136.9h0M280.5 124.7h0M272.4 140.4h0M275.1 134.8h0M275.0 144.3h0M266.3 139.1h0M282.1 156.1h0M280.1 127.5h0M276.4 151.5h0M277.2 143.5h0M290.2 133.5h0M275.0 128.1h0M286.4 131.8h0M285.2 151.6h0M268.3 127.3h0M288.7 136.4h0M279.6 129.4h0M276.1 141.2h0M274.8 151.7h0M276.8 148.1h0M283.1 132.7h0M273.8 136.2h0M275.8 131.4h0M278.5 129.9h0M287.7 131.2h0M273.6 126.1h0M289.7 148.8h0M279.7 133.4h0M283.7 153.1h0M267.1 143.6h0M273.2 126.3h0M281.2 130.1h0M275.5 126.3h0M285.0 146.5h0M289.3 146.1h0M277.3 131.3h0M276.1 152.8h0M285.7 128.7h0M279.8 137.5h0M277.4 150.2h0M275.0 150.8h0M282.7 131.9h0M289.3 135.6h0M271.9 135.3h0M287.1 132.4h0M272.7 142.5h0M280.4 147.9h0M277.5 150.6h0M291.0 145.6h0M279.7 159.0h0M281.5 126.9h0M268.8 136.6h0M282.1 155.3h0M286.4 150.8h0M279.6 140.6h0M277.8 127.0h0M279.9 133.3h0M271.1 153.7h0M278.0 124.8h0M272.4 150.4h0M274.0 140.2h0M270.0 134.6h0M288.5 139.4h0M269.3 137.6h0M287.5 146.3h0M276.0 134.1h0M278.0 124.8h0M275.4 142.6h0M279.7 155.7h0M283.0 146.3h0M275.7 127.5h0M289.1 131.6h0M288.1 154.9h0M289.4 136.1h0M280.3 150.4h0M275.4 120.6h0M276.2 136.6h0M281.7 135.7h0M270.5 149.3h0M290.8 134.7h0M281.7 136.3h0M269.8 144.0h0M284.1 147.1h0M281.1 140.7h0M278.6 132.9h0M276.1 140.0h0M279.1 156.6h0M290.3 138.2h0M275.6 129.1h0M286.6 129.9h0M288.9 151.5h0M273.5 127.6h0M283.7 150.5h0M279.6 129.0h0M279.7 131.7h0M270.9 151.7h0M283.8 136.8h0M280.4 124.6h0M281.9 131.5h0" stroke="#5484c8" stroke-opacity="0.45" stroke-width="1.2" stroke-linecap="round" fill="none"/>
<path d="M288.0 135.1h0M278.7 132.5h0M281.6 139.2h0M277.5 131.2h0M286.1 152.6h0M274.8 152.5h0M282.8 143.4h0M278.4 128.0h0M275.2 153.0h0M276.0 149.2h0M278.4 134.9h0M274.9 154.1h0M281.0 148.6h0M285.2 151.0h0M272.4 132.3h0M284.9 127.2h0M280.3 145.8h0M271.0 139.6h0M271.3 134.7h0M270.2 128.3h0M288.5 140.0h0M280.1 123.5h0M279.4 149.7h0M282.3 143.2h0M275.2 135.3h0M291.1 136.4h0M267.3 144.0h0M270.3 133.7h0M281.7 141.7h0M277.0 138.8h0M279.9 151.1h0M278.4 156.7h0M289.4 142.0h0M270.5 129.1h0M285.0 141.1h0M279.5 150.1h0M270.8 118.1h0M276.4 143.1h0M270.1 138.7h0M290.7 145.6h0M275.6 128.9h0M273.6 144.3h0M272.0 147.7h0M286.7 144.2h0M285.4 157.3h0M288.0 140.7h0M288.4 136.4h0M280.8 137.1h0M284.4 125.6h0M275.0 144.4h0M272.4 136.7h0M266.2 132.8h0M273.1 127.0h0M276.5 122.7h0M283.3 142.5h0M279.3 140.1h0M277.0 133.8h0M280.7 123.0h0M276.4 136.9h0M275.2 131.7h0M285.6 152.3h0M273.7 140.9h0M272.9 132.1h0M266.2 142.9h0M288.6 143.1h0M272.4 143.0h0M267.3 142.2h0M278.4 122.5h0M274.0 135.1h0M288.5 134.1h0M271.0 134.6h0M275.4 144.1h0M283.0 127.2h0M281.0 151.4h0M279.6 136.2h0M269.0 140.6h0M288.6 144.7h0M282.1 148.0h0M276.6 120.7h0M288.6 134.4h0M270.3 131.9h0M273.1 141.3h0M268.2 133.8h0M271.8 133.3h0M285.1 132.9h0M269.3 142.5h0M282.5 151.7h0M282.2 143.4h0M283.4 141.2h0M283.0 148.5h0M272.9 135.7h0M282.0 146.4h0M268.0 139.5h0M274.9 152.2h0M287.4 147.4h0M272.4 142.6h0M281.8 137.5h0M276.1 143.8h0M275.9 144.6h0M270.3 148.8h0M279.6 132.8h0M277.3 146.5h0M267.0 143.4h0M277.3 143.6h0M273.4 150.5h0M276.7 123.9h0M275.0 141.1h0M274.0 134.7h0M279.7 146.4h0M291.6 128.8h0M271.8 149.9h0M287.6 131.4h0M288.4 136.6h0M281.1 148.7h0M285.6 145.8h0M284.5 149.9h0M279.0 132.6h0M269.0 144.4h0M271.6 146.2h0M270.6 120.9h0M266.7 142.6h0M277.9 122.5h0M284.2 139.3h0M288.8 144.4h0M276.1 136.8h0M284.7 142.6h0M284.9 147.2h0M273.2 143.9h0M280.2 126.1h0M278.5 148.8h0M279.3 156.5h0M276.0 126.6h0M282.6 124.0h0M287.7 147.8h0M287.0 136.6h0M269.9 132.3h0M288.4 148.1h0M275.1 129.3h0M279.8 136.6h0M275.0 141.3h0M280.5 125.8h0M285.9 156.0h0M282.0 151.2h0M278.8 155.8h0M283.2 150.8h0M281.9 153.9h0M274.9 140.8h0M284.5 138.0h0M272.1 146.5h0M265.5 137.7h0M281.5 138.4h0M276.0 142.3h0M272.9 154.9h0M278.6 146.3h0M280.2 131.9h0M268.9 142.4h0M273.6 137.6h0M271.1 135.0h0M281.9 139.1h0M281.2 133.3h0M276.5 153.1h0M273.8 129.9h0M276.8 132.8h0M290.1 134.6h0M275.2 152.5h0M285.1 148.1h0M282.8 131.7h0M282.1 136.8h0M280.8 140.5h0M265.5 128.3h0M280.0 128.2h0M279.9 148.1h0M270.5 138.8h0M273.3 134.6h0M280.8 120.8h0M274.8 137.5h0M281.1 144.1h0M271.0 139.8h0M285.5 142.1h0M284.8 143.3h0M280.7 135.1h0M275.3 141.4h0M284.1 143.4h0M290.1 144.9h0M286.3 132.4h0M275.2 138.0h0M271.0 147.9h0M282.8 144.2h0M274.2 126.3h0M280.3 131.9h0M276.4 147.3h0M278.4 153.2h0M279.1 142.9h0M272.9 139.3h0M280.1 143.8h0M272.1 129.3h0M276.8 138.8h0M272.2 131.3h0M272.9 127.5h0M286.6 143.9h0M275.4 143.7h0M275.9 143.3h0M269.2 138.9h0M268.5 134.9h0M279.6 148.8h0M286.9 138.5h0M280.6 151.0h0M287.4 144.1h0M285.8 135.8h0M265.5 141.5h0M277.0 136.7h0M272.8 140.9h0M270.5 143.0h0M282.9 123.2h0M277.6 123.6h0M280.7 144.2h0M271.8 132.4h0M283.4 134.6h0M279.2 141.5h0M275.7 130.1h0M265.1 137.1h0M267.6 129.4h0M271.2 131.8h0M286.7 137.3h0M268.6 128.9h0M288.0 139.7h0M275.5 140.5h0M281.8 132.4h0M267.2 139.9h0M275.8 139.6h0M284.6 142.5h0M284.5 155.9h0M276.1 125.8h0M270.9 129.4h0M279.6 134.5h0M283.0 144.1h0M269.4 151.5h0M282.1 137.5h0M275.0 151.6h0M272.3 156.9h0M274.7 141.6h0M267.0 143.3h0M277.9 158.9h0M266.8 129.3h0M280.5 152.5h0M270.9 139.6h0M286.4 151.9h0M266.1 138.0h0M279.7 134.8h0M281.5 156.0h0" stroke="#8aaedc" stroke-opacity="0.4" stroke-width="1.2" stroke-linecap="round" fill="none"/>
<path d="M267.1 149.3h0M271.6 146.6h0M271.1 149.4h0M270.8 154.6h0M268.1 148.8h0M274.3 156.8h0M269.3 152.3h0M272.3 147.8h0M272.1 151.2h0M267.0 148.2h0M275.8 150.8h0M269.0 146.4h0M269.7 150.0h0M264.6 151.3h0M268.7 146.0h0M269.2 150.6h0M274.0 151.8h0M268.4 153.8h0M272.7 151.7h0M268.2 150.7h0M269.5 156.9h0M269.2 148.7h0M265.4 151.7h0M267.8 148.1h0M273.3 148.4h0M273.4 151.7h0M269.8 147.8h0M267.8 150.0h0M274.5 149.5h0M274.9 145.3h0M269.7 157.9h0M273.2 152.1h0M274.3 149.7h0M275.2 154.7h0M268.6 150.9h0M267.2 152.2h0M275.3 151.8h0M273.2 149.1h0M270.9 153.3h0M272.2 153.5h0M273.8 147.8h0M265.5 147.6h0M268.3 148.2h0M272.5 154.9h0M270.7 146.1h0M271.9 149.7h0M270.9 152.5h0M273.1 148.9h0M275.2 149.7h0M271.6 154.8h0M273.5 150.4h0M269.0 145.1h0M274.5 151.3h0M267.1 153.4h0M271.9 147.2h0M273.9 152.6h0M272.6 152.0h0M269.8 150.1h0M270.4 148.7h0M267.7 151.3h0M270.4 155.7h0M270.6 147.3h0M269.3 144.8h0M268.1 147.0h0M278.0 151.8h0M271.0 150.5h0M275.5 151.3h0M270.7 145.7h0M271.7 155.2h0M272.4 151.7h0M272.5 152.5h0M268.2 150.9h0M271.2 148.6h0M275.1 151.5h0M265.4 153.7h0M271.2 152.7h0M270.3 155.4h0M268.8 147.3h0M266.4 152.0h0M267.6 146.3h0M273.1 153.5h0M268.2 148.1h0M273.8 149.4h0M272.1 153.1h0M272.6 149.1h0M272.0 151.3h0M273.4 155.4h0M269.1 146.7h0M272.7 155.4h0M269.3 154.6h0M266.4 153.5h0M274.9 149.0h0M269.1 154.8h0M271.4 148.5h0M273.4 150.0h0M266.3 147.2h0M272.5 144.7h0M268.4 148.3h0M268.2 147.8h0M268.0 151.1h0M268.6 153.8h0M275.2 153.0h0M271.0 153.3h0M274.3 149.4h0M268.0 152.7h0M271.5 155.1h0M272.0 150.3h0M271.1 147.8h0M267.0 153.2h0M266.0 151.8h0" stroke="#a8c0e6" stroke-opacity="0.5" stroke-width="1.1" stroke-linecap="round" fill="none"/>
<ellipse cx="265.50" cy="143.50" rx="1.36" ry="4.42" transform="rotate(-10 265.50 143.50)" fill="#5a2a80" opacity="0.7" filter="url(#b1)"/>
<path d="M264.9 144.2h0M266.7 140.7h0M265.9 144.2h0M265.5 146.1h0M265.1 141.7h0M264.0 139.8h0M265.2 146.7h0M265.0 142.7h0M265.3 145.3h0M266.3 143.0h0M265.9 144.0h0M267.1 148.5h0M265.6 147.3h0M267.0 143.9h0M266.6 142.7h0M266.6 147.3h0M267.1 143.8h0M267.4 143.8h0M265.1 138.8h0M265.3 142.2h0M265.8 145.7h0M265.2 147.1h0M264.3 144.5h0M265.3 137.3h0M266.0 148.8h0M266.2 141.5h0M267.1 145.6h0M264.1 141.8h0M264.6 141.0h0M266.4 141.9h0M266.2 146.7h0M265.5 148.0h0M264.1 138.0h0M265.4 144.8h0M265.4 139.2h0M267.3 144.0h0M265.8 146.9h0M266.0 146.8h0M265.1 145.0h0M265.6 143.7h0M265.6 146.2h0M266.0 142.7h0M264.5 143.0h0M265.3 143.4h0M265.2 144.6h0M265.9 147.0h0M265.8 148.0h0M264.9 139.2h0M266.1 147.6h0M266.6 141.6h0M265.0 141.6h0M265.9 142.6h0M264.7 138.6h0M266.8 148.6h0M267.3 146.5h0M266.0 143.0h0M266.1 147.4h0M265.5 147.3h0M264.2 142.9h0M264.4 144.3h0M266.3 145.2h0M265.0 144.5h0M264.7 138.0h0M265.2 139.7h0M264.9 142.6h0M265.9 146.5h0M266.3 139.8h0M266.9 141.9h0M266.2 146.0h0M267.1 145.7h0" stroke="#3a1060" stroke-opacity="0.7" stroke-width="1.1" stroke-linecap="round" fill="none"/>
</g></g>
<rect x="233.5" y="105.5" width="65" height="64" fill="none" stroke="#222" stroke-width="1.2"/>
<path d="M65.7,143.2 C60,149 52,155 44,155 C39,155 36.5,152 36.5,148 C36.5,142 38,137 42,136 C46,135 47.3,132 47.3,127 C47.3,124 47,122 46.6,120.5" fill="none" stroke="#2a2a55" stroke-width="0.9"/>
<path d="M44.3,122 L46.5,117.6 L48.9,122 Z" fill="#2a2a55"/>
<path d="M17.6,176 L17.6,39" stroke="#111" stroke-width="1.1" fill="none"/>
<path d="M14.9,41.4 L17.6,34.8 L20.3,41.4 L17.6,39.6 Z" fill="#111"/>
<path d="M17.2,175.3 L296,175.3" stroke="#111" stroke-width="1.1" fill="none"/>
<path d="M293.2,172.6 L300.2,175.3 L293.2,178.0 L295.0,175.3 Z" fill="#111"/>
<text x="6.20" y="32.40" font-size="9" fill="#222" text-anchor="start" font-weight="bold" stroke="#222" stroke-width="0" textLength="22.3" lengthAdjust="spacingAndGlyphs">UMAP 2</text>
<text x="278.20" y="187.50" font-size="9" fill="#222" text-anchor="start" font-weight="bold" stroke="#222" stroke-width="0" textLength="21.8" lengthAdjust="spacingAndGlyphs">UMAP 1</text>
<text x="0.00" y="0.00" font-size="8.6" fill="#222" text-anchor="middle" font-weight="normal" stroke="#222" stroke-width="0.05" transform="translate(14.8,68.4) rotate(-90)" textLength="31" lengthAdjust="spacingAndGlyphs">3 weeks</text>
<text x="0.00" y="0.00" font-size="8.6" fill="#222" text-anchor="middle" font-weight="normal" stroke="#222" stroke-width="0.05" transform="translate(14.8,137.5) rotate(-90)" textLength="35.2" lengthAdjust="spacingAndGlyphs">3 months</text>
<rect x="28.60" y="198.1" width="3.4" height="3.4" fill="#6a7fb8"/>
<text x="35.00" y="202.10" font-size="6.8" fill="#3a3a3a" text-anchor="start" font-weight="normal" stroke="#3a3a3a" stroke-width="0.08" >Pre-pro-B</text>
<rect x="73.00" y="198.1" width="3.4" height="3.4" fill="#8a1a2a"/>
<text x="79.40" y="202.10" font-size="6.8" fill="#3a3a3a" text-anchor="start" font-weight="normal" stroke="#3a3a3a" stroke-width="0.08" >Pro-B</text>
<rect x="105.60" y="198.1" width="3.4" height="3.4" fill="#d8c030"/>
<text x="112.00" y="202.10" font-size="6.8" fill="#3a3a3a" text-anchor="start" font-weight="normal" stroke="#3a3a3a" stroke-width="0.08" >Pre-BI</text>
<rect x="140.60" y="198.1" width="3.4" height="3.4" fill="#5a3a90"/>
<text x="147.00" y="202.10" font-size="6.8" fill="#3a3a3a" text-anchor="start" font-weight="normal" stroke="#3a3a3a" stroke-width="0.08" >Large pre-BII</text>
<rect x="194.40" y="198.1" width="3.4" height="3.4" fill="#d9a0a0"/>
<text x="200.80" y="202.10" font-size="6.8" fill="#3a3a3a" text-anchor="start" font-weight="normal" stroke="#3a3a3a" stroke-width="0.08" >Small pre-BII</text>
<rect x="248.60" y="198.1" width="3.4" height="3.4" fill="#888"/>
<text x="255.00" y="202.10" font-size="6.8" fill="#3a3a3a" text-anchor="start" font-weight="normal" stroke="#3a3a3a" stroke-width="0.08" >Immature-B</text>
<path d="M350.4,41.60000000000001 L350.4,169.9 M349.9,169.4 L511.4,169.4" stroke="#222" stroke-width="1" fill="none"/>
<path d="M347.4,169.4 L350.4,169.4" stroke="#222" stroke-width="0.8"/>
<text x="344.60" y="172.00" font-size="7.3" fill="#333" text-anchor="end" font-weight="normal" stroke="#333" stroke-width="0.2" >0</text>
<path d="M347.4,144.4 L350.4,144.4" stroke="#222" stroke-width="0.8"/>
<text x="344.60" y="147.00" font-size="7.3" fill="#333" text-anchor="end" font-weight="normal" stroke="#333" stroke-width="0.2" >20</text>
<path d="M347.4,119.4 L350.4,119.4" stroke="#222" stroke-width="0.8"/>
<text x="344.60" y="122.00" font-size="7.3" fill="#333" text-anchor="end" font-weight="normal" stroke="#333" stroke-width="0.2" >40</text>
<path d="M347.4,94.4 L350.4,94.4" stroke="#222" stroke-width="0.8"/>
<text x="344.60" y="97.00" font-size="7.3" fill="#333" text-anchor="end" font-weight="normal" stroke="#333" stroke-width="0.2" >60</text>
<path d="M347.4,69.4 L350.4,69.4" stroke="#222" stroke-width="0.8"/>
<text x="344.60" y="72.00" font-size="7.3" fill="#333" text-anchor="end" font-weight="normal" stroke="#333" stroke-width="0.2" >80</text>
<path d="M347.4,44.400000000000006 L350.4,44.400000000000006" stroke="#222" stroke-width="0.8"/>
<text x="344.60" y="47.00" font-size="7.3" fill="#333" text-anchor="end" font-weight="normal" stroke="#333" stroke-width="0.2" >100</text>
<path d="M350.4,169.4 L350.4,171.9" stroke="#222" stroke-width="0.8"/>
<text x="350.40" y="182.20" font-size="7.6" fill="#333" text-anchor="middle" font-weight="normal" stroke="#333" stroke-width="0.2" >0</text>
<path d="M361.0,169.4 L361.0,171.9" stroke="#222" stroke-width="0.8"/>
<text x="361.00" y="182.20" font-size="7.6" fill="#333" text-anchor="middle" font-weight="normal" stroke="#333" stroke-width="0.2" >1</text>
<path d="M371.59999999999997,169.4 L371.59999999999997,171.9" stroke="#222" stroke-width="0.8"/>
<text x="371.60" y="182.20" font-size="7.6" fill="#333" text-anchor="middle" font-weight="normal" stroke="#333" stroke-width="0.2" >2</text>
<path d="M382.2,169.4 L382.2,171.9" stroke="#222" stroke-width="0.8"/>
<text x="382.20" y="182.20" font-size="7.6" fill="#333" text-anchor="middle" font-weight="normal" stroke="#333" stroke-width="0.2" >3</text>
<path d="M392.79999999999995,169.4 L392.79999999999995,171.9" stroke="#222" stroke-width="0.8"/>
<text x="392.80" y="182.20" font-size="7.6" fill="#333" text-anchor="middle" font-weight="normal" stroke="#333" stroke-width="0.2" >4</text>
<path d="M403.4,169.4 L403.4,171.9" stroke="#222" stroke-width="0.8"/>
<text x="403.40" y="182.20" font-size="7.6" fill="#333" text-anchor="middle" font-weight="normal" stroke="#333" stroke-width="0.2" >5</text>
<path d="M414.0,169.4 L414.0,171.9" stroke="#222" stroke-width="0.8"/>
<text x="414.00" y="182.20" font-size="7.6" fill="#333" text-anchor="middle" font-weight="normal" stroke="#333" stroke-width="0.2" >6</text>
<path d="M424.59999999999997,169.4 L424.59999999999997,171.9" stroke="#222" stroke-width="0.8"/>
<text x="424.60" y="182.20" font-size="7.6" fill="#333" text-anchor="middle" font-weight="normal" stroke="#333" stroke-width="0.2" >7</text>
<path d="M435.2,169.4 L435.2,171.9" stroke="#222" stroke-width="0.8"/>
<text x="435.20" y="182.20" font-size="7.6" fill="#333" text-anchor="middle" font-weight="normal" stroke="#333" stroke-width="0.2" >8</text>
<path d="M445.79999999999995,169.4 L445.79999999999995,171.9" stroke="#222" stroke-width="0.8"/>
<text x="445.80" y="182.20" font-size="7.6" fill="#333" text-anchor="middle" font-weight="normal" stroke="#333" stroke-width="0.2" >9</text>
<path d="M456.4,169.4 L456.4,171.9" stroke="#222" stroke-width="0.8"/>
<text x="456.40" y="182.20" font-size="7.6" fill="#333" text-anchor="middle" font-weight="normal" stroke="#333" stroke-width="0.2" >10</text>
<path d="M467.0,169.4 L467.0,171.9" stroke="#222" stroke-width="0.8"/>
<text x="467.00" y="182.20" font-size="7.6" fill="#333" text-anchor="middle" font-weight="normal" stroke="#333" stroke-width="0.2" >11</text>
<path d="M477.59999999999997,169.4 L477.59999999999997,171.9" stroke="#222" stroke-width="0.8"/>
<text x="477.60" y="182.20" font-size="7.6" fill="#333" text-anchor="middle" font-weight="normal" stroke="#333" stroke-width="0.2" >12</text>
<path d="M488.19999999999993,169.4 L488.19999999999993,171.9" stroke="#222" stroke-width="0.8"/>
<text x="488.20" y="182.20" font-size="7.6" fill="#333" text-anchor="middle" font-weight="normal" stroke="#333" stroke-width="0.2" >13</text>
<path d="M498.79999999999995,169.4 L498.79999999999995,171.9" stroke="#222" stroke-width="0.8"/>
<text x="498.80" y="182.20" font-size="7.6" fill="#333" text-anchor="middle" font-weight="normal" stroke="#333" stroke-width="0.2" >14</text>
<path d="M509.4,169.4 L509.4,171.9" stroke="#222" stroke-width="0.8"/>
<text x="509.40" y="182.20" font-size="7.6" fill="#333" text-anchor="middle" font-weight="normal" stroke="#333" stroke-width="0.2" >15</text>
<text x="431.00" y="194.60" font-size="9.4" fill="#222" text-anchor="middle" font-weight="normal" stroke="#222" stroke-width="0.35" textLength="20" lengthAdjust="spacingAndGlyphs">Months</text>
<text x="0.00" y="0.00" font-size="9" fill="#222" text-anchor="middle" font-weight="normal" stroke="#222" stroke-width="0.12" transform="translate(325.9,106.2) rotate(-90)" textLength="29" lengthAdjust="spacingAndGlyphs">% Survival</text>
<path d="M350.4,44.4 L382,44.4 L382,52.2 L393,52.2 L393,54.7 L403.7,54.7 L403.7,59.8 L413.7,59.8 L413.7,62.3 L424.4,62.3 L424.4,64.2 L435.4,64.2 L435.4,69.6 L445,69.6 L445,79.8 L488.3,79.8 L488.3,84.4 L498.5,84.4 L498.5,87.3 " stroke="#46a84e" stroke-width="0.95" fill="none"/>
<path d="M498.5,87.3 L510,87.3" stroke="#46a84e" stroke-width="0.95" stroke-dasharray="2,2" fill="none"/>
<path d="M350.4,44.6 L498.5,44.6" stroke="#d6afc6" stroke-width="0.9" fill="none"/>
<path d="M498.5,44.6 L510,44.6" stroke="#d6afc6" stroke-width="0.9" stroke-dasharray="2,2" fill="none"/>
<path d="M350.4,44.4 L403.7,44.4 L403.7,47.4 L498.5,47.4" stroke="#f0a030" stroke-width="0.9" fill="none"/>
<path d="M498.5,47.4 L510,47.4" stroke="#f0a030" stroke-width="0.9" stroke-dasharray="2,2" fill="none"/>
<path d="M355,137.7 L363.7,137.7" stroke="#ccb4cc" stroke-width="1.4"/>
<text x="366.50" y="140.10" font-size="6.9" fill="#333" text-anchor="start" font-weight="normal" stroke="#333" stroke-width="0.2" >WT (11 mice) &amp; IL7R<tspan font-size="4.5" dy="-2.5">−/−</tspan><tspan dy="2.5"> (7 mice)</tspan></text>
<path d="M355,149.04999999999998 L363.7,149.04999999999998" stroke="#3aa845" stroke-width="1.4"/>
<text x="366.50" y="151.45" font-size="6.9" fill="#333" text-anchor="start" font-weight="normal" stroke="#333" stroke-width="0.2" >PE (50 mice)</text>
<path d="M355,160.39999999999998 L363.7,160.39999999999998" stroke="#f0a030" stroke-width="1.4"/>
<text x="366.50" y="162.80" font-size="6.9" fill="#333" text-anchor="start" font-weight="normal" stroke="#333" stroke-width="0.2" >PE/IL7R<tspan font-size="4.5" dy="-2.5">−/−</tspan><tspan dy="2.5"> (45 mice)</tspan></text>
<rect x="43.80" y="362.30" width="11.0" height="9.00" fill="#bdbdc2"/>
<rect x="58.65" y="364.20" width="11.0" height="7.10" fill="#38a846"/>
<rect x="73.50" y="281.70" width="11.0" height="89.60" fill="#27a0dc"/>
<path d="M79.00,281.70 L79.00,280.20 M76.30,280.20 L81.70,280.20" stroke="#333" stroke-width="0.9" fill="none"/>
<rect x="88.35" y="281.00" width="11.0" height="90.30" fill="#f28b1c"/>
<path d="M41.5,267.40 L41.5,371.80" stroke="#222" stroke-width="1" fill="none"/>
<path d="M41.0,371.30 L102.30,371.30" stroke="#222" stroke-width="1" fill="none"/>
<path d="M49.30,371.30 L49.30,373.90" stroke="#222" stroke-width="0.8" fill="none"/>
<path d="M64.15,371.30 L64.15,373.90" stroke="#222" stroke-width="0.8" fill="none"/>
<path d="M79.00,371.30 L79.00,373.90" stroke="#222" stroke-width="0.8" fill="none"/>
<path d="M93.85,371.30 L93.85,373.90" stroke="#222" stroke-width="0.8" fill="none"/>
<path d="M38.5,371.30 L41.5,371.30" stroke="#222" stroke-width="0.8" fill="none"/>
<text x="36.10" y="373.85" font-size="7.3" fill="#333" text-anchor="end" font-weight="normal" stroke="#333" stroke-width="0.2" >0</text>
<path d="M38.5,351.26 L41.5,351.26" stroke="#222" stroke-width="0.8" fill="none"/>
<text x="36.10" y="353.81" font-size="7.3" fill="#333" text-anchor="end" font-weight="normal" stroke="#333" stroke-width="0.2" >20</text>
<path d="M38.5,331.22 L41.5,331.22" stroke="#222" stroke-width="0.8" fill="none"/>
<text x="36.10" y="333.77" font-size="7.3" fill="#333" text-anchor="end" font-weight="normal" stroke="#333" stroke-width="0.2" >40</text>
<path d="M38.5,311.18 L41.5,311.18" stroke="#222" stroke-width="0.8" fill="none"/>
<text x="36.10" y="313.73" font-size="7.3" fill="#333" text-anchor="end" font-weight="normal" stroke="#333" stroke-width="0.2" >60</text>
<path d="M38.5,291.14 L41.5,291.14" stroke="#222" stroke-width="0.8" fill="none"/>
<text x="36.10" y="293.69" font-size="7.3" fill="#333" text-anchor="end" font-weight="normal" stroke="#333" stroke-width="0.2" >80</text>
<path d="M38.5,271.10 L41.5,271.10" stroke="#222" stroke-width="0.8" fill="none"/>
<text x="36.10" y="273.65" font-size="7.3" fill="#333" text-anchor="end" font-weight="normal" stroke="#333" stroke-width="0.2" >100</text>
<text x="36.00" y="262.60" font-size="7.3" fill="#444" text-anchor="end" font-weight="normal" stroke="#444" stroke-width="0.2" >%</text>
<path d="M49.30,246.40 L49.30,244.40 L93.85,244.40 L93.85,246.40" stroke="#444" stroke-width="1.0" fill="none"/>
<circle cx="67.22" cy="241.30" r="0.88" fill="#2a2a2a"/>
<circle cx="70.12" cy="241.30" r="0.88" fill="#2a2a2a"/>
<circle cx="73.02" cy="241.30" r="0.88" fill="#2a2a2a"/>
<circle cx="75.92" cy="241.30" r="0.88" fill="#2a2a2a"/>
<path d="M79.00,254.60 L93.85,254.60 L93.85,256.60" stroke="#da6286" stroke-width="1.0" fill="none"/>
<path d="M49.30,256.60 L49.30,254.60 L79.00,254.60" stroke="#444" stroke-width="1.0" fill="none"/>
<path d="M77.60,254.80 L80.40,254.80 L79.00,257.40 Z" fill="#333"/>
<circle cx="59.80" cy="251.50" r="0.88" fill="#2a2a2a"/>
<circle cx="62.70" cy="251.50" r="0.88" fill="#2a2a2a"/>
<circle cx="65.60" cy="251.50" r="0.88" fill="#2a2a2a"/>
<circle cx="68.50" cy="251.50" r="0.88" fill="#2a2a2a"/>
<text x="86.42" y="252.60" font-size="7.0" fill="#da6286" text-anchor="middle" font-weight="normal" stroke="#da6286" stroke-width="0.2" >ns</text>
<path d="M64.15,264.60 L93.85,264.60 L93.85,266.60" stroke="#da6286" stroke-width="1.0" fill="none"/>
<path d="M49.30,266.60 L49.30,264.60 L64.15,264.60" stroke="#444" stroke-width="1.0" fill="none"/>
<path d="M62.75,264.80 L65.55,264.80 L64.15,267.40 Z" fill="#333"/>
<text x="56.72" y="262.60" font-size="7.0" fill="#444" text-anchor="middle" font-weight="normal" stroke="#444" stroke-width="0.2" >ns</text>
<circle cx="74.65" cy="261.50" r="0.88" fill="#b04868"/>
<circle cx="77.55" cy="261.50" r="0.88" fill="#b04868"/>
<circle cx="80.45" cy="261.50" r="0.88" fill="#b04868"/>
<circle cx="83.35" cy="261.50" r="0.88" fill="#b04868"/>
<rect x="43.80" y="498.70" width="11.0" height="20.60" fill="#bdbdc2"/>
<path d="M49.30,498.70 L49.30,495.50 M46.60,495.50 L52.00,495.50" stroke="#333" stroke-width="0.9" fill="none"/>
<rect x="58.65" y="504.20" width="11.0" height="15.10" fill="#38a846"/>
<path d="M64.15,504.20 L64.15,501.70 M61.45,501.70 L66.85,501.70" stroke="#333" stroke-width="0.9" fill="none"/>
<rect x="73.50" y="430.00" width="11.0" height="89.30" fill="#27a0dc"/>
<path d="M79.00,430.00 L79.00,429.20 M76.30,429.20 L81.70,429.20" stroke="#333" stroke-width="0.9" fill="none"/>
<rect x="88.35" y="435.50" width="11.0" height="83.80" fill="#f28b1c"/>
<path d="M93.85,435.50 L93.85,433.20 M91.15,433.20 L96.55,433.20" stroke="#333" stroke-width="0.9" fill="none"/>
<path d="M41.5,415.40 L41.5,519.80" stroke="#222" stroke-width="1" fill="none"/>
<path d="M41.0,519.30 L102.30,519.30" stroke="#222" stroke-width="1" fill="none"/>
<path d="M49.30,519.30 L49.30,521.90" stroke="#222" stroke-width="0.8" fill="none"/>
<path d="M64.15,519.30 L64.15,521.90" stroke="#222" stroke-width="0.8" fill="none"/>
<path d="M79.00,519.30 L79.00,521.90" stroke="#222" stroke-width="0.8" fill="none"/>
<path d="M93.85,519.30 L93.85,521.90" stroke="#222" stroke-width="0.8" fill="none"/>
<path d="M38.5,519.30 L41.5,519.30" stroke="#222" stroke-width="0.8" fill="none"/>
<text x="36.10" y="521.85" font-size="7.3" fill="#333" text-anchor="end" font-weight="normal" stroke="#333" stroke-width="0.2" >0</text>
<path d="M38.5,499.28 L41.5,499.28" stroke="#222" stroke-width="0.8" fill="none"/>
<text x="36.10" y="501.83" font-size="7.3" fill="#333" text-anchor="end" font-weight="normal" stroke="#333" stroke-width="0.2" >20</text>
<path d="M38.5,479.26 L41.5,479.26" stroke="#222" stroke-width="0.8" fill="none"/>
<text x="36.10" y="481.81" font-size="7.3" fill="#333" text-anchor="end" font-weight="normal" stroke="#333" stroke-width="0.2" >40</text>
<path d="M38.5,459.24 L41.5,459.24" stroke="#222" stroke-width="0.8" fill="none"/>
<text x="36.10" y="461.79" font-size="7.3" fill="#333" text-anchor="end" font-weight="normal" stroke="#333" stroke-width="0.2" >60</text>
<path d="M38.5,439.22 L41.5,439.22" stroke="#222" stroke-width="0.8" fill="none"/>
<text x="36.10" y="441.77" font-size="7.3" fill="#333" text-anchor="end" font-weight="normal" stroke="#333" stroke-width="0.2" >80</text>
<path d="M38.5,419.20 L41.5,419.20" stroke="#222" stroke-width="0.8" fill="none"/>
<text x="36.10" y="421.75" font-size="7.3" fill="#333" text-anchor="end" font-weight="normal" stroke="#333" stroke-width="0.2" >100</text>
<text x="36.00" y="410.60" font-size="7.3" fill="#444" text-anchor="end" font-weight="normal" stroke="#444" stroke-width="0.2" >%</text>
<path d="M49.30,394.40 L49.30,392.40 L93.85,392.40 L93.85,394.40" stroke="#444" stroke-width="1.0" fill="none"/>
<circle cx="67.22" cy="389.30" r="0.88" fill="#2a2a2a"/>
<circle cx="70.12" cy="389.30" r="0.88" fill="#2a2a2a"/>
<circle cx="73.02" cy="389.30" r="0.88" fill="#2a2a2a"/>
<circle cx="75.92" cy="389.30" r="0.88" fill="#2a2a2a"/>
<path d="M79.00,402.60 L93.85,402.60 L93.85,404.60" stroke="#da6286" stroke-width="1.0" fill="none"/>
<path d="M49.30,404.60 L49.30,402.60 L79.00,402.60" stroke="#444" stroke-width="1.0" fill="none"/>
<path d="M77.60,402.80 L80.40,402.80 L79.00,405.40 Z" fill="#333"/>
<circle cx="59.80" cy="399.50" r="0.88" fill="#2a2a2a"/>
<circle cx="62.70" cy="399.50" r="0.88" fill="#2a2a2a"/>
<circle cx="65.60" cy="399.50" r="0.88" fill="#2a2a2a"/>
<circle cx="68.50" cy="399.50" r="0.88" fill="#2a2a2a"/>
<circle cx="84.97" cy="399.50" r="0.88" fill="#b04868"/>
<circle cx="87.88" cy="399.50" r="0.88" fill="#b04868"/>
<path d="M64.15,412.60 L93.85,412.60 L93.85,414.60" stroke="#da6286" stroke-width="1.0" fill="none"/>
<path d="M49.30,414.60 L49.30,412.60 L64.15,412.60" stroke="#444" stroke-width="1.0" fill="none"/>
<path d="M62.75,412.80 L65.55,412.80 L64.15,415.40 Z" fill="#333"/>
<text x="56.72" y="410.60" font-size="7.0" fill="#444" text-anchor="middle" font-weight="normal" stroke="#444" stroke-width="0.2" >ns</text>
<circle cx="74.65" cy="409.50" r="0.88" fill="#b04868"/>
<circle cx="77.55" cy="409.50" r="0.88" fill="#b04868"/>
<circle cx="80.45" cy="409.50" r="0.88" fill="#b04868"/>
<circle cx="83.35" cy="409.50" r="0.88" fill="#b04868"/>
<text x="73.57" y="234.30" font-size="8.7" fill="#44709a" text-anchor="middle" font-weight="normal" stroke="#44709a" stroke-width="0.2" >Pre-pro-B</text>
<rect x="125.00" y="317.50" width="11.0" height="53.80" fill="#bdbdc2"/>
<path d="M130.50,317.50 L130.50,314.60 M127.80,314.60 L133.20,314.60" stroke="#333" stroke-width="0.9" fill="none"/>
<rect x="139.85" y="304.50" width="11.0" height="66.80" fill="#38a846"/>
<path d="M145.35,304.50 L145.35,302.50 M142.65,302.50 L148.05,302.50" stroke="#333" stroke-width="0.9" fill="none"/>
<rect x="154.70" y="360.50" width="11.0" height="10.80" fill="#27a0dc"/>
<path d="M160.20,360.50 L160.20,359.80 M157.50,359.80 L162.90,359.80" stroke="#333" stroke-width="0.9" fill="none"/>
<rect x="169.55" y="351.30" width="11.0" height="20.00" fill="#f28b1c"/>
<path d="M175.05,351.30 L175.05,348.00 M172.35,348.00 L177.75,348.00" stroke="#333" stroke-width="0.9" fill="none"/>
<rect x="124.20" y="323.20" width="57.55" height="2.30" fill="#fff"/>
<path d="M122.7,267.40 L122.7,323.40 M122.7,325.30 L122.7,371.80" stroke="#222" stroke-width="1" fill="none"/>
<path d="M119.7,323.40 L123.9,323.40 M119.7,325.30 L123.9,325.30" stroke="#222" stroke-width="0.8" fill="none"/>
<path d="M122.2,371.30 L183.50,371.30" stroke="#222" stroke-width="1" fill="none"/>
<path d="M130.50,371.30 L130.50,373.90" stroke="#222" stroke-width="0.8" fill="none"/>
<path d="M145.35,371.30 L145.35,373.90" stroke="#222" stroke-width="0.8" fill="none"/>
<path d="M160.20,371.30 L160.20,373.90" stroke="#222" stroke-width="0.8" fill="none"/>
<path d="M175.05,371.30 L175.05,373.90" stroke="#222" stroke-width="0.8" fill="none"/>
<path d="M119.7,371.30 L122.7,371.30" stroke="#222" stroke-width="0.8" fill="none"/>
<text x="117.30" y="373.85" font-size="7.3" fill="#333" text-anchor="end" font-weight="normal" stroke="#333" stroke-width="0.2" >0</text>
<path d="M119.7,355.97 L122.7,355.97" stroke="#222" stroke-width="0.8" fill="none"/>
<text x="117.30" y="358.52" font-size="7.3" fill="#333" text-anchor="end" font-weight="normal" stroke="#333" stroke-width="0.2" >1</text>
<path d="M119.7,340.63 L122.7,340.63" stroke="#222" stroke-width="0.8" fill="none"/>
<text x="117.30" y="343.18" font-size="7.3" fill="#333" text-anchor="end" font-weight="normal" stroke="#333" stroke-width="0.2" >2</text>
<path d="M119.7,325.30 L122.7,325.30" stroke="#222" stroke-width="0.8" fill="none"/>
<text x="117.30" y="329.85" font-size="7.3" fill="#333" text-anchor="end" font-weight="normal" stroke="#333" stroke-width="0.2" >3</text>
<path d="M119.7,323.40 L122.7,323.40" stroke="#222" stroke-width="0.8" fill="none"/>
<text x="117.30" y="323.85" font-size="7.3" fill="#333" text-anchor="end" font-weight="normal" stroke="#333" stroke-width="0.2" >10</text>
<path d="M119.7,310.88 L122.7,310.88" stroke="#222" stroke-width="0.8" fill="none"/>
<text x="117.30" y="313.43" font-size="7.3" fill="#333" text-anchor="end" font-weight="normal" stroke="#333" stroke-width="0.2" >15</text>
<path d="M119.7,298.35 L122.7,298.35" stroke="#222" stroke-width="0.8" fill="none"/>
<text x="117.30" y="300.90" font-size="7.3" fill="#333" text-anchor="end" font-weight="normal" stroke="#333" stroke-width="0.2" >20</text>
<path d="M119.7,285.82 L122.7,285.82" stroke="#222" stroke-width="0.8" fill="none"/>
<text x="117.30" y="288.38" font-size="7.3" fill="#333" text-anchor="end" font-weight="normal" stroke="#333" stroke-width="0.2" >25</text>
<path d="M119.7,273.30 L122.7,273.30" stroke="#222" stroke-width="0.8" fill="none"/>
<text x="117.30" y="275.85" font-size="7.3" fill="#333" text-anchor="end" font-weight="normal" stroke="#333" stroke-width="0.2" >30</text>
<path d="M130.50,246.40 L130.50,244.40 L175.05,244.40 L175.05,246.40" stroke="#444" stroke-width="1.0" fill="none"/>
<circle cx="148.43" cy="241.30" r="0.88" fill="#2a2a2a"/>
<circle cx="151.33" cy="241.30" r="0.88" fill="#2a2a2a"/>
<circle cx="154.22" cy="241.30" r="0.88" fill="#2a2a2a"/>
<circle cx="157.12" cy="241.30" r="0.88" fill="#2a2a2a"/>
<path d="M160.20,254.60 L175.05,254.60 L175.05,256.60" stroke="#da6286" stroke-width="1.0" fill="none"/>
<path d="M130.50,256.60 L130.50,254.60 L160.20,254.60" stroke="#444" stroke-width="1.0" fill="none"/>
<path d="M158.80,254.80 L161.60,254.80 L160.20,257.40 Z" fill="#333"/>
<circle cx="141.00" cy="251.50" r="0.88" fill="#2a2a2a"/>
<circle cx="143.90" cy="251.50" r="0.88" fill="#2a2a2a"/>
<circle cx="146.80" cy="251.50" r="0.88" fill="#2a2a2a"/>
<circle cx="149.70" cy="251.50" r="0.88" fill="#2a2a2a"/>
<circle cx="166.18" cy="251.50" r="0.88" fill="#b04868"/>
<circle cx="169.07" cy="251.50" r="0.88" fill="#b04868"/>
<path d="M145.35,264.60 L175.05,264.60 L175.05,266.60" stroke="#da6286" stroke-width="1.0" fill="none"/>
<path d="M130.50,266.60 L130.50,264.60 L145.35,264.60" stroke="#444" stroke-width="1.0" fill="none"/>
<path d="M143.95,264.80 L146.75,264.80 L145.35,267.40 Z" fill="#333"/>
<circle cx="136.48" cy="261.50" r="0.88" fill="#2a2a2a"/>
<circle cx="139.38" cy="261.50" r="0.88" fill="#2a2a2a"/>
<circle cx="155.85" cy="261.50" r="0.88" fill="#b04868"/>
<circle cx="158.75" cy="261.50" r="0.88" fill="#b04868"/>
<circle cx="161.65" cy="261.50" r="0.88" fill="#b04868"/>
<circle cx="164.55" cy="261.50" r="0.88" fill="#b04868"/>
<rect x="125.00" y="456.20" width="11.0" height="63.10" fill="#bdbdc2"/>
<path d="M130.50,456.20 L130.50,447.50 M127.80,447.50 L133.20,447.50" stroke="#333" stroke-width="0.9" fill="none"/>
<rect x="139.85" y="437.00" width="11.0" height="82.30" fill="#38a846"/>
<path d="M145.35,437.00 L145.35,430.70 M142.65,430.70 L148.05,430.70" stroke="#333" stroke-width="0.9" fill="none"/>
<rect x="154.70" y="514.20" width="11.0" height="5.10" fill="#27a0dc"/>
<path d="M160.20,514.20 L160.20,513.20 M157.50,513.20 L162.90,513.20" stroke="#333" stroke-width="0.9" fill="none"/>
<rect x="169.55" y="493.70" width="11.0" height="25.60" fill="#f28b1c"/>
<path d="M175.05,493.70 L175.05,492.00 M172.35,492.00 L177.75,492.00" stroke="#333" stroke-width="0.9" fill="none"/>
<rect x="124.20" y="471.20" width="57.55" height="2.30" fill="#fff"/>
<path d="M122.7,415.40 L122.7,471.40 M122.7,473.30 L122.7,519.80" stroke="#222" stroke-width="1" fill="none"/>
<path d="M119.7,471.40 L123.9,471.40 M119.7,473.30 L123.9,473.30" stroke="#222" stroke-width="0.8" fill="none"/>
<path d="M122.2,519.30 L183.50,519.30" stroke="#222" stroke-width="1" fill="none"/>
<path d="M130.50,519.30 L130.50,521.90" stroke="#222" stroke-width="0.8" fill="none"/>
<path d="M145.35,519.30 L145.35,521.90" stroke="#222" stroke-width="0.8" fill="none"/>
<path d="M160.20,519.30 L160.20,521.90" stroke="#222" stroke-width="0.8" fill="none"/>
<path d="M175.05,519.30 L175.05,521.90" stroke="#222" stroke-width="0.8" fill="none"/>
<path d="M119.7,519.30 L122.7,519.30" stroke="#222" stroke-width="0.8" fill="none"/>
<text x="117.30" y="521.85" font-size="7.3" fill="#333" text-anchor="end" font-weight="normal" stroke="#333" stroke-width="0.2" >0</text>
<path d="M119.7,503.97 L122.7,503.97" stroke="#222" stroke-width="0.8" fill="none"/>
<text x="117.30" y="506.52" font-size="7.3" fill="#333" text-anchor="end" font-weight="normal" stroke="#333" stroke-width="0.2" >1</text>
<path d="M119.7,488.63 L122.7,488.63" stroke="#222" stroke-width="0.8" fill="none"/>
<text x="117.30" y="491.18" font-size="7.3" fill="#333" text-anchor="end" font-weight="normal" stroke="#333" stroke-width="0.2" >2</text>
<path d="M119.7,473.30 L122.7,473.30" stroke="#222" stroke-width="0.8" fill="none"/>
<text x="117.30" y="477.85" font-size="7.3" fill="#333" text-anchor="end" font-weight="normal" stroke="#333" stroke-width="0.2" >3</text>
<path d="M119.7,471.40 L122.7,471.40" stroke="#222" stroke-width="0.8" fill="none"/>
<text x="117.30" y="471.85" font-size="7.3" fill="#333" text-anchor="end" font-weight="normal" stroke="#333" stroke-width="0.2" >10</text>
<path d="M119.7,458.88 L122.7,458.88" stroke="#222" stroke-width="0.8" fill="none"/>
<text x="117.30" y="461.43" font-size="7.3" fill="#333" text-anchor="end" font-weight="normal" stroke="#333" stroke-width="0.2" >15</text>
<path d="M119.7,446.35 L122.7,446.35" stroke="#222" stroke-width="0.8" fill="none"/>
<text x="117.30" y="448.90" font-size="7.3" fill="#333" text-anchor="end" font-weight="normal" stroke="#333" stroke-width="0.2" >20</text>
<path d="M119.7,433.82 L122.7,433.82" stroke="#222" stroke-width="0.8" fill="none"/>
<text x="117.30" y="436.38" font-size="7.3" fill="#333" text-anchor="end" font-weight="normal" stroke="#333" stroke-width="0.2" >25</text>
<path d="M119.7,421.30 L122.7,421.30" stroke="#222" stroke-width="0.8" fill="none"/>
<text x="117.30" y="423.85" font-size="7.3" fill="#333" text-anchor="end" font-weight="normal" stroke="#333" stroke-width="0.2" >30</text>
<path d="M130.50,394.40 L130.50,392.40 L175.05,392.40 L175.05,394.40" stroke="#444" stroke-width="1.0" fill="none"/>
<circle cx="149.88" cy="389.30" r="0.88" fill="#2a2a2a"/>
<circle cx="152.78" cy="389.30" r="0.88" fill="#2a2a2a"/>
<circle cx="155.68" cy="389.30" r="0.88" fill="#2a2a2a"/>
<path d="M160.20,402.60 L175.05,402.60 L175.05,404.60" stroke="#da6286" stroke-width="1.0" fill="none"/>
<path d="M130.50,404.60 L130.50,402.60 L160.20,402.60" stroke="#444" stroke-width="1.0" fill="none"/>
<path d="M158.80,402.80 L161.60,402.80 L160.20,405.40 Z" fill="#333"/>
<circle cx="142.45" cy="399.50" r="0.88" fill="#2a2a2a"/>
<circle cx="145.35" cy="399.50" r="0.88" fill="#2a2a2a"/>
<circle cx="148.25" cy="399.50" r="0.88" fill="#2a2a2a"/>
<circle cx="163.28" cy="399.50" r="0.88" fill="#b04868"/>
<circle cx="166.18" cy="399.50" r="0.88" fill="#b04868"/>
<circle cx="169.07" cy="399.50" r="0.88" fill="#b04868"/>
<circle cx="171.97" cy="399.50" r="0.88" fill="#b04868"/>
<path d="M145.35,412.60 L175.05,412.60 L175.05,414.60" stroke="#da6286" stroke-width="1.0" fill="none"/>
<path d="M130.50,414.60 L130.50,412.60 L145.35,412.60" stroke="#444" stroke-width="1.0" fill="none"/>
<path d="M143.95,412.80 L146.75,412.80 L145.35,415.40 Z" fill="#333"/>
<circle cx="136.48" cy="409.50" r="0.88" fill="#2a2a2a"/>
<circle cx="139.38" cy="409.50" r="0.88" fill="#2a2a2a"/>
<circle cx="155.85" cy="409.50" r="0.88" fill="#b04868"/>
<circle cx="158.75" cy="409.50" r="0.88" fill="#b04868"/>
<circle cx="161.65" cy="409.50" r="0.88" fill="#b04868"/>
<circle cx="164.55" cy="409.50" r="0.88" fill="#b04868"/>
<text x="154.78" y="234.30" font-size="8.7" fill="#44709a" text-anchor="middle" font-weight="normal" stroke="#44709a" stroke-width="0.2" >Pro-B</text>
<rect x="207.70" y="310.00" width="11.0" height="61.30" fill="#bdbdc2"/>
<path d="M213.20,310.00 L213.20,307.70 M210.50,307.70 L215.90,307.70" stroke="#333" stroke-width="0.9" fill="none"/>
<rect x="222.55" y="295.80" width="11.0" height="75.50" fill="#38a846"/>
<path d="M228.05,295.80 L228.05,291.80 M225.35,291.80 L230.75,291.80" stroke="#333" stroke-width="0.9" fill="none"/>
<rect x="237.40" y="365.40" width="11.0" height="5.90" fill="#27a0dc"/>
<path d="M242.90,365.40 L242.90,364.50 M240.20,364.50 L245.60,364.50" stroke="#333" stroke-width="0.9" fill="none"/>
<rect x="252.25" y="366.20" width="11.0" height="5.10" fill="#f28b1c"/>
<path d="M257.75,366.20 L257.75,363.00 M255.05,363.00 L260.45,363.00" stroke="#333" stroke-width="0.9" fill="none"/>
<rect x="206.90" y="323.20" width="57.55" height="2.60" fill="#fff"/>
<path d="M205.4,267.40 L205.4,323.40 M205.4,325.60 L205.4,371.80" stroke="#222" stroke-width="1" fill="none"/>
<path d="M202.4,323.40 L206.6,323.40 M202.4,325.60 L206.6,325.60" stroke="#222" stroke-width="0.8" fill="none"/>
<path d="M204.9,371.30 L266.20,371.30" stroke="#222" stroke-width="1" fill="none"/>
<path d="M213.20,371.30 L213.20,373.90" stroke="#222" stroke-width="0.8" fill="none"/>
<path d="M228.05,371.30 L228.05,373.90" stroke="#222" stroke-width="0.8" fill="none"/>
<path d="M242.90,371.30 L242.90,373.90" stroke="#222" stroke-width="0.8" fill="none"/>
<path d="M257.75,371.30 L257.75,373.90" stroke="#222" stroke-width="0.8" fill="none"/>
<path d="M202.4,371.30 L205.4,371.30" stroke="#222" stroke-width="0.8" fill="none"/>
<text x="200.00" y="373.85" font-size="7.3" fill="#333" text-anchor="end" font-weight="normal" stroke="#333" stroke-width="0.2" >0.0</text>
<path d="M202.4,348.45 L205.4,348.45" stroke="#222" stroke-width="0.8" fill="none"/>
<text x="200.00" y="351.00" font-size="7.3" fill="#333" text-anchor="end" font-weight="normal" stroke="#333" stroke-width="0.2" >0.1</text>
<path d="M202.4,325.60 L205.4,325.60" stroke="#222" stroke-width="0.8" fill="none"/>
<text x="200.00" y="330.15" font-size="7.3" fill="#333" text-anchor="end" font-weight="normal" stroke="#333" stroke-width="0.2" >0.2</text>
<path d="M202.4,316.40 L205.4,316.40" stroke="#222" stroke-width="0.8" fill="none"/>
<text x="200.00" y="316.85" font-size="7.3" fill="#333" text-anchor="end" font-weight="normal" stroke="#333" stroke-width="0.2" >2</text>
<path d="M202.4,302.03 L205.4,302.03" stroke="#222" stroke-width="0.8" fill="none"/>
<text x="200.00" y="304.58" font-size="7.3" fill="#333" text-anchor="end" font-weight="normal" stroke="#333" stroke-width="0.2" >4</text>
<path d="M202.4,287.67 L205.4,287.67" stroke="#222" stroke-width="0.8" fill="none"/>
<text x="200.00" y="290.22" font-size="7.3" fill="#333" text-anchor="end" font-weight="normal" stroke="#333" stroke-width="0.2" >6</text>
<path d="M202.4,273.30 L205.4,273.30" stroke="#222" stroke-width="0.8" fill="none"/>
<text x="200.00" y="275.85" font-size="7.3" fill="#333" text-anchor="end" font-weight="normal" stroke="#333" stroke-width="0.2" >8</text>
<path d="M213.20,246.40 L213.20,244.40 L257.75,244.40 L257.75,246.40" stroke="#444" stroke-width="1.0" fill="none"/>
<circle cx="231.13" cy="241.30" r="0.88" fill="#2a2a2a"/>
<circle cx="234.03" cy="241.30" r="0.88" fill="#2a2a2a"/>
<circle cx="236.93" cy="241.30" r="0.88" fill="#2a2a2a"/>
<circle cx="239.83" cy="241.30" r="0.88" fill="#2a2a2a"/>
<path d="M242.90,254.60 L257.75,254.60 L257.75,256.60" stroke="#da6286" stroke-width="1.0" fill="none"/>
<path d="M213.20,256.60 L213.20,254.60 L242.90,254.60" stroke="#444" stroke-width="1.0" fill="none"/>
<path d="M241.50,254.80 L244.30,254.80 L242.90,257.40 Z" fill="#333"/>
<circle cx="223.70" cy="251.50" r="0.88" fill="#2a2a2a"/>
<circle cx="226.60" cy="251.50" r="0.88" fill="#2a2a2a"/>
<circle cx="229.50" cy="251.50" r="0.88" fill="#2a2a2a"/>
<circle cx="232.40" cy="251.50" r="0.88" fill="#2a2a2a"/>
<text x="250.32" y="252.60" font-size="7.0" fill="#da6286" text-anchor="middle" font-weight="normal" stroke="#da6286" stroke-width="0.2" >ns</text>
<path d="M228.05,264.60 L257.75,264.60 L257.75,266.60" stroke="#da6286" stroke-width="1.0" fill="none"/>
<path d="M213.20,266.60 L213.20,264.60 L228.05,264.60" stroke="#444" stroke-width="1.0" fill="none"/>
<path d="M226.65,264.80 L229.45,264.80 L228.05,267.40 Z" fill="#333"/>
<circle cx="220.62" cy="261.50" r="0.88" fill="#2a2a2a"/>
<circle cx="238.55" cy="261.50" r="0.88" fill="#b04868"/>
<circle cx="241.45" cy="261.50" r="0.88" fill="#b04868"/>
<circle cx="244.35" cy="261.50" r="0.88" fill="#b04868"/>
<circle cx="247.25" cy="261.50" r="0.88" fill="#b04868"/>
<rect x="207.70" y="437.50" width="11.0" height="81.80" fill="#bdbdc2"/>
<path d="M213.20,437.50 L213.20,432.50 M210.50,432.50 L215.90,432.50" stroke="#333" stroke-width="0.9" fill="none"/>
<rect x="222.55" y="432.00" width="11.0" height="87.30" fill="#38a846"/>
<path d="M228.05,432.00 L228.05,428.20 M225.35,428.20 L230.75,428.20" stroke="#333" stroke-width="0.9" fill="none"/>
<rect x="237.40" y="511.20" width="11.0" height="8.10" fill="#27a0dc"/>
<path d="M242.90,511.20 L242.90,509.50 M240.20,509.50 L245.60,509.50" stroke="#333" stroke-width="0.9" fill="none"/>
<rect x="252.25" y="501.20" width="11.0" height="18.10" fill="#f28b1c"/>
<path d="M257.75,501.20 L257.75,497.50 M255.05,497.50 L260.45,497.50" stroke="#333" stroke-width="0.9" fill="none"/>
<rect x="206.90" y="470.90" width="57.55" height="2.90" fill="#fff"/>
<path d="M205.4,415.40 L205.4,471.10 M205.4,473.60 L205.4,519.80" stroke="#222" stroke-width="1" fill="none"/>
<path d="M202.4,471.10 L206.6,471.10 M202.4,473.60 L206.6,473.60" stroke="#222" stroke-width="0.8" fill="none"/>
<path d="M204.9,519.30 L266.20,519.30" stroke="#222" stroke-width="1" fill="none"/>
<path d="M213.20,519.30 L213.20,521.90" stroke="#222" stroke-width="0.8" fill="none"/>
<path d="M228.05,519.30 L228.05,521.90" stroke="#222" stroke-width="0.8" fill="none"/>
<path d="M242.90,519.30 L242.90,521.90" stroke="#222" stroke-width="0.8" fill="none"/>
<path d="M257.75,519.30 L257.75,521.90" stroke="#222" stroke-width="0.8" fill="none"/>
<path d="M202.4,519.30 L205.4,519.30" stroke="#222" stroke-width="0.8" fill="none"/>
<text x="200.00" y="521.85" font-size="7.3" fill="#333" text-anchor="end" font-weight="normal" stroke="#333" stroke-width="0.2" >0.0</text>
<path d="M202.4,496.45 L205.4,496.45" stroke="#222" stroke-width="0.8" fill="none"/>
<text x="200.00" y="499.00" font-size="7.3" fill="#333" text-anchor="end" font-weight="normal" stroke="#333" stroke-width="0.2" >0.1</text>
<path d="M202.4,473.60 L205.4,473.60" stroke="#222" stroke-width="0.8" fill="none"/>
<text x="200.00" y="478.15" font-size="7.3" fill="#333" text-anchor="end" font-weight="normal" stroke="#333" stroke-width="0.2" >0.2</text>
<path d="M202.4,463.20 L205.4,463.20" stroke="#222" stroke-width="0.8" fill="none"/>
<text x="200.00" y="463.65" font-size="7.3" fill="#333" text-anchor="end" font-weight="normal" stroke="#333" stroke-width="0.2" >2</text>
<path d="M202.4,448.57 L205.4,448.57" stroke="#222" stroke-width="0.8" fill="none"/>
<text x="200.00" y="451.12" font-size="7.3" fill="#333" text-anchor="end" font-weight="normal" stroke="#333" stroke-width="0.2" >4</text>
<path d="M202.4,433.93 L205.4,433.93" stroke="#222" stroke-width="0.8" fill="none"/>
<text x="200.00" y="436.48" font-size="7.3" fill="#333" text-anchor="end" font-weight="normal" stroke="#333" stroke-width="0.2" >6</text>
<path d="M202.4,419.30 L205.4,419.30" stroke="#222" stroke-width="0.8" fill="none"/>
<text x="200.00" y="421.85" font-size="7.3" fill="#333" text-anchor="end" font-weight="normal" stroke="#333" stroke-width="0.2" >8</text>
<path d="M213.20,394.40 L213.20,392.40 L257.75,392.40 L257.75,394.40" stroke="#444" stroke-width="1.0" fill="none"/>
<circle cx="231.13" cy="389.30" r="0.88" fill="#2a2a2a"/>
<circle cx="234.03" cy="389.30" r="0.88" fill="#2a2a2a"/>
<circle cx="236.93" cy="389.30" r="0.88" fill="#2a2a2a"/>
<circle cx="239.83" cy="389.30" r="0.88" fill="#2a2a2a"/>
<path d="M242.90,402.60 L257.75,402.60 L257.75,404.60" stroke="#da6286" stroke-width="1.0" fill="none"/>
<path d="M213.20,404.60 L213.20,402.60 L242.90,402.60" stroke="#444" stroke-width="1.0" fill="none"/>
<path d="M241.50,402.80 L244.30,402.80 L242.90,405.40 Z" fill="#333"/>
<circle cx="223.70" cy="399.50" r="0.88" fill="#2a2a2a"/>
<circle cx="226.60" cy="399.50" r="0.88" fill="#2a2a2a"/>
<circle cx="229.50" cy="399.50" r="0.88" fill="#2a2a2a"/>
<circle cx="232.40" cy="399.50" r="0.88" fill="#2a2a2a"/>
<circle cx="250.32" cy="399.50" r="0.88" fill="#b04868"/>
<path d="M228.05,412.60 L257.75,412.60 L257.75,414.60" stroke="#da6286" stroke-width="1.0" fill="none"/>
<path d="M213.20,414.60 L213.20,412.60 L228.05,412.60" stroke="#444" stroke-width="1.0" fill="none"/>
<path d="M226.65,412.80 L229.45,412.80 L228.05,415.40 Z" fill="#333"/>
<text x="220.62" y="410.60" font-size="7.0" fill="#444" text-anchor="middle" font-weight="normal" stroke="#444" stroke-width="0.2" >ns</text>
<circle cx="238.55" cy="409.50" r="0.88" fill="#b04868"/>
<circle cx="241.45" cy="409.50" r="0.88" fill="#b04868"/>
<circle cx="244.35" cy="409.50" r="0.88" fill="#b04868"/>
<circle cx="247.25" cy="409.50" r="0.88" fill="#b04868"/>
<text x="237.48" y="234.30" font-size="8.7" fill="#44709a" text-anchor="middle" font-weight="normal" stroke="#44709a" stroke-width="0.2" >Pre-BI</text>
<rect x="288.90" y="297.00" width="11.0" height="74.30" fill="#bdbdc2"/>
<path d="M294.40,297.00 L294.40,296.30 M291.70,296.30 L297.10,296.30" stroke="#333" stroke-width="0.9" fill="none"/>
<rect x="303.75" y="286.30" width="11.0" height="85.00" fill="#38a846"/>
<path d="M309.25,286.30 L309.25,284.00 M306.55,284.00 L311.95,284.00" stroke="#333" stroke-width="0.9" fill="none"/>
<rect x="318.60" y="361.30" width="11.0" height="10.00" fill="#27a0dc"/>
<path d="M324.10,361.30 L324.10,360.00 M321.40,360.00 L326.80,360.00" stroke="#333" stroke-width="0.9" fill="none"/>
<rect x="333.45" y="366.30" width="11.0" height="5.00" fill="#f28b1c"/>
<path d="M338.95,366.30 L338.95,365.00 M336.25,365.00 L341.65,365.00" stroke="#333" stroke-width="0.9" fill="none"/>
<rect x="288.10" y="323.00" width="57.55" height="2.50" fill="#fff"/>
<path d="M286.6,267.40 L286.6,323.20 M286.6,325.30 L286.6,371.80" stroke="#222" stroke-width="1" fill="none"/>
<path d="M283.6,323.20 L287.8,323.20 M283.6,325.30 L287.8,325.30" stroke="#222" stroke-width="0.8" fill="none"/>
<path d="M286.1,371.30 L347.40,371.30" stroke="#222" stroke-width="1" fill="none"/>
<path d="M294.40,371.30 L294.40,373.90" stroke="#222" stroke-width="0.8" fill="none"/>
<path d="M309.25,371.30 L309.25,373.90" stroke="#222" stroke-width="0.8" fill="none"/>
<path d="M324.10,371.30 L324.10,373.90" stroke="#222" stroke-width="0.8" fill="none"/>
<path d="M338.95,371.30 L338.95,373.90" stroke="#222" stroke-width="0.8" fill="none"/>
<path d="M283.6,371.30 L286.6,371.30" stroke="#222" stroke-width="0.8" fill="none"/>
<text x="281.20" y="373.85" font-size="7.3" fill="#333" text-anchor="end" font-weight="normal" stroke="#333" stroke-width="0.2" >0</text>
<path d="M283.6,359.80 L286.6,359.80" stroke="#222" stroke-width="0.8" fill="none"/>
<text x="281.20" y="362.35" font-size="7.3" fill="#333" text-anchor="end" font-weight="normal" stroke="#333" stroke-width="0.2" >1</text>
<path d="M283.6,348.30 L286.6,348.30" stroke="#222" stroke-width="0.8" fill="none"/>
<text x="281.20" y="350.85" font-size="7.3" fill="#333" text-anchor="end" font-weight="normal" stroke="#333" stroke-width="0.2" >2</text>
<path d="M283.6,336.80 L286.6,336.80" stroke="#222" stroke-width="0.8" fill="none"/>
<text x="281.20" y="339.35" font-size="7.3" fill="#333" text-anchor="end" font-weight="normal" stroke="#333" stroke-width="0.2" >3</text>
<path d="M283.6,325.30 L286.6,325.30" stroke="#222" stroke-width="0.8" fill="none"/>
<text x="281.20" y="329.85" font-size="7.3" fill="#333" text-anchor="end" font-weight="normal" stroke="#333" stroke-width="0.2" >4</text>
<path d="M283.6,323.20 L286.6,323.20" stroke="#222" stroke-width="0.8" fill="none"/>
<text x="281.20" y="323.65" font-size="7.3" fill="#333" text-anchor="end" font-weight="normal" stroke="#333" stroke-width="0.2" >5</text>
<path d="M283.6,310.45 L286.6,310.45" stroke="#222" stroke-width="0.8" fill="none"/>
<text x="281.20" y="313.00" font-size="7.3" fill="#333" text-anchor="end" font-weight="normal" stroke="#333" stroke-width="0.2" >10</text>
<path d="M283.6,297.70 L286.6,297.70" stroke="#222" stroke-width="0.8" fill="none"/>
<text x="281.20" y="300.25" font-size="7.3" fill="#333" text-anchor="end" font-weight="normal" stroke="#333" stroke-width="0.2" >15</text>
<path d="M283.6,284.95 L286.6,284.95" stroke="#222" stroke-width="0.8" fill="none"/>
<text x="281.20" y="287.50" font-size="7.3" fill="#333" text-anchor="end" font-weight="normal" stroke="#333" stroke-width="0.2" >20</text>
<path d="M283.6,272.20 L286.6,272.20" stroke="#222" stroke-width="0.8" fill="none"/>
<text x="281.20" y="274.75" font-size="7.3" fill="#333" text-anchor="end" font-weight="normal" stroke="#333" stroke-width="0.2" >25</text>
<path d="M294.40,246.40 L294.40,244.40 L338.95,244.40 L338.95,246.40" stroke="#444" stroke-width="1.0" fill="none"/>
<circle cx="312.33" cy="241.30" r="0.88" fill="#2a2a2a"/>
<circle cx="315.23" cy="241.30" r="0.88" fill="#2a2a2a"/>
<circle cx="318.13" cy="241.30" r="0.88" fill="#2a2a2a"/>
<circle cx="321.03" cy="241.30" r="0.88" fill="#2a2a2a"/>
<path d="M324.10,254.60 L338.95,254.60 L338.95,256.60" stroke="#da6286" stroke-width="1.0" fill="none"/>
<path d="M294.40,256.60 L294.40,254.60 L324.10,254.60" stroke="#444" stroke-width="1.0" fill="none"/>
<path d="M322.70,254.80 L325.50,254.80 L324.10,257.40 Z" fill="#333"/>
<circle cx="304.90" cy="251.50" r="0.88" fill="#2a2a2a"/>
<circle cx="307.80" cy="251.50" r="0.88" fill="#2a2a2a"/>
<circle cx="310.70" cy="251.50" r="0.88" fill="#2a2a2a"/>
<circle cx="313.60" cy="251.50" r="0.88" fill="#2a2a2a"/>
<circle cx="330.08" cy="251.50" r="0.88" fill="#b04868"/>
<circle cx="332.98" cy="251.50" r="0.88" fill="#b04868"/>
<path d="M309.25,264.60 L338.95,264.60 L338.95,266.60" stroke="#da6286" stroke-width="1.0" fill="none"/>
<path d="M294.40,266.60 L294.40,264.60 L309.25,264.60" stroke="#444" stroke-width="1.0" fill="none"/>
<path d="M307.85,264.80 L310.65,264.80 L309.25,267.40 Z" fill="#333"/>
<circle cx="298.93" cy="261.50" r="0.88" fill="#2a2a2a"/>
<circle cx="301.83" cy="261.50" r="0.88" fill="#2a2a2a"/>
<circle cx="304.73" cy="261.50" r="0.88" fill="#2a2a2a"/>
<circle cx="319.75" cy="261.50" r="0.88" fill="#b04868"/>
<circle cx="322.65" cy="261.50" r="0.88" fill="#b04868"/>
<circle cx="325.55" cy="261.50" r="0.88" fill="#b04868"/>
<circle cx="328.45" cy="261.50" r="0.88" fill="#b04868"/>
<rect x="288.90" y="437.00" width="11.0" height="82.30" fill="#bdbdc2"/>
<path d="M294.40,437.00 L294.40,433.20 M291.70,433.20 L297.10,433.20" stroke="#333" stroke-width="0.9" fill="none"/>
<rect x="303.75" y="435.50" width="11.0" height="83.80" fill="#38a846"/>
<path d="M309.25,435.50 L309.25,430.70 M306.55,430.70 L311.95,430.70" stroke="#333" stroke-width="0.9" fill="none"/>
<rect x="318.60" y="492.00" width="11.0" height="27.30" fill="#27a0dc"/>
<path d="M324.10,492.00 L324.10,489.50 M321.40,489.50 L326.80,489.50" stroke="#333" stroke-width="0.9" fill="none"/>
<rect x="333.45" y="478.00" width="11.0" height="41.30" fill="#f28b1c"/>
<path d="M338.95,478.00 L338.95,473.00 M336.25,473.00 L341.65,473.00" stroke="#333" stroke-width="0.9" fill="none"/>
<rect x="288.10" y="470.70" width="57.55" height="2.90" fill="#fff"/>
<path d="M286.6,415.40 L286.6,470.90 M286.6,473.40 L286.6,519.80" stroke="#222" stroke-width="1" fill="none"/>
<path d="M283.6,470.90 L287.8,470.90 M283.6,473.40 L287.8,473.40" stroke="#222" stroke-width="0.8" fill="none"/>
<path d="M286.1,519.30 L347.40,519.30" stroke="#222" stroke-width="1" fill="none"/>
<path d="M294.40,519.30 L294.40,521.90" stroke="#222" stroke-width="0.8" fill="none"/>
<path d="M309.25,519.30 L309.25,521.90" stroke="#222" stroke-width="0.8" fill="none"/>
<path d="M324.10,519.30 L324.10,521.90" stroke="#222" stroke-width="0.8" fill="none"/>
<path d="M338.95,519.30 L338.95,521.90" stroke="#222" stroke-width="0.8" fill="none"/>
<path d="M283.6,519.30 L286.6,519.30" stroke="#222" stroke-width="0.8" fill="none"/>
<text x="281.20" y="521.85" font-size="7.3" fill="#333" text-anchor="end" font-weight="normal" stroke="#333" stroke-width="0.2" >0</text>
<path d="M283.6,507.82 L286.6,507.82" stroke="#222" stroke-width="0.8" fill="none"/>
<text x="281.20" y="510.37" font-size="7.3" fill="#333" text-anchor="end" font-weight="normal" stroke="#333" stroke-width="0.2" >1</text>
<path d="M283.6,496.35 L286.6,496.35" stroke="#222" stroke-width="0.8" fill="none"/>
<text x="281.20" y="498.90" font-size="7.3" fill="#333" text-anchor="end" font-weight="normal" stroke="#333" stroke-width="0.2" >2</text>
<path d="M283.6,484.88 L286.6,484.88" stroke="#222" stroke-width="0.8" fill="none"/>
<text x="281.20" y="487.43" font-size="7.3" fill="#333" text-anchor="end" font-weight="normal" stroke="#333" stroke-width="0.2" >3</text>
<path d="M283.6,473.40 L286.6,473.40" stroke="#222" stroke-width="0.8" fill="none"/>
<text x="281.20" y="477.95" font-size="7.3" fill="#333" text-anchor="end" font-weight="normal" stroke="#333" stroke-width="0.2" >4</text>
<path d="M283.6,470.90 L286.6,470.90" stroke="#222" stroke-width="0.8" fill="none"/>
<text x="281.20" y="471.35" font-size="7.3" fill="#333" text-anchor="end" font-weight="normal" stroke="#333" stroke-width="0.2" >5</text>
<path d="M283.6,458.00 L286.6,458.00" stroke="#222" stroke-width="0.8" fill="none"/>
<text x="281.20" y="460.55" font-size="7.3" fill="#333" text-anchor="end" font-weight="normal" stroke="#333" stroke-width="0.2" >10</text>
<path d="M283.6,445.10 L286.6,445.10" stroke="#222" stroke-width="0.8" fill="none"/>
<text x="281.20" y="447.65" font-size="7.3" fill="#333" text-anchor="end" font-weight="normal" stroke="#333" stroke-width="0.2" >15</text>
<path d="M283.6,432.20 L286.6,432.20" stroke="#222" stroke-width="0.8" fill="none"/>
<text x="281.20" y="434.75" font-size="7.3" fill="#333" text-anchor="end" font-weight="normal" stroke="#333" stroke-width="0.2" >20</text>
<path d="M283.6,419.30 L286.6,419.30" stroke="#222" stroke-width="0.8" fill="none"/>
<text x="281.20" y="421.85" font-size="7.3" fill="#333" text-anchor="end" font-weight="normal" stroke="#333" stroke-width="0.2" >25</text>
<path d="M294.40,394.40 L294.40,392.40 L338.95,392.40 L338.95,394.40" stroke="#444" stroke-width="1.0" fill="none"/>
<circle cx="312.33" cy="389.30" r="0.88" fill="#2a2a2a"/>
<circle cx="315.23" cy="389.30" r="0.88" fill="#2a2a2a"/>
<circle cx="318.13" cy="389.30" r="0.88" fill="#2a2a2a"/>
<circle cx="321.03" cy="389.30" r="0.88" fill="#2a2a2a"/>
<path d="M324.10,402.60 L338.95,402.60 L338.95,404.60" stroke="#da6286" stroke-width="1.0" fill="none"/>
<path d="M294.40,404.60 L294.40,402.60 L324.10,402.60" stroke="#444" stroke-width="1.0" fill="none"/>
<path d="M322.70,402.80 L325.50,402.80 L324.10,405.40 Z" fill="#333"/>
<circle cx="304.90" cy="399.50" r="0.88" fill="#2a2a2a"/>
<circle cx="307.80" cy="399.50" r="0.88" fill="#2a2a2a"/>
<circle cx="310.70" cy="399.50" r="0.88" fill="#2a2a2a"/>
<circle cx="313.60" cy="399.50" r="0.88" fill="#2a2a2a"/>
<circle cx="331.53" cy="399.50" r="0.88" fill="#b04868"/>
<path d="M309.25,412.60 L338.95,412.60 L338.95,414.60" stroke="#da6286" stroke-width="1.0" fill="none"/>
<path d="M294.40,414.60 L294.40,412.60 L309.25,412.60" stroke="#444" stroke-width="1.0" fill="none"/>
<path d="M307.85,412.80 L310.65,412.80 L309.25,415.40 Z" fill="#333"/>
<text x="301.83" y="410.60" font-size="7.0" fill="#444" text-anchor="middle" font-weight="normal" stroke="#444" stroke-width="0.2" >ns</text>
<circle cx="319.75" cy="409.50" r="0.88" fill="#b04868"/>
<circle cx="322.65" cy="409.50" r="0.88" fill="#b04868"/>
<circle cx="325.55" cy="409.50" r="0.88" fill="#b04868"/>
<circle cx="328.45" cy="409.50" r="0.88" fill="#b04868"/>
<text x="318.68" y="234.30" font-size="8.7" fill="#44709a" text-anchor="middle" font-weight="normal" stroke="#44709a" stroke-width="0.2" >Large pre-BII</text>
<rect x="370.00" y="283.10" width="11.0" height="88.20" fill="#bdbdc2"/>
<path d="M375.50,283.10 L375.50,281.40 M372.80,281.40 L378.20,281.40" stroke="#333" stroke-width="0.9" fill="none"/>
<rect x="384.85" y="284.50" width="11.0" height="86.80" fill="#38a846"/>
<path d="M390.35,284.50 L390.35,282.80 M387.65,282.80 L393.05,282.80" stroke="#333" stroke-width="0.9" fill="none"/>
<rect x="399.70" y="335.70" width="11.0" height="35.60" fill="#27a0dc"/>
<path d="M405.20,335.70 L405.20,332.50 M402.50,332.50 L407.90,332.50" stroke="#333" stroke-width="0.9" fill="none"/>
<rect x="414.55" y="334.50" width="11.0" height="36.80" fill="#f28b1c"/>
<path d="M420.05,334.50 L420.05,329.50 M417.35,329.50 L422.75,329.50" stroke="#333" stroke-width="0.9" fill="none"/>
<rect x="369.20" y="323.20" width="57.55" height="2.30" fill="#fff"/>
<path d="M367.7,267.40 L367.7,323.40 M367.7,325.30 L367.7,371.80" stroke="#222" stroke-width="1" fill="none"/>
<path d="M364.7,323.40 L368.9,323.40 M364.7,325.30 L368.9,325.30" stroke="#222" stroke-width="0.8" fill="none"/>
<path d="M367.2,371.30 L428.50,371.30" stroke="#222" stroke-width="1" fill="none"/>
<path d="M375.50,371.30 L375.50,373.90" stroke="#222" stroke-width="0.8" fill="none"/>
<path d="M390.35,371.30 L390.35,373.90" stroke="#222" stroke-width="0.8" fill="none"/>
<path d="M405.20,371.30 L405.20,373.90" stroke="#222" stroke-width="0.8" fill="none"/>
<path d="M420.05,371.30 L420.05,373.90" stroke="#222" stroke-width="0.8" fill="none"/>
<path d="M364.7,371.30 L367.7,371.30" stroke="#222" stroke-width="0.8" fill="none"/>
<text x="362.30" y="373.85" font-size="7.3" fill="#333" text-anchor="end" font-weight="normal" stroke="#333" stroke-width="0.2" >0</text>
<path d="M364.7,355.97 L367.7,355.97" stroke="#222" stroke-width="0.8" fill="none"/>
<text x="362.30" y="358.52" font-size="7.3" fill="#333" text-anchor="end" font-weight="normal" stroke="#333" stroke-width="0.2" >1</text>
<path d="M364.7,340.63 L367.7,340.63" stroke="#222" stroke-width="0.8" fill="none"/>
<text x="362.30" y="343.18" font-size="7.3" fill="#333" text-anchor="end" font-weight="normal" stroke="#333" stroke-width="0.2" >2</text>
<path d="M364.7,325.30 L367.7,325.30" stroke="#222" stroke-width="0.8" fill="none"/>
<text x="362.30" y="329.85" font-size="7.3" fill="#333" text-anchor="end" font-weight="normal" stroke="#333" stroke-width="0.2" >3</text>
<path d="M364.7,323.40 L367.7,323.40" stroke="#222" stroke-width="0.8" fill="none"/>
<text x="362.30" y="323.85" font-size="7.3" fill="#333" text-anchor="end" font-weight="normal" stroke="#333" stroke-width="0.2" >10</text>
<path d="M364.7,306.33 L367.7,306.33" stroke="#222" stroke-width="0.8" fill="none"/>
<text x="362.30" y="308.88" font-size="7.3" fill="#333" text-anchor="end" font-weight="normal" stroke="#333" stroke-width="0.2" >20</text>
<path d="M364.7,289.27 L367.7,289.27" stroke="#222" stroke-width="0.8" fill="none"/>
<text x="362.30" y="291.82" font-size="7.3" fill="#333" text-anchor="end" font-weight="normal" stroke="#333" stroke-width="0.2" >30</text>
<path d="M364.7,272.20 L367.7,272.20" stroke="#222" stroke-width="0.8" fill="none"/>
<text x="362.30" y="274.75" font-size="7.3" fill="#333" text-anchor="end" font-weight="normal" stroke="#333" stroke-width="0.2" >40</text>
<path d="M375.50,246.40 L375.50,244.40 L420.05,244.40 L420.05,246.40" stroke="#444" stroke-width="1.0" fill="none"/>
<circle cx="393.42" cy="241.30" r="0.88" fill="#2a2a2a"/>
<circle cx="396.32" cy="241.30" r="0.88" fill="#2a2a2a"/>
<circle cx="399.22" cy="241.30" r="0.88" fill="#2a2a2a"/>
<circle cx="402.12" cy="241.30" r="0.88" fill="#2a2a2a"/>
<path d="M405.20,254.60 L420.05,254.60 L420.05,256.60" stroke="#da6286" stroke-width="1.0" fill="none"/>
<path d="M375.50,256.60 L375.50,254.60 L405.20,254.60" stroke="#444" stroke-width="1.0" fill="none"/>
<path d="M403.80,254.80 L406.60,254.80 L405.20,257.40 Z" fill="#333"/>
<circle cx="386.00" cy="251.50" r="0.88" fill="#2a2a2a"/>
<circle cx="388.90" cy="251.50" r="0.88" fill="#2a2a2a"/>
<circle cx="391.80" cy="251.50" r="0.88" fill="#2a2a2a"/>
<circle cx="394.70" cy="251.50" r="0.88" fill="#2a2a2a"/>
<text x="412.62" y="252.60" font-size="7.0" fill="#da6286" text-anchor="middle" font-weight="normal" stroke="#da6286" stroke-width="0.2" >ns</text>
<path d="M390.35,264.60 L420.05,264.60 L420.05,266.60" stroke="#da6286" stroke-width="1.0" fill="none"/>
<path d="M375.50,266.60 L375.50,264.60 L390.35,264.60" stroke="#444" stroke-width="1.0" fill="none"/>
<path d="M388.95,264.80 L391.75,264.80 L390.35,267.40 Z" fill="#333"/>
<text x="382.93" y="262.60" font-size="7.0" fill="#444" text-anchor="middle" font-weight="normal" stroke="#444" stroke-width="0.2" >ns</text>
<circle cx="400.85" cy="261.50" r="0.88" fill="#b04868"/>
<circle cx="403.75" cy="261.50" r="0.88" fill="#b04868"/>
<circle cx="406.65" cy="261.50" r="0.88" fill="#b04868"/>
<circle cx="409.55" cy="261.50" r="0.88" fill="#b04868"/>
<rect x="370.00" y="456.20" width="11.0" height="63.10" fill="#bdbdc2"/>
<path d="M375.50,456.20 L375.50,452.50 M372.80,452.50 L378.20,452.50" stroke="#333" stroke-width="0.9" fill="none"/>
<rect x="384.85" y="452.00" width="11.0" height="67.30" fill="#38a846"/>
<path d="M390.35,452.00 L390.35,451.00 M387.65,451.00 L393.05,451.00" stroke="#333" stroke-width="0.9" fill="none"/>
<rect x="399.70" y="510.50" width="11.0" height="8.80" fill="#27a0dc"/>
<path d="M405.20,510.50 L405.20,508.20 M402.50,508.20 L407.90,508.20" stroke="#333" stroke-width="0.9" fill="none"/>
<rect x="414.55" y="510.00" width="11.0" height="9.30" fill="#f28b1c"/>
<path d="M420.05,510.00 L420.05,508.70 M417.35,508.70 L422.75,508.70" stroke="#333" stroke-width="0.9" fill="none"/>
<rect x="369.20" y="471.00" width="57.55" height="2.60" fill="#fff"/>
<path d="M367.7,415.40 L367.7,471.20 M367.7,473.40 L367.7,519.80" stroke="#222" stroke-width="1" fill="none"/>
<path d="M364.7,471.20 L368.9,471.20 M364.7,473.40 L368.9,473.40" stroke="#222" stroke-width="0.8" fill="none"/>
<path d="M367.2,519.30 L428.50,519.30" stroke="#222" stroke-width="1" fill="none"/>
<path d="M375.50,519.30 L375.50,521.90" stroke="#222" stroke-width="0.8" fill="none"/>
<path d="M390.35,519.30 L390.35,521.90" stroke="#222" stroke-width="0.8" fill="none"/>
<path d="M405.20,519.30 L405.20,521.90" stroke="#222" stroke-width="0.8" fill="none"/>
<path d="M420.05,519.30 L420.05,521.90" stroke="#222" stroke-width="0.8" fill="none"/>
<path d="M364.7,519.30 L367.7,519.30" stroke="#222" stroke-width="0.8" fill="none"/>
<text x="362.30" y="521.85" font-size="7.3" fill="#333" text-anchor="end" font-weight="normal" stroke="#333" stroke-width="0.2" >0</text>
<path d="M364.7,504.00 L367.7,504.00" stroke="#222" stroke-width="0.8" fill="none"/>
<text x="362.30" y="506.55" font-size="7.3" fill="#333" text-anchor="end" font-weight="normal" stroke="#333" stroke-width="0.2" >1</text>
<path d="M364.7,488.70 L367.7,488.70" stroke="#222" stroke-width="0.8" fill="none"/>
<text x="362.30" y="491.25" font-size="7.3" fill="#333" text-anchor="end" font-weight="normal" stroke="#333" stroke-width="0.2" >2</text>
<path d="M364.7,473.40 L367.7,473.40" stroke="#222" stroke-width="0.8" fill="none"/>
<text x="362.30" y="477.95" font-size="7.3" fill="#333" text-anchor="end" font-weight="normal" stroke="#333" stroke-width="0.2" >3</text>
<path d="M364.7,471.20 L367.7,471.20" stroke="#222" stroke-width="0.8" fill="none"/>
<text x="362.30" y="471.65" font-size="7.3" fill="#333" text-anchor="end" font-weight="normal" stroke="#333" stroke-width="0.2" >10</text>
<path d="M364.7,453.90 L367.7,453.90" stroke="#222" stroke-width="0.8" fill="none"/>
<text x="362.30" y="456.45" font-size="7.3" fill="#333" text-anchor="end" font-weight="normal" stroke="#333" stroke-width="0.2" >20</text>
<path d="M364.7,436.60 L367.7,436.60" stroke="#222" stroke-width="0.8" fill="none"/>
<text x="362.30" y="439.15" font-size="7.3" fill="#333" text-anchor="end" font-weight="normal" stroke="#333" stroke-width="0.2" >30</text>
<path d="M364.7,419.30 L367.7,419.30" stroke="#222" stroke-width="0.8" fill="none"/>
<text x="362.30" y="421.85" font-size="7.3" fill="#333" text-anchor="end" font-weight="normal" stroke="#333" stroke-width="0.2" >40</text>
<path d="M375.50,394.40 L375.50,392.40 L420.05,392.40 L420.05,394.40" stroke="#444" stroke-width="1.0" fill="none"/>
<circle cx="393.42" cy="389.30" r="0.88" fill="#2a2a2a"/>
<circle cx="396.32" cy="389.30" r="0.88" fill="#2a2a2a"/>
<circle cx="399.22" cy="389.30" r="0.88" fill="#2a2a2a"/>
<circle cx="402.12" cy="389.30" r="0.88" fill="#2a2a2a"/>
<path d="M405.20,402.60 L420.05,402.60 L420.05,404.60" stroke="#da6286" stroke-width="1.0" fill="none"/>
<path d="M375.50,404.60 L375.50,402.60 L405.20,402.60" stroke="#444" stroke-width="1.0" fill="none"/>
<path d="M403.80,402.80 L406.60,402.80 L405.20,405.40 Z" fill="#333"/>
<circle cx="386.00" cy="399.50" r="0.88" fill="#2a2a2a"/>
<circle cx="388.90" cy="399.50" r="0.88" fill="#2a2a2a"/>
<circle cx="391.80" cy="399.50" r="0.88" fill="#2a2a2a"/>
<circle cx="394.70" cy="399.50" r="0.88" fill="#2a2a2a"/>
<text x="412.62" y="400.60" font-size="7.0" fill="#da6286" text-anchor="middle" font-weight="normal" stroke="#da6286" stroke-width="0.2" >ns</text>
<path d="M390.35,412.60 L420.05,412.60 L420.05,414.60" stroke="#da6286" stroke-width="1.0" fill="none"/>
<path d="M375.50,414.60 L375.50,412.60 L390.35,412.60" stroke="#444" stroke-width="1.0" fill="none"/>
<path d="M388.95,412.80 L391.75,412.80 L390.35,415.40 Z" fill="#333"/>
<text x="382.93" y="410.60" font-size="7.0" fill="#444" text-anchor="middle" font-weight="normal" stroke="#444" stroke-width="0.2" >ns</text>
<circle cx="400.85" cy="409.50" r="0.88" fill="#b04868"/>
<circle cx="403.75" cy="409.50" r="0.88" fill="#b04868"/>
<circle cx="406.65" cy="409.50" r="0.88" fill="#b04868"/>
<circle cx="409.55" cy="409.50" r="0.88" fill="#b04868"/>
<text x="399.77" y="234.30" font-size="8.7" fill="#44709a" text-anchor="middle" font-weight="normal" stroke="#44709a" stroke-width="0.2" >Small pre-BII</text>
<rect x="451.60" y="281.80" width="11.0" height="89.50" fill="#bdbdc2"/>
<path d="M457.10,281.80 L457.10,277.70 M454.40,277.70 L459.80,277.70" stroke="#333" stroke-width="0.9" fill="none"/>
<rect x="466.45" y="312.00" width="11.0" height="59.30" fill="#38a846"/>
<path d="M471.95,312.00 L471.95,307.50 M469.25,307.50 L474.65,307.50" stroke="#333" stroke-width="0.9" fill="none"/>
<rect x="481.30" y="350.00" width="11.0" height="21.30" fill="#27a0dc"/>
<path d="M486.80,350.00 L486.80,348.00 M484.10,348.00 L489.50,348.00" stroke="#333" stroke-width="0.9" fill="none"/>
<rect x="496.15" y="353.00" width="11.0" height="18.30" fill="#f28b1c"/>
<path d="M501.65,353.00 L501.65,351.70 M498.95,351.70 L504.35,351.70" stroke="#333" stroke-width="0.9" fill="none"/>
<path d="M449.3,267.40 L449.3,371.80" stroke="#222" stroke-width="1" fill="none"/>
<path d="M448.8,371.30 L510.10,371.30" stroke="#222" stroke-width="1" fill="none"/>
<path d="M457.10,371.30 L457.10,373.90" stroke="#222" stroke-width="0.8" fill="none"/>
<path d="M471.95,371.30 L471.95,373.90" stroke="#222" stroke-width="0.8" fill="none"/>
<path d="M486.80,371.30 L486.80,373.90" stroke="#222" stroke-width="0.8" fill="none"/>
<path d="M501.65,371.30 L501.65,373.90" stroke="#222" stroke-width="0.8" fill="none"/>
<path d="M446.3,371.30 L449.3,371.30" stroke="#222" stroke-width="0.8" fill="none"/>
<text x="443.90" y="373.85" font-size="7.3" fill="#333" text-anchor="end" font-weight="normal" stroke="#333" stroke-width="0.2" >0</text>
<path d="M446.3,338.33 L449.3,338.33" stroke="#222" stroke-width="0.8" fill="none"/>
<text x="443.90" y="340.88" font-size="7.3" fill="#333" text-anchor="end" font-weight="normal" stroke="#333" stroke-width="0.2" >10</text>
<path d="M446.3,305.37 L449.3,305.37" stroke="#222" stroke-width="0.8" fill="none"/>
<text x="443.90" y="307.92" font-size="7.3" fill="#333" text-anchor="end" font-weight="normal" stroke="#333" stroke-width="0.2" >20</text>
<path d="M446.3,272.40 L449.3,272.40" stroke="#222" stroke-width="0.8" fill="none"/>
<text x="443.90" y="274.95" font-size="7.3" fill="#333" text-anchor="end" font-weight="normal" stroke="#333" stroke-width="0.2" >30</text>
<path d="M457.10,246.40 L457.10,244.40 L501.65,244.40 L501.65,246.40" stroke="#444" stroke-width="1.0" fill="none"/>
<circle cx="475.02" cy="241.30" r="0.88" fill="#2a2a2a"/>
<circle cx="477.93" cy="241.30" r="0.88" fill="#2a2a2a"/>
<circle cx="480.82" cy="241.30" r="0.88" fill="#2a2a2a"/>
<circle cx="483.73" cy="241.30" r="0.88" fill="#2a2a2a"/>
<path d="M486.80,254.60 L501.65,254.60 L501.65,256.60" stroke="#da6286" stroke-width="1.0" fill="none"/>
<path d="M457.10,256.60 L457.10,254.60 L486.80,254.60" stroke="#444" stroke-width="1.0" fill="none"/>
<path d="M485.40,254.80 L488.20,254.80 L486.80,257.40 Z" fill="#333"/>
<circle cx="467.60" cy="251.50" r="0.88" fill="#2a2a2a"/>
<circle cx="470.50" cy="251.50" r="0.88" fill="#2a2a2a"/>
<circle cx="473.40" cy="251.50" r="0.88" fill="#2a2a2a"/>
<circle cx="476.30" cy="251.50" r="0.88" fill="#2a2a2a"/>
<text x="494.23" y="252.60" font-size="7.0" fill="#da6286" text-anchor="middle" font-weight="normal" stroke="#da6286" stroke-width="0.2" >ns</text>
<path d="M471.95,264.60 L501.65,264.60 L501.65,266.60" stroke="#da6286" stroke-width="1.0" fill="none"/>
<path d="M457.10,266.60 L457.10,264.60 L471.95,264.60" stroke="#444" stroke-width="1.0" fill="none"/>
<path d="M470.55,264.80 L473.35,264.80 L471.95,267.40 Z" fill="#333"/>
<circle cx="463.08" cy="261.50" r="0.88" fill="#2a2a2a"/>
<circle cx="465.98" cy="261.50" r="0.88" fill="#2a2a2a"/>
<circle cx="482.45" cy="261.50" r="0.88" fill="#b04868"/>
<circle cx="485.35" cy="261.50" r="0.88" fill="#b04868"/>
<circle cx="488.25" cy="261.50" r="0.88" fill="#b04868"/>
<circle cx="491.15" cy="261.50" r="0.88" fill="#b04868"/>
<rect x="451.60" y="450.50" width="11.0" height="68.80" fill="#bdbdc2"/>
<path d="M457.10,450.50 L457.10,443.20 M454.40,443.20 L459.80,443.20" stroke="#333" stroke-width="0.9" fill="none"/>
<rect x="466.45" y="468.70" width="11.0" height="50.60" fill="#38a846"/>
<path d="M471.95,468.70 L471.95,464.50 M469.25,464.50 L474.65,464.50" stroke="#333" stroke-width="0.9" fill="none"/>
<rect x="481.30" y="495.50" width="11.0" height="23.80" fill="#27a0dc"/>
<path d="M486.80,495.50 L486.80,493.20 M484.10,493.20 L489.50,493.20" stroke="#333" stroke-width="0.9" fill="none"/>
<rect x="496.15" y="486.70" width="11.0" height="32.60" fill="#f28b1c"/>
<path d="M501.65,486.70 L501.65,482.50 M498.95,482.50 L504.35,482.50" stroke="#333" stroke-width="0.9" fill="none"/>
<path d="M449.3,415.40 L449.3,519.80" stroke="#222" stroke-width="1" fill="none"/>
<path d="M448.8,519.30 L510.10,519.30" stroke="#222" stroke-width="1" fill="none"/>
<path d="M457.10,519.30 L457.10,521.90" stroke="#222" stroke-width="0.8" fill="none"/>
<path d="M471.95,519.30 L471.95,521.90" stroke="#222" stroke-width="0.8" fill="none"/>
<path d="M486.80,519.30 L486.80,521.90" stroke="#222" stroke-width="0.8" fill="none"/>
<path d="M501.65,519.30 L501.65,521.90" stroke="#222" stroke-width="0.8" fill="none"/>
<path d="M446.3,519.30 L449.3,519.30" stroke="#222" stroke-width="0.8" fill="none"/>
<text x="443.90" y="521.85" font-size="7.3" fill="#333" text-anchor="end" font-weight="normal" stroke="#333" stroke-width="0.2" >0</text>
<path d="M446.3,485.97 L449.3,485.97" stroke="#222" stroke-width="0.8" fill="none"/>
<text x="443.90" y="488.52" font-size="7.3" fill="#333" text-anchor="end" font-weight="normal" stroke="#333" stroke-width="0.2" >10</text>
<path d="M446.3,452.63 L449.3,452.63" stroke="#222" stroke-width="0.8" fill="none"/>
<text x="443.90" y="455.18" font-size="7.3" fill="#333" text-anchor="end" font-weight="normal" stroke="#333" stroke-width="0.2" >20</text>
<path d="M446.3,419.30 L449.3,419.30" stroke="#222" stroke-width="0.8" fill="none"/>
<text x="443.90" y="421.85" font-size="7.3" fill="#333" text-anchor="end" font-weight="normal" stroke="#333" stroke-width="0.2" >30</text>
<path d="M457.10,394.40 L457.10,392.40 L501.65,392.40 L501.65,394.40" stroke="#444" stroke-width="1.0" fill="none"/>
<circle cx="477.93" cy="389.30" r="0.88" fill="#2a2a2a"/>
<circle cx="480.82" cy="389.30" r="0.88" fill="#2a2a2a"/>
<path d="M486.80,402.60 L501.65,402.60 L501.65,404.60" stroke="#da6286" stroke-width="1.0" fill="none"/>
<path d="M457.10,404.60 L457.10,402.60 L486.80,402.60" stroke="#444" stroke-width="1.0" fill="none"/>
<path d="M485.40,402.80 L488.20,402.80 L486.80,405.40 Z" fill="#333"/>
<circle cx="469.05" cy="399.50" r="0.88" fill="#2a2a2a"/>
<circle cx="471.95" cy="399.50" r="0.88" fill="#2a2a2a"/>
<circle cx="474.85" cy="399.50" r="0.88" fill="#2a2a2a"/>
<text x="494.23" y="400.60" font-size="7.0" fill="#da6286" text-anchor="middle" font-weight="normal" stroke="#da6286" stroke-width="0.2" >ns</text>
<path d="M471.95,412.60 L501.65,412.60 L501.65,414.60" stroke="#da6286" stroke-width="1.0" fill="none"/>
<path d="M457.10,414.60 L457.10,412.60 L471.95,412.60" stroke="#444" stroke-width="1.0" fill="none"/>
<path d="M470.55,412.80 L473.35,412.80 L471.95,415.40 Z" fill="#333"/>
<circle cx="464.53" cy="409.50" r="0.88" fill="#2a2a2a"/>
<circle cx="486.80" cy="409.50" r="0.88" fill="#b04868"/>
<text x="481.38" y="234.30" font-size="8.7" fill="#44709a" text-anchor="middle" font-weight="normal" stroke="#44709a" stroke-width="0.2" >Immature-B</text>
<text x="0.00" y="0.00" font-size="8.6" fill="#222" text-anchor="middle" font-weight="normal" stroke="#222" stroke-width="0.2" transform="translate(17.8,319.2) rotate(-90)" textLength="23" lengthAdjust="spacingAndGlyphs">3 weeks</text>
<text x="0.00" y="0.00" font-size="8.6" fill="#222" text-anchor="middle" font-weight="normal" stroke="#222" stroke-width="0.2" transform="translate(17.8,467.1) rotate(-90)" textLength="25" lengthAdjust="spacingAndGlyphs">3 months</text>
<rect x="205" y="528.1" width="6.1" height="5.5" fill="#bdbdc2"/>
<text x="213.60" y="533.40" font-size="7.5" fill="#333" text-anchor="start" font-weight="normal" stroke="#333" stroke-width="0.2" >WT</text>
<rect x="233.8" y="528.1" width="6.1" height="5.5" fill="#38a846"/>
<text x="242.40" y="533.40" font-size="7.5" fill="#333" text-anchor="start" font-weight="normal" stroke="#333" stroke-width="0.2" >PE</text>
<rect x="263" y="528.1" width="6.1" height="5.5" fill="#27a0dc"/>
<text x="271.60" y="533.40" font-size="7.5" fill="#333" text-anchor="start" font-weight="normal" stroke="#333" stroke-width="0.2" >IL7R<tspan font-size="5" dy="-3">−/−</tspan></text>
<rect x="305" y="528.1" width="6.1" height="5.5" fill="#f28b1c"/>
<text x="313.60" y="533.40" font-size="7.5" fill="#333" text-anchor="start" font-weight="normal" stroke="#333" stroke-width="0.2" >PE/IL7R<tspan font-size="5" dy="-3">−/−</tspan></text>
<rect x="0.5" y="0.5" width="519" height="539" fill="none" stroke="#666" stroke-width="1"/>
</svg></body></html>
